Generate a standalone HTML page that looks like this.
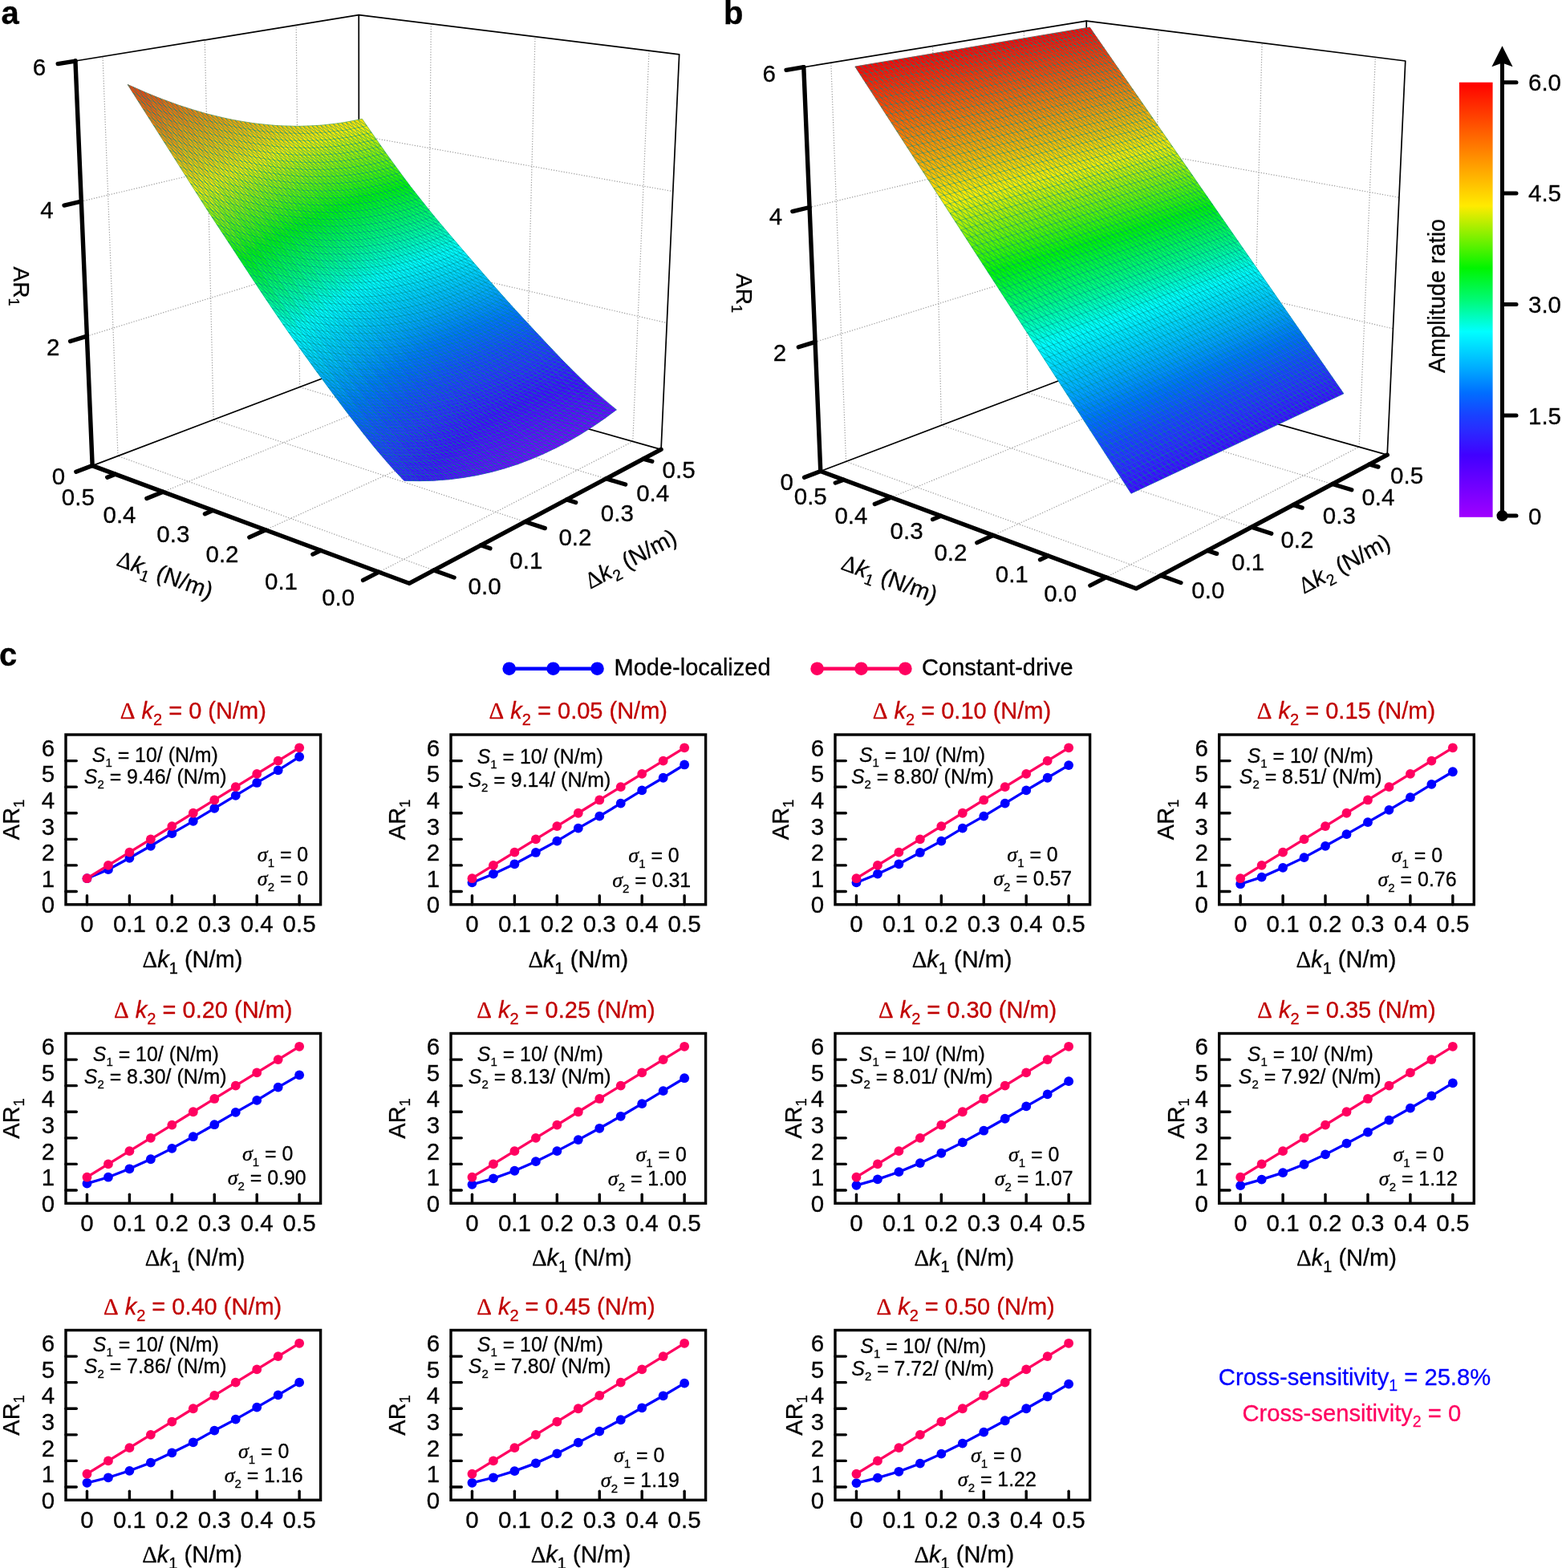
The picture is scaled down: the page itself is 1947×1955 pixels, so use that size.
<!DOCTYPE html>
<html lang="en"><head><meta charset="utf-8"><title>Figure</title>
<style>html,body{margin:0;padding:0;background:#fff}svg{display:block}text{fill:currentColor;stroke:currentColor;stroke-width:.3px}</style></head><body>
<svg width="1947" height="1955" viewBox="0 0 1947 1955" role="img" aria-label="Amplitude ratio surfaces and sensitivity plots">
<rect width="1947" height="1955" fill="#fff"/>
<g stroke="#a0a0a0" stroke-width="1.2" stroke-dasharray="1.3 1.9" fill="none">
<line x1="472.31" y1="713.26" x2="788.79" y2="550.43" />
<line x1="540.76" y1="710.95" x2="147" y2="568.52" />
<line x1="147" y1="568.52" x2="128.07" y2="70.48" />
<line x1="788.79" y1="550.43" x2="809.01" y2="63.26" />
<line x1="330.9" y1="660.73" x2="655.36" y2="512.92" />
<line x1="654.48" y1="650.49" x2="266.16" y2="523.32" />
<line x1="266.16" y1="523.32" x2="255.22" y2="49.84" />
<line x1="655.36" y1="512.92" x2="666.98" y2="45.76" />
<line x1="203.15" y1="613.28" x2="532.93" y2="478.51" />
<line x1="755.44" y1="596.81" x2="373.62" y2="482.55" />
<line x1="373.62" y1="482.55" x2="369.2" y2="31.34" />
<line x1="532.93" y1="478.51" x2="537.31" y2="29.77" />
<line x1="108.37" y1="419.15" x2="447.44" y2="314.22" />
<line x1="447.44" y1="314.22" x2="831.29" y2="402.61" />
<line x1="101.31" y1="251.09" x2="447.34" y2="169.02" />
<line x1="447.34" y1="169.02" x2="838.82" y2="238.59" />
</g>
<g stroke="#000" stroke-width="1.7" fill="none" stroke-linecap="round" stroke-linejoin="round">
<polyline points="93.96,76.02 447.23,18.67 846.66,67.9 824.04,560.34 447.54,454.51 115.16,580.6"/>
<line x1="447.23" y1="18.67" x2="447.54" y2="454.51" />
</g>
<g stroke-width="0.7" stroke-linejoin="round">
<polygon points="503.81,599.3 500.42,595.78 519.41,596.22 522.78,599.67" fill="#3a0dff" stroke="#3a0dff"/>
<polygon points="522.78,599.67 519.41,596.22 538,595.77 541.35,599.14" fill="#4101ff" stroke="#4101ff"/>
<polygon points="541.35,599.14 538,595.77 556.2,594.44 559.54,597.75" fill="#4b00ff" stroke="#4b00ff"/>
<polygon points="559.54,597.75 556.2,594.44 574.05,592.28 577.37,595.51" fill="#5300ff" stroke="#5300ff"/>
<polygon points="577.37,595.51 574.05,592.28 591.54,589.3 594.85,592.47" fill="#5b00ff" stroke="#5b00ff"/>
<polygon points="594.85,592.47 591.54,589.3 608.71,585.53 612,588.63" fill="#6200ff" stroke="#6200ff"/>
<polygon points="612,588.63 608.71,585.53 625.56,580.98 628.83,584.02" fill="#6700ff" stroke="#6700ff"/>
<polygon points="628.83,584.02 625.56,580.98 642.11,575.69 645.36,578.66" fill="#6c00ff" stroke="#6c00ff"/>
<polygon points="645.36,578.66 642.11,575.69 658.37,569.67 661.61,572.57" fill="#6f00ff" stroke="#6f00ff"/>
<polygon points="661.61,572.57 658.37,569.67 674.36,562.93 677.59,565.77" fill="#7100ff" stroke="#7100ff"/>
<polygon points="677.59,565.77 674.36,562.93 690.09,555.5 693.3,558.27" fill="#7200ff" stroke="#7200ff"/>
<polygon points="693.3,558.27 690.09,555.5 705.56,547.39 708.76,550.1" fill="#7200ff" stroke="#7200ff"/>
<polygon points="708.76,550.1 705.56,547.39 720.79,538.62 723.98,541.26" fill="#7000ff" stroke="#7000ff"/>
<polygon points="723.98,541.26 720.79,538.62 735.8,529.19 738.97,531.77" fill="#6e00ff" stroke="#6e00ff"/>
<polygon points="738.97,531.77 735.8,529.19 750.58,519.13 753.74,521.65" fill="#6a00ff" stroke="#6a00ff"/>
<polygon points="753.74,521.65 750.58,519.13 765.16,508.45 768.31,510.9" fill="#6500ff" stroke="#6500ff"/>
<polygon points="500.42,595.78 497.03,592.2 516.04,592.72 519.41,596.22" fill="#3810ff" stroke="#3810ff"/>
<polygon points="519.41,596.22 516.04,592.72 534.65,592.33 538,595.77" fill="#3f04ff" stroke="#3f04ff"/>
<polygon points="538,595.77 534.65,592.33 552.87,591.08 556.2,594.44" fill="#4800ff" stroke="#4800ff"/>
<polygon points="556.2,594.44 552.87,591.08 570.73,588.99 574.05,592.28" fill="#5100ff" stroke="#5100ff"/>
<polygon points="574.05,592.28 570.73,588.99 588.25,586.08 591.54,589.3" fill="#5800ff" stroke="#5800ff"/>
<polygon points="591.54,589.3 588.25,586.08 605.43,582.37 608.71,585.53" fill="#5f00ff" stroke="#5f00ff"/>
<polygon points="608.71,585.53 605.43,582.37 622.3,577.9 625.56,580.98" fill="#6500ff" stroke="#6500ff"/>
<polygon points="625.56,580.98 622.3,577.9 638.86,572.67 642.11,575.69" fill="#6900ff" stroke="#6900ff"/>
<polygon points="642.11,575.69 638.86,572.67 655.14,566.72 658.37,569.67" fill="#6c00ff" stroke="#6c00ff"/>
<polygon points="658.37,569.67 655.14,566.72 671.14,560.05 674.36,562.93" fill="#6e00ff" stroke="#6e00ff"/>
<polygon points="674.36,562.93 671.14,560.05 686.88,552.68 690.09,555.5" fill="#6f00ff" stroke="#6f00ff"/>
<polygon points="690.09,555.5 686.88,552.68 702.37,544.63 705.56,547.39" fill="#6f00ff" stroke="#6f00ff"/>
<polygon points="705.56,547.39 702.37,544.63 717.62,535.92 720.79,538.62" fill="#6e00ff" stroke="#6e00ff"/>
<polygon points="720.79,538.62 717.62,535.92 732.64,526.56 735.8,529.19" fill="#6b00ff" stroke="#6b00ff"/>
<polygon points="735.8,529.19 732.64,526.56 747.43,516.57 750.58,519.13" fill="#6800ff" stroke="#6800ff"/>
<polygon points="750.58,519.13 747.43,516.57 762.02,505.94 765.16,508.45" fill="#6300ff" stroke="#6300ff"/>
<polygon points="497.03,592.2 493.65,588.57 512.68,589.15 516.04,592.72" fill="#3614ff" stroke="#3614ff"/>
<polygon points="516.04,592.72 512.68,589.15 531.3,588.84 534.65,592.33" fill="#3d07ff" stroke="#3d07ff"/>
<polygon points="534.65,592.33 531.3,588.84 549.55,587.66 552.87,591.08" fill="#4500ff" stroke="#4500ff"/>
<polygon points="552.87,591.08 549.55,587.66 567.43,585.64 570.73,588.99" fill="#4e00ff" stroke="#4e00ff"/>
<polygon points="570.73,588.99 567.43,585.64 584.96,582.8 588.25,586.08" fill="#5500ff" stroke="#5500ff"/>
<polygon points="588.25,586.08 584.96,582.8 602.16,579.16 605.43,582.37" fill="#5c00ff" stroke="#5c00ff"/>
<polygon points="605.43,582.37 602.16,579.16 619.04,574.76 622.3,577.9" fill="#6200ff" stroke="#6200ff"/>
<polygon points="622.3,577.9 619.04,574.76 635.63,569.6 638.86,572.67" fill="#6600ff" stroke="#6600ff"/>
<polygon points="638.86,572.67 635.63,569.6 651.92,563.71 655.14,566.72" fill="#6900ff" stroke="#6900ff"/>
<polygon points="655.14,566.72 651.92,563.71 667.93,557.11 671.14,560.05" fill="#6c00ff" stroke="#6c00ff"/>
<polygon points="671.14,560.05 667.93,557.11 683.69,549.81 686.88,552.68" fill="#6d00ff" stroke="#6d00ff"/>
<polygon points="686.88,552.68 683.69,549.81 699.19,541.83 702.37,544.63" fill="#6c00ff" stroke="#6c00ff"/>
<polygon points="702.37,544.63 699.19,541.83 714.45,533.18 717.62,535.92" fill="#6b00ff" stroke="#6b00ff"/>
<polygon points="717.62,535.92 714.45,533.18 729.48,523.89 732.64,526.56" fill="#6900ff" stroke="#6900ff"/>
<polygon points="732.64,526.56 729.48,523.89 744.29,513.96 747.43,516.57" fill="#6500ff" stroke="#6500ff"/>
<polygon points="747.43,516.57 744.29,513.96 758.89,503.4 762.02,505.94" fill="#6000ff" stroke="#6000ff"/>
<polygon points="493.65,588.57 490.28,584.88 509.32,585.54 512.68,589.15" fill="#3417ff" stroke="#3417ff"/>
<polygon points="512.68,589.15 509.32,585.54 527.97,585.3 531.3,588.84" fill="#3b0bff" stroke="#3b0bff"/>
<polygon points="531.3,588.84 527.97,585.3 546.23,584.19 549.55,587.66" fill="#4100ff" stroke="#4100ff"/>
<polygon points="549.55,587.66 546.23,584.19 564.13,582.24 567.43,585.64" fill="#4a00ff" stroke="#4a00ff"/>
<polygon points="567.43,585.64 564.13,582.24 581.68,579.47 584.96,582.8" fill="#5200ff" stroke="#5200ff"/>
<polygon points="584.96,582.8 581.68,579.47 598.9,575.91 602.16,579.16" fill="#5900ff" stroke="#5900ff"/>
<polygon points="602.16,579.16 598.9,575.91 615.8,571.57 619.04,574.76" fill="#5f00ff" stroke="#5f00ff"/>
<polygon points="619.04,574.76 615.8,571.57 632.39,566.48 635.63,569.6" fill="#6300ff" stroke="#6300ff"/>
<polygon points="635.63,569.6 632.39,566.48 648.7,560.66 651.92,563.71" fill="#6700ff" stroke="#6700ff"/>
<polygon points="651.92,563.71 648.7,560.66 664.73,554.13 667.93,557.11" fill="#6900ff" stroke="#6900ff"/>
<polygon points="667.93,557.11 664.73,554.13 680.5,546.89 683.69,549.81" fill="#6a00ff" stroke="#6a00ff"/>
<polygon points="683.69,549.81 680.5,546.89 696.01,538.98 699.19,541.83" fill="#6a00ff" stroke="#6a00ff"/>
<polygon points="699.19,541.83 696.01,538.98 711.29,530.4 714.45,533.18" fill="#6800ff" stroke="#6800ff"/>
<polygon points="714.45,533.18 711.29,530.4 726.33,521.17 729.48,523.89" fill="#6600ff" stroke="#6600ff"/>
<polygon points="729.48,523.89 726.33,521.17 741.15,511.3 744.29,513.96" fill="#6300ff" stroke="#6300ff"/>
<polygon points="744.29,513.96 741.15,511.3 755.77,500.81 758.89,503.4" fill="#5e00ff" stroke="#5e00ff"/>
<polygon points="490.28,584.88 486.91,581.13 505.97,581.87 509.32,585.54" fill="#321bff" stroke="#321bff"/>
<polygon points="509.32,585.54 505.97,581.87 524.64,581.7 527.97,585.3" fill="#390eff" stroke="#390eff"/>
<polygon points="527.97,585.3 524.64,581.7 542.92,580.67 546.23,584.19" fill="#3f03ff" stroke="#3f03ff"/>
<polygon points="546.23,584.19 542.92,580.67 560.84,578.79 564.13,582.24" fill="#4700ff" stroke="#4700ff"/>
<polygon points="564.13,582.24 560.84,578.79 578.4,576.09 581.68,579.47" fill="#4f00ff" stroke="#4f00ff"/>
<polygon points="581.68,579.47 578.4,576.09 595.64,572.6 598.9,575.91" fill="#5600ff" stroke="#5600ff"/>
<polygon points="598.9,575.91 595.64,572.6 612.55,568.34 615.8,571.57" fill="#5c00ff" stroke="#5c00ff"/>
<polygon points="615.8,571.57 612.55,568.34 629.17,563.32 632.39,566.48" fill="#6000ff" stroke="#6000ff"/>
<polygon points="632.39,566.48 629.17,563.32 645.49,557.56 648.7,560.66" fill="#6400ff" stroke="#6400ff"/>
<polygon points="648.7,560.66 645.49,557.56 661.54,551.1 664.73,554.13" fill="#6600ff" stroke="#6600ff"/>
<polygon points="664.73,554.13 661.54,551.1 677.32,543.93 680.5,546.89" fill="#6700ff" stroke="#6700ff"/>
<polygon points="680.5,546.89 677.32,543.93 692.85,536.09 696.01,538.98" fill="#6700ff" stroke="#6700ff"/>
<polygon points="696.01,538.98 692.85,536.09 708.13,527.57 711.29,530.4" fill="#6600ff" stroke="#6600ff"/>
<polygon points="711.29,530.4 708.13,527.57 723.19,518.41 726.33,521.17" fill="#6300ff" stroke="#6300ff"/>
<polygon points="726.33,521.17 723.19,518.41 738.02,508.61 741.15,511.3" fill="#6000ff" stroke="#6000ff"/>
<polygon points="741.15,511.3 738.02,508.61 752.65,498.18 755.77,500.81" fill="#5b00ff" stroke="#5b00ff"/>
<polygon points="486.91,581.13 483.55,577.33 502.63,578.14 505.97,581.87" fill="#301fff" stroke="#301fff"/>
<polygon points="505.97,581.87 502.63,578.14 521.32,578.06 524.64,581.7" fill="#3712ff" stroke="#3712ff"/>
<polygon points="524.64,581.7 521.32,578.06 539.62,577.1 542.92,580.67" fill="#3d07ff" stroke="#3d07ff"/>
<polygon points="542.92,580.67 539.62,577.1 557.55,575.29 560.84,578.79" fill="#4400ff" stroke="#4400ff"/>
<polygon points="560.84,578.79 557.55,575.29 575.13,572.67 578.4,576.09" fill="#4c00ff" stroke="#4c00ff"/>
<polygon points="578.4,576.09 575.13,572.67 592.38,569.25 595.64,572.6" fill="#5300ff" stroke="#5300ff"/>
<polygon points="595.64,572.6 592.38,569.25 609.32,565.05 612.55,568.34" fill="#5900ff" stroke="#5900ff"/>
<polygon points="612.55,568.34 609.32,565.05 625.95,560.11 629.17,563.32" fill="#5d00ff" stroke="#5d00ff"/>
<polygon points="629.17,563.32 625.95,560.11 642.28,554.42 645.49,557.56" fill="#6100ff" stroke="#6100ff"/>
<polygon points="645.49,557.56 642.28,554.42 658.35,548.03 661.54,551.1" fill="#6300ff" stroke="#6300ff"/>
<polygon points="661.54,551.1 658.35,548.03 674.14,540.93 677.32,543.93" fill="#6400ff" stroke="#6400ff"/>
<polygon points="677.32,543.93 674.14,540.93 689.68,533.15 692.85,536.09" fill="#6400ff" stroke="#6400ff"/>
<polygon points="692.85,536.09 689.68,533.15 704.98,524.71 708.13,527.57" fill="#6300ff" stroke="#6300ff"/>
<polygon points="708.13,527.57 704.98,524.71 720.05,515.61 723.19,518.41" fill="#6100ff" stroke="#6100ff"/>
<polygon points="723.19,518.41 720.05,515.61 734.9,505.87 738.02,508.61" fill="#5d00ff" stroke="#5d00ff"/>
<polygon points="738.02,508.61 734.9,505.87 749.54,495.51 752.65,498.18" fill="#5900ff" stroke="#5900ff"/>
<polygon points="483.55,577.33 480.19,573.48 499.3,574.37 502.63,578.14" fill="#2e23ff" stroke="#2e23ff"/>
<polygon points="502.63,578.14 499.3,574.37 518,574.36 521.32,578.06" fill="#3516ff" stroke="#3516ff"/>
<polygon points="521.32,578.06 518,574.36 536.32,573.48 539.62,577.1" fill="#3b0aff" stroke="#3b0aff"/>
<polygon points="539.62,577.1 536.32,573.48 554.27,571.75 557.55,575.29" fill="#4100ff" stroke="#4100ff"/>
<polygon points="557.55,575.29 554.27,571.75 571.87,569.2 575.13,572.67" fill="#4900ff" stroke="#4900ff"/>
<polygon points="575.13,572.67 571.87,569.2 589.14,565.85 592.38,569.25" fill="#5000ff" stroke="#5000ff"/>
<polygon points="592.38,569.25 589.14,565.85 606.09,561.73 609.32,565.05" fill="#5500ff" stroke="#5500ff"/>
<polygon points="609.32,565.05 606.09,561.73 622.73,556.85 625.95,560.11" fill="#5a00ff" stroke="#5a00ff"/>
<polygon points="625.95,560.11 622.73,556.85 639.09,551.24 642.28,554.42" fill="#5e00ff" stroke="#5e00ff"/>
<polygon points="642.28,554.42 639.09,551.24 655.16,544.91 658.35,548.03" fill="#6000ff" stroke="#6000ff"/>
<polygon points="658.35,548.03 655.16,544.91 670.97,537.88 674.14,540.93" fill="#6100ff" stroke="#6100ff"/>
<polygon points="674.14,540.93 670.97,537.88 686.53,530.17 689.68,533.15" fill="#6100ff" stroke="#6100ff"/>
<polygon points="689.68,533.15 686.53,530.17 701.84,521.8 704.98,524.71" fill="#6000ff" stroke="#6000ff"/>
<polygon points="704.98,524.71 701.84,521.8 716.92,512.77 720.05,515.61" fill="#5e00ff" stroke="#5e00ff"/>
<polygon points="720.05,515.61 716.92,512.77 731.78,503.1 734.9,505.87" fill="#5a00ff" stroke="#5a00ff"/>
<polygon points="734.9,505.87 731.78,503.1 746.43,492.8 749.54,495.51" fill="#5600ff" stroke="#5600ff"/>
<polygon points="480.19,573.48 476.84,569.59 495.97,570.56 499.3,574.37" fill="#2c26ff" stroke="#2c26ff"/>
<polygon points="499.3,574.37 495.97,570.56 514.69,570.62 518,574.36" fill="#331aff" stroke="#331aff"/>
<polygon points="518,574.36 514.69,570.62 533.02,569.82 536.32,573.48" fill="#390eff" stroke="#390eff"/>
<polygon points="536.32,573.48 533.02,569.82 550.99,568.16 554.27,571.75" fill="#3f04ff" stroke="#3f04ff"/>
<polygon points="554.27,571.75 550.99,568.16 568.61,565.69 571.87,569.2" fill="#4500ff" stroke="#4500ff"/>
<polygon points="571.87,569.2 568.61,565.69 585.9,562.41 589.14,565.85" fill="#4c00ff" stroke="#4c00ff"/>
<polygon points="589.14,565.85 585.9,562.41 602.87,558.36 606.09,561.73" fill="#5200ff" stroke="#5200ff"/>
<polygon points="606.09,561.73 602.87,558.36 619.53,553.56 622.73,556.85" fill="#5700ff" stroke="#5700ff"/>
<polygon points="622.73,556.85 619.53,553.56 635.9,548.02 639.09,551.24" fill="#5a00ff" stroke="#5a00ff"/>
<polygon points="639.09,551.24 635.9,548.02 651.99,541.76 655.16,544.91" fill="#5d00ff" stroke="#5d00ff"/>
<polygon points="655.16,544.91 651.99,541.76 667.81,534.8 670.97,537.88" fill="#5e00ff" stroke="#5e00ff"/>
<polygon points="670.97,537.88 667.81,534.8 683.38,527.16 686.53,530.17" fill="#5e00ff" stroke="#5e00ff"/>
<polygon points="686.53,530.17 683.38,527.16 698.71,518.85 701.84,521.8" fill="#5d00ff" stroke="#5d00ff"/>
<polygon points="701.84,521.8 698.71,518.85 713.8,509.89 716.92,512.77" fill="#5b00ff" stroke="#5b00ff"/>
<polygon points="716.92,512.77 713.8,509.89 728.67,500.29 731.78,503.1" fill="#5800ff" stroke="#5800ff"/>
<polygon points="731.78,503.1 728.67,500.29 743.33,490.06 746.43,492.8" fill="#5300ff" stroke="#5300ff"/>
<polygon points="476.84,569.59 473.49,565.65 492.64,566.7 495.97,570.56" fill="#292aff" stroke="#292aff"/>
<polygon points="495.97,570.56 492.64,566.7 511.38,566.84 514.69,570.62" fill="#311eff" stroke="#311eff"/>
<polygon points="514.69,570.62 511.38,566.84 529.74,566.11 533.02,569.82" fill="#3712ff" stroke="#3712ff"/>
<polygon points="533.02,569.82 529.74,566.11 547.73,564.53 550.99,568.16" fill="#3d08ff" stroke="#3d08ff"/>
<polygon points="550.99,568.16 547.73,564.53 565.36,562.13 568.61,565.69" fill="#4200ff" stroke="#4200ff"/>
<polygon points="568.61,565.69 565.36,562.13 582.67,558.93 585.9,562.41" fill="#4900ff" stroke="#4900ff"/>
<polygon points="585.9,562.41 582.67,558.93 599.65,554.95 602.87,558.36" fill="#4f00ff" stroke="#4f00ff"/>
<polygon points="602.87,558.36 599.65,554.95 616.32,550.22 619.53,553.56" fill="#5400ff" stroke="#5400ff"/>
<polygon points="619.53,553.56 616.32,550.22 632.71,544.75 635.9,548.02" fill="#5700ff" stroke="#5700ff"/>
<polygon points="635.9,548.02 632.71,544.75 648.82,538.57 651.99,541.76" fill="#5a00ff" stroke="#5a00ff"/>
<polygon points="651.99,541.76 648.82,538.57 664.65,531.68 667.81,534.8" fill="#5b00ff" stroke="#5b00ff"/>
<polygon points="667.81,534.8 664.65,531.68 680.24,524.11 683.38,527.16" fill="#5b00ff" stroke="#5b00ff"/>
<polygon points="683.38,527.16 680.24,524.11 695.58,515.87 698.71,518.85" fill="#5a00ff" stroke="#5a00ff"/>
<polygon points="698.71,518.85 695.58,515.87 710.69,506.97 713.8,509.89" fill="#5800ff" stroke="#5800ff"/>
<polygon points="713.8,509.89 710.69,506.97 725.57,497.44 728.67,500.29" fill="#5500ff" stroke="#5500ff"/>
<polygon points="728.67,500.29 725.57,497.44 740.24,487.28 743.33,490.06" fill="#5000ff" stroke="#5000ff"/>
<polygon points="473.49,565.65 470.16,561.67 489.32,562.8 492.64,566.7" fill="#272eff" stroke="#272eff"/>
<polygon points="492.64,566.7 489.32,562.8 508.08,563.02 511.38,566.84" fill="#2e22ff" stroke="#2e22ff"/>
<polygon points="511.38,566.84 508.08,563.02 526.46,562.37 529.74,566.11" fill="#3516ff" stroke="#3516ff"/>
<polygon points="529.74,566.11 526.46,562.37 544.46,560.86 547.73,564.53" fill="#3b0cff" stroke="#3b0cff"/>
<polygon points="547.73,564.53 544.46,560.86 562.12,558.54 565.36,562.13" fill="#4003ff" stroke="#4003ff"/>
<polygon points="565.36,562.13 562.12,558.54 579.44,555.41 582.67,558.93" fill="#4600ff" stroke="#4600ff"/>
<polygon points="582.67,558.93 579.44,555.41 596.44,551.51 599.65,554.95" fill="#4c00ff" stroke="#4c00ff"/>
<polygon points="599.65,554.95 596.44,551.51 613.13,546.85 616.32,550.22" fill="#5000ff" stroke="#5000ff"/>
<polygon points="616.32,550.22 613.13,546.85 629.53,541.45 632.71,544.75" fill="#5400ff" stroke="#5400ff"/>
<polygon points="632.71,544.75 629.53,541.45 645.65,535.34 648.82,538.57" fill="#5600ff" stroke="#5600ff"/>
<polygon points="648.82,538.57 645.65,535.34 661.5,528.52 664.65,531.68" fill="#5800ff" stroke="#5800ff"/>
<polygon points="664.65,531.68 661.5,528.52 677.1,521.02 680.24,524.11" fill="#5800ff" stroke="#5800ff"/>
<polygon points="680.24,524.11 677.1,521.02 692.46,512.85 695.58,515.87" fill="#5700ff" stroke="#5700ff"/>
<polygon points="695.58,515.87 692.46,512.85 707.58,504.02 710.69,506.97" fill="#5500ff" stroke="#5500ff"/>
<polygon points="710.69,506.97 707.58,504.02 722.47,494.56 725.57,497.44" fill="#5200ff" stroke="#5200ff"/>
<polygon points="725.57,497.44 722.47,494.56 737.16,484.46 740.24,487.28" fill="#4d00ff" stroke="#4d00ff"/>
<polygon points="470.16,561.67 466.82,557.65 486.01,558.85 489.32,562.8" fill="#2432ff" stroke="#2432ff"/>
<polygon points="489.32,562.8 486.01,558.85 504.79,559.16 508.08,563.02" fill="#2c26ff" stroke="#2c26ff"/>
<polygon points="508.08,563.02 504.79,559.16 523.18,558.58 526.46,562.37" fill="#331aff" stroke="#331aff"/>
<polygon points="526.46,562.37 523.18,558.58 541.21,557.16 544.46,560.86" fill="#3810ff" stroke="#3810ff"/>
<polygon points="544.46,560.86 541.21,557.16 558.88,554.91 562.12,558.54" fill="#3d07ff" stroke="#3d07ff"/>
<polygon points="562.12,558.54 558.88,554.91 576.22,551.86 579.44,555.41" fill="#4200ff" stroke="#4200ff"/>
<polygon points="579.44,555.41 576.22,551.86 593.23,548.03 596.44,551.51" fill="#4800ff" stroke="#4800ff"/>
<polygon points="596.44,551.51 593.23,548.03 609.94,543.44 613.13,546.85" fill="#4d00ff" stroke="#4d00ff"/>
<polygon points="613.13,546.85 609.94,543.44 626.36,538.12 629.53,541.45" fill="#5100ff" stroke="#5100ff"/>
<polygon points="629.53,541.45 626.36,538.12 642.49,532.07 645.65,535.34" fill="#5300ff" stroke="#5300ff"/>
<polygon points="645.65,535.34 642.49,532.07 658.36,525.33 661.5,528.52" fill="#5500ff" stroke="#5500ff"/>
<polygon points="661.5,528.52 658.36,525.33 673.97,517.9 677.1,521.02" fill="#5500ff" stroke="#5500ff"/>
<polygon points="677.1,521.02 673.97,517.9 689.34,509.8 692.46,512.85" fill="#5400ff" stroke="#5400ff"/>
<polygon points="692.46,512.85 689.34,509.8 704.47,501.04 707.58,504.02" fill="#5200ff" stroke="#5200ff"/>
<polygon points="707.58,504.02 704.47,501.04 719.38,491.64 722.47,494.56" fill="#4f00ff" stroke="#4f00ff"/>
<polygon points="722.47,494.56 719.38,491.64 734.08,481.61 737.16,484.46" fill="#4a00ff" stroke="#4a00ff"/>
<polygon points="466.82,557.65 463.49,553.59 482.7,554.87 486.01,558.85" fill="#2235ff" stroke="#2235ff"/>
<polygon points="486.01,558.85 482.7,554.87 501.5,555.26 504.79,559.16" fill="#2a2aff" stroke="#2a2aff"/>
<polygon points="504.79,559.16 501.5,555.26 519.91,554.76 523.18,558.58" fill="#301eff" stroke="#301eff"/>
<polygon points="523.18,558.58 519.91,554.76 537.96,553.41 541.21,557.16" fill="#3614ff" stroke="#3614ff"/>
<polygon points="541.21,557.16 537.96,553.41 555.65,551.24 558.88,554.91" fill="#3b0aff" stroke="#3b0aff"/>
<polygon points="558.88,554.91 555.65,551.24 573,548.27 576.22,551.86" fill="#4003ff" stroke="#4003ff"/>
<polygon points="576.22,551.86 573,548.27 590.03,544.51 593.23,548.03" fill="#4500ff" stroke="#4500ff"/>
<polygon points="593.23,548.03 590.03,544.51 606.76,540 609.94,543.44" fill="#4a00ff" stroke="#4a00ff"/>
<polygon points="609.94,543.44 606.76,540 623.19,534.75 626.36,538.12" fill="#4d00ff" stroke="#4d00ff"/>
<polygon points="626.36,538.12 623.19,534.75 639.34,528.78 642.49,532.07" fill="#5000ff" stroke="#5000ff"/>
<polygon points="642.49,532.07 639.34,528.78 655.22,522.1 658.36,525.33" fill="#5100ff" stroke="#5100ff"/>
<polygon points="658.36,525.33 655.22,522.1 670.85,514.74 673.97,517.9" fill="#5200ff" stroke="#5200ff"/>
<polygon points="673.97,517.9 670.85,514.74 686.23,506.71 689.34,509.8" fill="#5100ff" stroke="#5100ff"/>
<polygon points="689.34,509.8 686.23,506.71 701.37,498.02 704.47,501.04" fill="#4f00ff" stroke="#4f00ff"/>
<polygon points="704.47,501.04 701.37,498.02 716.3,488.7 719.38,491.64" fill="#4c00ff" stroke="#4c00ff"/>
<polygon points="719.38,491.64 716.3,488.7 731,478.74 734.08,481.61" fill="#4700ff" stroke="#4700ff"/>
<polygon points="463.49,553.59 460.17,549.49 479.4,550.86 482.7,554.87" fill="#1f39ff" stroke="#1f39ff"/>
<polygon points="482.7,554.87 479.4,550.86 498.22,551.32 501.5,555.26" fill="#272eff" stroke="#272eff"/>
<polygon points="501.5,555.26 498.22,551.32 516.65,550.91 519.91,554.76" fill="#2e22ff" stroke="#2e22ff"/>
<polygon points="519.91,554.76 516.65,550.91 534.71,549.64 537.96,553.41" fill="#3418ff" stroke="#3418ff"/>
<polygon points="537.96,553.41 534.71,549.64 552.42,547.54 555.65,551.24" fill="#390eff" stroke="#390eff"/>
<polygon points="555.65,551.24 552.42,547.54 569.79,544.64 573,548.27" fill="#3d06ff" stroke="#3d06ff"/>
<polygon points="573,548.27 569.79,544.64 586.84,540.96 590.03,544.51" fill="#4100ff" stroke="#4100ff"/>
<polygon points="590.03,544.51 586.84,540.96 603.58,536.52 606.76,540" fill="#4600ff" stroke="#4600ff"/>
<polygon points="606.76,540 603.58,536.52 620.03,531.35 623.19,534.75" fill="#4a00ff" stroke="#4a00ff"/>
<polygon points="623.19,534.75 620.03,531.35 636.19,525.45 639.34,528.78" fill="#4d00ff" stroke="#4d00ff"/>
<polygon points="639.34,528.78 636.19,525.45 652.09,518.85 655.22,522.1" fill="#4e00ff" stroke="#4e00ff"/>
<polygon points="655.22,522.1 652.09,518.85 667.73,511.56 670.85,514.74" fill="#4e00ff" stroke="#4e00ff"/>
<polygon points="670.85,514.74 667.73,511.56 683.12,503.6 686.23,506.71" fill="#4e00ff" stroke="#4e00ff"/>
<polygon points="686.23,506.71 683.12,503.6 698.28,494.98 701.37,498.02" fill="#4c00ff" stroke="#4c00ff"/>
<polygon points="701.37,498.02 698.28,494.98 713.22,485.72 716.3,488.7" fill="#4900ff" stroke="#4900ff"/>
<polygon points="716.3,488.7 713.22,485.72 727.93,475.83 731,478.74" fill="#4400ff" stroke="#4400ff"/>
<polygon points="460.17,549.49 456.86,545.36 476.1,546.81 479.4,550.86" fill="#1c3dff" stroke="#1c3dff"/>
<polygon points="479.4,550.86 476.1,546.81 494.94,547.36 498.22,551.32" fill="#2531ff" stroke="#2531ff"/>
<polygon points="498.22,551.32 494.94,547.36 513.39,547.02 516.65,550.91" fill="#2c26ff" stroke="#2c26ff"/>
<polygon points="516.65,550.91 513.39,547.02 531.47,545.83 534.71,549.64" fill="#321cff" stroke="#321cff"/>
<polygon points="534.71,549.64 531.47,545.83 549.2,543.81 552.42,547.54" fill="#3713ff" stroke="#3713ff"/>
<polygon points="552.42,547.54 549.2,543.81 566.59,540.99 569.79,544.64" fill="#3b0aff" stroke="#3b0aff"/>
<polygon points="569.79,544.64 566.59,540.99 583.65,537.38 586.84,540.96" fill="#3f04ff" stroke="#3f04ff"/>
<polygon points="586.84,540.96 583.65,537.38 600.41,533.02 603.58,536.52" fill="#4300ff" stroke="#4300ff"/>
<polygon points="603.58,536.52 600.41,533.02 616.87,527.92 620.03,531.35" fill="#4600ff" stroke="#4600ff"/>
<polygon points="620.03,531.35 616.87,527.92 633.05,522.09 636.19,525.45" fill="#4900ff" stroke="#4900ff"/>
<polygon points="636.19,525.45 633.05,522.09 648.96,515.56 652.09,518.85" fill="#4b00ff" stroke="#4b00ff"/>
<polygon points="652.09,518.85 648.96,515.56 664.62,508.34 667.73,511.56" fill="#4b00ff" stroke="#4b00ff"/>
<polygon points="667.73,511.56 664.62,508.34 680.02,500.45 683.12,503.6" fill="#4a00ff" stroke="#4a00ff"/>
<polygon points="683.12,503.6 680.02,500.45 695.2,491.91 698.28,494.98" fill="#4800ff" stroke="#4800ff"/>
<polygon points="698.28,494.98 695.2,491.91 710.14,482.72 713.22,485.72" fill="#4500ff" stroke="#4500ff"/>
<polygon points="713.22,485.72 710.14,482.72 724.87,472.9 727.93,475.83" fill="#4100ff" stroke="#4100ff"/>
<polygon points="456.86,545.36 453.54,541.2 472.81,542.74 476.1,546.81" fill="#1940ff" stroke="#1940ff"/>
<polygon points="476.1,546.81 472.81,542.74 491.67,543.36 494.94,547.36" fill="#2235ff" stroke="#2235ff"/>
<polygon points="494.94,547.36 491.67,543.36 510.14,543.1 513.39,547.02" fill="#292bff" stroke="#292bff"/>
<polygon points="513.39,547.02 510.14,543.1 528.24,541.99 531.47,545.83" fill="#2f20ff" stroke="#2f20ff"/>
<polygon points="531.47,545.83 528.24,541.99 545.98,540.05 549.2,543.81" fill="#3417ff" stroke="#3417ff"/>
<polygon points="549.2,543.81 545.98,540.05 563.39,537.3 566.59,540.99" fill="#390fff" stroke="#390fff"/>
<polygon points="566.59,540.99 563.39,537.3 580.47,533.78 583.65,537.38" fill="#3d08ff" stroke="#3d08ff"/>
<polygon points="583.65,537.38 580.47,533.78 597.24,529.49 600.41,533.02" fill="#4002ff" stroke="#4002ff"/>
<polygon points="600.41,533.02 597.24,529.49 613.72,524.46 616.87,527.92" fill="#4300ff" stroke="#4300ff"/>
<polygon points="616.87,527.92 613.72,524.46 629.92,518.7 633.05,522.09" fill="#4600ff" stroke="#4600ff"/>
<polygon points="633.05,522.09 629.92,518.7 645.84,512.25 648.96,515.56" fill="#4700ff" stroke="#4700ff"/>
<polygon points="648.96,515.56 645.84,512.25 661.51,505.1 664.62,508.34" fill="#4800ff" stroke="#4800ff"/>
<polygon points="664.62,508.34 661.51,505.1 676.93,497.28 680.02,500.45" fill="#4700ff" stroke="#4700ff"/>
<polygon points="680.02,500.45 676.93,497.28 692.12,488.81 695.2,491.91" fill="#4500ff" stroke="#4500ff"/>
<polygon points="695.2,491.91 692.12,488.81 707.07,479.69 710.14,482.72" fill="#4200ff" stroke="#4200ff"/>
<polygon points="710.14,482.72 707.07,479.69 721.82,469.93 724.87,472.9" fill="#3f03ff" stroke="#3f03ff"/>
<polygon points="453.54,541.2 450.24,537.01 469.53,538.63 472.81,542.74" fill="#1745ff" stroke="#1745ff"/>
<polygon points="472.81,542.74 469.53,538.63 488.41,539.34 491.67,543.36" fill="#1f39ff" stroke="#1f39ff"/>
<polygon points="491.67,543.36 488.41,539.34 506.89,539.16 510.14,543.1" fill="#272fff" stroke="#272fff"/>
<polygon points="510.14,543.1 506.89,539.16 525.01,538.12 528.24,541.99" fill="#2d24ff" stroke="#2d24ff"/>
<polygon points="528.24,541.99 525.01,538.12 542.77,536.26 545.98,540.05" fill="#321bff" stroke="#321bff"/>
<polygon points="545.98,540.05 542.77,536.26 560.19,533.59 563.39,537.3" fill="#3713ff" stroke="#3713ff"/>
<polygon points="563.39,537.3 560.19,533.59 577.29,530.14 580.47,533.78" fill="#3a0cff" stroke="#3a0cff"/>
<polygon points="580.47,533.78 577.29,530.14 594.08,525.93 597.24,529.49" fill="#3e06ff" stroke="#3e06ff"/>
<polygon points="597.24,529.49 594.08,525.93 610.58,520.97 613.72,524.46" fill="#4002ff" stroke="#4002ff"/>
<polygon points="613.72,524.46 610.58,520.97 626.79,515.29 629.92,518.7" fill="#4200ff" stroke="#4200ff"/>
<polygon points="629.92,518.7 626.79,515.29 642.73,508.91 645.84,512.25" fill="#4400ff" stroke="#4400ff"/>
<polygon points="645.84,512.25 642.73,508.91 658.41,501.83 661.51,505.1" fill="#4400ff" stroke="#4400ff"/>
<polygon points="661.51,505.1 658.41,501.83 673.84,494.09 676.93,497.28" fill="#4400ff" stroke="#4400ff"/>
<polygon points="676.93,497.28 673.84,494.09 689.04,485.68 692.12,488.81" fill="#4200ff" stroke="#4200ff"/>
<polygon points="692.12,488.81 689.04,485.68 704.01,476.63 707.07,479.69" fill="#4002ff" stroke="#4002ff"/>
<polygon points="707.07,479.69 704.01,476.63 718.77,466.95 721.82,469.93" fill="#3d07ff" stroke="#3d07ff"/>
<polygon points="450.24,537.01 446.94,532.8 466.25,534.5 469.53,538.63" fill="#144bff" stroke="#144bff"/>
<polygon points="469.53,538.63 466.25,534.5 485.14,535.28 488.41,539.34" fill="#1c3dff" stroke="#1c3dff"/>
<polygon points="488.41,539.34 485.14,535.28 503.65,535.19 506.89,539.16" fill="#2432ff" stroke="#2432ff"/>
<polygon points="506.89,539.16 503.65,535.19 521.79,534.23 525.01,538.12" fill="#2b28ff" stroke="#2b28ff"/>
<polygon points="525.01,538.12 521.79,534.23 539.57,532.45 542.77,536.26" fill="#301fff" stroke="#301fff"/>
<polygon points="542.77,536.26 539.57,532.45 557.01,529.86 560.19,533.59" fill="#3417ff" stroke="#3417ff"/>
<polygon points="560.19,533.59 557.01,529.86 574.12,526.48 577.29,530.14" fill="#3810ff" stroke="#3810ff"/>
<polygon points="577.29,530.14 574.12,526.48 590.93,522.34 594.08,525.93" fill="#3b0aff" stroke="#3b0aff"/>
<polygon points="594.08,525.93 590.93,522.34 607.44,517.46 610.58,520.97" fill="#3e06ff" stroke="#3e06ff"/>
<polygon points="610.58,520.97 607.44,517.46 623.66,511.86 626.79,515.29" fill="#4003ff" stroke="#4003ff"/>
<polygon points="626.79,515.29 623.66,511.86 639.62,505.54 642.73,508.91" fill="#4101ff" stroke="#4101ff"/>
<polygon points="642.73,508.91 639.62,505.54 655.31,498.54 658.41,501.83" fill="#4100ff" stroke="#4100ff"/>
<polygon points="658.41,501.83 655.31,498.54 670.76,490.87 673.84,494.09" fill="#4101ff" stroke="#4101ff"/>
<polygon points="673.84,494.09 670.76,490.87 685.97,482.53 689.04,485.68" fill="#4003ff" stroke="#4003ff"/>
<polygon points="689.04,485.68 685.97,482.53 700.95,473.55 704.01,476.63" fill="#3e06ff" stroke="#3e06ff"/>
<polygon points="704.01,476.63 700.95,473.55 715.72,463.93 718.77,466.95" fill="#3b0aff" stroke="#3b0aff"/>
<polygon points="446.94,532.8 443.64,528.56 462.97,530.34 466.25,534.5" fill="#1150ff" stroke="#1150ff"/>
<polygon points="466.25,534.5 462.97,530.34 481.89,531.21 485.14,535.28" fill="#1940ff" stroke="#1940ff"/>
<polygon points="485.14,535.28 481.89,531.21 500.42,531.19 503.65,535.19" fill="#2136ff" stroke="#2136ff"/>
<polygon points="503.65,535.19 500.42,531.19 518.57,530.32 521.79,534.23" fill="#282dff" stroke="#282dff"/>
<polygon points="521.79,534.23 518.57,530.32 536.37,528.61 539.57,532.45" fill="#2d23ff" stroke="#2d23ff"/>
<polygon points="539.57,532.45 536.37,528.61 553.82,526.1 557.01,529.86" fill="#321bff" stroke="#321bff"/>
<polygon points="557.01,529.86 553.82,526.1 570.96,522.8 574.12,526.48" fill="#3614ff" stroke="#3614ff"/>
<polygon points="574.12,526.48 570.96,522.8 587.78,518.74 590.93,522.34" fill="#390eff" stroke="#390eff"/>
<polygon points="590.93,522.34 587.78,518.74 604.3,513.93 607.44,517.46" fill="#3c0aff" stroke="#3c0aff"/>
<polygon points="607.44,517.46 604.3,513.93 620.54,508.4 623.66,511.86" fill="#3d07ff" stroke="#3d07ff"/>
<polygon points="623.66,511.86 620.54,508.4 636.51,502.16 639.62,505.54" fill="#3e05ff" stroke="#3e05ff"/>
<polygon points="639.62,505.54 636.51,502.16 652.22,495.23 655.31,498.54" fill="#3f04ff" stroke="#3f04ff"/>
<polygon points="655.31,498.54 652.22,495.23 667.68,487.62 670.76,490.87" fill="#3e05ff" stroke="#3e05ff"/>
<polygon points="670.76,490.87 667.68,487.62 682.91,479.36 685.97,482.53" fill="#3d06ff" stroke="#3d06ff"/>
<polygon points="685.97,482.53 682.91,479.36 697.9,470.45 700.95,473.55" fill="#3c09ff" stroke="#3c09ff"/>
<polygon points="700.95,473.55 697.9,470.45 712.68,460.9 715.72,463.93" fill="#390eff" stroke="#390eff"/>
<polygon points="443.64,528.56 440.35,524.3 459.7,526.16 462.97,530.34" fill="#0e55ff" stroke="#0e55ff"/>
<polygon points="462.97,530.34 459.7,526.16 478.64,527.11 481.89,531.21" fill="#1745ff" stroke="#1745ff"/>
<polygon points="481.89,531.21 478.64,527.11 497.19,527.18 500.42,531.19" fill="#1e3aff" stroke="#1e3aff"/>
<polygon points="500.42,531.19 497.19,527.18 515.36,526.38 518.57,530.32" fill="#2531ff" stroke="#2531ff"/>
<polygon points="518.57,530.32 515.36,526.38 533.17,524.75 536.37,528.61" fill="#2b28ff" stroke="#2b28ff"/>
<polygon points="536.37,528.61 533.17,524.75 550.65,522.32 553.82,526.1" fill="#301fff" stroke="#301fff"/>
<polygon points="553.82,526.1 550.65,522.32 567.8,519.09 570.96,522.8" fill="#3418ff" stroke="#3418ff"/>
<polygon points="570.96,522.8 567.8,519.09 584.63,515.11 587.78,518.74" fill="#3712ff" stroke="#3712ff"/>
<polygon points="587.78,518.74 584.63,515.11 601.17,510.37 604.3,513.93" fill="#390eff" stroke="#390eff"/>
<polygon points="604.3,513.93 601.17,510.37 617.43,504.92 620.54,508.4" fill="#3b0bff" stroke="#3b0bff"/>
<polygon points="620.54,508.4 617.43,504.92 633.41,498.75 636.51,502.16" fill="#3c09ff" stroke="#3c09ff"/>
<polygon points="636.51,502.16 633.41,498.75 649.14,491.89 652.22,495.23" fill="#3d08ff" stroke="#3d08ff"/>
<polygon points="652.22,495.23 649.14,491.89 664.61,484.36 667.68,487.62" fill="#3c08ff" stroke="#3c08ff"/>
<polygon points="667.68,487.62 664.61,484.36 679.85,476.16 682.91,479.36" fill="#3b0aff" stroke="#3b0aff"/>
<polygon points="682.91,479.36 679.85,476.16 694.86,467.32 697.9,470.45" fill="#3a0dff" stroke="#3a0dff"/>
<polygon points="697.9,470.45 694.86,467.32 709.65,457.85 712.68,460.9" fill="#3711ff" stroke="#3711ff"/>
<polygon points="440.35,524.3 437.07,520.02 456.44,521.97 459.7,526.16" fill="#0b5bff" stroke="#0b5bff"/>
<polygon points="459.7,526.16 456.44,521.97 475.39,523 478.64,527.11" fill="#144bff" stroke="#144bff"/>
<polygon points="478.64,527.11 475.39,523 493.96,523.14 497.19,527.18" fill="#1b3eff" stroke="#1b3eff"/>
<polygon points="497.19,527.18 493.96,523.14 512.15,522.43 515.36,526.38" fill="#2234ff" stroke="#2234ff"/>
<polygon points="515.36,526.38 512.15,522.43 529.98,520.88 533.17,524.75" fill="#292cff" stroke="#292cff"/>
<polygon points="533.17,524.75 529.98,520.88 547.47,518.52 550.65,522.32" fill="#2d24ff" stroke="#2d24ff"/>
<polygon points="550.65,522.32 547.47,518.52 564.64,515.37 567.8,519.09" fill="#311cff" stroke="#311cff"/>
<polygon points="567.8,519.09 564.64,515.37 581.49,511.46 584.63,515.11" fill="#3417ff" stroke="#3417ff"/>
<polygon points="584.63,515.11 581.49,511.46 598.05,506.8 601.17,510.37" fill="#3712ff" stroke="#3712ff"/>
<polygon points="601.17,510.37 598.05,506.8 614.32,501.41 617.43,504.92" fill="#390fff" stroke="#390fff"/>
<polygon points="617.43,504.92 614.32,501.41 630.32,495.32 633.41,498.75" fill="#3a0dff" stroke="#3a0dff"/>
<polygon points="633.41,498.75 630.32,495.32 646.06,488.54 649.14,491.89" fill="#3a0cff" stroke="#3a0cff"/>
<polygon points="649.14,491.89 646.06,488.54 661.55,481.07 664.61,484.36" fill="#3a0cff" stroke="#3a0cff"/>
<polygon points="664.61,484.36 661.55,481.07 676.8,472.95 679.85,476.16" fill="#390eff" stroke="#390eff"/>
<polygon points="679.85,476.16 676.8,472.95 691.82,464.18 694.86,467.32" fill="#3811ff" stroke="#3811ff"/>
<polygon points="694.86,467.32 691.82,464.18 706.62,454.77 709.65,457.85" fill="#3515ff" stroke="#3515ff"/>
<polygon points="437.07,520.02 433.79,515.72 453.18,517.75 456.44,521.97" fill="#0860ff" stroke="#0860ff"/>
<polygon points="456.44,521.97 453.18,517.75 472.15,518.87 475.39,523" fill="#1150ff" stroke="#1150ff"/>
<polygon points="475.39,523 472.15,518.87 490.74,519.09 493.96,523.14" fill="#1942ff" stroke="#1942ff"/>
<polygon points="493.96,523.14 490.74,519.09 508.95,518.45 512.15,522.43" fill="#2038ff" stroke="#2038ff"/>
<polygon points="512.15,522.43 508.95,518.45 526.8,516.98 529.98,520.88" fill="#2630ff" stroke="#2630ff"/>
<polygon points="529.98,520.88 526.8,516.98 544.31,514.7 547.47,518.52" fill="#2b28ff" stroke="#2b28ff"/>
<polygon points="547.47,518.52 544.31,514.7 561.49,511.63 564.64,515.37" fill="#2f21ff" stroke="#2f21ff"/>
<polygon points="564.64,515.37 561.49,511.63 578.36,507.79 581.49,511.46" fill="#321bff" stroke="#321bff"/>
<polygon points="581.49,511.46 578.36,507.79 594.93,503.21 598.05,506.8" fill="#3516ff" stroke="#3516ff"/>
<polygon points="598.05,506.8 594.93,503.21 611.22,497.9 614.32,501.41" fill="#3713ff" stroke="#3713ff"/>
<polygon points="614.32,501.41 611.22,497.9 627.23,491.88 630.32,495.32" fill="#3811ff" stroke="#3811ff"/>
<polygon points="630.32,495.32 627.23,491.88 642.98,485.16 646.06,488.54" fill="#3810ff" stroke="#3810ff"/>
<polygon points="646.06,488.54 642.98,485.16 658.48,477.77 661.55,481.07" fill="#3810ff" stroke="#3810ff"/>
<polygon points="661.55,481.07 658.48,477.77 673.75,469.72 676.8,472.95" fill="#3712ff" stroke="#3712ff"/>
<polygon points="676.8,472.95 673.75,469.72 688.78,461.02 691.82,464.18" fill="#3515ff" stroke="#3515ff"/>
<polygon points="691.82,464.18 688.78,461.02 703.6,451.68 706.62,454.77" fill="#3319ff" stroke="#3319ff"/>
<polygon points="433.79,515.72 430.51,511.41 449.92,513.52 453.18,517.75" fill="#0565ff" stroke="#0565ff"/>
<polygon points="453.18,517.75 449.92,513.52 468.92,514.72 472.15,518.87" fill="#0e55ff" stroke="#0e55ff"/>
<polygon points="472.15,518.87 468.92,514.72 487.52,515.02 490.74,519.09" fill="#1647ff" stroke="#1647ff"/>
<polygon points="490.74,519.09 487.52,515.02 505.75,514.46 508.95,518.45" fill="#1d3cff" stroke="#1d3cff"/>
<polygon points="508.95,518.45 505.75,514.46 523.62,513.07 526.8,516.98" fill="#2334ff" stroke="#2334ff"/>
<polygon points="526.8,516.98 523.62,513.07 541.15,510.87 544.31,514.7" fill="#282cff" stroke="#282cff"/>
<polygon points="544.31,514.7 541.15,510.87 558.34,507.87 561.49,511.63" fill="#2c25ff" stroke="#2c25ff"/>
<polygon points="561.49,511.63 558.34,507.87 575.23,504.11 578.36,507.79" fill="#301fff" stroke="#301fff"/>
<polygon points="578.36,507.79 575.23,504.11 591.82,499.6 594.93,503.21" fill="#321aff" stroke="#321aff"/>
<polygon points="594.93,503.21 591.82,499.6 608.12,494.36 611.22,497.9" fill="#3417ff" stroke="#3417ff"/>
<polygon points="611.22,497.9 608.12,494.36 624.15,488.41 627.23,491.88" fill="#3515ff" stroke="#3515ff"/>
<polygon points="627.23,491.88 624.15,488.41 639.91,481.77 642.98,485.16" fill="#3614ff" stroke="#3614ff"/>
<polygon points="642.98,485.16 639.91,481.77 655.43,474.45 658.48,477.77" fill="#3614ff" stroke="#3614ff"/>
<polygon points="658.48,477.77 655.43,474.45 670.7,466.47 673.75,469.72" fill="#3516ff" stroke="#3516ff"/>
<polygon points="673.75,469.72 670.7,466.47 685.75,457.84 688.78,461.02" fill="#3319ff" stroke="#3319ff"/>
<polygon points="688.78,461.02 685.75,457.84 700.58,448.57 703.6,451.68" fill="#311dff" stroke="#311dff"/>
<polygon points="430.51,511.41 427.24,507.08 446.67,509.28 449.92,513.52" fill="#026bff" stroke="#026bff"/>
<polygon points="449.92,513.52 446.67,509.28 465.69,510.56 468.92,514.72" fill="#0b5bff" stroke="#0b5bff"/>
<polygon points="468.92,514.72 465.69,510.56 484.31,510.94 487.52,515.02" fill="#134cff" stroke="#134cff"/>
<polygon points="487.52,515.02 484.31,510.94 502.56,510.46 505.75,514.46" fill="#1a40ff" stroke="#1a40ff"/>
<polygon points="505.75,514.46 502.56,510.46 520.45,509.15 523.62,513.07" fill="#2037ff" stroke="#2037ff"/>
<polygon points="523.62,513.07 520.45,509.15 537.99,507.02 541.15,510.87" fill="#2630ff" stroke="#2630ff"/>
<polygon points="541.15,510.87 537.99,507.02 555.2,504.1 558.34,507.87" fill="#2a29ff" stroke="#2a29ff"/>
<polygon points="558.34,507.87 555.2,504.1 572.11,500.41 575.23,504.11" fill="#2d23ff" stroke="#2d23ff"/>
<polygon points="575.23,504.11 572.11,500.41 588.71,495.98 591.82,499.6" fill="#301fff" stroke="#301fff"/>
<polygon points="591.82,499.6 588.71,495.98 605.03,490.81 608.12,494.36" fill="#321bff" stroke="#321bff"/>
<polygon points="608.12,494.36 605.03,490.81 621.07,484.94 624.15,488.41" fill="#3319ff" stroke="#3319ff"/>
<polygon points="624.15,488.41 621.07,484.94 636.85,478.37 639.91,481.77" fill="#3418ff" stroke="#3418ff"/>
<polygon points="639.91,481.77 636.85,478.37 652.38,471.12 655.43,474.45" fill="#3418ff" stroke="#3418ff"/>
<polygon points="655.43,474.45 652.38,471.12 667.67,463.21 670.7,466.47" fill="#331aff" stroke="#331aff"/>
<polygon points="670.7,466.47 667.67,463.21 682.73,454.64 685.75,457.84" fill="#311cff" stroke="#311cff"/>
<polygon points="685.75,457.84 682.73,454.64 697.57,445.45 700.58,448.57" fill="#2f20ff" stroke="#2f20ff"/>
<polygon points="427.24,507.08 423.98,502.75 443.43,505.02 446.67,509.28" fill="#0071ff" stroke="#0071ff"/>
<polygon points="446.67,509.28 443.43,505.02 462.47,506.38 465.69,510.56" fill="#0860ff" stroke="#0860ff"/>
<polygon points="465.69,510.56 462.47,506.38 481.11,506.85 484.31,510.94" fill="#1052ff" stroke="#1052ff"/>
<polygon points="484.31,510.94 481.11,506.85 499.37,506.45 502.56,510.46" fill="#1745ff" stroke="#1745ff"/>
<polygon points="502.56,510.46 499.37,506.45 517.28,505.21 520.45,509.15" fill="#1d3bff" stroke="#1d3bff"/>
<polygon points="520.45,509.15 517.28,505.21 534.84,503.16 537.99,507.02" fill="#2334ff" stroke="#2334ff"/>
<polygon points="537.99,507.02 534.84,503.16 552.07,500.32 555.2,504.1" fill="#282eff" stroke="#282eff"/>
<polygon points="555.2,504.1 552.07,500.32 568.99,496.7 572.11,500.41" fill="#2b28ff" stroke="#2b28ff"/>
<polygon points="572.11,500.41 568.99,496.7 585.61,492.34 588.71,495.98" fill="#2e23ff" stroke="#2e23ff"/>
<polygon points="588.71,495.98 585.61,492.34 601.94,487.25 605.03,490.81" fill="#301fff" stroke="#301fff"/>
<polygon points="605.03,490.81 601.94,487.25 617.99,481.45 621.07,484.94" fill="#311dff" stroke="#311dff"/>
<polygon points="621.07,484.94 617.99,481.45 633.79,474.95 636.85,478.37" fill="#311cff" stroke="#311cff"/>
<polygon points="636.85,478.37 633.79,474.95 649.33,467.77 652.38,471.12" fill="#311cff" stroke="#311cff"/>
<polygon points="652.38,471.12 649.33,467.77 664.63,459.93 667.67,463.21" fill="#311eff" stroke="#311eff"/>
<polygon points="667.67,463.21 664.63,459.93 679.71,451.44 682.73,454.64" fill="#2f20ff" stroke="#2f20ff"/>
<polygon points="682.73,454.64 679.71,451.44 694.56,442.31 697.57,445.45" fill="#2d24ff" stroke="#2d24ff"/>
<polygon points="423.98,502.75 420.72,498.4 440.19,500.76 443.43,505.02" fill="#0078ff" stroke="#0078ff"/>
<polygon points="443.43,505.02 440.19,500.76 459.25,502.2 462.47,506.38" fill="#0566ff" stroke="#0566ff"/>
<polygon points="462.47,506.38 459.25,502.2 477.91,502.74 481.11,506.85" fill="#0d57ff" stroke="#0d57ff"/>
<polygon points="481.11,506.85 477.91,502.74 496.19,502.42 499.37,506.45" fill="#144aff" stroke="#144aff"/>
<polygon points="499.37,506.45 496.19,502.42 514.11,501.26 517.28,505.21" fill="#1a3fff" stroke="#1a3fff"/>
<polygon points="517.28,505.21 514.11,501.26 531.69,499.29 534.84,503.16" fill="#2038ff" stroke="#2038ff"/>
<polygon points="534.84,503.16 531.69,499.29 548.94,496.52 552.07,500.32" fill="#2531ff" stroke="#2531ff"/>
<polygon points="552.07,500.32 548.94,496.52 565.87,492.98 568.99,496.7" fill="#292cff" stroke="#292cff"/>
<polygon points="568.99,496.7 565.87,492.98 582.51,488.7 585.61,492.34" fill="#2b27ff" stroke="#2b27ff"/>
<polygon points="585.61,492.34 582.51,488.7 598.85,483.68 601.94,487.25" fill="#2d23ff" stroke="#2d23ff"/>
<polygon points="601.94,487.25 598.85,483.68 614.93,477.95 617.99,481.45" fill="#2f21ff" stroke="#2f21ff"/>
<polygon points="617.99,481.45 614.93,477.95 630.73,471.52 633.79,474.95" fill="#2f20ff" stroke="#2f20ff"/>
<polygon points="633.79,474.95 630.73,471.52 646.29,464.41 649.33,467.77" fill="#2f20ff" stroke="#2f20ff"/>
<polygon points="649.33,467.77 646.29,464.41 661.61,456.64 664.63,459.93" fill="#2e22ff" stroke="#2e22ff"/>
<polygon points="664.63,459.93 661.61,456.64 676.69,448.22 679.71,451.44" fill="#2d24ff" stroke="#2d24ff"/>
<polygon points="679.71,451.44 676.69,448.22 691.55,439.16 694.56,442.31" fill="#2b28ff" stroke="#2b28ff"/>
<polygon points="420.72,498.4 417.46,494.04 436.95,496.48 440.19,500.76" fill="#007fff" stroke="#007fff"/>
<polygon points="440.19,500.76 436.95,496.48 456.03,498 459.25,502.2" fill="#026bff" stroke="#026bff"/>
<polygon points="459.25,502.2 456.03,498 474.71,498.63 477.91,502.74" fill="#0a5dff" stroke="#0a5dff"/>
<polygon points="477.91,502.74 474.71,498.63 493.01,498.39 496.19,502.42" fill="#1150ff" stroke="#1150ff"/>
<polygon points="496.19,502.42 493.01,498.39 510.95,497.3 514.11,501.26" fill="#1744ff" stroke="#1744ff"/>
<polygon points="514.11,501.26 510.95,497.3 528.55,495.41 531.69,499.29" fill="#1d3cff" stroke="#1d3cff"/>
<polygon points="531.69,499.29 528.55,495.41 545.81,492.72 548.94,496.52" fill="#2235ff" stroke="#2235ff"/>
<polygon points="548.94,496.52 545.81,492.72 562.76,489.25 565.87,492.98" fill="#2630ff" stroke="#2630ff"/>
<polygon points="565.87,492.98 562.76,489.25 579.41,485.04 582.51,488.7" fill="#292bff" stroke="#292bff"/>
<polygon points="582.51,488.7 579.41,485.04 595.78,480.1 598.85,483.68" fill="#2b28ff" stroke="#2b28ff"/>
<polygon points="598.85,483.68 595.78,480.1 611.86,474.44 614.93,477.95" fill="#2c25ff" stroke="#2c25ff"/>
<polygon points="614.93,477.95 611.86,474.44 627.68,468.08 630.73,471.52" fill="#2d24ff" stroke="#2d24ff"/>
<polygon points="630.73,471.52 627.68,468.08 643.25,461.04 646.29,464.41" fill="#2d24ff" stroke="#2d24ff"/>
<polygon points="646.29,464.41 643.25,461.04 658.58,453.34 661.61,456.64" fill="#2c26ff" stroke="#2c26ff"/>
<polygon points="661.61,456.64 658.58,453.34 673.68,444.99 676.69,448.22" fill="#2b28ff" stroke="#2b28ff"/>
<polygon points="676.69,448.22 673.68,444.99 688.56,436 691.55,439.16" fill="#292cff" stroke="#292cff"/>
<polygon points="417.46,494.04 414.21,489.67 433.72,492.2 436.95,496.48" fill="#0086ff" stroke="#0086ff"/>
<polygon points="436.95,496.48 433.72,492.2 452.82,493.8 456.03,498" fill="#0072ff" stroke="#0072ff"/>
<polygon points="456.03,498 452.82,493.8 471.52,494.5 474.71,498.63" fill="#0762ff" stroke="#0762ff"/>
<polygon points="474.71,498.63 471.52,494.5 489.84,494.34 493.01,498.39" fill="#0e55ff" stroke="#0e55ff"/>
<polygon points="493.01,498.39 489.84,494.34 507.8,493.34 510.95,497.3" fill="#1449ff" stroke="#1449ff"/>
<polygon points="510.95,497.3 507.8,493.34 525.41,491.52 528.55,495.41" fill="#1a3fff" stroke="#1a3fff"/>
<polygon points="528.55,495.41 525.41,491.52 542.69,488.9 545.81,492.72" fill="#1f39ff" stroke="#1f39ff"/>
<polygon points="545.81,492.72 542.69,488.9 559.66,485.51 562.76,489.25" fill="#2334ff" stroke="#2334ff"/>
<polygon points="562.76,489.25 559.66,485.51 576.32,481.38 579.41,485.04" fill="#262fff" stroke="#262fff"/>
<polygon points="579.41,485.04 576.32,481.38 592.7,476.5 595.78,480.1" fill="#292cff" stroke="#292cff"/>
<polygon points="595.78,480.1 592.7,476.5 608.8,470.92 611.86,474.44" fill="#2a2aff" stroke="#2a2aff"/>
<polygon points="611.86,474.44 608.8,470.92 624.64,464.63 627.68,468.08" fill="#2b28ff" stroke="#2b28ff"/>
<polygon points="627.68,468.08 624.64,464.63 640.22,457.67 643.25,461.04" fill="#2b28ff" stroke="#2b28ff"/>
<polygon points="643.25,461.04 640.22,457.67 655.56,450.04 658.58,453.34" fill="#2a2aff" stroke="#2a2aff"/>
<polygon points="658.58,453.34 655.56,450.04 670.67,441.75 673.68,444.99" fill="#282cff" stroke="#282cff"/>
<polygon points="673.68,444.99 670.67,441.75 685.56,432.83 688.56,436" fill="#2630ff" stroke="#2630ff"/>
<polygon points="414.21,489.67 410.97,485.29 430.5,487.9 433.72,492.2" fill="#008dff" stroke="#008dff"/>
<polygon points="433.72,492.2 430.5,487.9 449.62,489.58 452.82,493.8" fill="#0078ff" stroke="#0078ff"/>
<polygon points="452.82,493.8 449.62,489.58 468.33,490.37 471.52,494.5" fill="#0468ff" stroke="#0468ff"/>
<polygon points="471.52,494.5 468.33,490.37 486.67,490.29 489.84,494.34" fill="#0b5aff" stroke="#0b5aff"/>
<polygon points="489.84,494.34 486.67,490.29 504.65,489.36 507.8,493.34" fill="#114fff" stroke="#114fff"/>
<polygon points="507.8,493.34 504.65,489.36 522.28,487.62 525.41,491.52" fill="#1744ff" stroke="#1744ff"/>
<polygon points="525.41,491.52 522.28,487.62 539.58,485.08 542.69,488.9" fill="#1c3dff" stroke="#1c3dff"/>
<polygon points="542.69,488.9 539.58,485.08 556.56,481.77 559.66,485.51" fill="#2037ff" stroke="#2037ff"/>
<polygon points="559.66,485.51 556.56,481.77 573.24,477.7 576.32,481.38" fill="#2333ff" stroke="#2333ff"/>
<polygon points="576.32,481.38 573.24,477.7 589.63,472.9 592.7,476.5" fill="#2630ff" stroke="#2630ff"/>
<polygon points="592.7,476.5 589.63,472.9 605.75,467.39 608.8,470.92" fill="#282eff" stroke="#282eff"/>
<polygon points="608.8,470.92 605.75,467.39 621.6,461.18 624.64,464.63" fill="#282cff" stroke="#282cff"/>
<polygon points="624.64,464.63 621.6,461.18 637.19,454.28 640.22,457.67" fill="#282cff" stroke="#282cff"/>
<polygon points="640.22,457.67 637.19,454.28 652.55,446.72 655.56,450.04" fill="#282eff" stroke="#282eff"/>
<polygon points="655.56,450.04 652.55,446.72 667.67,438.51 670.67,441.75" fill="#2630ff" stroke="#2630ff"/>
<polygon points="670.67,441.75 667.67,438.51 682.57,429.65 685.56,432.83" fill="#2433ff" stroke="#2433ff"/>
<polygon points="410.97,485.29 407.73,480.91 427.28,483.6 430.5,487.9" fill="#0094ff" stroke="#0094ff"/>
<polygon points="430.5,487.9 427.28,483.6 446.41,485.36 449.62,489.58" fill="#007fff" stroke="#007fff"/>
<polygon points="449.62,489.58 446.41,485.36 465.15,486.23 468.33,490.37" fill="#006dff" stroke="#006dff"/>
<polygon points="468.33,490.37 465.15,486.23 483.51,486.23 486.67,490.29" fill="#0860ff" stroke="#0860ff"/>
<polygon points="486.67,490.29 483.51,486.23 501.5,485.38 504.65,489.36" fill="#0e54ff" stroke="#0e54ff"/>
<polygon points="504.65,489.36 501.5,485.38 519.15,483.71 522.28,487.62" fill="#144aff" stroke="#144aff"/>
<polygon points="522.28,487.62 519.15,483.71 536.47,481.25 539.58,485.08" fill="#1941ff" stroke="#1941ff"/>
<polygon points="539.58,485.08 536.47,481.25 553.47,478.01 556.56,481.77" fill="#1d3bff" stroke="#1d3bff"/>
<polygon points="556.56,481.77 553.47,478.01 570.16,474.02 573.24,477.7" fill="#2137ff" stroke="#2137ff"/>
<polygon points="573.24,477.7 570.16,474.02 586.57,469.3 589.63,472.9" fill="#2334ff" stroke="#2334ff"/>
<polygon points="589.63,472.9 586.57,469.3 602.7,463.86 605.75,467.39" fill="#2531ff" stroke="#2531ff"/>
<polygon points="605.75,467.39 602.7,463.86 618.56,457.72 621.6,461.18" fill="#2630ff" stroke="#2630ff"/>
<polygon points="621.6,461.18 618.56,457.72 634.17,450.89 637.19,454.28" fill="#2630ff" stroke="#2630ff"/>
<polygon points="637.19,454.28 634.17,450.89 649.54,443.4 652.55,446.72" fill="#2531ff" stroke="#2531ff"/>
<polygon points="652.55,446.72 649.54,443.4 664.68,435.26 667.67,438.51" fill="#2333ff" stroke="#2333ff"/>
<polygon points="667.67,438.51 664.68,435.26 679.59,426.47 682.57,429.65" fill="#2136ff" stroke="#2136ff"/>
<polygon points="407.73,480.91 404.49,476.51 424.06,479.29 427.28,483.6" fill="#009bff" stroke="#009bff"/>
<polygon points="427.28,483.6 424.06,479.29 443.22,481.14 446.41,485.36" fill="#0086ff" stroke="#0086ff"/>
<polygon points="446.41,485.36 443.22,481.14 461.98,482.08 465.15,486.23" fill="#0074ff" stroke="#0074ff"/>
<polygon points="465.15,486.23 461.98,482.08 480.35,482.16 483.51,486.23" fill="#0565ff" stroke="#0565ff"/>
<polygon points="483.51,486.23 480.35,482.16 498.36,481.39 501.5,485.38" fill="#0b59ff" stroke="#0b59ff"/>
<polygon points="501.5,485.38 498.36,481.39 516.03,479.8 519.15,483.71" fill="#114fff" stroke="#114fff"/>
<polygon points="519.15,483.71 516.03,479.8 533.36,477.42 536.47,481.25" fill="#1646ff" stroke="#1646ff"/>
<polygon points="536.47,481.25 533.36,477.42 550.37,474.26 553.47,478.01" fill="#1a3fff" stroke="#1a3fff"/>
<polygon points="553.47,478.01 550.37,474.26 567.09,470.34 570.16,474.02" fill="#1e3bff" stroke="#1e3bff"/>
<polygon points="570.16,474.02 567.09,470.34 583.51,465.69 586.57,469.3" fill="#2037ff" stroke="#2037ff"/>
<polygon points="586.57,469.3 583.51,465.69 599.65,460.32 602.7,463.86" fill="#2235ff" stroke="#2235ff"/>
<polygon points="602.7,463.86 599.65,460.32 615.53,454.25 618.56,457.72" fill="#2334ff" stroke="#2334ff"/>
<polygon points="618.56,457.72 615.53,454.25 631.15,447.5 634.17,450.89" fill="#2334ff" stroke="#2334ff"/>
<polygon points="634.17,450.89 631.15,447.5 646.54,440.08 649.54,443.4" fill="#2235ff" stroke="#2235ff"/>
<polygon points="649.54,443.4 646.54,440.08 661.68,432.01 664.68,435.26" fill="#2137ff" stroke="#2137ff"/>
<polygon points="664.68,435.26 661.68,432.01 676.61,423.29 679.59,426.47" fill="#1e3aff" stroke="#1e3aff"/>
<polygon points="404.49,476.51 401.26,472.11 420.85,474.97 424.06,479.29" fill="#00a2ff" stroke="#00a2ff"/>
<polygon points="424.06,479.29 420.85,474.97 440.03,476.9 443.22,481.14" fill="#008dff" stroke="#008dff"/>
<polygon points="443.22,481.14 440.03,476.9 458.8,477.93 461.98,482.08" fill="#007bff" stroke="#007bff"/>
<polygon points="461.98,482.08 458.8,477.93 477.2,478.09 480.35,482.16" fill="#026bff" stroke="#026bff"/>
<polygon points="480.35,482.16 477.2,478.09 495.23,477.4 498.36,481.39" fill="#085fff" stroke="#085fff"/>
<polygon points="498.36,481.39 495.23,477.4 512.91,475.89 516.03,479.8" fill="#0e54ff" stroke="#0e54ff"/>
<polygon points="516.03,479.8 512.91,475.89 530.26,473.58 533.36,477.42" fill="#134bff" stroke="#134bff"/>
<polygon points="533.36,477.42 530.26,473.58 547.29,470.5 550.37,474.26" fill="#1844ff" stroke="#1844ff"/>
<polygon points="550.37,474.26 547.29,470.5 564.02,466.66 567.09,470.34" fill="#1b3eff" stroke="#1b3eff"/>
<polygon points="567.09,470.34 564.02,466.66 580.45,462.08 583.51,465.69" fill="#1e3bff" stroke="#1e3bff"/>
<polygon points="583.51,465.69 580.45,462.08 596.61,456.78 599.65,460.32" fill="#1f39ff" stroke="#1f39ff"/>
<polygon points="599.65,460.32 596.61,456.78 612.5,450.79 615.53,454.25" fill="#2037ff" stroke="#2037ff"/>
<polygon points="615.53,454.25 612.5,450.79 628.14,444.11 631.15,447.5" fill="#2037ff" stroke="#2037ff"/>
<polygon points="631.15,447.5 628.14,444.11 643.54,436.76 646.54,440.08" fill="#2038ff" stroke="#2038ff"/>
<polygon points="646.54,440.08 643.54,436.76 658.7,428.76 661.68,432.01" fill="#1e3aff" stroke="#1e3aff"/>
<polygon points="661.68,432.01 658.7,428.76 673.63,420.11 676.61,423.29" fill="#1c3dff" stroke="#1c3dff"/>
<polygon points="401.26,472.11 398.04,467.71 417.65,470.65 420.85,474.97" fill="#00a9ff" stroke="#00a9ff"/>
<polygon points="420.85,474.97 417.65,470.65 436.84,472.66 440.03,476.9" fill="#0094ff" stroke="#0094ff"/>
<polygon points="440.03,476.9 436.84,472.66 455.64,473.78 458.8,477.93" fill="#0082ff" stroke="#0082ff"/>
<polygon points="458.8,477.93 455.64,473.78 474.05,474.01 477.2,478.09" fill="#0071ff" stroke="#0071ff"/>
<polygon points="477.2,478.09 474.05,474.01 492.1,473.4 495.23,477.4" fill="#0564ff" stroke="#0564ff"/>
<polygon points="495.23,477.4 492.1,473.4 509.79,471.97 512.91,475.89" fill="#0b5aff" stroke="#0b5aff"/>
<polygon points="512.91,475.89 509.79,471.97 527.16,469.74 530.26,473.58" fill="#1050ff" stroke="#1050ff"/>
<polygon points="530.26,473.58 527.16,469.74 544.21,466.73 547.29,470.5" fill="#1549ff" stroke="#1549ff"/>
<polygon points="547.29,470.5 544.21,466.73 560.95,462.97 564.02,466.66" fill="#1843ff" stroke="#1843ff"/>
<polygon points="564.02,466.66 560.95,462.97 577.4,458.47 580.45,462.08" fill="#1b3fff" stroke="#1b3fff"/>
<polygon points="580.45,462.08 577.4,458.47 593.58,453.24 596.61,456.78" fill="#1c3cff" stroke="#1c3cff"/>
<polygon points="596.61,456.78 593.58,453.24 609.48,447.32 612.5,450.79" fill="#1d3bff" stroke="#1d3bff"/>
<polygon points="612.5,450.79 609.48,447.32 625.13,440.71 628.14,444.11" fill="#1e3bff" stroke="#1e3bff"/>
<polygon points="628.14,444.11 625.13,440.71 640.54,433.44 643.54,436.76" fill="#1d3cff" stroke="#1d3cff"/>
<polygon points="643.54,436.76 640.54,433.44 655.71,425.5 658.7,428.76" fill="#1c3eff" stroke="#1c3eff"/>
<polygon points="658.7,428.76 655.71,425.5 670.66,416.93 673.63,420.11" fill="#1941ff" stroke="#1941ff"/>
<polygon points="398.04,467.71 394.81,463.3 414.45,466.33 417.65,470.65" fill="#00b0ff" stroke="#00b0ff"/>
<polygon points="417.65,470.65 414.45,466.33 433.66,468.42 436.84,472.66" fill="#009bff" stroke="#009bff"/>
<polygon points="436.84,472.66 433.66,468.42 452.47,469.62 455.64,473.78" fill="#0089ff" stroke="#0089ff"/>
<polygon points="455.64,473.78 452.47,469.62 470.9,469.94 474.05,474.01" fill="#0078ff" stroke="#0078ff"/>
<polygon points="474.05,474.01 470.9,469.94 488.97,469.41 492.1,473.4" fill="#026aff" stroke="#026aff"/>
<polygon points="492.1,473.4 488.97,469.41 506.69,468.05 509.79,471.97" fill="#085fff" stroke="#085fff"/>
<polygon points="509.79,471.97 506.69,468.05 524.07,465.9 527.16,469.74" fill="#0d56ff" stroke="#0d56ff"/>
<polygon points="527.16,469.74 524.07,465.9 541.13,462.97 544.21,466.73" fill="#124eff" stroke="#124eff"/>
<polygon points="544.21,466.73 541.13,462.97 557.89,459.28 560.95,462.97" fill="#1548ff" stroke="#1548ff"/>
<polygon points="560.95,462.97 557.89,459.28 574.36,454.85 577.4,458.47" fill="#1843ff" stroke="#1843ff"/>
<polygon points="577.4,458.47 574.36,454.85 590.54,449.71 593.58,453.24" fill="#1a40ff" stroke="#1a40ff"/>
<polygon points="593.58,453.24 590.54,449.71 606.46,443.86 609.48,447.32" fill="#1b3fff" stroke="#1b3fff"/>
<polygon points="609.48,447.32 606.46,443.86 622.13,437.32 625.13,440.71" fill="#1b3eff" stroke="#1b3eff"/>
<polygon points="625.13,440.71 622.13,437.32 637.55,430.12 640.54,433.44" fill="#1a3fff" stroke="#1a3fff"/>
<polygon points="640.54,433.44 637.55,430.12 652.73,422.25 655.71,425.5" fill="#1941ff" stroke="#1941ff"/>
<polygon points="655.71,425.5 652.73,422.25 667.69,413.75 670.66,416.93" fill="#1745ff" stroke="#1745ff"/>
<polygon points="394.81,463.3 391.6,458.88 411.25,462 414.45,466.33" fill="#00b6ff" stroke="#00b6ff"/>
<polygon points="414.45,466.33 411.25,462 430.49,464.18 433.66,468.42" fill="#00a3ff" stroke="#00a3ff"/>
<polygon points="433.66,468.42 430.49,464.18 449.32,465.45 452.47,469.62" fill="#0090ff" stroke="#0090ff"/>
<polygon points="452.47,469.62 449.32,465.45 467.77,465.86 470.9,469.94" fill="#007fff" stroke="#007fff"/>
<polygon points="470.9,469.94 467.77,465.86 485.85,465.41 488.97,469.41" fill="#006fff" stroke="#006fff"/>
<polygon points="488.97,469.41 485.85,465.41 503.58,464.13 506.69,468.05" fill="#0564ff" stroke="#0564ff"/>
<polygon points="506.69,468.05 503.58,464.13 520.98,462.06 524.07,465.9" fill="#0a5bff" stroke="#0a5bff"/>
<polygon points="524.07,465.9 520.98,462.06 538.06,459.2 541.13,462.97" fill="#0f53ff" stroke="#0f53ff"/>
<polygon points="541.13,462.97 538.06,459.2 554.83,455.59 557.89,459.28" fill="#124dff" stroke="#124dff"/>
<polygon points="557.89,459.28 554.83,455.59 571.32,451.24 574.36,454.85" fill="#1548ff" stroke="#1548ff"/>
<polygon points="574.36,454.85 571.32,451.24 587.52,446.17 590.54,449.71" fill="#1745ff" stroke="#1745ff"/>
<polygon points="590.54,449.71 587.52,446.17 603.45,440.39 606.46,443.86" fill="#1843ff" stroke="#1843ff"/>
<polygon points="606.46,443.86 603.45,440.39 619.13,433.93 622.13,437.32" fill="#1842ff" stroke="#1842ff"/>
<polygon points="622.13,437.32 619.13,433.93 634.56,426.8 637.55,430.12" fill="#1843ff" stroke="#1843ff"/>
<polygon points="637.55,430.12 634.56,426.8 649.76,419.01 652.73,422.25" fill="#1646ff" stroke="#1646ff"/>
<polygon points="652.73,422.25 649.76,419.01 664.73,410.57 667.69,413.75" fill="#144aff" stroke="#144aff"/>
<polygon points="391.6,458.88 388.39,454.46 408.06,457.66 411.25,462" fill="#00bdff" stroke="#00bdff"/>
<polygon points="411.25,462 408.06,457.66 427.31,459.93 430.49,464.18" fill="#00aaff" stroke="#00aaff"/>
<polygon points="430.49,464.18 427.31,459.93 446.16,461.29 449.32,465.45" fill="#0097ff" stroke="#0097ff"/>
<polygon points="449.32,465.45 446.16,461.29 464.63,461.77 467.77,465.86" fill="#0086ff" stroke="#0086ff"/>
<polygon points="467.77,465.86 464.63,461.77 482.73,461.4 485.85,465.41" fill="#0076ff" stroke="#0076ff"/>
<polygon points="485.85,465.41 482.73,461.4 500.48,460.21 503.58,464.13" fill="#026aff" stroke="#026aff"/>
<polygon points="503.58,464.13 500.48,460.21 517.9,458.22 520.98,462.06" fill="#0860ff" stroke="#0860ff"/>
<polygon points="520.98,462.06 517.9,458.22 534.99,455.44 538.06,459.2" fill="#0c59ff" stroke="#0c59ff"/>
<polygon points="538.06,459.2 534.99,455.44 551.78,451.9 554.83,455.59" fill="#0f52ff" stroke="#0f52ff"/>
<polygon points="554.83,455.59 551.78,451.9 568.28,447.63 571.32,451.24" fill="#124dff" stroke="#124dff"/>
<polygon points="571.32,451.24 568.28,447.63 584.49,442.63 587.52,446.17" fill="#144aff" stroke="#144aff"/>
<polygon points="587.52,446.17 584.49,442.63 600.44,436.93 603.45,440.39" fill="#1548ff" stroke="#1548ff"/>
<polygon points="603.45,440.39 600.44,436.93 616.13,430.54 619.13,433.93" fill="#1647ff" stroke="#1647ff"/>
<polygon points="619.13,433.93 616.13,430.54 631.58,423.48 634.56,426.8" fill="#1548ff" stroke="#1548ff"/>
<polygon points="634.56,426.8 631.58,423.48 646.79,415.76 649.76,419.01" fill="#144bff" stroke="#144bff"/>
<polygon points="649.76,419.01 646.79,415.76 661.77,407.4 664.73,410.57" fill="#114fff" stroke="#114fff"/>
<polygon points="388.39,454.46 385.18,450.04 404.87,453.32 408.06,457.66" fill="#00c3ff" stroke="#00c3ff"/>
<polygon points="408.06,457.66 404.87,453.32 424.15,455.67 427.31,459.93" fill="#00b0ff" stroke="#00b0ff"/>
<polygon points="427.31,459.93 424.15,455.67 443.02,457.12 446.16,461.29" fill="#009eff" stroke="#009eff"/>
<polygon points="446.16,461.29 443.02,457.12 461.5,457.68 464.63,461.77" fill="#008cff" stroke="#008cff"/>
<polygon points="464.63,461.77 461.5,457.68 479.62,457.4 482.73,461.4" fill="#007dff" stroke="#007dff"/>
<polygon points="482.73,461.4 479.62,457.4 497.39,456.29 500.48,460.21" fill="#0070ff" stroke="#0070ff"/>
<polygon points="500.48,460.21 497.39,456.29 514.82,454.37 517.9,458.22" fill="#0566ff" stroke="#0566ff"/>
<polygon points="517.9,458.22 514.82,454.37 531.93,451.67 534.99,455.44" fill="#095eff" stroke="#095eff"/>
<polygon points="534.99,455.44 531.93,451.67 548.73,448.21 551.78,451.9" fill="#0d57ff" stroke="#0d57ff"/>
<polygon points="551.78,451.9 548.73,448.21 565.25,444.01 568.28,447.63" fill="#0f52ff" stroke="#0f52ff"/>
<polygon points="568.28,447.63 565.25,444.01 581.48,439.09 584.49,442.63" fill="#114fff" stroke="#114fff"/>
<polygon points="584.49,442.63 581.48,439.09 597.44,433.47 600.44,436.93" fill="#124dff" stroke="#124dff"/>
<polygon points="600.44,436.93 597.44,433.47 613.14,427.15 616.13,430.54" fill="#134cff" stroke="#134cff"/>
<polygon points="616.13,430.54 613.14,427.15 628.6,420.17 631.58,423.48" fill="#124dff" stroke="#124dff"/>
<polygon points="631.58,423.48 628.6,420.17 643.82,412.52 646.79,415.76" fill="#114fff" stroke="#114fff"/>
<polygon points="646.79,415.76 643.82,412.52 658.82,404.23 661.77,407.4" fill="#0f53ff" stroke="#0f53ff"/>
<polygon points="385.18,450.04 381.98,445.6 401.69,448.97 404.87,453.32" fill="#00caff" stroke="#00caff"/>
<polygon points="404.87,453.32 401.69,448.97 420.98,451.41 424.15,455.67" fill="#00b7ff" stroke="#00b7ff"/>
<polygon points="424.15,455.67 420.98,451.41 439.87,452.94 443.02,457.12" fill="#00a5ff" stroke="#00a5ff"/>
<polygon points="443.02,457.12 439.87,452.94 458.38,453.59 461.5,457.68" fill="#0093ff" stroke="#0093ff"/>
<polygon points="461.5,457.68 458.38,453.59 476.51,453.39 479.62,457.4" fill="#0084ff" stroke="#0084ff"/>
<polygon points="479.62,457.4 476.51,453.39 494.3,452.35 497.39,456.29" fill="#0076ff" stroke="#0076ff"/>
<polygon points="497.39,456.29 494.3,452.35 511.74,450.52 514.82,454.37" fill="#026bff" stroke="#026bff"/>
<polygon points="514.82,454.37 511.74,450.52 528.87,447.9 531.93,451.67" fill="#0663ff" stroke="#0663ff"/>
<polygon points="531.93,451.67 528.87,447.9 545.69,444.52 548.73,448.21" fill="#0a5dff" stroke="#0a5dff"/>
<polygon points="548.73,448.21 545.69,444.52 562.22,440.4 565.25,444.01" fill="#0c58ff" stroke="#0c58ff"/>
<polygon points="565.25,444.01 562.22,440.4 578.46,435.55 581.48,439.09" fill="#0e54ff" stroke="#0e54ff"/>
<polygon points="581.48,439.09 578.46,435.55 594.44,430 597.44,433.47" fill="#1052ff" stroke="#1052ff"/>
<polygon points="597.44,433.47 594.44,430 610.16,423.76 613.14,427.15" fill="#1051ff" stroke="#1051ff"/>
<polygon points="613.14,427.15 610.16,423.76 625.63,416.85 628.6,420.17" fill="#1052ff" stroke="#1052ff"/>
<polygon points="628.6,420.17 625.63,416.85 640.86,409.28 643.82,412.52" fill="#0e54ff" stroke="#0e54ff"/>
<polygon points="643.82,412.52 640.86,409.28 655.87,401.06 658.82,404.23" fill="#0c58ff" stroke="#0c58ff"/>
<polygon points="381.98,445.6 378.78,441.15 398.51,444.62 401.69,448.97" fill="#00d1ff" stroke="#00d1ff"/>
<polygon points="401.69,448.97 398.51,444.62 417.83,447.14 420.98,451.41" fill="#00bdff" stroke="#00bdff"/>
<polygon points="420.98,451.41 417.83,447.14 436.73,448.75 439.87,452.94" fill="#00acff" stroke="#00acff"/>
<polygon points="439.87,452.94 436.73,448.75 455.25,449.49 458.38,453.59" fill="#009aff" stroke="#009aff"/>
<polygon points="458.38,453.59 455.25,449.49 473.41,449.37 476.51,453.39" fill="#008bff" stroke="#008bff"/>
<polygon points="476.51,453.39 473.41,449.37 491.21,448.42 494.3,452.35" fill="#007dff" stroke="#007dff"/>
<polygon points="494.3,452.35 491.21,448.42 508.67,446.66 511.74,450.52" fill="#0071ff" stroke="#0071ff"/>
<polygon points="511.74,450.52 508.67,446.66 525.82,444.12 528.87,447.9" fill="#0368ff" stroke="#0368ff"/>
<polygon points="528.87,447.9 525.82,444.12 542.65,440.82 545.69,444.52" fill="#0762ff" stroke="#0762ff"/>
<polygon points="545.69,444.52 542.65,440.82 559.19,436.78 562.22,440.4" fill="#0a5dff" stroke="#0a5dff"/>
<polygon points="562.22,440.4 559.19,436.78 575.45,432.01 578.46,435.55" fill="#0c59ff" stroke="#0c59ff"/>
<polygon points="578.46,435.55 575.45,432.01 591.44,426.53 594.44,430" fill="#0d57ff" stroke="#0d57ff"/>
<polygon points="594.44,430 591.44,426.53 607.17,420.37 610.16,423.76" fill="#0d56ff" stroke="#0d56ff"/>
<polygon points="610.16,423.76 607.17,420.37 622.66,413.53 625.63,416.85" fill="#0d57ff" stroke="#0d57ff"/>
<polygon points="625.63,416.85 622.66,413.53 637.9,406.03 640.86,409.28" fill="#0c59ff" stroke="#0c59ff"/>
<polygon points="640.86,409.28 637.9,406.03 652.93,397.88 655.87,401.06" fill="#0a5dff" stroke="#0a5dff"/>
<polygon points="378.78,441.15 375.59,436.7 395.34,440.25 398.51,444.62" fill="#00d7ff" stroke="#00d7ff"/>
<polygon points="398.51,444.62 395.34,440.25 414.67,442.86 417.83,447.14" fill="#00c4ff" stroke="#00c4ff"/>
<polygon points="417.83,447.14 414.67,442.86 433.6,444.56 436.73,448.75" fill="#00b2ff" stroke="#00b2ff"/>
<polygon points="436.73,448.75 433.6,444.56 452.14,445.38 455.25,449.49" fill="#00a1ff" stroke="#00a1ff"/>
<polygon points="455.25,449.49 452.14,445.38 470.31,445.34 473.41,449.37" fill="#0092ff" stroke="#0092ff"/>
<polygon points="473.41,449.37 470.31,445.34 488.13,444.47 491.21,448.42" fill="#0084ff" stroke="#0084ff"/>
<polygon points="491.21,448.42 488.13,444.47 505.61,442.8 508.67,446.66" fill="#0078ff" stroke="#0078ff"/>
<polygon points="508.67,446.66 505.61,442.8 522.77,440.34 525.82,444.12" fill="#006eff" stroke="#006eff"/>
<polygon points="525.82,444.12 522.77,440.34 539.62,437.11 542.65,440.82" fill="#0467ff" stroke="#0467ff"/>
<polygon points="542.65,440.82 539.62,437.11 556.17,433.15 559.19,436.78" fill="#0762ff" stroke="#0762ff"/>
<polygon points="559.19,436.78 556.17,433.15 572.45,428.46 575.45,432.01" fill="#095eff" stroke="#095eff"/>
<polygon points="575.45,432.01 572.45,428.46 588.45,423.06 591.44,426.53" fill="#0a5cff" stroke="#0a5cff"/>
<polygon points="591.44,426.53 588.45,423.06 604.2,416.97 607.17,420.37" fill="#0b5bff" stroke="#0b5bff"/>
<polygon points="607.17,420.37 604.2,416.97 619.69,410.2 622.66,413.53" fill="#0a5cff" stroke="#0a5cff"/>
<polygon points="622.66,413.53 619.69,410.2 634.95,402.78 637.9,406.03" fill="#095eff" stroke="#095eff"/>
<polygon points="637.9,406.03 634.95,402.78 649.98,394.71 652.93,397.88" fill="#0761ff" stroke="#0761ff"/>
<polygon points="375.59,436.7 372.4,432.23 392.17,435.87 395.34,440.25" fill="#00deff" stroke="#00deff"/>
<polygon points="395.34,440.25 392.17,435.87 411.52,438.57 414.67,442.86" fill="#00cbff" stroke="#00cbff"/>
<polygon points="414.67,442.86 411.52,438.57 430.47,440.35 433.6,444.56" fill="#00b9ff" stroke="#00b9ff"/>
<polygon points="433.6,444.56 430.47,440.35 449.03,441.26 452.14,445.38" fill="#00a9ff" stroke="#00a9ff"/>
<polygon points="452.14,445.38 449.03,441.26 467.22,441.3 470.31,445.34" fill="#0099ff" stroke="#0099ff"/>
<polygon points="470.31,445.34 467.22,441.3 485.05,440.52 488.13,444.47" fill="#008bff" stroke="#008bff"/>
<polygon points="488.13,444.47 485.05,440.52 502.55,438.92 505.61,442.8" fill="#007fff" stroke="#007fff"/>
<polygon points="505.61,442.8 502.55,438.92 519.72,436.54 522.77,440.34" fill="#0074ff" stroke="#0074ff"/>
<polygon points="522.77,440.34 519.72,436.54 536.59,433.4 539.62,437.11" fill="#016cff" stroke="#016cff"/>
<polygon points="539.62,437.11 536.59,433.4 553.16,429.51 556.17,433.15" fill="#0467ff" stroke="#0467ff"/>
<polygon points="556.17,433.15 553.16,429.51 569.45,424.9 572.45,428.46" fill="#0663ff" stroke="#0663ff"/>
<polygon points="572.45,428.46 569.45,424.9 585.47,419.58 588.45,423.06" fill="#0761ff" stroke="#0761ff"/>
<polygon points="588.45,423.06 585.47,419.58 601.22,413.56 604.2,416.97" fill="#0860ff" stroke="#0860ff"/>
<polygon points="604.2,416.97 601.22,413.56 616.73,406.87 619.69,410.2" fill="#0761ff" stroke="#0761ff"/>
<polygon points="619.69,410.2 616.73,406.87 632,399.52 634.95,402.78" fill="#0663ff" stroke="#0663ff"/>
<polygon points="634.95,402.78 632,399.52 647.05,391.52 649.98,394.71" fill="#0466ff" stroke="#0466ff"/>
<polygon points="372.4,432.23 369.22,427.75 389.01,431.48 392.17,435.87" fill="#00e5ff" stroke="#00e5ff"/>
<polygon points="392.17,435.87 389.01,431.48 408.38,434.26 411.52,438.57" fill="#00d1ff" stroke="#00d1ff"/>
<polygon points="411.52,438.57 408.38,434.26 427.34,436.14 430.47,440.35" fill="#00bfff" stroke="#00bfff"/>
<polygon points="430.47,440.35 427.34,436.14 445.92,437.12 449.03,441.26" fill="#00afff" stroke="#00afff"/>
<polygon points="449.03,441.26 445.92,437.12 464.13,437.25 467.22,441.3" fill="#00a0ff" stroke="#00a0ff"/>
<polygon points="467.22,441.3 464.13,437.25 481.98,436.55 485.05,440.52" fill="#0092ff" stroke="#0092ff"/>
<polygon points="485.05,440.52 481.98,436.55 499.49,435.04 502.55,438.92" fill="#0086ff" stroke="#0086ff"/>
<polygon points="502.55,438.92 499.49,435.04 516.68,432.74 519.72,436.54" fill="#007bff" stroke="#007bff"/>
<polygon points="519.72,436.54 516.68,432.74 533.56,429.68 536.59,433.4" fill="#0073ff" stroke="#0073ff"/>
<polygon points="536.59,433.4 533.56,429.68 550.15,425.87 553.16,429.51" fill="#016cff" stroke="#016cff"/>
<polygon points="553.16,429.51 550.15,425.87 566.45,421.33 569.45,424.9" fill="#0368ff" stroke="#0368ff"/>
<polygon points="569.45,424.9 566.45,421.33 582.48,416.09 585.47,419.58" fill="#0466ff" stroke="#0466ff"/>
<polygon points="585.47,419.58 582.48,416.09 598.25,410.15 601.22,413.56" fill="#0565ff" stroke="#0565ff"/>
<polygon points="601.22,413.56 598.25,410.15 613.78,403.54 616.73,406.87" fill="#0566ff" stroke="#0566ff"/>
<polygon points="616.73,406.87 613.78,403.54 629.06,396.26 632,399.52" fill="#0467ff" stroke="#0467ff"/>
<polygon points="632,399.52 629.06,396.26 644.12,388.33 647.05,391.52" fill="#026bff" stroke="#026bff"/>
<polygon points="369.22,427.75 366.04,423.25 385.85,427.07 389.01,431.48" fill="#00ebff" stroke="#00ebff"/>
<polygon points="389.01,431.48 385.85,427.07 405.24,429.94 408.38,434.26" fill="#00d8ff" stroke="#00d8ff"/>
<polygon points="408.38,434.26 405.24,429.94 424.22,431.9 427.34,436.14" fill="#00c6ff" stroke="#00c6ff"/>
<polygon points="427.34,436.14 424.22,431.9 442.82,432.98 445.92,437.12" fill="#00b6ff" stroke="#00b6ff"/>
<polygon points="445.92,437.12 442.82,432.98 461.04,433.19 464.13,437.25" fill="#00a7ff" stroke="#00a7ff"/>
<polygon points="464.13,437.25 461.04,433.19 478.91,432.57 481.98,436.55" fill="#0099ff" stroke="#0099ff"/>
<polygon points="481.98,436.55 478.91,432.57 496.44,431.14 499.49,435.04" fill="#008cff" stroke="#008cff"/>
<polygon points="499.49,435.04 496.44,431.14 513.65,428.93 516.68,432.74" fill="#0082ff" stroke="#0082ff"/>
<polygon points="516.68,432.74 513.65,428.93 530.54,425.94 533.56,429.68" fill="#0079ff" stroke="#0079ff"/>
<polygon points="533.56,429.68 530.54,425.94 547.14,422.21 550.15,425.87" fill="#0073ff" stroke="#0073ff"/>
<polygon points="550.15,425.87 547.14,422.21 563.46,417.76 566.45,421.33" fill="#006eff" stroke="#006eff"/>
<polygon points="566.45,421.33 563.46,417.76 579.51,412.59 582.48,416.09" fill="#026bff" stroke="#026bff"/>
<polygon points="582.48,416.09 579.51,412.59 595.29,406.73 598.25,410.15" fill="#026aff" stroke="#026aff"/>
<polygon points="598.25,410.15 595.29,406.73 610.82,400.19 613.78,403.54" fill="#026aff" stroke="#026aff"/>
<polygon points="613.78,403.54 610.82,400.19 626.12,392.99 629.06,396.26" fill="#016cff" stroke="#016cff"/>
<polygon points="629.06,396.26 626.12,392.99 641.19,385.14 644.12,388.33" fill="#0070ff" stroke="#0070ff"/>
<polygon points="366.04,423.25 362.86,418.73 382.7,422.64 385.85,427.07" fill="#00f2ff" stroke="#00f2ff"/>
<polygon points="385.85,427.07 382.7,422.64 402.1,425.61 405.24,429.94" fill="#00dfff" stroke="#00dfff"/>
<polygon points="405.24,429.94 402.1,425.61 421.11,427.66 424.22,431.9" fill="#00cdff" stroke="#00cdff"/>
<polygon points="424.22,431.9 421.11,427.66 439.72,428.82 442.82,432.98" fill="#00bcff" stroke="#00bcff"/>
<polygon points="442.82,432.98 439.72,428.82 457.96,429.12 461.04,433.19" fill="#00aeff" stroke="#00aeff"/>
<polygon points="461.04,433.19 457.96,429.12 475.85,428.58 478.91,432.57" fill="#00a0ff" stroke="#00a0ff"/>
<polygon points="478.91,432.57 475.85,428.58 493.39,427.23 496.44,431.14" fill="#0093ff" stroke="#0093ff"/>
<polygon points="496.44,431.14 493.39,427.23 510.62,425.1 513.65,428.93" fill="#0089ff" stroke="#0089ff"/>
<polygon points="513.65,428.93 510.62,425.1 527.53,422.2 530.54,425.94" fill="#0080ff" stroke="#0080ff"/>
<polygon points="530.54,425.94 527.53,422.2 544.14,418.55 547.14,422.21" fill="#0079ff" stroke="#0079ff"/>
<polygon points="547.14,422.21 544.14,418.55 560.47,414.17 563.46,417.76" fill="#0074ff" stroke="#0074ff"/>
<polygon points="563.46,417.76 560.47,414.17 576.53,409.08 579.51,412.59" fill="#0071ff" stroke="#0071ff"/>
<polygon points="579.51,412.59 576.53,409.08 592.33,403.29 595.29,406.73" fill="#006fff" stroke="#006fff"/>
<polygon points="595.29,406.73 592.33,403.29 607.88,396.83 610.82,400.19" fill="#0070ff" stroke="#0070ff"/>
<polygon points="610.82,400.19 607.88,396.83 623.19,389.7 626.12,392.99" fill="#0072ff" stroke="#0072ff"/>
<polygon points="626.12,392.99 623.19,389.7 638.27,381.93 641.19,385.14" fill="#0076ff" stroke="#0076ff"/>
<polygon points="362.86,418.73 359.69,414.2 379.55,418.2 382.7,422.64" fill="#00f9ff" stroke="#00f9ff"/>
<polygon points="382.7,422.64 379.55,418.2 398.97,421.26 402.1,425.61" fill="#00e5ff" stroke="#00e5ff"/>
<polygon points="402.1,425.61 398.97,421.26 417.99,423.39 421.11,427.66" fill="#00d3ff" stroke="#00d3ff"/>
<polygon points="421.11,427.66 417.99,423.39 436.62,424.64 439.72,428.82" fill="#00c3ff" stroke="#00c3ff"/>
<polygon points="439.72,428.82 436.62,424.64 454.88,425.02 457.96,429.12" fill="#00b4ff" stroke="#00b4ff"/>
<polygon points="457.96,429.12 454.88,425.02 472.79,424.57 475.85,428.58" fill="#00a7ff" stroke="#00a7ff"/>
<polygon points="475.85,428.58 472.79,424.57 490.35,423.31 493.39,427.23" fill="#009aff" stroke="#009aff"/>
<polygon points="493.39,427.23 490.35,423.31 507.59,421.26 510.62,425.1" fill="#0090ff" stroke="#0090ff"/>
<polygon points="510.62,425.1 507.59,421.26 524.52,418.43 527.53,422.2" fill="#0087ff" stroke="#0087ff"/>
<polygon points="527.53,422.2 524.52,418.43 541.15,414.86 544.14,418.55" fill="#0080ff" stroke="#0080ff"/>
<polygon points="544.14,418.55 541.15,414.86 557.49,410.56 560.47,414.17" fill="#007bff" stroke="#007bff"/>
<polygon points="560.47,414.17 557.49,410.56 573.56,405.55 576.53,409.08" fill="#0077ff" stroke="#0077ff"/>
<polygon points="576.53,409.08 573.56,405.55 589.37,399.84 592.33,403.29" fill="#0076ff" stroke="#0076ff"/>
<polygon points="592.33,403.29 589.37,399.84 604.94,393.46 607.88,396.83" fill="#0076ff" stroke="#0076ff"/>
<polygon points="607.88,396.83 604.94,393.46 620.26,386.41 623.19,389.7" fill="#0078ff" stroke="#0078ff"/>
<polygon points="623.19,389.7 620.26,386.41 635.35,378.71 638.27,381.93" fill="#007cff" stroke="#007cff"/>
<polygon points="359.69,414.2 356.52,409.65 376.4,413.74 379.55,418.2" fill="#00fffd" stroke="#00fffd"/>
<polygon points="379.55,418.2 376.4,413.74 395.85,416.89 398.97,421.26" fill="#00ecff" stroke="#00ecff"/>
<polygon points="398.97,421.26 395.85,416.89 414.89,419.11 417.99,423.39" fill="#00daff" stroke="#00daff"/>
<polygon points="417.99,423.39 414.89,419.11 433.54,420.44 436.62,424.64" fill="#00caff" stroke="#00caff"/>
<polygon points="436.62,424.64 433.54,420.44 451.81,420.92 454.88,425.02" fill="#00bbff" stroke="#00bbff"/>
<polygon points="454.88,425.02 451.81,420.92 469.73,420.55 472.79,424.57" fill="#00aeff" stroke="#00aeff"/>
<polygon points="472.79,424.57 469.73,420.55 487.31,419.37 490.35,423.31" fill="#00a1ff" stroke="#00a1ff"/>
<polygon points="490.35,423.31 487.31,419.37 504.57,417.4 507.59,421.26" fill="#0097ff" stroke="#0097ff"/>
<polygon points="507.59,421.26 504.57,417.4 521.51,414.66 524.52,418.43" fill="#008eff" stroke="#008eff"/>
<polygon points="524.52,418.43 521.51,414.66 538.15,411.17 541.15,414.86" fill="#0086ff" stroke="#0086ff"/>
<polygon points="541.15,414.86 538.15,411.17 554.51,406.95 557.49,410.56" fill="#0081ff" stroke="#0081ff"/>
<polygon points="557.49,410.56 554.51,406.95 570.6,402.01 573.56,405.55" fill="#007eff" stroke="#007eff"/>
<polygon points="573.56,405.55 570.6,402.01 586.42,396.38 589.37,399.84" fill="#007cff" stroke="#007cff"/>
<polygon points="589.37,399.84 586.42,396.38 602,390.07 604.94,393.46" fill="#007cff" stroke="#007cff"/>
<polygon points="604.94,393.46 602,390.07 617.33,383.1 620.26,386.41" fill="#007eff" stroke="#007eff"/>
<polygon points="620.26,386.41 617.33,383.1 632.43,375.47 635.35,378.71" fill="#0082ff" stroke="#0082ff"/>
<polygon points="356.52,409.65 353.36,405.08 373.26,409.27 376.4,413.74" fill="#00fef0" stroke="#00fef0"/>
<polygon points="376.4,413.74 373.26,409.27 392.72,412.5 395.85,416.89" fill="#00f3ff" stroke="#00f3ff"/>
<polygon points="395.85,416.89 392.72,412.5 411.78,414.81 414.89,419.11" fill="#00e1ff" stroke="#00e1ff"/>
<polygon points="414.89,419.11 411.78,414.81 430.45,416.23 433.54,420.44" fill="#00d0ff" stroke="#00d0ff"/>
<polygon points="433.54,420.44 430.45,416.23 448.74,416.79 451.81,420.92" fill="#00c1ff" stroke="#00c1ff"/>
<polygon points="451.81,420.92 448.74,416.79 466.68,416.51 469.73,420.55" fill="#00b4ff" stroke="#00b4ff"/>
<polygon points="469.73,420.55 466.68,416.51 484.28,415.41 487.31,419.37" fill="#00a8ff" stroke="#00a8ff"/>
<polygon points="487.31,419.37 484.28,415.41 501.55,413.53 504.57,417.4" fill="#009dff" stroke="#009dff"/>
<polygon points="504.57,417.4 501.55,413.53 518.51,410.87 521.51,414.66" fill="#0094ff" stroke="#0094ff"/>
<polygon points="521.51,414.66 518.51,410.87 535.17,407.46 538.15,411.17" fill="#008dff" stroke="#008dff"/>
<polygon points="538.15,411.17 535.17,407.46 551.54,403.32 554.51,406.95" fill="#0088ff" stroke="#0088ff"/>
<polygon points="554.51,406.95 551.54,403.32 567.64,398.46 570.6,402.01" fill="#0084ff" stroke="#0084ff"/>
<polygon points="570.6,402.01 567.64,398.46 583.48,392.91 586.42,396.38" fill="#0083ff" stroke="#0083ff"/>
<polygon points="586.42,396.38 583.48,392.91 599.06,386.68 602,390.07" fill="#0083ff" stroke="#0083ff"/>
<polygon points="602,390.07 599.06,386.68 614.41,379.78 617.33,383.1" fill="#0085ff" stroke="#0085ff"/>
<polygon points="617.33,383.1 614.41,379.78 629.52,372.23 632.43,375.47" fill="#0088ff" stroke="#0088ff"/>
<polygon points="353.36,405.08 350.2,400.49 370.12,404.77 373.26,409.27" fill="#00fee2" stroke="#00fee2"/>
<polygon points="373.26,409.27 370.12,404.77 389.61,408.09 392.72,412.5" fill="#00faff" stroke="#00faff"/>
<polygon points="392.72,412.5 389.61,408.09 408.68,410.5 411.78,414.81" fill="#00e8ff" stroke="#00e8ff"/>
<polygon points="411.78,414.81 408.68,410.5 427.37,412.01 430.45,416.23" fill="#00d7ff" stroke="#00d7ff"/>
<polygon points="430.45,416.23 427.37,412.01 445.68,412.65 448.74,416.79" fill="#00c8ff" stroke="#00c8ff"/>
<polygon points="448.74,416.79 445.68,412.65 463.64,412.46 466.68,416.51" fill="#00bbff" stroke="#00bbff"/>
<polygon points="466.68,416.51 463.64,412.46 481.25,411.44 484.28,415.41" fill="#00afff" stroke="#00afff"/>
<polygon points="484.28,415.41 481.25,411.44 498.54,409.64 501.55,413.53" fill="#00a4ff" stroke="#00a4ff"/>
<polygon points="501.55,413.53 498.54,409.64 515.51,407.06 518.51,410.87" fill="#009bff" stroke="#009bff"/>
<polygon points="518.51,410.87 515.51,407.06 532.18,403.73 535.17,407.46" fill="#0094ff" stroke="#0094ff"/>
<polygon points="535.17,407.46 532.18,403.73 548.57,399.67 551.54,403.32" fill="#008fff" stroke="#008fff"/>
<polygon points="551.54,403.32 548.57,399.67 564.68,394.9 567.64,398.46" fill="#008bff" stroke="#008bff"/>
<polygon points="567.64,398.46 564.68,394.9 580.54,389.42 583.48,392.91" fill="#0089ff" stroke="#0089ff"/>
<polygon points="583.48,392.91 580.54,389.42 596.13,383.27 599.06,386.68" fill="#0089ff" stroke="#0089ff"/>
<polygon points="599.06,386.68 596.13,383.27 611.49,376.44 614.41,379.78" fill="#008bff" stroke="#008bff"/>
<polygon points="614.41,379.78 611.49,376.44 626.62,368.97 629.52,372.23" fill="#008fff" stroke="#008fff"/>
<polygon points="350.2,400.49 347.05,395.89 366.99,400.26 370.12,404.77" fill="#00fdd5" stroke="#00fdd5"/>
<polygon points="370.12,404.77 366.99,400.26 386.49,403.67 389.61,408.09" fill="#00fffb" stroke="#00fffb"/>
<polygon points="389.61,408.09 386.49,403.67 405.59,406.17 408.68,410.5" fill="#00efff" stroke="#00efff"/>
<polygon points="408.68,410.5 405.59,406.17 424.29,407.76 427.37,412.01" fill="#00deff" stroke="#00deff"/>
<polygon points="427.37,412.01 424.29,407.76 442.62,408.5 445.68,412.65" fill="#00cfff" stroke="#00cfff"/>
<polygon points="445.68,412.65 442.62,408.5 460.59,408.39 463.64,412.46" fill="#00c1ff" stroke="#00c1ff"/>
<polygon points="463.64,412.46 460.59,408.39 478.22,407.46 481.25,411.44" fill="#00b5ff" stroke="#00b5ff"/>
<polygon points="481.25,411.44 478.22,407.46 495.53,405.74 498.54,409.64" fill="#00abff" stroke="#00abff"/>
<polygon points="498.54,409.64 495.53,405.74 512.52,403.24 515.51,407.06" fill="#00a2ff" stroke="#00a2ff"/>
<polygon points="515.51,407.06 512.52,403.24 529.2,400 532.18,403.73" fill="#009bff" stroke="#009bff"/>
<polygon points="532.18,403.73 529.2,400 545.61,396.02 548.57,399.67" fill="#0095ff" stroke="#0095ff"/>
<polygon points="548.57,399.67 545.61,396.02 561.73,391.32 564.68,394.9" fill="#0091ff" stroke="#0091ff"/>
<polygon points="564.68,394.9 561.73,391.32 577.6,385.92 580.54,389.42" fill="#0090ff" stroke="#0090ff"/>
<polygon points="580.54,389.42 577.6,385.92 593.21,379.85 596.13,383.27" fill="#008fff" stroke="#008fff"/>
<polygon points="596.13,383.27 593.21,379.85 608.58,373.1 611.49,376.44" fill="#0091ff" stroke="#0091ff"/>
<polygon points="611.49,376.44 608.58,373.1 623.72,365.7 626.62,368.97" fill="#0095ff" stroke="#0095ff"/>
<polygon points="347.05,395.89 343.9,391.27 363.86,395.73 366.99,400.26" fill="#00fdc7" stroke="#00fdc7"/>
<polygon points="366.99,400.26 363.86,395.73 383.38,399.24 386.49,403.67" fill="#00feee" stroke="#00feee"/>
<polygon points="386.49,403.67 383.38,399.24 402.5,401.82 405.59,406.17" fill="#00f5ff" stroke="#00f5ff"/>
<polygon points="405.59,406.17 402.5,401.82 421.22,403.51 424.29,407.76" fill="#00e5ff" stroke="#00e5ff"/>
<polygon points="424.29,407.76 421.22,403.51 439.57,404.33 442.62,408.5" fill="#00d5ff" stroke="#00d5ff"/>
<polygon points="442.62,408.5 439.57,404.33 457.56,404.3 460.59,408.39" fill="#00c8ff" stroke="#00c8ff"/>
<polygon points="460.59,408.39 457.56,404.3 475.2,403.46 478.22,407.46" fill="#00bcff" stroke="#00bcff"/>
<polygon points="478.22,407.46 475.2,403.46 492.52,401.83 495.53,405.74" fill="#00b2ff" stroke="#00b2ff"/>
<polygon points="495.53,405.74 492.52,401.83 509.53,399.41 512.52,403.24" fill="#00a9ff" stroke="#00a9ff"/>
<polygon points="512.52,403.24 509.53,399.41 526.23,396.25 529.2,400" fill="#00a2ff" stroke="#00a2ff"/>
<polygon points="529.2,400 526.23,396.25 542.65,392.35 545.61,396.02" fill="#009cff" stroke="#009cff"/>
<polygon points="545.61,396.02 542.65,392.35 558.79,387.73 561.73,391.32" fill="#0098ff" stroke="#0098ff"/>
<polygon points="561.73,391.32 558.79,387.73 574.66,382.42 577.6,385.92" fill="#0096ff" stroke="#0096ff"/>
<polygon points="577.6,385.92 574.66,382.42 590.29,376.42 593.21,379.85" fill="#0096ff" stroke="#0096ff"/>
<polygon points="593.21,379.85 590.29,376.42 605.67,369.75 608.58,373.1" fill="#0098ff" stroke="#0098ff"/>
<polygon points="608.58,373.1 605.67,369.75 620.82,362.43 623.72,365.7" fill="#009bff" stroke="#009bff"/>
<polygon points="343.9,391.27 340.75,386.63 360.73,391.19 363.86,395.73" fill="#00fcb9" stroke="#00fcb9"/>
<polygon points="363.86,395.73 360.73,391.19 380.28,394.79 383.38,399.24" fill="#00fee0" stroke="#00fee0"/>
<polygon points="383.38,399.24 380.28,394.79 399.41,397.46 402.5,401.82" fill="#00fcff" stroke="#00fcff"/>
<polygon points="402.5,401.82 399.41,397.46 418.15,399.24 421.22,403.51" fill="#00ebff" stroke="#00ebff"/>
<polygon points="421.22,403.51 418.15,399.24 436.52,400.15 439.57,404.33" fill="#00dcff" stroke="#00dcff"/>
<polygon points="439.57,404.33 436.52,400.15 454.52,400.21 457.56,404.3" fill="#00cfff" stroke="#00cfff"/>
<polygon points="457.56,404.3 454.52,400.21 472.19,399.45 475.2,403.46" fill="#00c3ff" stroke="#00c3ff"/>
<polygon points="475.2,403.46 472.19,399.45 489.52,397.9 492.52,401.83" fill="#00b8ff" stroke="#00b8ff"/>
<polygon points="492.52,401.83 489.52,397.9 506.54,395.57 509.53,399.41" fill="#00b0ff" stroke="#00b0ff"/>
<polygon points="509.53,399.41 506.54,395.57 523.26,392.49 526.23,396.25" fill="#00a9ff" stroke="#00a9ff"/>
<polygon points="526.23,396.25 523.26,392.49 539.69,388.67 542.65,392.35" fill="#00a3ff" stroke="#00a3ff"/>
<polygon points="542.65,392.35 539.69,388.67 555.84,384.14 558.79,387.73" fill="#009fff" stroke="#009fff"/>
<polygon points="558.79,387.73 555.84,384.14 571.73,378.9 574.66,382.42" fill="#009dff" stroke="#009dff"/>
<polygon points="574.66,382.42 571.73,378.9 587.37,372.98 590.29,376.42" fill="#009cff" stroke="#009cff"/>
<polygon points="590.29,376.42 587.37,372.98 602.77,366.39 605.67,369.75" fill="#009eff" stroke="#009eff"/>
<polygon points="605.67,369.75 602.77,366.39 617.93,359.15 620.82,362.43" fill="#00a1ff" stroke="#00a1ff"/>
<polygon points="340.75,386.63 337.61,381.98 357.61,386.63 360.73,391.19" fill="#00fcab" stroke="#00fcab"/>
<polygon points="360.73,391.19 357.61,386.63 377.18,390.32 380.28,394.79" fill="#00fdd3" stroke="#00fdd3"/>
<polygon points="380.28,394.79 377.18,390.32 396.33,393.09 399.41,397.46" fill="#00fff6" stroke="#00fff6"/>
<polygon points="399.41,397.46 396.33,393.09 415.09,394.96 418.15,399.24" fill="#00f2ff" stroke="#00f2ff"/>
<polygon points="418.15,399.24 415.09,394.96 433.47,395.95 436.52,400.15" fill="#00e3ff" stroke="#00e3ff"/>
<polygon points="436.52,400.15 433.47,395.95 451.49,396.1 454.52,400.21" fill="#00d5ff" stroke="#00d5ff"/>
<polygon points="454.52,400.21 451.49,396.1 469.17,395.43 472.19,399.45" fill="#00c9ff" stroke="#00c9ff"/>
<polygon points="472.19,399.45 469.17,395.43 486.52,393.97 489.52,397.9" fill="#00bfff" stroke="#00bfff"/>
<polygon points="489.52,397.9 486.52,393.97 503.56,391.72 506.54,395.57" fill="#00b6ff" stroke="#00b6ff"/>
<polygon points="506.54,395.57 503.56,391.72 520.29,388.72 523.26,392.49" fill="#00afff" stroke="#00afff"/>
<polygon points="523.26,392.49 520.29,388.72 536.74,384.99 539.69,388.67" fill="#00aaff" stroke="#00aaff"/>
<polygon points="539.69,388.67 536.74,384.99 552.91,380.53 555.84,384.14" fill="#00a6ff" stroke="#00a6ff"/>
<polygon points="555.84,384.14 552.91,380.53 568.81,375.38 571.73,378.9" fill="#00a3ff" stroke="#00a3ff"/>
<polygon points="571.73,378.9 568.81,375.38 584.46,369.54 587.37,372.98" fill="#00a3ff" stroke="#00a3ff"/>
<polygon points="587.37,372.98 584.46,369.54 599.87,363.02 602.77,366.39" fill="#00a4ff" stroke="#00a4ff"/>
<polygon points="602.77,366.39 599.87,363.02 615.04,355.86 617.93,359.15" fill="#00a7ff" stroke="#00a7ff"/>
<polygon points="337.61,381.98 334.47,377.31 354.49,382.06 357.61,386.63" fill="#00fb9e" stroke="#00fb9e"/>
<polygon points="357.61,386.63 354.49,382.06 374.08,385.84 377.18,390.32" fill="#00fdc5" stroke="#00fdc5"/>
<polygon points="377.18,390.32 374.08,385.84 393.25,388.7 396.33,393.09" fill="#00fee9" stroke="#00fee9"/>
<polygon points="396.33,393.09 393.25,388.7 412.03,390.66 415.09,394.96" fill="#00f9ff" stroke="#00f9ff"/>
<polygon points="415.09,394.96 412.03,390.66 430.43,391.75 433.47,395.95" fill="#00eaff" stroke="#00eaff"/>
<polygon points="433.47,395.95 430.43,391.75 448.47,391.99 451.49,396.1" fill="#00dcff" stroke="#00dcff"/>
<polygon points="451.49,396.1 448.47,391.99 466.17,391.41 469.17,395.43" fill="#00d0ff" stroke="#00d0ff"/>
<polygon points="469.17,395.43 466.17,391.41 483.53,390.02 486.52,393.97" fill="#00c5ff" stroke="#00c5ff"/>
<polygon points="486.52,393.97 483.53,390.02 500.58,387.87 503.56,391.72" fill="#00bdff" stroke="#00bdff"/>
<polygon points="503.56,391.72 500.58,387.87 517.33,384.95 520.29,388.72" fill="#00b5ff" stroke="#00b5ff"/>
<polygon points="520.29,388.72 517.33,384.95 533.79,381.3 536.74,384.99" fill="#00b0ff" stroke="#00b0ff"/>
<polygon points="536.74,384.99 533.79,381.3 549.97,376.92 552.91,380.53" fill="#00acff" stroke="#00acff"/>
<polygon points="552.91,380.53 549.97,376.92 565.89,371.85 568.81,375.38" fill="#00aaff" stroke="#00aaff"/>
<polygon points="568.81,375.38 565.89,371.85 581.55,366.09 584.46,369.54" fill="#00a9ff" stroke="#00a9ff"/>
<polygon points="584.46,369.54 581.55,366.09 596.97,359.65 599.87,363.02" fill="#00abff" stroke="#00abff"/>
<polygon points="599.87,363.02 596.97,359.65 612.16,352.56 615.04,355.86" fill="#00adff" stroke="#00adff"/>
<polygon points="334.47,377.31 331.34,372.63 351.38,377.47 354.49,382.06" fill="#00fb90" stroke="#00fb90"/>
<polygon points="354.49,382.06 351.38,377.47 370.99,381.35 374.08,385.84" fill="#00fcb7" stroke="#00fcb7"/>
<polygon points="374.08,385.84 370.99,381.35 390.18,384.31 393.25,388.7" fill="#00fedb" stroke="#00fedb"/>
<polygon points="393.25,388.7 390.18,384.31 408.97,386.36 412.03,390.66" fill="#00fffc" stroke="#00fffc"/>
<polygon points="412.03,390.66 408.97,386.36 427.39,387.53 430.43,391.75" fill="#00f1ff" stroke="#00f1ff"/>
<polygon points="430.43,391.75 427.39,387.53 445.45,387.86 448.47,391.99" fill="#00e3ff" stroke="#00e3ff"/>
<polygon points="448.47,391.99 445.45,387.86 463.16,387.37 466.17,391.41" fill="#00d7ff" stroke="#00d7ff"/>
<polygon points="466.17,391.41 463.16,387.37 480.54,386.07 483.53,390.02" fill="#00ccff" stroke="#00ccff"/>
<polygon points="483.53,390.02 480.54,386.07 497.61,384 500.58,387.87" fill="#00c3ff" stroke="#00c3ff"/>
<polygon points="500.58,387.87 497.61,384 514.37,381.17 517.33,384.95" fill="#00bcff" stroke="#00bcff"/>
<polygon points="517.33,384.95 514.37,381.17 530.85,377.6 533.79,381.3" fill="#00b6ff" stroke="#00b6ff"/>
<polygon points="533.79,381.3 530.85,377.6 547.04,373.31 549.97,376.92" fill="#00b2ff" stroke="#00b2ff"/>
<polygon points="549.97,376.92 547.04,373.31 562.97,368.31 565.89,371.85" fill="#00b0ff" stroke="#00b0ff"/>
<polygon points="565.89,371.85 562.97,368.31 578.65,362.63 581.55,366.09" fill="#00afff" stroke="#00afff"/>
<polygon points="581.55,366.09 578.65,362.63 594.08,356.28 596.97,359.65" fill="#00b1ff" stroke="#00b1ff"/>
<polygon points="596.97,359.65 594.08,356.28 609.28,349.27 612.16,352.56" fill="#00b3ff" stroke="#00b3ff"/>
<polygon points="331.34,372.63 328.21,367.93 348.27,372.87 351.38,377.47" fill="#00fa82" stroke="#00fa82"/>
<polygon points="351.38,377.47 348.27,372.87 367.9,376.85 370.99,381.35" fill="#00fca9" stroke="#00fca9"/>
<polygon points="370.99,381.35 367.9,376.85 387.11,379.9 390.18,384.31" fill="#00fdce" stroke="#00fdce"/>
<polygon points="390.18,384.31 387.11,379.9 405.92,382.04 408.97,386.36" fill="#00feef" stroke="#00feef"/>
<polygon points="408.97,386.36 405.92,382.04 424.36,383.31 427.39,387.53" fill="#00f8ff" stroke="#00f8ff"/>
<polygon points="427.39,387.53 424.36,383.31 442.43,383.73 445.45,387.86" fill="#00eaff" stroke="#00eaff"/>
<polygon points="445.45,387.86 442.43,383.73 460.16,383.32 463.16,387.37" fill="#00ddff" stroke="#00ddff"/>
<polygon points="463.16,387.37 460.16,383.32 477.56,382.11 480.54,386.07" fill="#00d3ff" stroke="#00d3ff"/>
<polygon points="480.54,386.07 477.56,382.11 494.64,380.13 497.61,384" fill="#00caff" stroke="#00caff"/>
<polygon points="497.61,384 494.64,380.13 511.42,377.38 514.37,381.17" fill="#00c2ff" stroke="#00c2ff"/>
<polygon points="514.37,381.17 511.42,377.38 527.91,373.89 530.85,377.6" fill="#00bdff" stroke="#00bdff"/>
<polygon points="530.85,377.6 527.91,373.89 544.12,369.69 547.04,373.31" fill="#00b9ff" stroke="#00b9ff"/>
<polygon points="547.04,373.31 544.12,369.69 560.06,364.77 562.97,368.31" fill="#00b6ff" stroke="#00b6ff"/>
<polygon points="562.97,368.31 560.06,364.77 575.75,359.17 578.65,362.63" fill="#00b5ff" stroke="#00b5ff"/>
<polygon points="578.65,362.63 575.75,359.17 591.19,352.9 594.08,356.28" fill="#00b6ff" stroke="#00b6ff"/>
<polygon points="594.08,356.28 591.19,352.9 606.4,345.97 609.28,349.27" fill="#00b9ff" stroke="#00b9ff"/>
<polygon points="328.21,367.93 325.09,363.22 345.17,368.26 348.27,372.87" fill="#00fa74" stroke="#00fa74"/>
<polygon points="348.27,372.87 345.17,368.26 364.81,372.34 367.9,376.85" fill="#00fb9b" stroke="#00fb9b"/>
<polygon points="367.9,376.85 364.81,372.34 384.04,375.48 387.11,379.9" fill="#00fdc0" stroke="#00fdc0"/>
<polygon points="387.11,379.9 384.04,375.48 402.87,377.72 405.92,382.04" fill="#00fee1" stroke="#00fee1"/>
<polygon points="405.92,382.04 402.87,377.72 421.33,379.08 424.36,383.31" fill="#00ffff" stroke="#00ffff"/>
<polygon points="424.36,383.31 421.33,379.08 439.42,379.59 442.43,383.73" fill="#00f1ff" stroke="#00f1ff"/>
<polygon points="442.43,383.73 439.42,379.59 457.17,379.27 460.16,383.32" fill="#00e4ff" stroke="#00e4ff"/>
<polygon points="460.16,383.32 457.17,379.27 474.58,378.15 477.56,382.11" fill="#00d9ff" stroke="#00d9ff"/>
<polygon points="477.56,382.11 474.58,378.15 491.68,376.25 494.64,380.13" fill="#00d0ff" stroke="#00d0ff"/>
<polygon points="494.64,380.13 491.68,376.25 508.47,373.59 511.42,377.38" fill="#00c9ff" stroke="#00c9ff"/>
<polygon points="511.42,377.38 508.47,373.59 524.97,370.19 527.91,373.89" fill="#00c3ff" stroke="#00c3ff"/>
<polygon points="527.91,373.89 524.97,370.19 541.19,366.06 544.12,369.69" fill="#00bfff" stroke="#00bfff"/>
<polygon points="544.12,369.69 541.19,366.06 557.15,361.23 560.06,364.77" fill="#00bcff" stroke="#00bcff"/>
<polygon points="560.06,364.77 557.15,361.23 572.85,355.71 575.75,359.17" fill="#00bcff" stroke="#00bcff"/>
<polygon points="575.75,359.17 572.85,355.71 588.31,349.52 591.19,352.9" fill="#00bcff" stroke="#00bcff"/>
<polygon points="591.19,352.9 588.31,349.52 603.53,342.67 606.4,345.97" fill="#00bfff" stroke="#00bfff"/>
<polygon points="325.09,363.22 321.97,358.5 342.07,363.64 345.17,368.26" fill="#00f968" stroke="#00f968"/>
<polygon points="345.17,368.26 342.07,363.64 361.73,367.82 364.81,372.34" fill="#00fb8d" stroke="#00fb8d"/>
<polygon points="364.81,372.34 361.73,367.82 380.98,371.05 384.04,375.48" fill="#00fcb2" stroke="#00fcb2"/>
<polygon points="384.04,375.48 380.98,371.05 399.83,373.38 402.87,377.72" fill="#00fdd4" stroke="#00fdd4"/>
<polygon points="402.87,377.72 399.83,373.38 418.3,374.84 421.33,379.08" fill="#00fff2" stroke="#00fff2"/>
<polygon points="421.33,379.08 418.3,374.84 436.41,375.44 439.42,379.59" fill="#00f7ff" stroke="#00f7ff"/>
<polygon points="439.42,379.59 436.41,375.44 454.17,375.21 457.17,379.27" fill="#00ebff" stroke="#00ebff"/>
<polygon points="457.17,379.27 454.17,375.21 471.6,374.18 474.58,378.15" fill="#00e0ff" stroke="#00e0ff"/>
<polygon points="474.58,378.15 471.6,374.18 488.72,372.37 491.68,376.25" fill="#00d7ff" stroke="#00d7ff"/>
<polygon points="491.68,376.25 488.72,372.37 505.52,369.79 508.47,373.59" fill="#00cfff" stroke="#00cfff"/>
<polygon points="508.47,373.59 505.52,369.79 522.04,366.47 524.97,370.19" fill="#00c9ff" stroke="#00c9ff"/>
<polygon points="524.97,370.19 522.04,366.47 538.28,362.43 541.19,366.06" fill="#00c5ff" stroke="#00c5ff"/>
<polygon points="541.19,366.06 538.28,362.43 554.25,357.69 557.15,361.23" fill="#00c2ff" stroke="#00c2ff"/>
<polygon points="557.15,361.23 554.25,357.69 569.96,352.25 572.85,355.71" fill="#00c2ff" stroke="#00c2ff"/>
<polygon points="572.85,355.71 569.96,352.25 585.43,346.14 588.31,349.52" fill="#00c2ff" stroke="#00c2ff"/>
<polygon points="588.31,349.52 585.43,346.14 600.66,339.37 603.53,342.67" fill="#00c5ff" stroke="#00c5ff"/>
<polygon points="321.97,358.5 318.85,353.78 338.97,359.02 342.07,363.64" fill="#00f95c" stroke="#00f95c"/>
<polygon points="342.07,363.64 338.97,359.02 358.65,363.29 361.73,367.82" fill="#00fa7f" stroke="#00fa7f"/>
<polygon points="361.73,367.82 358.65,363.29 377.92,366.62 380.98,371.05" fill="#00fca4" stroke="#00fca4"/>
<polygon points="380.98,371.05 377.92,366.62 396.79,369.04 399.83,373.38" fill="#00fdc6" stroke="#00fdc6"/>
<polygon points="399.83,373.38 396.79,369.04 415.28,370.59 418.3,374.84" fill="#00fee5" stroke="#00fee5"/>
<polygon points="418.3,374.84 415.28,370.59 433.41,371.28 436.41,375.44" fill="#00feff" stroke="#00feff"/>
<polygon points="436.41,375.44 433.41,371.28 451.19,371.15 454.17,375.21" fill="#00f2ff" stroke="#00f2ff"/>
<polygon points="454.17,375.21 451.19,371.15 468.63,370.2 471.6,374.18" fill="#00e7ff" stroke="#00e7ff"/>
<polygon points="471.6,374.18 468.63,370.2 485.76,368.48 488.72,372.37" fill="#00ddff" stroke="#00ddff"/>
<polygon points="488.72,372.37 485.76,368.48 502.58,365.99 505.52,369.79" fill="#00d6ff" stroke="#00d6ff"/>
<polygon points="505.52,369.79 502.58,365.99 519.11,362.76 522.04,366.47" fill="#00d0ff" stroke="#00d0ff"/>
<polygon points="522.04,366.47 519.11,362.76 535.36,358.8 538.28,362.43" fill="#00cbff" stroke="#00cbff"/>
<polygon points="538.28,362.43 535.36,358.8 551.35,354.14 554.25,357.69" fill="#00c9ff" stroke="#00c9ff"/>
<polygon points="554.25,357.69 551.35,354.14 567.07,348.79 569.96,352.25" fill="#00c8ff" stroke="#00c8ff"/>
<polygon points="569.96,352.25 567.07,348.79 582.55,342.76 585.43,346.14" fill="#00c8ff" stroke="#00c8ff"/>
<polygon points="585.43,346.14 582.55,342.76 597.8,336.07 600.66,339.37" fill="#00cbff" stroke="#00cbff"/>
<polygon points="318.85,353.78 315.74,349.04 335.88,354.38 338.97,359.02" fill="#00f850" stroke="#00f850"/>
<polygon points="338.97,359.02 335.88,354.38 355.58,358.75 358.65,363.29" fill="#00fa72" stroke="#00fa72"/>
<polygon points="358.65,363.29 355.58,358.75 374.87,362.18 377.92,366.62" fill="#00fb97" stroke="#00fb97"/>
<polygon points="377.92,366.62 374.87,362.18 393.76,364.7 396.79,369.04" fill="#00fcb9" stroke="#00fcb9"/>
<polygon points="396.79,369.04 393.76,364.7 412.26,366.34 415.28,370.59" fill="#00fed7" stroke="#00fed7"/>
<polygon points="415.28,370.59 412.26,366.34 430.41,367.12 433.41,371.28" fill="#00fff3" stroke="#00fff3"/>
<polygon points="433.41,371.28 430.41,367.12 448.2,367.08 451.19,371.15" fill="#00f8ff" stroke="#00f8ff"/>
<polygon points="451.19,371.15 448.2,367.08 465.66,366.23 468.63,370.2" fill="#00edff" stroke="#00edff"/>
<polygon points="468.63,370.2 465.66,366.23 482.81,364.59 485.76,368.48" fill="#00e4ff" stroke="#00e4ff"/>
<polygon points="485.76,368.48 482.81,364.59 499.64,362.19 502.58,365.99" fill="#00dcff" stroke="#00dcff"/>
<polygon points="502.58,365.99 499.64,362.19 516.19,359.05 519.11,362.76" fill="#00d6ff" stroke="#00d6ff"/>
<polygon points="519.11,362.76 516.19,359.05 532.45,355.17 535.36,358.8" fill="#00d2ff" stroke="#00d2ff"/>
<polygon points="535.36,358.8 532.45,355.17 548.45,350.6 551.35,354.14" fill="#00cfff" stroke="#00cfff"/>
<polygon points="551.35,354.14 548.45,350.6 564.19,345.33 567.07,348.79" fill="#00ceff" stroke="#00ceff"/>
<polygon points="567.07,348.79 564.19,345.33 579.68,339.38 582.55,342.76" fill="#00ceff" stroke="#00ceff"/>
<polygon points="582.55,342.76 579.68,339.38 594.94,332.77 597.8,336.07" fill="#00d0ff" stroke="#00d0ff"/>
<polygon points="315.74,349.04 312.63,344.3 332.79,349.74 335.88,354.38" fill="#00f844" stroke="#00f844"/>
<polygon points="335.88,354.38 332.79,349.74 352.51,354.21 355.58,358.75" fill="#00f966" stroke="#00f966"/>
<polygon points="355.58,358.75 352.51,354.21 371.82,357.74 374.87,362.18" fill="#00fb89" stroke="#00fb89"/>
<polygon points="374.87,362.18 371.82,357.74 390.72,360.35 393.76,364.7" fill="#00fcab" stroke="#00fcab"/>
<polygon points="393.76,364.7 390.72,360.35 409.25,362.09 412.26,366.34" fill="#00fdca" stroke="#00fdca"/>
<polygon points="412.26,366.34 409.25,362.09 427.41,362.96 430.41,367.12" fill="#00fee6" stroke="#00fee6"/>
<polygon points="430.41,367.12 427.41,362.96 445.22,363.01 448.2,367.08" fill="#00fffe" stroke="#00fffe"/>
<polygon points="448.2,367.08 445.22,363.01 462.7,362.25 465.66,366.23" fill="#00f4ff" stroke="#00f4ff"/>
<polygon points="465.66,366.23 462.7,362.25 479.86,360.7 482.81,364.59" fill="#00ebff" stroke="#00ebff"/>
<polygon points="482.81,364.59 479.86,360.7 496.71,358.39 499.64,362.19" fill="#00e3ff" stroke="#00e3ff"/>
<polygon points="499.64,362.19 496.71,358.39 513.27,355.33 516.19,359.05" fill="#00dcff" stroke="#00dcff"/>
<polygon points="516.19,359.05 513.27,355.33 529.55,351.54 532.45,355.17" fill="#00d8ff" stroke="#00d8ff"/>
<polygon points="532.45,355.17 529.55,351.54 545.56,347.05 548.45,350.6" fill="#00d5ff" stroke="#00d5ff"/>
<polygon points="548.45,350.6 545.56,347.05 561.31,341.86 564.19,345.33" fill="#00d4ff" stroke="#00d4ff"/>
<polygon points="564.19,345.33 561.31,341.86 576.81,336 579.68,339.38" fill="#00d4ff" stroke="#00d4ff"/>
<polygon points="579.68,339.38 576.81,336 592.08,329.47 594.94,332.77" fill="#00d6ff" stroke="#00d6ff"/>
<polygon points="312.63,344.3 309.52,339.56 329.7,345.1 332.79,349.74" fill="#00f738" stroke="#00f738"/>
<polygon points="332.79,349.74 329.7,345.1 349.45,349.67 352.51,354.21" fill="#00f95b" stroke="#00f95b"/>
<polygon points="352.51,354.21 349.45,349.67 368.77,353.29 371.82,357.74" fill="#00fa7b" stroke="#00fa7b"/>
<polygon points="371.82,357.74 368.77,353.29 387.7,356.01 390.72,360.35" fill="#00fb9d" stroke="#00fb9d"/>
<polygon points="390.72,360.35 387.7,356.01 406.24,357.83 409.25,362.09" fill="#00fdbc" stroke="#00fdbc"/>
<polygon points="409.25,362.09 406.24,357.83 424.42,358.8 427.41,362.96" fill="#00fed8" stroke="#00fed8"/>
<polygon points="427.41,362.96 424.42,358.8 442.25,358.94 445.22,363.01" fill="#00fef1" stroke="#00fef1"/>
<polygon points="445.22,363.01 442.25,358.94 459.74,358.27 462.7,362.25" fill="#00fbff" stroke="#00fbff"/>
<polygon points="462.7,362.25 459.74,358.27 476.91,356.81 479.86,360.7" fill="#00f1ff" stroke="#00f1ff"/>
<polygon points="479.86,360.7 476.91,356.81 493.78,354.59 496.71,358.39" fill="#00e9ff" stroke="#00e9ff"/>
<polygon points="496.71,358.39 493.78,354.59 510.35,351.61 513.27,355.33" fill="#00e3ff" stroke="#00e3ff"/>
<polygon points="513.27,355.33 510.35,351.61 526.65,347.91 529.55,351.54" fill="#00deff" stroke="#00deff"/>
<polygon points="529.55,351.54 526.65,347.91 542.67,343.5 545.56,347.05" fill="#00dbff" stroke="#00dbff"/>
<polygon points="545.56,347.05 542.67,343.5 558.43,338.4 561.31,341.86" fill="#00daff" stroke="#00daff"/>
<polygon points="561.31,341.86 558.43,338.4 573.95,332.62 576.81,336" fill="#00daff" stroke="#00daff"/>
<polygon points="576.81,336 573.95,332.62 589.23,326.18 592.08,329.47" fill="#00dcff" stroke="#00dcff"/>
<polygon points="309.52,339.56 306.42,334.82 326.62,340.47 329.7,345.1" fill="#00f72c" stroke="#00f72c"/>
<polygon points="329.7,345.1 326.62,340.47 346.39,345.13 349.45,349.67" fill="#00f84f" stroke="#00f84f"/>
<polygon points="349.45,349.67 346.39,345.13 365.73,348.85 368.77,353.29" fill="#00fa6e" stroke="#00fa6e"/>
<polygon points="368.77,353.29 365.73,348.85 384.67,351.66 387.7,356.01" fill="#00fb8f" stroke="#00fb8f"/>
<polygon points="387.7,356.01 384.67,351.66 403.23,353.58 406.24,357.83" fill="#00fcaf" stroke="#00fcaf"/>
<polygon points="406.24,357.83 403.23,353.58 421.43,354.65 424.42,358.8" fill="#00fdcb" stroke="#00fdcb"/>
<polygon points="424.42,358.8 421.43,354.65 439.27,354.87 442.25,358.94" fill="#00fee4" stroke="#00fee4"/>
<polygon points="442.25,358.94 439.27,354.87 456.78,354.29 459.74,358.27" fill="#00fffa" stroke="#00fffa"/>
<polygon points="459.74,358.27 456.78,354.29 473.97,352.92 476.91,356.81" fill="#00f8ff" stroke="#00f8ff"/>
<polygon points="476.91,356.81 473.97,352.92 490.86,350.78 493.78,354.59" fill="#00f0ff" stroke="#00f0ff"/>
<polygon points="493.78,354.59 490.86,350.78 507.44,347.9 510.35,351.61" fill="#00e9ff" stroke="#00e9ff"/>
<polygon points="510.35,351.61 507.44,347.9 523.75,344.29 526.65,347.91" fill="#00e5ff" stroke="#00e5ff"/>
<polygon points="526.65,347.91 523.75,344.29 539.78,339.96 542.67,343.5" fill="#00e1ff" stroke="#00e1ff"/>
<polygon points="542.67,343.5 539.78,339.96 555.56,334.94 558.43,338.4" fill="#00e0ff" stroke="#00e0ff"/>
<polygon points="558.43,338.4 555.56,334.94 571.09,329.24 573.95,332.62" fill="#00e0ff" stroke="#00e0ff"/>
<polygon points="573.95,332.62 571.09,329.24 586.38,322.88 589.23,326.18" fill="#00e2ff" stroke="#00e2ff"/>
<polygon points="306.42,334.82 303.32,330.09 323.55,335.83 326.62,340.47" fill="#00f620" stroke="#00f620"/>
<polygon points="326.62,340.47 323.55,335.83 343.33,340.6 346.39,345.13" fill="#00f843" stroke="#00f843"/>
<polygon points="346.39,345.13 343.33,340.6 362.69,344.41 365.73,348.85" fill="#00f963" stroke="#00f963"/>
<polygon points="365.73,348.85 362.69,344.41 381.65,347.32 384.67,351.66" fill="#00fa82" stroke="#00fa82"/>
<polygon points="384.67,351.66 381.65,347.32 400.23,349.33 403.23,353.58" fill="#00fca1" stroke="#00fca1"/>
<polygon points="403.23,353.58 400.23,349.33 418.45,350.49 421.43,354.65" fill="#00fdbe" stroke="#00fdbe"/>
<polygon points="421.43,354.65 418.45,350.49 436.31,350.81 439.27,354.87" fill="#00fed7" stroke="#00fed7"/>
<polygon points="439.27,354.87 436.31,350.81 453.83,350.32 456.78,354.29" fill="#00feed" stroke="#00feed"/>
<polygon points="456.78,354.29 453.83,350.32 471.04,349.04 473.97,352.92" fill="#00feff" stroke="#00feff"/>
<polygon points="473.97,352.92 471.04,349.04 487.93,346.99 490.86,350.78" fill="#00f6ff" stroke="#00f6ff"/>
<polygon points="490.86,350.78 487.93,346.99 504.54,344.19 507.44,347.9" fill="#00f0ff" stroke="#00f0ff"/>
<polygon points="507.44,347.9 504.54,344.19 520.85,340.66 523.75,344.29" fill="#00ebff" stroke="#00ebff"/>
<polygon points="523.75,344.29 520.85,340.66 536.9,336.42 539.78,339.96" fill="#00e8ff" stroke="#00e8ff"/>
<polygon points="539.78,339.96 536.9,336.42 552.69,331.48 555.56,334.94" fill="#00e6ff" stroke="#00e6ff"/>
<polygon points="555.56,334.94 552.69,331.48 568.23,325.86 571.09,329.24" fill="#00e6ff" stroke="#00e6ff"/>
<polygon points="571.09,329.24 568.23,325.86 583.54,319.58 586.38,322.88" fill="#00e8ff" stroke="#00e8ff"/>
<polygon points="303.32,330.09 300.23,325.36 320.47,331.2 323.55,335.83" fill="#00f614" stroke="#00f614"/>
<polygon points="323.55,335.83 320.47,331.2 340.28,336.07 343.33,340.6" fill="#00f737" stroke="#00f737"/>
<polygon points="343.33,340.6 340.28,336.07 359.66,339.98 362.69,344.41" fill="#00f957" stroke="#00f957"/>
<polygon points="362.69,344.41 359.66,339.98 378.64,342.98 381.65,347.32" fill="#00fa74" stroke="#00fa74"/>
<polygon points="381.65,347.32 378.64,342.98 397.24,345.09 400.23,349.33" fill="#00fb94" stroke="#00fb94"/>
<polygon points="400.23,349.33 397.24,345.09 415.47,346.34 418.45,350.49" fill="#00fcb0" stroke="#00fcb0"/>
<polygon points="418.45,350.49 415.47,346.34 433.34,346.75 436.31,350.81" fill="#00fdca" stroke="#00fdca"/>
<polygon points="436.31,350.81 433.34,346.75 450.88,346.35 453.83,350.32" fill="#00fee0" stroke="#00fee0"/>
<polygon points="453.83,350.32 450.88,346.35 468.1,345.15 471.04,349.04" fill="#00fff3" stroke="#00fff3"/>
<polygon points="471.04,349.04 468.1,345.15 485.02,343.19 487.93,346.99" fill="#00fdff" stroke="#00fdff"/>
<polygon points="487.93,346.99 485.02,343.19 501.63,340.48 504.54,344.19" fill="#00f6ff" stroke="#00f6ff"/>
<polygon points="504.54,344.19 501.63,340.48 517.96,337.03 520.85,340.66" fill="#00f1ff" stroke="#00f1ff"/>
<polygon points="520.85,340.66 517.96,337.03 534.03,332.87 536.9,336.42" fill="#00eeff" stroke="#00eeff"/>
<polygon points="536.9,336.42 534.03,332.87 549.83,328.02 552.69,331.48" fill="#00ecff" stroke="#00ecff"/>
<polygon points="552.69,331.48 549.83,328.02 565.38,322.49 568.23,325.86" fill="#00ecff" stroke="#00ecff"/>
<polygon points="568.23,325.86 565.38,322.49 580.7,316.29 583.54,319.58" fill="#00eeff" stroke="#00eeff"/>
<polygon points="300.23,325.36 297.14,320.64 317.41,326.59 320.47,331.2" fill="#00f508" stroke="#00f508"/>
<polygon points="320.47,331.2 317.41,326.59 337.23,331.55 340.28,336.07" fill="#00f72b" stroke="#00f72b"/>
<polygon points="340.28,336.07 337.23,331.55 356.63,335.56 359.66,339.98" fill="#00f84b" stroke="#00f84b"/>
<polygon points="359.66,339.98 356.63,335.56 375.63,338.65 378.64,342.98" fill="#00f969" stroke="#00f969"/>
<polygon points="378.64,342.98 375.63,338.65 394.24,340.85 397.24,345.09" fill="#00fb86" stroke="#00fb86"/>
<polygon points="397.24,345.09 394.24,340.85 412.49,342.19 415.47,346.34" fill="#00fca3" stroke="#00fca3"/>
<polygon points="415.47,346.34 412.49,342.19 430.38,342.69 433.34,346.75" fill="#00fdbd" stroke="#00fdbd"/>
<polygon points="433.34,346.75 430.38,342.69 447.94,342.38 450.88,346.35" fill="#00fdd3" stroke="#00fdd3"/>
<polygon points="450.88,346.35 447.94,342.38 465.18,341.27 468.1,345.15" fill="#00fee7" stroke="#00fee7"/>
<polygon points="468.1,345.15 465.18,341.27 482.1,339.4 485.02,343.19" fill="#00fff7" stroke="#00fff7"/>
<polygon points="485.02,343.19 482.1,339.4 498.73,336.77 501.63,340.48" fill="#00fdff" stroke="#00fdff"/>
<polygon points="501.63,340.48 498.73,336.77 515.08,333.41 517.96,337.03" fill="#00f8ff" stroke="#00f8ff"/>
<polygon points="517.96,337.03 515.08,333.41 531.15,329.34 534.03,332.87" fill="#00f4ff" stroke="#00f4ff"/>
<polygon points="534.03,332.87 531.15,329.34 546.97,324.56 549.83,328.02" fill="#00f2ff" stroke="#00f2ff"/>
<polygon points="549.83,328.02 546.97,324.56 562.54,319.11 565.38,322.49" fill="#00f2ff" stroke="#00f2ff"/>
<polygon points="565.38,322.49 562.54,319.11 577.86,312.99 580.7,316.29" fill="#00f4ff" stroke="#00f4ff"/>
<polygon points="297.14,320.64 294.06,315.94 314.34,321.98 317.41,326.59" fill="#05f500" stroke="#05f500"/>
<polygon points="317.41,326.59 314.34,321.98 334.18,327.03 337.23,331.55" fill="#00f61f" stroke="#00f61f"/>
<polygon points="337.23,331.55 334.18,327.03 353.6,331.14 356.63,335.56" fill="#00f83f" stroke="#00f83f"/>
<polygon points="356.63,335.56 353.6,331.14 372.62,334.33 375.63,338.65" fill="#00f95d" stroke="#00f95d"/>
<polygon points="375.63,338.65 372.62,334.33 391.25,336.62 394.24,340.85" fill="#00fa78" stroke="#00fa78"/>
<polygon points="394.24,340.85 391.25,336.62 409.52,338.05 412.49,342.19" fill="#00fb96" stroke="#00fb96"/>
<polygon points="412.49,342.19 409.52,338.05 427.43,338.64 430.38,342.69" fill="#00fcaf" stroke="#00fcaf"/>
<polygon points="430.38,342.69 427.43,338.64 445,338.42 447.94,342.38" fill="#00fdc6" stroke="#00fdc6"/>
<polygon points="447.94,342.38 445,338.42 462.25,337.4 465.18,341.27" fill="#00feda" stroke="#00feda"/>
<polygon points="465.18,341.27 462.25,337.4 479.19,335.61 482.1,339.4" fill="#00feea" stroke="#00feea"/>
<polygon points="482.1,339.4 479.19,335.61 495.84,333.07 498.73,336.77" fill="#00fff7" stroke="#00fff7"/>
<polygon points="498.73,336.77 495.84,333.07 512.2,329.79 515.08,333.41" fill="#00feff" stroke="#00feff"/>
<polygon points="515.08,333.41 512.2,329.79 528.29,325.8 531.15,329.34" fill="#00faff" stroke="#00faff"/>
<polygon points="531.15,329.34 528.29,325.8 544.11,321.11 546.97,324.56" fill="#00f8ff" stroke="#00f8ff"/>
<polygon points="546.97,324.56 544.11,321.11 559.69,315.74 562.54,319.11" fill="#00f8ff" stroke="#00f8ff"/>
<polygon points="562.54,319.11 559.69,315.74 575.03,309.7 577.86,312.99" fill="#00faff" stroke="#00faff"/>
<polygon points="294.06,315.94 290.98,311.25 311.28,317.38 314.34,321.98" fill="#12f400" stroke="#12f400"/>
<polygon points="314.34,321.98 311.28,317.38 331.14,322.54 334.18,327.03" fill="#00f613" stroke="#00f613"/>
<polygon points="334.18,327.03 331.14,322.54 350.58,326.74 353.6,331.14" fill="#00f734" stroke="#00f734"/>
<polygon points="353.6,331.14 350.58,326.74 369.62,330.02 372.62,334.33" fill="#00f852" stroke="#00f852"/>
<polygon points="372.62,334.33 369.62,330.02 388.27,332.4 391.25,336.62" fill="#00fa6d" stroke="#00fa6d"/>
<polygon points="391.25,336.62 388.27,332.4 406.55,333.92 409.52,338.05" fill="#00fb88" stroke="#00fb88"/>
<polygon points="409.52,338.05 406.55,333.92 424.48,334.6 427.43,338.64" fill="#00fca2" stroke="#00fca2"/>
<polygon points="427.43,338.64 424.48,334.6 442.06,334.46 445,338.42" fill="#00fcb9" stroke="#00fcb9"/>
<polygon points="445,338.42 442.06,334.46 459.33,333.53 462.25,337.4" fill="#00fdcd" stroke="#00fdcd"/>
<polygon points="462.25,337.4 459.33,333.53 476.29,331.83 479.19,335.61" fill="#00fedd" stroke="#00fedd"/>
<polygon points="479.19,335.61 476.29,331.83 492.94,329.37 495.84,333.07" fill="#00feeb" stroke="#00feeb"/>
<polygon points="495.84,333.07 492.94,329.37 509.32,326.18 512.2,329.79" fill="#00fff5" stroke="#00fff5"/>
<polygon points="512.2,329.79 509.32,326.18 525.42,322.27 528.29,325.8" fill="#00fffc" stroke="#00fffc"/>
<polygon points="528.29,325.8 525.42,322.27 541.26,317.66 544.11,321.11" fill="#00ffff" stroke="#00ffff"/>
<polygon points="544.11,321.11 541.26,317.66 556.85,312.37 559.69,315.74" fill="#00feff" stroke="#00feff"/>
<polygon points="559.69,315.74 556.85,312.37 572.2,306.41 575.03,309.7" fill="#00fffe" stroke="#00fffe"/>
<polygon points="290.98,311.25 287.9,306.57 308.23,312.81 311.28,317.38" fill="#20f400" stroke="#20f400"/>
<polygon points="311.28,317.38 308.23,312.81 328.11,318.05 331.14,322.54" fill="#00f507" stroke="#00f507"/>
<polygon points="331.14,322.54 328.11,318.05 347.57,322.35 350.58,326.74" fill="#00f728" stroke="#00f728"/>
<polygon points="350.58,326.74 347.57,322.35 366.62,325.72 369.62,330.02" fill="#00f846" stroke="#00f846"/>
<polygon points="369.62,330.02 366.62,325.72 385.29,328.2 388.27,332.4" fill="#00f962" stroke="#00f962"/>
<polygon points="388.27,332.4 385.29,328.2 403.58,329.8 406.55,333.92" fill="#00fa7b" stroke="#00fa7b"/>
<polygon points="406.55,333.92 403.58,329.8 421.53,330.57 424.48,334.6" fill="#00fb95" stroke="#00fb95"/>
<polygon points="424.48,334.6 421.53,330.57 439.13,330.52 442.06,334.46" fill="#00fcac" stroke="#00fcac"/>
<polygon points="442.06,334.46 439.13,330.52 456.41,329.67 459.33,333.53" fill="#00fdc0" stroke="#00fdc0"/>
<polygon points="459.33,333.53 456.41,329.67 473.38,328.05 476.29,331.83" fill="#00fdd1" stroke="#00fdd1"/>
<polygon points="476.29,331.83 473.38,328.05 490.06,325.68 492.94,329.37" fill="#00fede" stroke="#00fede"/>
<polygon points="492.94,329.37 490.06,325.68 506.44,322.56 509.32,326.18" fill="#00fee9" stroke="#00fee9"/>
<polygon points="509.32,326.18 506.44,322.56 522.56,318.74 525.42,322.27" fill="#00fef0" stroke="#00fef0"/>
<polygon points="525.42,322.27 522.56,318.74 538.41,314.21 541.26,317.66" fill="#00fff4" stroke="#00fff4"/>
<polygon points="541.26,317.66 538.41,314.21 554.01,309 556.85,312.37" fill="#00fff5" stroke="#00fff5"/>
<polygon points="556.85,312.37 554.01,309 569.38,303.11 572.2,306.41" fill="#00fff3" stroke="#00fff3"/>
<polygon points="287.9,306.57 284.83,301.91 305.18,308.24 308.23,312.81" fill="#2df300" stroke="#2df300"/>
<polygon points="308.23,312.81 305.18,308.24 325.08,313.58 328.11,318.05" fill="#05f500" stroke="#05f500"/>
<polygon points="328.11,318.05 325.08,313.58 344.55,317.97 347.57,322.35" fill="#00f61c" stroke="#00f61c"/>
<polygon points="347.57,322.35 344.55,317.97 363.63,321.43 366.62,325.72" fill="#00f73b" stroke="#00f73b"/>
<polygon points="366.62,325.72 363.63,321.43 382.31,324 385.29,328.2" fill="#00f956" stroke="#00f956"/>
<polygon points="385.29,328.2 382.31,324 400.62,325.69 403.58,329.8" fill="#00fa6f" stroke="#00fa6f"/>
<polygon points="403.58,329.8 400.62,325.69 418.58,326.55 421.53,330.57" fill="#00fb88" stroke="#00fb88"/>
<polygon points="421.53,330.57 418.58,326.55 436.2,326.58 439.13,330.52" fill="#00fb9f" stroke="#00fb9f"/>
<polygon points="439.13,330.52 436.2,326.58 453.5,325.82 456.41,329.67" fill="#00fcb3" stroke="#00fcb3"/>
<polygon points="456.41,329.67 453.5,325.82 470.49,324.28 473.38,328.05" fill="#00fdc4" stroke="#00fdc4"/>
<polygon points="473.38,328.05 470.49,324.28 487.17,321.99 490.06,325.68" fill="#00fdd2" stroke="#00fdd2"/>
<polygon points="490.06,325.68 487.17,321.99 503.57,318.96 506.44,322.56" fill="#00fedd" stroke="#00fedd"/>
<polygon points="506.44,322.56 503.57,318.96 519.7,315.21 522.56,318.74" fill="#00fee4" stroke="#00fee4"/>
<polygon points="522.56,318.74 519.7,315.21 535.57,310.76 538.41,314.21" fill="#00fee8" stroke="#00fee8"/>
<polygon points="538.41,314.21 535.57,310.76 551.18,305.63 554.01,309" fill="#00fee9" stroke="#00fee9"/>
<polygon points="554.01,309 551.18,305.63 566.55,299.82 569.38,303.11" fill="#00fee7" stroke="#00fee7"/>
<polygon points="284.83,301.91 281.77,297.26 302.13,303.69 305.18,308.24" fill="#3af300" stroke="#3af300"/>
<polygon points="305.18,308.24 302.13,303.69 322.05,309.12 325.08,313.58" fill="#13f400" stroke="#13f400"/>
<polygon points="325.08,313.58 322.05,309.12 341.55,313.6 344.55,317.97" fill="#00f610" stroke="#00f610"/>
<polygon points="344.55,317.97 341.55,313.6 360.64,317.15 363.63,321.43" fill="#00f72f" stroke="#00f72f"/>
<polygon points="363.63,321.43 360.64,317.15 379.34,319.8 382.31,324" fill="#00f84b" stroke="#00f84b"/>
<polygon points="382.31,324 379.34,319.8 397.67,321.59 400.62,325.69" fill="#00f964" stroke="#00f964"/>
<polygon points="400.62,325.69 397.67,321.59 415.64,322.53 418.58,326.55" fill="#00fa7b" stroke="#00fa7b"/>
<polygon points="418.58,326.55 415.64,322.53 433.28,322.65 436.2,326.58" fill="#00fb92" stroke="#00fb92"/>
<polygon points="436.2,326.58 433.28,322.65 450.59,321.97 453.5,325.82" fill="#00fca7" stroke="#00fca7"/>
<polygon points="453.5,325.82 450.59,321.97 467.59,320.51 470.49,324.28" fill="#00fcb8" stroke="#00fcb8"/>
<polygon points="470.49,324.28 467.59,320.51 484.29,318.3 487.17,321.99" fill="#00fdc6" stroke="#00fdc6"/>
<polygon points="487.17,321.99 484.29,318.3 500.71,315.35 503.57,318.96" fill="#00fdd1" stroke="#00fdd1"/>
<polygon points="503.57,318.96 500.71,315.35 516.85,311.68 519.7,315.21" fill="#00fed8" stroke="#00fed8"/>
<polygon points="519.7,315.21 516.85,311.68 532.73,307.31 535.57,310.76" fill="#00fedd" stroke="#00fedd"/>
<polygon points="535.57,310.76 532.73,307.31 548.35,302.26 551.18,305.63" fill="#00fede" stroke="#00fede"/>
<polygon points="551.18,305.63 548.35,302.26 563.74,296.53 566.55,299.82" fill="#00fedc" stroke="#00fedc"/>
<polygon points="281.77,297.26 278.7,292.62 299.09,299.14 302.13,303.69" fill="#48f200" stroke="#48f200"/>
<polygon points="302.13,303.69 299.09,299.14 319.03,304.66 322.05,309.12" fill="#20f400" stroke="#20f400"/>
<polygon points="322.05,309.12 319.03,304.66 338.54,309.23 341.55,313.6" fill="#00f505" stroke="#00f505"/>
<polygon points="341.55,313.6 338.54,309.23 357.65,312.87 360.64,317.15" fill="#00f623" stroke="#00f623"/>
<polygon points="360.64,317.15 357.65,312.87 376.37,315.61 379.34,319.8" fill="#00f83f" stroke="#00f83f"/>
<polygon points="379.34,319.8 376.37,315.61 394.72,317.48 397.67,321.59" fill="#00f959" stroke="#00f959"/>
<polygon points="397.67,321.59 394.72,317.48 412.71,318.51 415.64,322.53" fill="#00fa6f" stroke="#00fa6f"/>
<polygon points="415.64,322.53 412.71,318.51 430.36,318.71 433.28,322.65" fill="#00fa85" stroke="#00fa85"/>
<polygon points="433.28,322.65 430.36,318.71 447.69,318.12 450.59,321.97" fill="#00fb9a" stroke="#00fb9a"/>
<polygon points="450.59,321.97 447.69,318.12 464.7,316.74 467.59,320.51" fill="#00fcab" stroke="#00fcab"/>
<polygon points="467.59,320.51 464.7,316.74 481.42,314.61 484.29,318.3" fill="#00fcb9" stroke="#00fcb9"/>
<polygon points="484.29,318.3 481.42,314.61 497.84,311.74 500.71,315.35" fill="#00fdc4" stroke="#00fdc4"/>
<polygon points="500.71,315.35 497.84,311.74 514,308.15 516.85,311.68" fill="#00fdcc" stroke="#00fdcc"/>
<polygon points="516.85,311.68 514,308.15 529.89,303.86 532.73,307.31" fill="#00fdd1" stroke="#00fdd1"/>
<polygon points="532.73,307.31 529.89,303.86 545.53,298.88 548.35,302.26" fill="#00fdd2" stroke="#00fdd2"/>
<polygon points="548.35,302.26 545.53,298.88 560.92,293.23 563.74,296.53" fill="#00fdd0" stroke="#00fdd0"/>
<polygon points="278.7,292.62 275.64,287.98 296.05,294.59 299.09,299.14" fill="#55f200" stroke="#55f200"/>
<polygon points="299.09,299.14 296.05,294.59 316.01,300.21 319.03,304.66" fill="#2df300" stroke="#2df300"/>
<polygon points="319.03,304.66 316.01,300.21 335.54,304.87 338.54,309.23" fill="#08f500" stroke="#08f500"/>
<polygon points="338.54,309.23 335.54,304.87 354.67,308.6 357.65,312.87" fill="#00f618" stroke="#00f618"/>
<polygon points="357.65,312.87 354.67,308.6 373.4,311.43 376.37,315.61" fill="#00f734" stroke="#00f734"/>
<polygon points="376.37,315.61 373.4,311.43 391.77,313.38 394.72,317.48" fill="#00f84d" stroke="#00f84d"/>
<polygon points="394.72,317.48 391.77,313.38 409.78,314.49 412.71,318.51" fill="#00f964" stroke="#00f964"/>
<polygon points="412.71,318.51 409.78,314.49 427.44,314.78 430.36,318.71" fill="#00fa78" stroke="#00fa78"/>
<polygon points="430.36,318.71 427.44,314.78 444.78,314.26 447.69,318.12" fill="#00fb8d" stroke="#00fb8d"/>
<polygon points="447.69,318.12 444.78,314.26 461.81,312.97 464.7,316.74" fill="#00fb9f" stroke="#00fb9f"/>
<polygon points="464.7,316.74 461.81,312.97 478.54,310.92 481.42,314.61" fill="#00fcad" stroke="#00fcad"/>
<polygon points="481.42,314.61 478.54,310.92 494.99,308.13 497.84,311.74" fill="#00fcb8" stroke="#00fcb8"/>
<polygon points="497.84,311.74 494.99,308.13 511.15,304.62 514,308.15" fill="#00fdc0" stroke="#00fdc0"/>
<polygon points="514,308.15 511.15,304.62 527.06,300.4 529.89,303.86" fill="#00fdc5" stroke="#00fdc5"/>
<polygon points="529.89,303.86 527.06,300.4 542.71,295.5 545.53,298.88" fill="#00fdc6" stroke="#00fdc6"/>
<polygon points="545.53,298.88 542.71,295.5 558.12,289.93 560.92,293.23" fill="#00fdc5" stroke="#00fdc5"/>
<polygon points="275.64,287.98 272.59,283.34 293.01,290.05 296.05,294.59" fill="#63f100" stroke="#63f100"/>
<polygon points="296.05,294.59 293.01,290.05 312.99,295.75 316.01,300.21" fill="#3af300" stroke="#3af300"/>
<polygon points="316.01,300.21 312.99,295.75 332.54,300.5 335.54,304.87" fill="#15f400" stroke="#15f400"/>
<polygon points="335.54,304.87 332.54,300.5 351.69,304.32 354.67,308.6" fill="#00f60c" stroke="#00f60c"/>
<polygon points="354.67,308.6 351.69,304.32 370.44,307.23 373.4,311.43" fill="#00f729" stroke="#00f729"/>
<polygon points="373.4,311.43 370.44,307.23 388.82,309.28 391.77,313.38" fill="#00f842" stroke="#00f842"/>
<polygon points="391.77,313.38 388.82,309.28 406.85,310.47 409.78,314.49" fill="#00f959" stroke="#00f959"/>
<polygon points="409.78,314.49 406.85,310.47 424.53,310.84 427.44,314.78" fill="#00fa6d" stroke="#00fa6d"/>
<polygon points="427.44,314.78 424.53,310.84 441.89,310.41 444.78,314.26" fill="#00fa80" stroke="#00fa80"/>
<polygon points="444.78,314.26 441.89,310.41 458.93,309.2 461.81,312.97" fill="#00fb92" stroke="#00fb92"/>
<polygon points="461.81,312.97 458.93,309.2 475.67,307.22 478.54,310.92" fill="#00fba0" stroke="#00fba0"/>
<polygon points="478.54,310.92 475.67,307.22 492.13,304.51 494.99,308.13" fill="#00fcac" stroke="#00fcac"/>
<polygon points="494.99,308.13 492.13,304.51 508.31,301.08 511.15,304.62" fill="#00fcb4" stroke="#00fcb4"/>
<polygon points="511.15,304.62 508.31,301.08 524.23,296.94 527.06,300.4" fill="#00fcb9" stroke="#00fcb9"/>
<polygon points="527.06,300.4 524.23,296.94 539.89,292.12 542.71,295.5" fill="#00fcbb" stroke="#00fcbb"/>
<polygon points="542.71,295.5 539.89,292.12 555.31,286.62 558.12,289.93" fill="#00fcb9" stroke="#00fcb9"/>
<polygon points="272.59,283.34 269.54,278.7 289.98,285.5 293.01,290.05" fill="#70f100" stroke="#70f100"/>
<polygon points="293.01,290.05 289.98,285.5 309.98,291.3 312.99,295.75" fill="#47f200" stroke="#47f200"/>
<polygon points="312.99,295.75 309.98,291.3 329.55,296.13 332.54,300.5" fill="#22f400" stroke="#22f400"/>
<polygon points="332.54,300.5 329.55,296.13 348.71,300.04 351.69,304.32" fill="#00f501" stroke="#00f501"/>
<polygon points="351.69,304.32 348.71,300.04 367.48,303.04 370.44,307.23" fill="#00f61d" stroke="#00f61d"/>
<polygon points="370.44,307.23 367.48,303.04 385.88,305.17 388.82,309.28" fill="#00f737" stroke="#00f737"/>
<polygon points="388.82,309.28 385.88,305.17 403.92,306.44 406.85,310.47" fill="#00f84e" stroke="#00f84e"/>
<polygon points="406.85,310.47 403.92,306.44 421.62,306.89 424.53,310.84" fill="#00f962" stroke="#00f962"/>
<polygon points="424.53,310.84 421.62,306.89 438.99,306.54 441.89,310.41" fill="#00fa74" stroke="#00fa74"/>
<polygon points="441.89,310.41 438.99,306.54 456.05,305.41 458.93,309.2" fill="#00fa85" stroke="#00fa85"/>
<polygon points="458.93,309.2 456.05,305.41 472.81,303.52 475.67,307.22" fill="#00fb94" stroke="#00fb94"/>
<polygon points="475.67,307.22 472.81,303.52 489.28,300.89 492.13,304.51" fill="#00fb9f" stroke="#00fb9f"/>
<polygon points="492.13,304.51 489.28,300.89 505.47,297.53 508.31,301.08" fill="#00fca8" stroke="#00fca8"/>
<polygon points="508.31,301.08 505.47,297.53 521.4,293.47 524.23,296.94" fill="#00fcad" stroke="#00fcad"/>
<polygon points="524.23,296.94 521.4,293.47 537.08,288.72 539.89,292.12" fill="#00fcaf" stroke="#00fcaf"/>
<polygon points="539.89,292.12 537.08,288.72 552.51,283.3 555.31,286.62" fill="#00fcae" stroke="#00fcae"/>
<polygon points="269.54,278.7 266.49,274.05 286.96,280.94 289.98,285.5" fill="#7df000" stroke="#7df000"/>
<polygon points="289.98,285.5 286.96,280.94 306.97,286.83 309.98,291.3" fill="#55f200" stroke="#55f200"/>
<polygon points="309.98,291.3 306.97,286.83 326.56,291.76 329.55,296.13" fill="#2ff300" stroke="#2ff300"/>
<polygon points="329.55,296.13 326.56,291.76 345.74,295.75 348.71,300.04" fill="#0cf500" stroke="#0cf500"/>
<polygon points="348.71,300.04 345.74,295.75 364.53,298.84 367.48,303.04" fill="#00f612" stroke="#00f612"/>
<polygon points="367.48,303.04 364.53,298.84 382.95,301.05 385.88,305.17" fill="#00f72c" stroke="#00f72c"/>
<polygon points="385.88,305.17 382.95,301.05 401,302.41 403.92,306.44" fill="#00f843" stroke="#00f843"/>
<polygon points="403.92,306.44 401,302.41 418.72,302.94 421.62,306.89" fill="#00f957" stroke="#00f957"/>
<polygon points="421.62,306.89 418.72,302.94 436.1,302.67 438.99,306.54" fill="#00f969" stroke="#00f969"/>
<polygon points="438.99,306.54 436.1,302.67 453.18,301.62 456.05,305.41" fill="#00fa79" stroke="#00fa79"/>
<polygon points="456.05,305.41 453.18,301.62 469.95,299.81 472.81,303.52" fill="#00fb87" stroke="#00fb87"/>
<polygon points="472.81,303.52 469.95,299.81 486.43,297.26 489.28,300.89" fill="#00fb93" stroke="#00fb93"/>
<polygon points="489.28,300.89 486.43,297.26 502.64,293.98 505.47,297.53" fill="#00fb9c" stroke="#00fb9c"/>
<polygon points="505.47,297.53 502.64,293.98 518.58,290 521.4,293.47" fill="#00fca1" stroke="#00fca1"/>
<polygon points="521.4,293.47 518.58,290 534.27,285.32 537.08,288.72" fill="#00fca3" stroke="#00fca3"/>
<polygon points="537.08,288.72 534.27,285.32 549.71,279.97 552.51,283.3" fill="#00fca2" stroke="#00fca2"/>
<polygon points="266.49,274.05 263.45,269.4 283.93,276.37 286.96,280.94" fill="#8bf000" stroke="#8bf000"/>
<polygon points="286.96,280.94 283.93,276.37 303.97,282.35 306.97,286.83" fill="#62f100" stroke="#62f100"/>
<polygon points="306.97,286.83 303.97,282.35 323.58,287.37 326.56,291.76" fill="#3cf300" stroke="#3cf300"/>
<polygon points="326.56,291.76 323.58,287.37 342.77,291.45 345.74,295.75" fill="#19f400" stroke="#19f400"/>
<polygon points="345.74,295.75 342.77,291.45 361.58,294.62 364.53,298.84" fill="#00f506" stroke="#00f506"/>
<polygon points="364.53,298.84 361.58,294.62 380.01,296.92 382.95,301.05" fill="#00f620" stroke="#00f620"/>
<polygon points="382.95,301.05 380.01,296.92 398.09,298.36 401,302.41" fill="#00f738" stroke="#00f738"/>
<polygon points="401,302.41 398.09,298.36 415.82,298.98 418.72,302.94" fill="#00f84c" stroke="#00f84c"/>
<polygon points="418.72,302.94 415.82,298.98 433.22,298.79 436.1,302.67" fill="#00f95e" stroke="#00f95e"/>
<polygon points="436.1,302.67 433.22,298.79 450.31,297.82 453.18,301.62" fill="#00fa6e" stroke="#00fa6e"/>
<polygon points="453.18,301.62 450.31,297.82 467.09,296.09 469.95,299.81" fill="#00fa7b" stroke="#00fa7b"/>
<polygon points="469.95,299.81 467.09,296.09 483.59,293.61 486.43,297.26" fill="#00fb87" stroke="#00fb87"/>
<polygon points="486.43,297.26 483.59,293.61 499.81,290.41 502.64,293.98" fill="#00fb8f" stroke="#00fb8f"/>
<polygon points="502.64,293.98 499.81,290.41 515.76,286.51 518.58,290" fill="#00fb95" stroke="#00fb95"/>
<polygon points="518.58,290 515.76,286.51 531.46,281.91 534.27,285.32" fill="#00fb97" stroke="#00fb97"/>
<polygon points="534.27,285.32 531.46,281.91 546.92,276.63 549.71,279.97" fill="#00fb96" stroke="#00fb96"/>
<polygon points="263.45,269.4 260.41,264.73 280.91,271.8 283.93,276.37" fill="#98ef00" stroke="#98ef00"/>
<polygon points="283.93,276.37 280.91,271.8 300.97,277.87 303.97,282.35" fill="#6ff100" stroke="#6ff100"/>
<polygon points="303.97,282.35 300.97,277.87 320.59,282.97 323.58,287.37" fill="#49f200" stroke="#49f200"/>
<polygon points="323.58,287.37 320.59,282.97 339.81,287.14 342.77,291.45" fill="#26f400" stroke="#26f400"/>
<polygon points="342.77,291.45 339.81,287.14 358.63,290.4 361.58,294.62" fill="#06f500" stroke="#06f500"/>
<polygon points="361.58,294.62 358.63,290.4 377.08,292.78 380.01,296.92" fill="#00f615" stroke="#00f615"/>
<polygon points="380.01,296.92 377.08,292.78 395.17,294.3 398.09,298.36" fill="#00f72c" stroke="#00f72c"/>
<polygon points="398.09,298.36 395.17,294.3 412.92,295 415.82,298.98" fill="#00f841" stroke="#00f841"/>
<polygon points="415.82,298.98 412.92,295 430.34,294.9 433.22,298.79" fill="#00f853" stroke="#00f853"/>
<polygon points="433.22,298.79 430.34,294.9 447.44,294.01 450.31,297.82" fill="#00f963" stroke="#00f963"/>
<polygon points="450.31,297.82 447.44,294.01 464.24,292.35 467.09,296.09" fill="#00fa70" stroke="#00fa70"/>
<polygon points="467.09,296.09 464.24,292.35 480.75,289.96 483.59,293.61" fill="#00fa7a" stroke="#00fa7a"/>
<polygon points="483.59,293.61 480.75,289.96 496.98,286.83 499.81,290.41" fill="#00fa83" stroke="#00fa83"/>
<polygon points="499.81,290.41 496.98,286.83 512.95,283 515.76,286.51" fill="#00fb89" stroke="#00fb89"/>
<polygon points="515.76,286.51 512.95,283 528.66,278.48 531.46,281.91" fill="#00fb8b" stroke="#00fb8b"/>
<polygon points="531.46,281.91 528.66,278.48 544.13,273.28 546.92,276.63" fill="#00fb8b" stroke="#00fb8b"/>
<polygon points="260.41,264.73 257.37,260.04 277.9,267.2 280.91,271.8" fill="#a6ee00" stroke="#a6ee00"/>
<polygon points="280.91,271.8 277.9,267.2 297.97,273.36 300.97,277.87" fill="#7df000" stroke="#7df000"/>
<polygon points="300.97,277.87 297.97,273.36 317.62,278.55 320.59,282.97" fill="#57f200" stroke="#57f200"/>
<polygon points="320.59,282.97 317.62,278.55 336.85,282.81 339.81,287.14" fill="#33f300" stroke="#33f300"/>
<polygon points="339.81,287.14 336.85,282.81 355.69,286.15 358.63,290.4" fill="#13f400" stroke="#13f400"/>
<polygon points="358.63,290.4 355.69,286.15 374.16,288.62 377.08,292.78" fill="#00f509" stroke="#00f509"/>
<polygon points="377.08,292.78 374.16,288.62 392.26,290.23 395.17,294.3" fill="#00f621" stroke="#00f621"/>
<polygon points="395.17,294.3 392.26,290.23 410.03,291.01 412.92,295" fill="#00f736" stroke="#00f736"/>
<polygon points="412.92,295 410.03,291.01 427.46,290.99 430.34,294.9" fill="#00f848" stroke="#00f848"/>
<polygon points="430.34,294.9 427.46,290.99 444.57,290.18 447.44,294.01" fill="#00f958" stroke="#00f958"/>
<polygon points="447.44,294.01 444.57,290.18 461.39,288.6 464.24,292.35" fill="#00f965" stroke="#00f965"/>
<polygon points="464.24,292.35 461.39,288.6 477.91,286.28 480.75,289.96" fill="#00fa6f" stroke="#00fa6f"/>
<polygon points="480.75,289.96 477.91,286.28 494.16,283.24 496.98,286.83" fill="#00fa77" stroke="#00fa77"/>
<polygon points="496.98,286.83 494.16,283.24 510.14,279.48 512.95,283" fill="#00fa7d" stroke="#00fa7d"/>
<polygon points="512.95,283 510.14,279.48 525.86,275.04 528.66,278.48" fill="#00fa7f" stroke="#00fa7f"/>
<polygon points="528.66,278.48 525.86,275.04 541.34,269.91 544.13,273.28" fill="#00fa7f" stroke="#00fa7f"/>
<polygon points="257.37,260.04 254.34,255.33 274.88,262.58 277.9,267.2" fill="#b4ee00" stroke="#b4ee00"/>
<polygon points="277.9,267.2 274.88,262.58 294.98,268.84 297.97,273.36" fill="#8af000" stroke="#8af000"/>
<polygon points="297.97,273.36 294.98,268.84 314.64,274.12 317.62,278.55" fill="#64f100" stroke="#64f100"/>
<polygon points="317.62,278.55 314.64,274.12 333.89,278.46 336.85,282.81" fill="#41f200" stroke="#41f200"/>
<polygon points="336.85,282.81 333.89,278.46 352.75,281.89 355.69,286.15" fill="#20f400" stroke="#20f400"/>
<polygon points="355.69,286.15 352.75,281.89 371.23,284.44 374.16,288.62" fill="#03f500" stroke="#03f500"/>
<polygon points="374.16,288.62 371.23,284.44 389.36,286.14 392.26,290.23" fill="#00f616" stroke="#00f616"/>
<polygon points="392.26,290.23 389.36,286.14 407.14,287 410.03,291.01" fill="#00f72b" stroke="#00f72b"/>
<polygon points="410.03,291.01 407.14,287 424.58,287.06 427.46,290.99" fill="#00f83d" stroke="#00f83d"/>
<polygon points="427.46,290.99 424.58,287.06 441.71,286.33 444.57,290.18" fill="#00f84d" stroke="#00f84d"/>
<polygon points="444.57,290.18 441.71,286.33 458.54,284.84 461.39,288.6" fill="#00f95a" stroke="#00f95a"/>
<polygon points="461.39,288.6 458.54,284.84 475.08,282.6 477.91,286.28" fill="#00f965" stroke="#00f965"/>
<polygon points="477.91,286.28 475.08,282.6 491.34,279.63 494.16,283.24" fill="#00fa6c" stroke="#00fa6c"/>
<polygon points="494.16,283.24 491.34,279.63 507.33,275.95 510.14,279.48" fill="#00fa72" stroke="#00fa72"/>
<polygon points="510.14,279.48 507.33,275.95 523.07,271.58 525.86,275.04" fill="#00fa74" stroke="#00fa74"/>
<polygon points="525.86,275.04 523.07,271.58 538.56,266.53 541.34,269.91" fill="#00fa74" stroke="#00fa74"/>
<polygon points="254.34,255.33 251.31,250.61 271.88,257.95 274.88,262.58" fill="#c2ed00" stroke="#c2ed00"/>
<polygon points="274.88,262.58 271.88,257.95 291.99,264.29 294.98,268.84" fill="#98ef00" stroke="#98ef00"/>
<polygon points="294.98,268.84 291.99,264.29 311.67,269.66 314.64,274.12" fill="#71f100" stroke="#71f100"/>
<polygon points="314.64,274.12 311.67,269.66 330.94,274.09 333.89,278.46" fill="#4ef200" stroke="#4ef200"/>
<polygon points="333.89,278.46 330.94,274.09 349.82,277.61 352.75,281.89" fill="#2df300" stroke="#2df300"/>
<polygon points="352.75,281.89 349.82,277.61 368.32,280.25 371.23,284.44" fill="#10f400" stroke="#10f400"/>
<polygon points="371.23,284.44 368.32,280.25 386.46,282.03 389.36,286.14" fill="#00f50a" stroke="#00f50a"/>
<polygon points="389.36,286.14 386.46,282.03 404.25,282.98 407.14,287" fill="#00f61f" stroke="#00f61f"/>
<polygon points="407.14,287 404.25,282.98 421.71,283.12 424.58,287.06" fill="#00f732" stroke="#00f732"/>
<polygon points="424.58,287.06 421.71,283.12 438.86,282.47 441.71,286.33" fill="#00f842" stroke="#00f842"/>
<polygon points="441.71,286.33 438.86,282.47 455.7,281.05 458.54,284.84" fill="#00f84f" stroke="#00f84f"/>
<polygon points="458.54,284.84 455.7,281.05 472.25,278.89 475.08,282.6" fill="#00f95a" stroke="#00f95a"/>
<polygon points="475.08,282.6 472.25,278.89 488.52,276 491.34,279.63" fill="#00f962" stroke="#00f962"/>
<polygon points="491.34,279.63 488.52,276 504.53,272.4 507.33,275.95" fill="#00f967" stroke="#00f967"/>
<polygon points="507.33,275.95 504.53,272.4 520.28,268.1 523.07,271.58" fill="#00f96a" stroke="#00f96a"/>
<polygon points="523.07,271.58 520.28,268.1 535.78,263.13 538.56,266.53" fill="#00f96a" stroke="#00f96a"/>
<polygon points="251.31,250.61 248.29,245.87 268.87,253.31 271.88,257.95" fill="#cfed00" stroke="#cfed00"/>
<polygon points="271.88,257.95 268.87,253.31 289,259.74 291.99,264.29" fill="#a6ef00" stroke="#a6ef00"/>
<polygon points="291.99,264.29 289,259.74 308.7,265.2 311.67,269.66" fill="#7ff000" stroke="#7ff000"/>
<polygon points="311.67,269.66 308.7,265.2 327.99,269.72 330.94,274.09" fill="#5bf100" stroke="#5bf100"/>
<polygon points="330.94,274.09 327.99,269.72 346.88,273.32 349.82,277.61" fill="#3af300" stroke="#3af300"/>
<polygon points="349.82,277.61 346.88,273.32 365.4,276.04 368.32,280.25" fill="#1df400" stroke="#1df400"/>
<polygon points="368.32,280.25 365.4,276.04 383.56,277.91 386.46,282.03" fill="#02f500" stroke="#02f500"/>
<polygon points="386.46,282.03 383.56,277.91 401.37,278.94 404.25,282.98" fill="#00f614" stroke="#00f614"/>
<polygon points="404.25,282.98 401.37,278.94 418.84,279.16 421.71,283.12" fill="#00f727" stroke="#00f727"/>
<polygon points="421.71,283.12 418.84,279.16 436,278.59 438.86,282.47" fill="#00f737" stroke="#00f737"/>
<polygon points="438.86,282.47 436,278.59 452.86,277.25 455.7,281.05" fill="#00f844" stroke="#00f844"/>
<polygon points="455.7,281.05 452.86,277.25 469.43,275.17 472.25,278.89" fill="#00f84f" stroke="#00f84f"/>
<polygon points="472.25,278.89 469.43,275.17 485.71,272.35 488.52,276" fill="#00f957" stroke="#00f957"/>
<polygon points="488.52,276 485.71,272.35 501.73,268.83 504.53,272.4" fill="#00f95d" stroke="#00f95d"/>
<polygon points="504.53,272.4 501.73,268.83 517.49,264.61 520.28,268.1" fill="#00f95f" stroke="#00f95f"/>
<polygon points="520.28,268.1 517.49,264.61 533.01,259.71 535.78,263.13" fill="#00f95f" stroke="#00f95f"/>
<polygon points="248.29,245.87 245.26,241.12 265.87,248.65 268.87,253.31" fill="#ddec00" stroke="#ddec00"/>
<polygon points="268.87,253.31 265.87,248.65 286.02,255.17 289,259.74" fill="#b3ee00" stroke="#b3ee00"/>
<polygon points="289,259.74 286.02,255.17 305.74,260.72 308.7,265.2" fill="#8def00" stroke="#8def00"/>
<polygon points="308.7,265.2 305.74,260.72 325.05,265.32 327.99,269.72" fill="#69f100" stroke="#69f100"/>
<polygon points="327.99,269.72 325.05,265.32 343.96,269.01 346.88,273.32" fill="#48f200" stroke="#48f200"/>
<polygon points="346.88,273.32 343.96,269.01 362.49,271.82 365.4,276.04" fill="#2af300" stroke="#2af300"/>
<polygon points="365.4,276.04 362.49,271.82 380.66,273.77 383.56,277.91" fill="#0ff400" stroke="#0ff400"/>
<polygon points="383.56,277.91 380.66,273.77 398.49,274.88 401.37,278.94" fill="#00f508" stroke="#00f508"/>
<polygon points="401.37,278.94 398.49,274.88 415.98,275.18 418.84,279.16" fill="#00f61b" stroke="#00f61b"/>
<polygon points="418.84,279.16 415.98,275.18 433.16,274.69 436,278.59" fill="#00f72c" stroke="#00f72c"/>
<polygon points="436,278.59 433.16,274.69 450.03,273.43 452.86,277.25" fill="#00f739" stroke="#00f739"/>
<polygon points="452.86,277.25 450.03,273.43 466.61,271.43 469.43,275.17" fill="#00f844" stroke="#00f844"/>
<polygon points="469.43,275.17 466.61,271.43 482.9,268.69 485.71,272.35" fill="#00f84c" stroke="#00f84c"/>
<polygon points="485.71,272.35 482.9,268.69 498.94,265.24 501.73,268.83" fill="#00f852" stroke="#00f852"/>
<polygon points="501.73,268.83 498.94,265.24 514.71,261.1 517.49,264.61" fill="#00f955" stroke="#00f955"/>
<polygon points="517.49,264.61 514.71,261.1 530.23,256.28 533.01,259.71" fill="#00f955" stroke="#00f955"/>
<polygon points="245.26,241.12 242.25,236.36 262.87,243.98 265.87,248.65" fill="#ebec00" stroke="#ebec00"/>
<polygon points="265.87,248.65 262.87,243.98 283.04,250.59 286.02,255.17" fill="#c1ed00" stroke="#c1ed00"/>
<polygon points="286.02,255.17 283.04,250.59 302.78,256.23 305.74,260.72" fill="#9aef00" stroke="#9aef00"/>
<polygon points="305.74,260.72 302.78,256.23 322.1,260.92 325.05,265.32" fill="#76f000" stroke="#76f000"/>
<polygon points="325.05,265.32 322.1,260.92 341.03,264.7 343.96,269.01" fill="#55f200" stroke="#55f200"/>
<polygon points="343.96,269.01 341.03,264.7 359.58,267.59 362.49,271.82" fill="#37f300" stroke="#37f300"/>
<polygon points="362.49,271.82 359.58,267.59 377.77,269.61 380.66,273.77" fill="#1cf400" stroke="#1cf400"/>
<polygon points="380.66,273.77 377.77,269.61 395.61,270.81 398.49,274.88" fill="#04f500" stroke="#04f500"/>
<polygon points="398.49,274.88 395.61,270.81 413.12,271.19 415.98,275.18" fill="#00f610" stroke="#00f610"/>
<polygon points="415.98,275.18 413.12,271.19 430.31,270.78 433.16,274.69" fill="#00f620" stroke="#00f620"/>
<polygon points="433.16,274.69 430.31,270.78 447.2,269.6 450.03,273.43" fill="#00f72e" stroke="#00f72e"/>
<polygon points="450.03,273.43 447.2,269.6 463.79,267.67 466.61,271.43" fill="#00f739" stroke="#00f739"/>
<polygon points="466.61,271.43 463.79,267.67 480.1,265.01 482.9,268.69" fill="#00f842" stroke="#00f842"/>
<polygon points="482.9,268.69 480.1,265.01 496.14,261.64 498.94,265.24" fill="#00f847" stroke="#00f847"/>
<polygon points="498.94,265.24 496.14,261.64 511.93,257.57 514.71,261.1" fill="#00f84a" stroke="#00f84a"/>
<polygon points="514.71,261.1 511.93,257.57 527.47,252.82 530.23,256.28" fill="#00f84b" stroke="#00f84b"/>
<polygon points="242.25,236.36 239.23,231.6 259.87,239.31 262.87,243.98" fill="#f9eb00" stroke="#f9eb00"/>
<polygon points="262.87,243.98 259.87,239.31 280.06,246.01 283.04,250.59" fill="#cfed00" stroke="#cfed00"/>
<polygon points="283.04,250.59 280.06,246.01 299.82,251.73 302.78,256.23" fill="#a8ee00" stroke="#a8ee00"/>
<polygon points="302.78,256.23 299.82,251.73 319.16,256.51 322.1,260.92" fill="#84f000" stroke="#84f000"/>
<polygon points="322.1,260.92 319.16,256.51 338.11,260.37 341.03,264.7" fill="#62f100" stroke="#62f100"/>
<polygon points="341.03,264.7 338.11,260.37 356.68,263.34 359.58,267.59" fill="#44f200" stroke="#44f200"/>
<polygon points="359.58,267.59 356.68,263.34 374.88,265.45 377.77,269.61" fill="#29f300" stroke="#29f300"/>
<polygon points="377.77,269.61 374.88,265.45 392.74,266.72 395.61,270.81" fill="#10f400" stroke="#10f400"/>
<polygon points="395.61,270.81 392.74,266.72 410.26,267.19 413.12,271.19" fill="#00f504" stroke="#00f504"/>
<polygon points="413.12,271.19 410.26,267.19 427.47,266.85 430.31,270.78" fill="#00f615" stroke="#00f615"/>
<polygon points="430.31,270.78 427.47,266.85 444.37,265.75 447.2,269.6" fill="#00f623" stroke="#00f623"/>
<polygon points="447.2,269.6 444.37,265.75 460.97,263.9 463.79,267.67" fill="#00f72e" stroke="#00f72e"/>
<polygon points="463.79,267.67 460.97,263.9 477.3,261.32 480.1,265.01" fill="#00f737" stroke="#00f737"/>
<polygon points="480.1,265.01 477.3,261.32 493.36,258.02 496.14,261.64" fill="#00f83d" stroke="#00f83d"/>
<polygon points="496.14,261.64 493.36,258.02 509.15,254.02 511.93,257.57" fill="#00f840" stroke="#00f840"/>
<polygon points="511.93,257.57 509.15,254.02 524.7,249.35 527.47,252.82" fill="#00f840" stroke="#00f840"/>
<polygon points="239.23,231.6 236.22,226.83 256.88,234.63 259.87,239.31" fill="#ffe700" stroke="#ffe700"/>
<polygon points="259.87,239.31 256.88,234.63 277.09,241.42 280.06,246.01" fill="#ddec00" stroke="#ddec00"/>
<polygon points="280.06,246.01 277.09,241.42 296.87,247.22 299.82,251.73" fill="#b6ee00" stroke="#b6ee00"/>
<polygon points="299.82,251.73 296.87,247.22 316.23,252.09 319.16,256.51" fill="#91ef00" stroke="#91ef00"/>
<polygon points="319.16,256.51 316.23,252.09 335.19,256.03 338.11,260.37" fill="#70f100" stroke="#70f100"/>
<polygon points="338.11,260.37 335.19,256.03 353.78,259.08 356.68,263.34" fill="#51f200" stroke="#51f200"/>
<polygon points="356.68,263.34 353.78,259.08 372,261.28 374.88,265.45" fill="#36f300" stroke="#36f300"/>
<polygon points="374.88,265.45 372,261.28 389.87,262.63 392.74,266.72" fill="#1df400" stroke="#1df400"/>
<polygon points="392.74,266.72 389.87,262.63 407.41,263.17 410.26,267.19" fill="#08f500" stroke="#08f500"/>
<polygon points="410.26,267.19 407.41,263.17 424.63,262.92 427.47,266.85" fill="#00f50a" stroke="#00f50a"/>
<polygon points="427.47,266.85 424.63,262.92 441.54,261.89 444.37,265.75" fill="#00f618" stroke="#00f618"/>
<polygon points="444.37,265.75 441.54,261.89 458.16,260.11 460.97,263.9" fill="#00f623" stroke="#00f623"/>
<polygon points="460.97,263.9 458.16,260.11 474.5,257.61 477.3,261.32" fill="#00f72c" stroke="#00f72c"/>
<polygon points="477.3,261.32 474.5,257.61 490.57,254.38 493.36,258.02" fill="#00f732" stroke="#00f732"/>
<polygon points="493.36,258.02 490.57,254.38 506.38,250.46 509.15,254.02" fill="#00f735" stroke="#00f735"/>
<polygon points="509.15,254.02 506.38,250.46 521.94,245.85 524.7,249.35" fill="#00f736" stroke="#00f736"/>
<polygon points="236.22,226.83 233.21,222.06 253.9,229.95 256.88,234.63" fill="#ffe100" stroke="#ffe100"/>
<polygon points="256.88,234.63 253.9,229.95 274.12,236.82 277.09,241.42" fill="#ebec00" stroke="#ebec00"/>
<polygon points="277.09,241.42 274.12,236.82 293.92,242.72 296.87,247.22" fill="#c4ed00" stroke="#c4ed00"/>
<polygon points="296.87,247.22 293.92,242.72 313.3,247.66 316.23,252.09" fill="#9fef00" stroke="#9fef00"/>
<polygon points="316.23,252.09 313.3,247.66 332.28,251.69 335.19,256.03" fill="#7df000" stroke="#7df000"/>
<polygon points="335.19,256.03 332.28,251.69 350.88,254.82 353.78,259.08" fill="#5ff100" stroke="#5ff100"/>
<polygon points="353.78,259.08 350.88,254.82 369.12,257.09 372,261.28" fill="#43f200" stroke="#43f200"/>
<polygon points="372,261.28 369.12,257.09 387.01,258.52 389.87,262.63" fill="#2af300" stroke="#2af300"/>
<polygon points="389.87,262.63 387.01,258.52 404.56,259.14 407.41,263.17" fill="#15f400" stroke="#15f400"/>
<polygon points="407.41,263.17 404.56,259.14 421.79,258.96 424.63,262.92" fill="#02f500" stroke="#02f500"/>
<polygon points="424.63,262.92 421.79,258.96 438.72,258.01 441.54,261.89" fill="#00f60c" stroke="#00f60c"/>
<polygon points="441.54,261.89 438.72,258.01 455.36,256.31 458.16,260.11" fill="#00f618" stroke="#00f618"/>
<polygon points="458.16,260.11 455.36,256.31 471.71,253.87 474.5,257.61" fill="#00f621" stroke="#00f621"/>
<polygon points="474.5,257.61 471.71,253.87 487.79,250.72 490.57,254.38" fill="#00f727" stroke="#00f727"/>
<polygon points="490.57,254.38 487.79,250.72 503.61,246.87 506.38,250.46" fill="#00f72a" stroke="#00f72a"/>
<polygon points="506.38,250.46 503.61,246.87 519.19,242.34 521.94,245.85" fill="#00f72b" stroke="#00f72b"/>
<polygon points="233.21,222.06 230.21,217.3 250.91,225.28 253.9,229.95" fill="#ffda00" stroke="#ffda00"/>
<polygon points="253.9,229.95 250.91,225.28 271.16,232.23 274.12,236.82" fill="#f9eb00" stroke="#f9eb00"/>
<polygon points="274.12,236.82 271.16,232.23 290.97,238.21 293.92,242.72" fill="#d1ed00" stroke="#d1ed00"/>
<polygon points="293.92,242.72 290.97,238.21 310.37,243.23 313.3,247.66" fill="#adee00" stroke="#adee00"/>
<polygon points="313.3,247.66 310.37,243.23 329.37,247.34 332.28,251.69" fill="#8bf000" stroke="#8bf000"/>
<polygon points="332.28,251.69 329.37,247.34 347.99,250.55 350.88,254.82" fill="#6cf100" stroke="#6cf100"/>
<polygon points="350.88,254.82 347.99,250.55 366.24,252.9 369.12,257.09" fill="#50f200" stroke="#50f200"/>
<polygon points="369.12,257.09 366.24,252.9 384.14,254.41 387.01,258.52" fill="#38f300" stroke="#38f300"/>
<polygon points="387.01,258.52 384.14,254.41 401.71,255.1 404.56,259.14" fill="#22f400" stroke="#22f400"/>
<polygon points="404.56,259.14 401.71,255.1 418.96,255 421.79,258.96" fill="#0ff400" stroke="#0ff400"/>
<polygon points="421.79,258.96 418.96,255 435.91,254.12 438.72,258.01" fill="#00f501" stroke="#00f501"/>
<polygon points="438.72,258.01 435.91,254.12 452.55,252.49 455.36,256.31" fill="#00f60d" stroke="#00f60d"/>
<polygon points="455.36,256.31 452.55,252.49 468.92,250.13 471.71,253.87" fill="#00f616" stroke="#00f616"/>
<polygon points="471.71,253.87 468.92,250.13 485.02,247.05 487.79,250.72" fill="#00f61c" stroke="#00f61c"/>
<polygon points="487.79,250.72 485.02,247.05 500.85,243.27 503.61,246.87" fill="#00f620" stroke="#00f620"/>
<polygon points="503.61,246.87 500.85,243.27 516.44,238.8 519.19,242.34" fill="#00f621" stroke="#00f621"/>
<polygon points="230.21,217.3 227.21,212.55 247.93,220.6 250.91,225.28" fill="#ffd300" stroke="#ffd300"/>
<polygon points="250.91,225.28 247.93,220.6 268.2,227.64 271.16,232.23" fill="#ffe700" stroke="#ffe700"/>
<polygon points="271.16,232.23 268.2,227.64 288.03,233.7 290.97,238.21" fill="#dfec00" stroke="#dfec00"/>
<polygon points="290.97,238.21 288.03,233.7 307.44,238.8 310.37,243.23" fill="#baee00" stroke="#baee00"/>
<polygon points="310.37,243.23 307.44,238.8 326.46,242.99 329.37,247.34" fill="#99ef00" stroke="#99ef00"/>
<polygon points="329.37,247.34 326.46,242.99 345.1,246.28 347.99,250.55" fill="#7af000" stroke="#7af000"/>
<polygon points="347.99,250.55 345.1,246.28 363.37,248.7 366.24,252.9" fill="#5ef100" stroke="#5ef100"/>
<polygon points="366.24,252.9 363.37,248.7 381.29,250.28 384.14,254.41" fill="#45f200" stroke="#45f200"/>
<polygon points="384.14,254.41 381.29,250.28 398.87,251.05 401.71,255.1" fill="#2ff300" stroke="#2ff300"/>
<polygon points="401.71,255.1 398.87,251.05 416.14,251.02 418.96,255" fill="#1cf400" stroke="#1cf400"/>
<polygon points="418.96,255 416.14,251.02 433.09,250.21 435.91,254.12" fill="#0cf500" stroke="#0cf500"/>
<polygon points="435.91,254.12 433.09,250.21 449.75,248.66 452.55,252.49" fill="#00f501" stroke="#00f501"/>
<polygon points="452.55,252.49 449.75,248.66 466.13,246.36 468.92,250.13" fill="#00f50a" stroke="#00f50a"/>
<polygon points="468.92,250.13 466.13,246.36 482.24,243.35 485.02,247.05" fill="#00f611" stroke="#00f611"/>
<polygon points="485.02,247.05 482.24,243.35 498.09,239.64 500.85,243.27" fill="#00f615" stroke="#00f615"/>
<polygon points="500.85,243.27 498.09,239.64 513.69,235.24 516.44,238.8" fill="#00f616" stroke="#00f616"/>
<polygon points="227.21,212.55 224.21,207.8 244.96,215.94 247.93,220.6" fill="#ffcd00" stroke="#ffcd00"/>
<polygon points="247.93,220.6 244.96,215.94 265.24,223.06 268.2,227.64" fill="#ffe100" stroke="#ffe100"/>
<polygon points="268.2,227.64 265.24,223.06 285.09,229.19 288.03,233.7" fill="#edec00" stroke="#edec00"/>
<polygon points="288.03,233.7 285.09,229.19 304.52,234.37 307.44,238.8" fill="#c8ed00" stroke="#c8ed00"/>
<polygon points="307.44,238.8 304.52,234.37 323.56,238.63 326.46,242.99" fill="#a6ee00" stroke="#a6ee00"/>
<polygon points="326.46,242.99 323.56,238.63 342.21,242 345.1,246.28" fill="#87f000" stroke="#87f000"/>
<polygon points="345.1,246.28 342.21,242 360.49,244.5 363.37,248.7" fill="#6bf100" stroke="#6bf100"/>
<polygon points="363.37,248.7 360.49,244.5 378.43,246.15 381.29,250.28" fill="#52f200" stroke="#52f200"/>
<polygon points="381.29,250.28 378.43,246.15 396.03,246.99 398.87,251.05" fill="#3cf300" stroke="#3cf300"/>
<polygon points="398.87,251.05 396.03,246.99 413.31,247.03 416.14,251.02" fill="#29f300" stroke="#29f300"/>
<polygon points="416.14,251.02 413.31,247.03 430.28,246.29 433.09,250.21" fill="#18f400" stroke="#18f400"/>
<polygon points="433.09,250.21 430.28,246.29 446.96,244.81 449.75,248.66" fill="#0bf500" stroke="#0bf500"/>
<polygon points="449.75,248.66 446.96,244.81 463.35,242.58 466.13,246.36" fill="#01f500" stroke="#01f500"/>
<polygon points="466.13,246.36 463.35,242.58 479.47,239.64 482.24,243.35" fill="#00f506" stroke="#00f506"/>
<polygon points="482.24,243.35 479.47,239.64 495.33,235.99 498.09,239.64" fill="#00f50a" stroke="#00f50a"/>
<polygon points="498.09,239.64 495.33,235.99 510.94,231.66 513.69,235.24" fill="#00f50b" stroke="#00f50b"/>
<polygon points="224.21,207.8 221.22,203.07 241.98,211.29 244.96,215.94" fill="#ffc600" stroke="#ffc600"/>
<polygon points="244.96,215.94 241.98,211.29 262.29,218.48 265.24,223.06" fill="#ffda00" stroke="#ffda00"/>
<polygon points="265.24,223.06 262.29,218.48 282.16,224.69 285.09,229.19" fill="#fbeb00" stroke="#fbeb00"/>
<polygon points="285.09,229.19 282.16,224.69 301.61,229.95 304.52,234.37" fill="#d6ed00" stroke="#d6ed00"/>
<polygon points="304.52,234.37 301.61,229.95 320.66,234.28 323.56,238.63" fill="#b4ee00" stroke="#b4ee00"/>
<polygon points="323.56,238.63 320.66,234.28 339.33,237.72 342.21,242" fill="#95ef00" stroke="#95ef00"/>
<polygon points="342.21,242 339.33,237.72 357.63,240.29 360.49,244.5" fill="#78f000" stroke="#78f000"/>
<polygon points="360.49,244.5 357.63,240.29 375.58,242.01 378.43,246.15" fill="#5ff100" stroke="#5ff100"/>
<polygon points="378.43,246.15 375.58,242.01 393.2,242.92 396.03,246.99" fill="#49f200" stroke="#49f200"/>
<polygon points="396.03,246.99 393.2,242.92 410.49,243.03 413.31,247.03" fill="#36f300" stroke="#36f300"/>
<polygon points="413.31,247.03 410.49,243.03 427.48,242.36 430.28,246.29" fill="#25f400" stroke="#25f400"/>
<polygon points="430.28,246.29 427.48,242.36 444.17,240.94 446.96,244.81" fill="#18f400" stroke="#18f400"/>
<polygon points="446.96,244.81 444.17,240.94 460.57,238.78 463.35,242.58" fill="#0ef400" stroke="#0ef400"/>
<polygon points="463.35,242.58 460.57,238.78 476.71,235.9 479.47,239.64" fill="#06f500" stroke="#06f500"/>
<polygon points="479.47,239.64 476.71,235.9 492.58,232.32 495.33,235.99" fill="#02f500" stroke="#02f500"/>
<polygon points="495.33,235.99 492.58,232.32 508.2,228.05 510.94,231.66" fill="#00f500" stroke="#00f500"/>
<polygon points="221.22,203.07 218.23,198.35 239.01,206.64 241.98,211.29" fill="#ffc000" stroke="#ffc000"/>
<polygon points="241.98,211.29 239.01,206.64 259.34,213.91 262.29,218.48" fill="#ffd400" stroke="#ffd400"/>
<polygon points="262.29,218.48 259.34,213.91 279.22,220.19 282.16,224.69" fill="#ffe600" stroke="#ffe600"/>
<polygon points="282.16,224.69 279.22,220.19 298.69,225.52 301.61,229.95" fill="#e4ec00" stroke="#e4ec00"/>
<polygon points="301.61,229.95 298.69,225.52 317.76,229.93 320.66,234.28" fill="#c1ed00" stroke="#c1ed00"/>
<polygon points="320.66,234.28 317.76,229.93 336.45,233.43 339.33,237.72" fill="#a2ef00" stroke="#a2ef00"/>
<polygon points="339.33,237.72 336.45,233.43 354.76,236.07 357.63,240.29" fill="#86f000" stroke="#86f000"/>
<polygon points="357.63,240.29 354.76,236.07 372.73,237.87 375.58,242.01" fill="#6cf100" stroke="#6cf100"/>
<polygon points="375.58,242.01 372.73,237.87 390.36,238.84 393.2,242.92" fill="#56f200" stroke="#56f200"/>
<polygon points="393.2,242.92 390.36,238.84 407.67,239.02 410.49,243.03" fill="#43f200" stroke="#43f200"/>
<polygon points="410.49,243.03 407.67,239.02 424.67,238.42 427.48,242.36" fill="#32f300" stroke="#32f300"/>
<polygon points="427.48,242.36 424.67,238.42 441.38,237.06 444.17,240.94" fill="#25f400" stroke="#25f400"/>
<polygon points="444.17,240.94 441.38,237.06 457.8,234.96 460.57,238.78" fill="#1af400" stroke="#1af400"/>
<polygon points="460.57,238.78 457.8,234.96 473.94,232.15 476.71,235.9" fill="#13f400" stroke="#13f400"/>
<polygon points="476.71,235.9 473.94,232.15 489.83,228.63 492.58,232.32" fill="#0ef400" stroke="#0ef400"/>
<polygon points="492.58,232.32 489.83,228.63 505.46,224.43 508.2,228.05" fill="#0cf500" stroke="#0cf500"/>
<polygon points="218.23,198.35 215.25,193.64 236.05,202 239.01,206.64" fill="#ffb900" stroke="#ffb900"/>
<polygon points="239.01,206.64 236.05,202 256.39,209.35 259.34,213.91" fill="#ffcd00" stroke="#ffcd00"/>
<polygon points="259.34,213.91 256.39,209.35 276.3,215.7 279.22,220.19" fill="#ffe000" stroke="#ffe000"/>
<polygon points="279.22,220.19 276.3,215.7 295.78,221.1 298.69,225.52" fill="#f1ec00" stroke="#f1ec00"/>
<polygon points="298.69,225.52 295.78,221.1 314.87,225.57 317.76,229.93" fill="#cfed00" stroke="#cfed00"/>
<polygon points="317.76,229.93 314.87,225.57 333.57,229.15 336.45,233.43" fill="#b0ee00" stroke="#b0ee00"/>
<polygon points="336.45,233.43 333.57,229.15 351.9,231.85 354.76,236.07" fill="#93ef00" stroke="#93ef00"/>
<polygon points="354.76,236.07 351.9,231.85 369.89,233.71 372.73,237.87" fill="#7af000" stroke="#7af000"/>
<polygon points="372.73,237.87 369.89,233.71 387.53,234.75 390.36,238.84" fill="#63f100" stroke="#63f100"/>
<polygon points="390.36,238.84 387.53,234.75 404.86,234.99 407.67,239.02" fill="#50f200" stroke="#50f200"/>
<polygon points="407.67,239.02 404.86,234.99 421.87,234.46 424.67,238.42" fill="#3ff300" stroke="#3ff300"/>
<polygon points="424.67,238.42 421.87,234.46 438.59,233.16 441.38,237.06" fill="#32f300" stroke="#32f300"/>
<polygon points="441.38,237.06 438.59,233.16 455.02,231.13 457.8,234.96" fill="#27f300" stroke="#27f300"/>
<polygon points="457.8,234.96 455.02,231.13 471.18,228.38 473.94,232.15" fill="#1ff400" stroke="#1ff400"/>
<polygon points="473.94,232.15 471.18,228.38 487.08,224.92 489.83,228.63" fill="#1bf400" stroke="#1bf400"/>
<polygon points="489.83,228.63 487.08,224.92 502.73,220.78 505.46,224.43" fill="#19f400" stroke="#19f400"/>
<polygon points="215.25,193.64 212.27,188.94 233.09,197.38 236.05,202" fill="#ffb300" stroke="#ffb300"/>
<polygon points="236.05,202 233.09,197.38 253.45,204.79 256.39,209.35" fill="#ffc700" stroke="#ffc700"/>
<polygon points="256.39,209.35 253.45,204.79 273.37,211.21 276.3,215.7" fill="#ffda00" stroke="#ffda00"/>
<polygon points="276.3,215.7 273.37,211.21 292.88,216.68 295.78,221.1" fill="#ffeb00" stroke="#ffeb00"/>
<polygon points="295.78,221.1 292.88,216.68 311.98,221.22 314.87,225.57" fill="#ddec00" stroke="#ddec00"/>
<polygon points="314.87,225.57 311.98,221.22 330.7,224.86 333.57,229.15" fill="#bdee00" stroke="#bdee00"/>
<polygon points="333.57,229.15 330.7,224.86 349.05,227.63 351.9,231.85" fill="#a1ef00" stroke="#a1ef00"/>
<polygon points="351.9,231.85 349.05,227.63 367.05,229.56 369.89,233.71" fill="#87f000" stroke="#87f000"/>
<polygon points="369.89,233.71 367.05,229.56 384.71,230.66 387.53,234.75" fill="#71f100" stroke="#71f100"/>
<polygon points="387.53,234.75 384.71,230.66 402.05,230.96 404.86,234.99" fill="#5df100" stroke="#5df100"/>
<polygon points="404.86,234.99 402.05,230.96 419.08,230.49 421.87,234.46" fill="#4cf200" stroke="#4cf200"/>
<polygon points="421.87,234.46 419.08,230.49 435.81,229.25 438.59,233.16" fill="#3ff300" stroke="#3ff300"/>
<polygon points="438.59,233.16 435.81,229.25 452.25,227.28 455.02,231.13" fill="#34f300" stroke="#34f300"/>
<polygon points="455.02,231.13 452.25,227.28 468.43,224.59 471.18,228.38" fill="#2cf300" stroke="#2cf300"/>
<polygon points="471.18,228.38 468.43,224.59 484.34,221.19 487.08,224.92" fill="#27f300" stroke="#27f300"/>
<polygon points="487.08,224.92 484.34,221.19 500,217.11 502.73,220.78" fill="#25f400" stroke="#25f400"/>
<polygon points="212.27,188.94 209.29,184.26 230.13,192.76 233.09,197.38" fill="#ffac00" stroke="#ffac00"/>
<polygon points="233.09,197.38 230.13,192.76 250.51,200.24 253.45,204.79" fill="#ffc000" stroke="#ffc000"/>
<polygon points="253.45,204.79 250.51,200.24 270.45,206.73 273.37,211.21" fill="#ffd300" stroke="#ffd300"/>
<polygon points="273.37,211.21 270.45,206.73 289.97,212.26 292.88,216.68" fill="#ffe500" stroke="#ffe500"/>
<polygon points="292.88,216.68 289.97,212.26 309.09,216.86 311.98,221.22" fill="#eaec00" stroke="#eaec00"/>
<polygon points="311.98,221.22 309.09,216.86 327.83,220.57 330.7,224.86" fill="#cbed00" stroke="#cbed00"/>
<polygon points="330.7,224.86 327.83,220.57 346.19,223.4 349.05,227.63" fill="#aeee00" stroke="#aeee00"/>
<polygon points="349.05,227.63 346.19,223.4 364.21,225.39 367.05,229.56" fill="#95ef00" stroke="#95ef00"/>
<polygon points="367.05,229.56 364.21,225.39 381.89,226.56 384.71,230.66" fill="#7ef000" stroke="#7ef000"/>
<polygon points="384.71,230.66 381.89,226.56 399.24,226.92 402.05,230.96" fill="#6af100" stroke="#6af100"/>
<polygon points="402.05,230.96 399.24,226.92 416.28,226.51 419.08,230.49" fill="#59f100" stroke="#59f100"/>
<polygon points="419.08,230.49 416.28,226.51 433.03,225.33 435.81,229.25" fill="#4cf200" stroke="#4cf200"/>
<polygon points="435.81,229.25 433.03,225.33 449.49,223.42 452.25,227.28" fill="#41f200" stroke="#41f200"/>
<polygon points="452.25,227.28 449.49,223.42 465.67,220.78 468.43,224.59" fill="#39f300" stroke="#39f300"/>
<polygon points="468.43,224.59 465.67,220.78 481.6,217.44 484.34,221.19" fill="#34f300" stroke="#34f300"/>
<polygon points="484.34,221.19 481.6,217.44 497.27,213.42 500,217.11" fill="#32f300" stroke="#32f300"/>
<polygon points="209.29,184.26 206.32,179.58 227.18,188.15 230.13,192.76" fill="#ffa600" stroke="#ffa600"/>
<polygon points="230.13,192.76 227.18,188.15 247.58,195.69 250.51,200.24" fill="#ffba00" stroke="#ffba00"/>
<polygon points="250.51,200.24 247.58,195.69 267.54,202.25 270.45,206.73" fill="#ffcd00" stroke="#ffcd00"/>
<polygon points="270.45,206.73 267.54,202.25 287.07,207.84 289.97,212.26" fill="#ffde00" stroke="#ffde00"/>
<polygon points="289.97,212.26 287.07,207.84 306.21,212.51 309.09,216.86" fill="#f8eb00" stroke="#f8eb00"/>
<polygon points="309.09,216.86 306.21,212.51 324.96,216.28 327.83,220.57" fill="#d8ed00" stroke="#d8ed00"/>
<polygon points="327.83,220.57 324.96,216.28 343.35,219.17 346.19,223.4" fill="#bcee00" stroke="#bcee00"/>
<polygon points="346.19,223.4 343.35,219.17 361.38,221.22 364.21,225.39" fill="#a2ef00" stroke="#a2ef00"/>
<polygon points="364.21,225.39 361.38,221.22 379.07,222.44 381.89,226.56" fill="#8bf000" stroke="#8bf000"/>
<polygon points="381.89,226.56 379.07,222.44 396.44,222.87 399.24,226.92" fill="#77f000" stroke="#77f000"/>
<polygon points="399.24,226.92 396.44,222.87 413.49,222.51 416.28,226.51" fill="#67f100" stroke="#67f100"/>
<polygon points="416.28,226.51 413.49,222.51 430.25,221.4 433.03,225.33" fill="#59f200" stroke="#59f200"/>
<polygon points="433.03,225.33 430.25,221.4 446.73,219.54 449.49,223.42" fill="#4ef200" stroke="#4ef200"/>
<polygon points="449.49,223.42 446.73,219.54 462.93,216.96 465.67,220.78" fill="#46f200" stroke="#46f200"/>
<polygon points="465.67,220.78 462.93,216.96 478.86,213.68 481.6,217.44" fill="#41f200" stroke="#41f200"/>
<polygon points="481.6,217.44 478.86,213.68 494.55,209.7 497.27,213.42" fill="#3ff300" stroke="#3ff300"/>
<polygon points="206.32,179.58 203.35,174.91 224.23,183.54 227.18,188.15" fill="#ff9f00" stroke="#ff9f00"/>
<polygon points="227.18,188.15 224.23,183.54 244.65,191.15 247.58,195.69" fill="#ffb400" stroke="#ffb400"/>
<polygon points="247.58,195.69 244.65,191.15 264.62,197.77 267.54,202.25" fill="#ffc600" stroke="#ffc600"/>
<polygon points="267.54,202.25 264.62,197.77 284.18,203.43 287.07,207.84" fill="#ffd800" stroke="#ffd800"/>
<polygon points="287.07,207.84 284.18,203.43 303.33,208.15 306.21,212.51" fill="#ffe800" stroke="#ffe800"/>
<polygon points="306.21,212.51 303.33,208.15 322.1,211.98 324.96,216.28" fill="#e6ec00" stroke="#e6ec00"/>
<polygon points="324.96,216.28 322.1,211.98 340.5,214.94 343.35,219.17" fill="#c9ed00" stroke="#c9ed00"/>
<polygon points="343.35,219.17 340.5,214.94 358.54,217.04 361.38,221.22" fill="#b0ee00" stroke="#b0ee00"/>
<polygon points="361.38,221.22 358.54,217.04 376.25,218.33 379.07,222.44" fill="#99ef00" stroke="#99ef00"/>
<polygon points="379.07,222.44 376.25,218.33 393.63,218.81 396.44,222.87" fill="#85f000" stroke="#85f000"/>
<polygon points="396.44,222.87 393.63,218.81 410.71,218.51 413.49,222.51" fill="#74f000" stroke="#74f000"/>
<polygon points="413.49,222.51 410.71,218.51 427.48,217.45 430.25,221.4" fill="#66f100" stroke="#66f100"/>
<polygon points="430.25,221.4 427.48,217.45 443.97,215.65 446.73,219.54" fill="#5bf100" stroke="#5bf100"/>
<polygon points="446.73,219.54 443.97,215.65 460.18,213.12 462.93,216.96" fill="#53f200" stroke="#53f200"/>
<polygon points="462.93,216.96 460.18,213.12 476.13,209.89 478.86,213.68" fill="#4ef200" stroke="#4ef200"/>
<polygon points="478.86,213.68 476.13,209.89 491.82,205.98 494.55,209.7" fill="#4bf200" stroke="#4bf200"/>
<polygon points="203.35,174.91 200.39,170.25 221.28,178.94 224.23,183.54" fill="#ff9900" stroke="#ff9900"/>
<polygon points="224.23,183.54 221.28,178.94 241.72,186.61 244.65,191.15" fill="#ffad00" stroke="#ffad00"/>
<polygon points="244.65,191.15 241.72,186.61 261.71,193.29 264.62,197.77" fill="#ffc000" stroke="#ffc000"/>
<polygon points="264.62,197.77 261.71,193.29 281.29,199.01 284.18,203.43" fill="#ffd100" stroke="#ffd100"/>
<polygon points="284.18,203.43 281.29,199.01 300.46,203.8 303.33,208.15" fill="#ffe100" stroke="#ffe100"/>
<polygon points="303.33,208.15 300.46,203.8 319.24,207.69 322.1,211.98" fill="#f4eb00" stroke="#f4eb00"/>
<polygon points="322.1,211.98 319.24,207.69 337.66,210.7 340.5,214.94" fill="#d7ed00" stroke="#d7ed00"/>
<polygon points="340.5,214.94 337.66,210.7 355.72,212.86 358.54,217.04" fill="#bdee00" stroke="#bdee00"/>
<polygon points="358.54,217.04 355.72,212.86 373.44,214.2 376.25,218.33" fill="#a6ee00" stroke="#a6ee00"/>
<polygon points="376.25,218.33 373.44,214.2 390.84,214.74 393.63,218.81" fill="#92ef00" stroke="#92ef00"/>
<polygon points="393.63,218.81 390.84,214.74 407.92,214.49 410.71,218.51" fill="#81f000" stroke="#81f000"/>
<polygon points="410.71,218.51 407.92,214.49 424.71,213.49 427.48,217.45" fill="#73f000" stroke="#73f000"/>
<polygon points="427.48,217.45 424.71,213.49 441.21,211.74 443.97,215.65" fill="#68f100" stroke="#68f100"/>
<polygon points="443.97,215.65 441.21,211.74 457.44,209.27 460.18,213.12" fill="#60f100" stroke="#60f100"/>
<polygon points="460.18,213.12 457.44,209.27 473.4,206.1 476.13,209.89" fill="#5bf100" stroke="#5bf100"/>
<polygon points="476.13,209.89 473.4,206.1 489.11,202.23 491.82,205.98" fill="#58f200" stroke="#58f200"/>
<polygon points="200.39,170.25 197.43,165.59 218.34,174.35 221.28,178.94" fill="#ff9200" stroke="#ff9200"/>
<polygon points="221.28,178.94 218.34,174.35 238.8,182.08 241.72,186.61" fill="#ffa700" stroke="#ffa700"/>
<polygon points="241.72,186.61 238.8,182.08 258.81,188.82 261.71,193.29" fill="#ffb900" stroke="#ffb900"/>
<polygon points="261.71,193.29 258.81,188.82 278.4,194.6 281.29,199.01" fill="#ffcb00" stroke="#ffcb00"/>
<polygon points="281.29,199.01 278.4,194.6 297.58,199.44 300.46,203.8" fill="#ffdb00" stroke="#ffdb00"/>
<polygon points="300.46,203.8 297.58,199.44 316.39,203.39 319.24,207.69" fill="#ffea00" stroke="#ffea00"/>
<polygon points="319.24,207.69 316.39,203.39 334.82,206.46 337.66,210.7" fill="#e5ec00" stroke="#e5ec00"/>
<polygon points="337.66,210.7 334.82,206.46 352.89,208.68 355.72,212.86" fill="#cbed00" stroke="#cbed00"/>
<polygon points="355.72,212.86 352.89,208.68 370.63,210.07 373.44,214.2" fill="#b4ee00" stroke="#b4ee00"/>
<polygon points="373.44,214.2 370.63,210.07 388.04,210.66 390.84,214.74" fill="#a0ef00" stroke="#a0ef00"/>
<polygon points="390.84,214.74 388.04,210.66 405.14,210.47 407.92,214.49" fill="#8eef00" stroke="#8eef00"/>
<polygon points="407.92,214.49 405.14,210.47 421.94,209.52 424.71,213.49" fill="#80f000" stroke="#80f000"/>
<polygon points="424.71,213.49 421.94,209.52 438.46,207.82 441.21,211.74" fill="#75f000" stroke="#75f000"/>
<polygon points="441.21,211.74 438.46,207.82 454.7,205.41 457.44,209.27" fill="#6df100" stroke="#6df100"/>
<polygon points="457.44,209.27 454.7,205.41 470.67,202.28 473.4,206.1" fill="#68f100" stroke="#68f100"/>
<polygon points="473.4,206.1 470.67,202.28 486.39,198.47 489.11,202.23" fill="#65f100" stroke="#65f100"/>
<polygon points="197.43,165.59 194.47,160.95 215.41,169.76 218.34,174.35" fill="#ff8c00" stroke="#ff8c00"/>
<polygon points="218.34,174.35 215.41,169.76 235.88,177.55 238.8,182.08" fill="#ffa000" stroke="#ffa000"/>
<polygon points="238.8,182.08 235.88,177.55 255.91,184.35 258.81,188.82" fill="#ffb300" stroke="#ffb300"/>
<polygon points="258.81,188.82 255.91,184.35 275.51,190.18 278.4,194.6" fill="#ffc500" stroke="#ffc500"/>
<polygon points="278.4,194.6 275.51,190.18 294.72,195.09 297.58,199.44" fill="#ffd500" stroke="#ffd500"/>
<polygon points="297.58,199.44 294.72,195.09 313.53,199.08 316.39,203.39" fill="#ffe400" stroke="#ffe400"/>
<polygon points="316.39,203.39 313.53,199.08 331.98,202.21 334.82,206.46" fill="#f2ec00" stroke="#f2ec00"/>
<polygon points="334.82,206.46 331.98,202.21 350.07,204.48 352.89,208.68" fill="#d8ed00" stroke="#d8ed00"/>
<polygon points="352.89,208.68 350.07,204.48 367.83,205.93 370.63,210.07" fill="#c1ed00" stroke="#c1ed00"/>
<polygon points="370.63,210.07 367.83,205.93 385.25,206.57 388.04,210.66" fill="#adee00" stroke="#adee00"/>
<polygon points="388.04,210.66 385.25,206.57 402.37,206.44 405.14,210.47" fill="#9cef00" stroke="#9cef00"/>
<polygon points="405.14,210.47 402.37,206.44 419.18,205.54 421.94,209.52" fill="#8eef00" stroke="#8eef00"/>
<polygon points="421.94,209.52 419.18,205.54 435.71,203.89 438.46,207.82" fill="#82f000" stroke="#82f000"/>
<polygon points="438.46,207.82 435.71,203.89 451.96,201.53 454.7,205.41" fill="#7af000" stroke="#7af000"/>
<polygon points="454.7,205.41 451.96,201.53 467.95,198.45 470.67,202.28" fill="#75f000" stroke="#75f000"/>
<polygon points="470.67,202.28 467.95,198.45 483.68,194.69 486.39,198.47" fill="#72f100" stroke="#72f100"/>
<polygon points="194.47,160.95 191.52,156.31 212.47,165.18 215.41,169.76" fill="#ff8500" stroke="#ff8500"/>
<polygon points="215.41,169.76 212.47,165.18 232.96,173.03 235.88,177.55" fill="#ff9a00" stroke="#ff9a00"/>
<polygon points="235.88,177.55 232.96,173.03 253.01,179.88 255.91,184.35" fill="#ffad00" stroke="#ffad00"/>
<polygon points="255.91,184.35 253.01,179.88 272.63,185.77 275.51,190.18" fill="#ffbe00" stroke="#ffbe00"/>
<polygon points="275.51,190.18 272.63,185.77 291.85,190.73 294.72,195.09" fill="#ffce00" stroke="#ffce00"/>
<polygon points="294.72,195.09 291.85,190.73 310.68,194.78 313.53,199.08" fill="#ffdd00" stroke="#ffdd00"/>
<polygon points="313.53,199.08 310.68,194.78 329.15,197.96 331.98,202.21" fill="#ffeb00" stroke="#ffeb00"/>
<polygon points="331.98,202.21 329.15,197.96 347.26,200.29 350.07,204.48" fill="#e6ec00" stroke="#e6ec00"/>
<polygon points="350.07,204.48 347.26,200.29 365.02,201.78 367.83,205.93" fill="#cfed00" stroke="#cfed00"/>
<polygon points="367.83,205.93 365.02,201.78 382.46,202.48 385.25,206.57" fill="#bbee00" stroke="#bbee00"/>
<polygon points="385.25,206.57 382.46,202.48 399.59,202.39 402.37,206.44" fill="#a9ee00" stroke="#a9ee00"/>
<polygon points="402.37,206.44 399.59,202.39 416.42,201.54 419.18,205.54" fill="#9bef00" stroke="#9bef00"/>
<polygon points="419.18,205.54 416.42,201.54 432.96,199.95 435.71,203.89" fill="#90ef00" stroke="#90ef00"/>
<polygon points="435.71,203.89 432.96,199.95 449.23,197.63 451.96,201.53" fill="#87f000" stroke="#87f000"/>
<polygon points="451.96,201.53 449.23,197.63 465.23,194.61 467.95,198.45" fill="#82f000" stroke="#82f000"/>
<polygon points="467.95,198.45 465.23,194.61 480.97,190.89 483.68,194.69" fill="#7ff000" stroke="#7ff000"/>
<polygon points="191.52,156.31 188.57,151.68 209.54,160.61 212.47,165.18" fill="#ff7f00" stroke="#ff7f00"/>
<polygon points="212.47,165.18 209.54,160.61 230.05,168.51 232.96,173.03" fill="#ff9300" stroke="#ff9300"/>
<polygon points="232.96,173.03 230.05,168.51 250.11,175.41 253.01,179.88" fill="#ffa600" stroke="#ffa600"/>
<polygon points="253.01,179.88 250.11,175.41 269.75,181.36 272.63,185.77" fill="#ffb800" stroke="#ffb800"/>
<polygon points="272.63,185.77 269.75,181.36 288.99,186.37 291.85,190.73" fill="#ffc800" stroke="#ffc800"/>
<polygon points="291.85,190.73 288.99,186.37 307.84,190.47 310.68,194.78" fill="#ffd700" stroke="#ffd700"/>
<polygon points="310.68,194.78 307.84,190.47 326.32,193.7 329.15,197.96" fill="#ffe400" stroke="#ffe400"/>
<polygon points="329.15,197.96 326.32,193.7 344.44,196.08 347.26,200.29" fill="#f3eb00" stroke="#f3eb00"/>
<polygon points="347.26,200.29 344.44,196.08 362.22,197.63 365.02,201.78" fill="#dcec00" stroke="#dcec00"/>
<polygon points="365.02,201.78 362.22,197.63 379.68,198.38 382.46,202.48" fill="#c8ed00" stroke="#c8ed00"/>
<polygon points="382.46,202.48 379.68,198.38 396.82,198.34 399.59,202.39" fill="#b7ee00" stroke="#b7ee00"/>
<polygon points="399.59,202.39 396.82,198.34 413.67,197.54 416.42,201.54" fill="#a8ee00" stroke="#a8ee00"/>
<polygon points="416.42,201.54 413.67,197.54 430.22,196 432.96,199.95" fill="#9def00" stroke="#9def00"/>
<polygon points="432.96,199.95 430.22,196 446.5,193.73 449.23,197.63" fill="#95ef00" stroke="#95ef00"/>
<polygon points="449.23,197.63 446.5,193.73 462.51,190.75 465.23,194.61" fill="#8fef00" stroke="#8fef00"/>
<polygon points="465.23,194.61 462.51,190.75 478.27,187.08 480.97,190.89" fill="#8def00" stroke="#8def00"/>
<polygon points="188.57,151.68 185.63,147.05 206.61,156.03 209.54,160.61" fill="#ff7800" stroke="#ff7800"/>
<polygon points="209.54,160.61 206.61,156.03 227.14,163.99 230.05,168.51" fill="#ff8d00" stroke="#ff8d00"/>
<polygon points="230.05,168.51 227.14,163.99 247.22,170.95 250.11,175.41" fill="#ffa000" stroke="#ffa000"/>
<polygon points="250.11,175.41 247.22,170.95 266.88,176.94 269.75,181.36" fill="#ffb100" stroke="#ffb100"/>
<polygon points="269.75,181.36 266.88,176.94 286.13,182.01 288.99,186.37" fill="#ffc200" stroke="#ffc200"/>
<polygon points="288.99,186.37 286.13,182.01 305,186.17 307.84,190.47" fill="#ffd000" stroke="#ffd000"/>
<polygon points="307.84,190.47 305,186.17 323.49,189.45 326.32,193.7" fill="#ffde00" stroke="#ffde00"/>
<polygon points="326.32,193.7 323.49,189.45 341.63,191.87 344.44,196.08" fill="#ffea00" stroke="#ffea00"/>
<polygon points="344.44,196.08 341.63,191.87 359.43,193.48 362.22,197.63" fill="#eaec00" stroke="#eaec00"/>
<polygon points="362.22,197.63 359.43,193.48 376.9,194.27 379.68,198.38" fill="#d6ed00" stroke="#d6ed00"/>
<polygon points="379.68,198.38 376.9,194.27 394.06,194.28 396.82,198.34" fill="#c4ed00" stroke="#c4ed00"/>
<polygon points="396.82,198.34 394.06,194.28 410.91,193.53 413.67,197.54" fill="#b6ee00" stroke="#b6ee00"/>
<polygon points="413.67,197.54 410.91,193.53 427.48,192.03 430.22,196" fill="#abee00" stroke="#abee00"/>
<polygon points="430.22,196 427.48,192.03 443.77,189.81 446.5,193.73" fill="#a2ef00" stroke="#a2ef00"/>
<polygon points="446.5,193.73 443.77,189.81 459.8,186.88 462.51,190.75" fill="#9def00" stroke="#9def00"/>
<polygon points="462.51,190.75 459.8,186.88 475.57,183.26 478.27,187.08" fill="#9aef00" stroke="#9aef00"/>
<polygon points="185.63,147.05 182.69,142.42 203.69,151.46 206.61,156.03" fill="#ff7200" stroke="#ff7200"/>
<polygon points="206.61,156.03 203.69,151.46 224.23,159.47 227.14,163.99" fill="#ff8600" stroke="#ff8600"/>
<polygon points="227.14,163.99 224.23,159.47 244.33,166.48 247.22,170.95" fill="#ff9900" stroke="#ff9900"/>
<polygon points="247.22,170.95 244.33,166.48 264.01,172.53 266.88,176.94" fill="#ffab00" stroke="#ffab00"/>
<polygon points="266.88,176.94 264.01,172.53 283.28,177.65 286.13,182.01" fill="#ffbb00" stroke="#ffbb00"/>
<polygon points="286.13,182.01 283.28,177.65 302.16,181.85 305,186.17" fill="#ffca00" stroke="#ffca00"/>
<polygon points="305,186.17 302.16,181.85 320.67,185.18 323.49,189.45" fill="#ffd700" stroke="#ffd700"/>
<polygon points="323.49,189.45 320.67,185.18 338.82,187.66 341.63,191.87" fill="#ffe400" stroke="#ffe400"/>
<polygon points="341.63,191.87 338.82,187.66 356.64,189.31 359.43,193.48" fill="#f8eb00" stroke="#f8eb00"/>
<polygon points="359.43,193.48 356.64,189.31 374.12,190.16 376.9,194.27" fill="#e3ec00" stroke="#e3ec00"/>
<polygon points="376.9,194.27 374.12,190.16 391.29,190.21 394.06,194.28" fill="#d2ed00" stroke="#d2ed00"/>
<polygon points="394.06,194.28 391.29,190.21 408.16,189.51 410.91,193.53" fill="#c4ed00" stroke="#c4ed00"/>
<polygon points="410.91,193.53 408.16,189.51 424.74,188.06 427.48,192.03" fill="#b8ee00" stroke="#b8ee00"/>
<polygon points="427.48,192.03 424.74,188.06 441.05,185.88 443.77,189.81" fill="#b0ee00" stroke="#b0ee00"/>
<polygon points="443.77,189.81 441.05,185.88 457.09,183 459.8,186.88" fill="#aaee00" stroke="#aaee00"/>
<polygon points="459.8,186.88 457.09,183 472.87,179.42 475.57,183.26" fill="#a7ee00" stroke="#a7ee00"/>
<polygon points="182.69,142.42 179.75,137.8 200.77,146.9 203.69,151.46" fill="#ff6b00" stroke="#ff6b00"/>
<polygon points="203.69,151.46 200.77,146.9 221.33,154.96 224.23,159.47" fill="#ff8000" stroke="#ff8000"/>
<polygon points="224.23,159.47 221.33,154.96 241.45,162.02 244.33,166.48" fill="#ff9300" stroke="#ff9300"/>
<polygon points="244.33,166.48 241.45,162.02 261.14,168.12 264.01,172.53" fill="#ffa400" stroke="#ffa400"/>
<polygon points="264.01,172.53 261.14,168.12 280.43,173.28 283.28,177.65" fill="#ffb500" stroke="#ffb500"/>
<polygon points="283.28,177.65 280.43,173.28 299.32,177.54 302.16,181.85" fill="#ffc400" stroke="#ffc400"/>
<polygon points="302.16,181.85 299.32,177.54 317.85,180.92 320.67,185.18" fill="#ffd100" stroke="#ffd100"/>
<polygon points="320.67,185.18 317.85,180.92 336.02,183.45 338.82,187.66" fill="#ffdd00" stroke="#ffdd00"/>
<polygon points="338.82,187.66 336.02,183.45 353.85,185.14 356.64,189.31" fill="#ffe800" stroke="#ffe800"/>
<polygon points="356.64,189.31 353.85,185.14 371.35,186.03 374.12,190.16" fill="#f1ec00" stroke="#f1ec00"/>
<polygon points="374.12,190.16 371.35,186.03 388.53,186.14 391.29,190.21" fill="#e0ec00" stroke="#e0ec00"/>
<polygon points="391.29,190.21 388.53,186.14 405.42,185.48 408.16,189.51" fill="#d1ed00" stroke="#d1ed00"/>
<polygon points="408.16,189.51 405.42,185.48 422.01,184.08 424.74,188.06" fill="#c6ed00" stroke="#c6ed00"/>
<polygon points="424.74,188.06 422.01,184.08 438.33,181.95 441.05,185.88" fill="#bdee00" stroke="#bdee00"/>
<polygon points="441.05,185.88 438.33,181.95 454.38,179.11 457.09,183" fill="#b7ee00" stroke="#b7ee00"/>
<polygon points="457.09,183 454.38,179.11 470.17,175.57 472.87,179.42" fill="#b5ee00" stroke="#b5ee00"/>
<polygon points="179.75,137.8 176.81,133.19 197.86,142.33 200.77,146.9" fill="#ff6500" stroke="#ff6500"/>
<polygon points="200.77,146.9 197.86,142.33 218.43,150.44 221.33,154.96" fill="#ff7900" stroke="#ff7900"/>
<polygon points="221.33,154.96 218.43,150.44 238.57,157.56 241.45,162.02" fill="#ff8c00" stroke="#ff8c00"/>
<polygon points="241.45,162.02 238.57,157.56 258.28,163.7 261.14,168.12" fill="#ff9e00" stroke="#ff9e00"/>
<polygon points="261.14,168.12 258.28,163.7 277.58,168.92 280.43,173.28" fill="#ffae00" stroke="#ffae00"/>
<polygon points="280.43,173.28 277.58,168.92 296.49,173.22 299.32,177.54" fill="#ffbd00" stroke="#ffbd00"/>
<polygon points="299.32,177.54 296.49,173.22 315.03,176.65 317.85,180.92" fill="#ffcb00" stroke="#ffcb00"/>
<polygon points="317.85,180.92 315.03,176.65 333.22,179.22 336.02,183.45" fill="#ffd700" stroke="#ffd700"/>
<polygon points="336.02,183.45 333.22,179.22 351.06,180.97 353.85,185.14" fill="#ffe200" stroke="#ffe200"/>
<polygon points="353.85,185.14 351.06,180.97 368.57,181.91 371.35,186.03" fill="#ffeb00" stroke="#ffeb00"/>
<polygon points="371.35,186.03 368.57,181.91 385.77,182.06 388.53,186.14" fill="#edec00" stroke="#edec00"/>
<polygon points="388.53,186.14 385.77,182.06 402.67,181.44 405.42,185.48" fill="#dfec00" stroke="#dfec00"/>
<polygon points="405.42,185.48 402.67,181.44 419.28,180.09 422.01,184.08" fill="#d3ed00" stroke="#d3ed00"/>
<polygon points="422.01,184.08 419.28,180.09 435.61,178 438.33,181.95" fill="#cbed00" stroke="#cbed00"/>
<polygon points="438.33,181.95 435.61,178 451.67,175.2 454.38,179.11" fill="#c5ed00" stroke="#c5ed00"/>
<polygon points="454.38,179.11 451.67,175.2 467.48,171.71 470.17,175.57" fill="#c2ed00" stroke="#c2ed00"/>
<polygon points="176.81,133.19 173.88,128.58 194.94,137.77 197.86,142.33" fill="#ff5e00" stroke="#ff5e00"/>
<polygon points="197.86,142.33 194.94,137.77 215.54,145.93 218.43,150.44" fill="#ff7300" stroke="#ff7300"/>
<polygon points="218.43,150.44 215.54,145.93 235.69,153.09 238.57,157.56" fill="#ff8600" stroke="#ff8600"/>
<polygon points="238.57,157.56 235.69,153.09 255.41,159.29 258.28,163.7" fill="#ff9700" stroke="#ff9700"/>
<polygon points="258.28,163.7 255.41,159.29 274.73,164.55 277.58,168.92" fill="#ffa800" stroke="#ffa800"/>
<polygon points="277.58,168.92 274.73,164.55 293.66,168.9 296.49,173.22" fill="#ffb700" stroke="#ffb700"/>
<polygon points="296.49,173.22 293.66,168.9 312.22,172.38 315.03,176.65" fill="#ffc400" stroke="#ffc400"/>
<polygon points="315.03,176.65 312.22,172.38 330.42,175 333.22,179.22" fill="#ffd000" stroke="#ffd000"/>
<polygon points="333.22,179.22 330.42,175 348.28,176.79 351.06,180.97" fill="#ffdb00" stroke="#ffdb00"/>
<polygon points="351.06,180.97 348.28,176.79 365.81,177.77 368.57,181.91" fill="#ffe500" stroke="#ffe500"/>
<polygon points="368.57,181.91 365.81,177.77 383.02,177.97 385.77,182.06" fill="#fbeb00" stroke="#fbeb00"/>
<polygon points="385.77,182.06 383.02,177.97 399.93,177.4 402.67,181.44" fill="#ecec00" stroke="#ecec00"/>
<polygon points="402.67,181.44 399.93,177.4 416.55,176.09 419.28,180.09" fill="#e1ec00" stroke="#e1ec00"/>
<polygon points="419.28,180.09 416.55,176.09 432.9,174.04 435.61,178" fill="#d8ed00" stroke="#d8ed00"/>
<polygon points="435.61,178 432.9,174.04 448.97,171.29 451.67,175.2" fill="#d2ed00" stroke="#d2ed00"/>
<polygon points="451.67,175.2 448.97,171.29 464.79,167.85 467.48,171.71" fill="#d0ed00" stroke="#d0ed00"/>
<polygon points="173.88,128.58 170.96,123.97 192.03,133.21 194.94,137.77" fill="#ff5800" stroke="#ff5800"/>
<polygon points="194.94,137.77 192.03,133.21 212.65,141.42 215.54,145.93" fill="#ff6c00" stroke="#ff6c00"/>
<polygon points="215.54,145.93 212.65,141.42 232.81,148.63 235.69,153.09" fill="#ff7f00" stroke="#ff7f00"/>
<polygon points="235.69,153.09 232.81,148.63 252.56,154.87 255.41,159.29" fill="#ff9100" stroke="#ff9100"/>
<polygon points="255.41,159.29 252.56,154.87 271.89,160.18 274.73,164.55" fill="#ffa100" stroke="#ffa100"/>
<polygon points="274.73,164.55 271.89,160.18 290.84,164.58 293.66,168.9" fill="#ffb000" stroke="#ffb000"/>
<polygon points="293.66,168.9 290.84,164.58 309.41,168.1 312.22,172.38" fill="#ffbe00" stroke="#ffbe00"/>
<polygon points="312.22,172.38 309.41,168.1 327.62,170.77 330.42,175" fill="#ffca00" stroke="#ffca00"/>
<polygon points="330.42,175 327.62,170.77 345.5,172.6 348.28,176.79" fill="#ffd500" stroke="#ffd500"/>
<polygon points="348.28,176.79 345.5,172.6 363.04,173.63 365.81,177.77" fill="#ffde00" stroke="#ffde00"/>
<polygon points="365.81,177.77 363.04,173.63 380.27,173.87 383.02,177.97" fill="#ffe600" stroke="#ffe600"/>
<polygon points="383.02,177.97 380.27,173.87 397.19,173.35 399.93,177.4" fill="#faeb00" stroke="#faeb00"/>
<polygon points="399.93,177.4 397.19,173.35 413.83,172.08 416.55,176.09" fill="#efec00" stroke="#efec00"/>
<polygon points="416.55,176.09 413.83,172.08 430.19,170.08 432.9,174.04" fill="#e6ec00" stroke="#e6ec00"/>
<polygon points="432.9,174.04 430.19,170.08 446.27,167.37 448.97,171.29" fill="#e0ec00" stroke="#e0ec00"/>
<polygon points="448.97,171.29 446.27,167.37 462.11,163.97 464.79,167.85" fill="#ddec00" stroke="#ddec00"/>
<polygon points="170.96,123.97 168.03,119.36 189.13,128.65 192.03,133.21" fill="#ff5100" stroke="#ff5100"/>
<polygon points="192.03,133.21 189.13,128.65 209.76,136.91 212.65,141.42" fill="#ff6600" stroke="#ff6600"/>
<polygon points="212.65,141.42 209.76,136.91 229.94,144.17 232.81,148.63" fill="#ff7900" stroke="#ff7900"/>
<polygon points="232.81,148.63 229.94,144.17 249.7,150.46 252.56,154.87" fill="#ff8a00" stroke="#ff8a00"/>
<polygon points="252.56,154.87 249.7,150.46 269.05,155.81 271.89,160.18" fill="#ff9b00" stroke="#ff9b00"/>
<polygon points="271.89,160.18 269.05,155.81 288.02,160.26 290.84,164.58" fill="#ffaa00" stroke="#ffaa00"/>
<polygon points="290.84,164.58 288.02,160.26 306.6,163.83 309.41,168.1" fill="#ffb700" stroke="#ffb700"/>
<polygon points="309.41,168.1 306.6,163.83 324.83,166.54 327.62,170.77" fill="#ffc400" stroke="#ffc400"/>
<polygon points="327.62,170.77 324.83,166.54 342.72,168.42 345.5,172.6" fill="#ffce00" stroke="#ffce00"/>
<polygon points="345.5,172.6 342.72,168.42 360.28,169.49 363.04,173.63" fill="#ffd800" stroke="#ffd800"/>
<polygon points="363.04,173.63 360.28,169.49 377.52,169.77 380.27,173.87" fill="#ffe000" stroke="#ffe000"/>
<polygon points="380.27,173.87 377.52,169.77 394.46,169.29 397.19,173.35" fill="#ffe700" stroke="#ffe700"/>
<polygon points="397.19,173.35 394.46,169.29 411.11,168.06 413.83,172.08" fill="#fceb00" stroke="#fceb00"/>
<polygon points="413.83,172.08 411.11,168.06 427.48,166.11 430.19,170.08" fill="#f4eb00" stroke="#f4eb00"/>
<polygon points="430.19,170.08 427.48,166.11 443.58,163.44 446.27,167.37" fill="#eeec00" stroke="#eeec00"/>
<polygon points="446.27,167.37 443.58,163.44 459.42,160.08 462.11,163.97" fill="#ebec00" stroke="#ebec00"/>
<polygon points="168.03,119.36 165.11,114.75 186.23,124.09 189.13,128.65" fill="#ff4b00" stroke="#ff4b00"/>
<polygon points="189.13,128.65 186.23,124.09 206.87,132.4 209.76,136.91" fill="#ff5f00" stroke="#ff5f00"/>
<polygon points="209.76,136.91 206.87,132.4 227.08,139.7 229.94,144.17" fill="#ff7200" stroke="#ff7200"/>
<polygon points="229.94,144.17 227.08,139.7 246.85,146.04 249.7,150.46" fill="#ff8400" stroke="#ff8400"/>
<polygon points="249.7,150.46 246.85,146.04 266.22,151.44 269.05,155.81" fill="#ff9400" stroke="#ff9400"/>
<polygon points="269.05,155.81 266.22,151.44 285.2,155.93 288.02,160.26" fill="#ffa300" stroke="#ffa300"/>
<polygon points="288.02,160.26 285.2,155.93 303.8,159.54 306.6,163.83" fill="#ffb100" stroke="#ffb100"/>
<polygon points="306.6,163.83 303.8,159.54 322.05,162.3 324.83,166.54" fill="#ffbd00" stroke="#ffbd00"/>
<polygon points="324.83,166.54 322.05,162.3 339.95,164.22 342.72,168.42" fill="#ffc800" stroke="#ffc800"/>
<polygon points="342.72,168.42 339.95,164.22 357.52,165.34 360.28,169.49" fill="#ffd200" stroke="#ffd200"/>
<polygon points="360.28,169.49 357.52,165.34 374.77,165.67 377.52,169.77" fill="#ffda00" stroke="#ffda00"/>
<polygon points="377.52,169.77 374.77,165.67 391.73,165.23 394.46,169.29" fill="#ffe000" stroke="#ffe000"/>
<polygon points="394.46,169.29 391.73,165.23 408.39,164.04 411.11,168.06" fill="#ffe600" stroke="#ffe600"/>
<polygon points="411.11,168.06 408.39,164.04 424.77,162.13 427.48,166.11" fill="#ffea00" stroke="#ffea00"/>
<polygon points="427.48,166.11 424.77,162.13 440.89,159.5 443.58,163.44" fill="#fceb00" stroke="#fceb00"/>
<polygon points="443.58,163.44 440.89,159.5 456.74,156.18 459.42,160.08" fill="#f9eb00" stroke="#f9eb00"/>
<polygon points="165.11,114.75 162.2,110.14 183.33,119.53 186.23,124.09" fill="#ff4400" stroke="#ff4400"/>
<polygon points="186.23,124.09 183.33,119.53 203.99,127.88 206.87,132.4" fill="#ff5900" stroke="#ff5900"/>
<polygon points="206.87,132.4 203.99,127.88 224.21,135.23 227.08,139.7" fill="#ff6c00" stroke="#ff6c00"/>
<polygon points="227.08,139.7 224.21,135.23 244,141.62 246.85,146.04" fill="#ff7d00" stroke="#ff7d00"/>
<polygon points="246.85,146.04 244,141.62 263.39,147.07 266.22,151.44" fill="#ff8e00" stroke="#ff8e00"/>
<polygon points="266.22,151.44 263.39,147.07 282.38,151.6 285.2,155.93" fill="#ff9d00" stroke="#ff9d00"/>
<polygon points="285.2,155.93 282.38,151.6 301,155.26 303.8,159.54" fill="#ffaa00" stroke="#ffaa00"/>
<polygon points="303.8,159.54 301,155.26 319.26,158.06 322.05,162.3" fill="#ffb700" stroke="#ffb700"/>
<polygon points="322.05,162.3 319.26,158.06 337.18,160.03 339.95,164.22" fill="#ffc200" stroke="#ffc200"/>
<polygon points="339.95,164.22 337.18,160.03 354.76,161.19 357.52,165.34" fill="#ffcb00" stroke="#ffcb00"/>
<polygon points="357.52,165.34 354.76,161.19 372.03,161.56 374.77,165.67" fill="#ffd300" stroke="#ffd300"/>
<polygon points="374.77,165.67 372.03,161.56 389,161.16 391.73,165.23" fill="#ffda00" stroke="#ffda00"/>
<polygon points="391.73,165.23 389,161.16 405.67,160.02 408.39,164.04" fill="#ffdf00" stroke="#ffdf00"/>
<polygon points="408.39,164.04 405.67,160.02 422.07,158.14 424.77,162.13" fill="#ffe400" stroke="#ffe400"/>
<polygon points="424.77,162.13 422.07,158.14 438.2,155.56 440.89,159.5" fill="#ffe600" stroke="#ffe600"/>
<polygon points="440.89,159.5 438.2,155.56 454.07,152.28 456.74,156.18" fill="#ffe800" stroke="#ffe800"/>
<polygon points="162.2,110.14 159.29,105.54 180.43,114.97 183.33,119.53" fill="#ff3e00" stroke="#ff3e00"/>
<polygon points="183.33,119.53 180.43,114.97 201.12,123.37 203.99,127.88" fill="#ff5200" stroke="#ff5200"/>
<polygon points="203.99,127.88 201.12,123.37 221.35,130.77 224.21,135.23" fill="#ff6500" stroke="#ff6500"/>
<polygon points="224.21,135.23 221.35,130.77 241.16,137.2 244,141.62" fill="#ff7700" stroke="#ff7700"/>
<polygon points="244,141.62 241.16,137.2 260.56,142.69 263.39,147.07" fill="#ff8700" stroke="#ff8700"/>
<polygon points="263.39,147.07 260.56,142.69 279.57,147.27 282.38,151.6" fill="#ff9600" stroke="#ff9600"/>
<polygon points="282.38,151.6 279.57,147.27 298.2,150.97 301,155.26" fill="#ffa400" stroke="#ffa400"/>
<polygon points="301,155.26 298.2,150.97 316.48,153.81 319.26,158.06" fill="#ffb000" stroke="#ffb000"/>
<polygon points="319.26,158.06 316.48,153.81 334.41,155.83 337.18,160.03" fill="#ffbb00" stroke="#ffbb00"/>
<polygon points="337.18,160.03 334.41,155.83 352.01,157.03 354.76,161.19" fill="#ffc500" stroke="#ffc500"/>
<polygon points="354.76,161.19 352.01,157.03 369.29,157.44 372.03,161.56" fill="#ffcd00" stroke="#ffcd00"/>
<polygon points="372.03,161.56 369.29,157.44 386.27,157.09 389,161.16" fill="#ffd400" stroke="#ffd400"/>
<polygon points="389,161.16 386.27,157.09 402.96,155.99 405.67,160.02" fill="#ffd900" stroke="#ffd900"/>
<polygon points="405.67,160.02 402.96,155.99 419.37,154.15 422.07,158.14" fill="#ffdd00" stroke="#ffdd00"/>
<polygon points="422.07,158.14 419.37,154.15 435.51,151.61 438.2,155.56" fill="#ffe000" stroke="#ffe000"/>
<polygon points="438.2,155.56 435.51,151.61 451.39,148.37 454.07,152.28" fill="#ffe100" stroke="#ffe100"/>
</g>
<path d="M503.81 599.3L533.97 599.46L563.13 597.37L591.38 593.14L618.77 586.87L645.36 578.66L671.23 568.57L696.41 556.69L720.95 543.08L744.9 527.8L768.31 510.9M496.36 591.48L526.58 591.89L555.81 590.05L584.11 586.07L611.56 580.04L638.22 572.06L664.13 562.21L689.36 550.56L713.95 537.17L737.95 522.11L761.4 505.44M488.93 583.38L519.22 584.06L548.52 582.47L576.88 578.74L604.39 572.96L631.1 565.22L657.07 555.61L682.35 544.19L706.99 531.04L731.03 516.21L754.52 499.76M481.53 575.03L511.89 575.97L541.25 574.65L569.68 571.17L597.25 565.65L624.02 558.16L650.04 548.79L675.37 537.61L700.06 524.7L724.14 510.1L747.67 493.89M474.16 566.44L504.59 567.66L534.02 566.6L562.51 563.39L590.14 558.13L616.96 550.89L643.04 541.77L668.42 530.84L693.16 518.17L717.29 503.82L740.86 487.83M466.82 557.65L497.32 559.14L526.82 558.36L555.37 555.42L583.06 550.42L609.94 543.44L636.07 534.58L661.5 523.9L686.28 511.47L710.46 497.36L734.08 481.61M459.51 548.67L490.08 550.45L519.64 549.95L548.26 547.28L576.01 542.54L602.95 535.83L629.13 527.22L654.61 516.79L679.44 504.61L703.67 490.75L727.32 475.25M452.22 539.53L482.87 541.6L512.49 541.38L541.18 538.98L568.98 534.52L595.98 528.07L622.22 519.72L647.75 509.55L672.63 497.62L696.9 484L720.6 468.74M444.96 530.26L475.67 532.62L505.37 532.68L534.12 530.56L561.99 526.37L589.04 520.18L615.33 512.09L640.91 502.18L665.84 490.5L690.16 477.13L713.9 462.12M437.72 520.88L468.51 523.53L498.27 523.87L527.08 522.03L555.01 518.11L582.12 512.19L608.47 504.36L634.1 494.7L659.08 483.28L683.44 470.16L707.23 455.39M430.51 511.41L461.37 514.35L491.2 514.98L520.07 513.42L548.06 509.76L575.23 504.11L601.63 496.54L627.32 487.14L652.34 475.97L676.75 463.09L700.58 448.57M423.32 501.88L454.25 505.11L484.15 506.02L513.09 504.73L541.14 501.35L568.36 495.96L594.82 488.66L620.56 479.51L645.63 468.59L670.08 455.96L693.96 441.68M416.16 492.29L447.16 495.81L477.12 497.01L506.13 495.99L534.24 492.88L561.52 487.76L588.03 480.71L613.82 471.82L638.94 461.15L663.44 448.77L687.36 434.73M409.02 482.66L440.09 486.47L470.12 487.95L499.19 487.22L527.36 484.37L554.7 479.52L581.27 472.73L607.11 464.09L632.28 453.67L656.82 441.54L680.78 427.75M401.91 472.99L433.05 477.09L463.15 478.86L492.28 478.41L520.51 475.84L547.91 471.25L574.52 464.72L600.42 456.35L625.64 446.18L650.23 434.29L674.23 420.75M394.81 463.3L426.03 467.69L456.19 469.75L485.39 469.58L513.68 467.29L541.13 462.97L567.8 456.71L593.75 448.59L619.02 438.68L643.65 427.05L667.69 413.75M387.75 453.58L419.03 458.28L449.26 460.62L478.52 460.74L506.87 458.73L534.38 454.69L561.11 448.7L587.1 440.84L612.42 431.19L637.1 419.81L661.18 406.77M380.7 443.82L412.05 448.83L442.35 451.47L471.67 451.88L500.08 450.15L527.65 446.39L554.43 440.67L580.48 433.09L605.84 423.7L630.56 412.58L654.69 399.79M373.67 434.02L405.1 439.33L435.46 442.28L464.85 442.98L493.32 441.55L520.94 438.06L547.77 432.62L573.87 425.31L599.28 416.19L624.05 405.33L648.22 392.8M366.67 424.15L398.16 429.78L428.6 433.03L458.04 434.03L486.57 432.89L514.25 429.69L541.14 424.53L567.29 417.49L592.75 408.64L617.56 398.05L641.77 385.78M359.69 414.2L391.25 420.15L421.75 423.71L451.26 425.02L479.85 424.16L507.59 421.26L534.53 416.38L560.73 409.62L586.23 401.04L611.09 390.72L635.35 378.71M352.73 404.16L384.36 410.43L414.93 414.31L444.5 415.92L473.15 415.36L500.95 412.75L527.94 408.16L554.19 401.68L579.74 393.37L604.64 383.32L628.94 371.58M345.79 394.04L377.49 400.63L408.12 404.83L437.76 406.75L466.47 406.49L494.32 404.17L521.37 399.87L547.67 393.67L573.27 385.65L598.22 375.87L622.56 364.39M338.87 383.84L370.64 390.76L401.34 395.28L431.04 397.51L459.82 397.56L487.72 395.54L514.82 391.53L541.17 385.62L566.82 377.88L591.81 368.38L616.2 357.17M331.97 373.56L363.81 380.82L394.58 385.66L424.35 388.21L453.18 388.58L481.14 386.86L508.3 383.15L534.7 377.53L560.39 370.08L585.43 360.85L609.85 349.93M325.09 363.22L357 370.82L387.84 376L417.67 378.87L446.56 379.56L474.58 378.15L501.79 374.74L528.24 369.42L553.98 362.25L579.06 353.32L603.53 342.67M318.23 352.83L350.21 360.78L381.12 366.29L411.01 369.5L439.96 370.5L468.04 369.41L495.3 366.31L521.8 361.29L547.59 354.42L572.72 345.77L597.23 335.41M311.38 342.41L343.44 350.71L374.41 356.56L404.37 360.1L433.38 361.43L461.52 360.66L488.83 357.87L515.38 353.15L541.22 346.58L566.39 338.23L590.94 328.15M304.56 331.98L336.69 340.63L367.73 346.83L397.75 350.71L426.82 352.36L455.01 351.91L482.38 349.43L508.98 345.02L534.87 338.74L560.08 330.68L584.68 320.9M297.76 321.59L329.96 330.59L361.07 337.13L391.15 341.33L420.28 343.31L448.53 343.17L475.95 341L502.6 336.89L528.54 330.92L553.8 323.15L578.43 313.65M290.98 311.25L323.25 320.59L354.42 327.47L384.57 332L413.76 334.29L442.06 334.46L469.54 332.6L496.24 328.79L522.22 323.1L547.53 315.62L572.2 306.41M284.22 300.98L316.56 310.66L347.8 317.86L378.01 322.71L407.26 325.32L435.62 325.79L463.15 324.23L489.9 320.7L515.93 315.31L541.28 308.1L565.99 299.16M277.48 290.77L309.89 300.77L341.19 308.29L371.47 313.45L400.78 316.37L429.19 317.14L456.77 315.86L483.58 312.63L509.65 307.51L535.04 300.58L559.8 291.91M270.76 280.56L303.24 290.89L334.61 298.73L364.94 304.2L394.31 307.41L422.79 308.47L450.42 307.48L477.27 304.53L503.39 299.69L528.83 293.03L553.63 284.63M264.06 270.33L296.61 280.98L328.04 289.13L358.44 294.91L387.87 298.42L416.4 299.77L444.08 299.07L470.98 296.39L497.15 291.83L522.63 285.44L547.48 277.3M257.37 260.04L289.99 271.01L321.5 279.48L351.95 285.55L381.44 289.36L410.03 291.01L437.76 290.59L464.72 288.2L490.93 283.9L516.46 277.79L541.34 269.91M250.71 249.66L283.4 260.96L314.96 269.74L345.48 276.12L375.03 280.23L403.67 282.17L431.46 282.04L458.47 279.92L484.73 275.9L510.3 270.06L535.22 262.45M244.06 239.21L276.82 250.83L308.45 259.93L339.03 266.61L368.64 271.02L397.34 273.25L425.18 273.4L452.23 271.57L478.54 267.82L504.16 262.24L529.13 254.9M237.42 228.74L270.25 240.67L301.95 250.07L332.6 257.06L362.27 261.75L391.02 264.27L418.92 264.7L446.02 263.14L472.38 259.66L498.04 254.34L523.05 247.25M230.81 218.26L263.71 230.49L295.47 240.19L326.18 247.46L355.91 252.44L384.72 255.23L412.67 255.93L439.82 254.63L466.23 251.41L491.93 246.35L516.99 239.51M224.21 207.8L257.18 220.33L289.01 230.3L319.78 237.85L349.57 243.1L378.43 246.15L406.44 247.11L433.64 246.06L460.09 243.08L485.85 238.26L510.94 231.66M217.64 197.41L250.67 210.2L282.57 220.44L313.4 228.24L343.24 233.74L372.16 237.04L400.22 238.23L427.48 237.42L453.98 234.67L479.78 230.08L504.92 223.7M211.08 187.07L244.18 200.11L276.14 210.59L307.03 218.64L336.94 224.37L365.91 227.89L394.02 229.31L421.33 228.71L447.88 226.19L473.72 221.8L498.91 215.63M204.54 176.77L237.71 190.05L269.73 200.76L300.69 209.03L330.64 214.98L359.68 218.72L387.84 220.34L415.2 219.95L441.8 217.63L467.69 213.44L492.91 207.47M198.02 166.52L231.25 180.02L263.34 190.94L294.35 199.42L324.37 205.57L353.46 209.51L381.68 211.34L409.08 211.14L435.73 209.01L461.66 205.01L486.94 199.22M191.52 156.31L224.82 170.01L256.97 181.13L288.04 189.81L318.11 196.16L347.26 200.29L375.53 202.3L402.98 202.28L429.68 200.33L455.66 196.51L480.97 190.89M185.04 146.12L218.4 160.02L250.61 171.33L281.74 180.19L311.87 186.72L341.07 191.03L369.39 193.22L396.9 193.38L423.64 191.6L449.67 187.94L475.03 182.49M178.57 135.96L212 150.04L244.27 161.53L275.46 170.57L305.65 177.28L334.9 181.76L363.27 184.11L390.83 184.44L417.62 182.82L443.69 179.32L469.1 174.03M172.13 125.81L205.62 140.07L237.94 151.74L269.19 160.95L299.44 167.82L328.74 172.46L357.17 174.98L384.78 175.46L411.61 174L437.73 170.66L463.18 165.52M165.7 115.67L199.25 130.1L231.64 141.94L262.95 151.31L293.24 158.34L322.6 163.15L351.08 165.82L378.74 166.46L405.62 165.15L431.79 161.96L457.28 156.96M159.29 105.54L192.9 120.13L225.35 132.13L256.71 141.66L287.07 148.86L316.48 153.81L345.01 156.64L372.71 157.43L399.65 156.26L425.86 153.22L451.39 148.37" fill="none" stroke="#008a88" stroke-width="0.55" stroke-opacity="0.85"/>
<path d="M503.81 599.3L466.82 557.65L430.51 511.41L394.81 463.3L359.69 414.2L325.09 363.22L290.98 311.25L257.37 260.04L224.21 207.8L191.52 156.31L159.29 105.54M509.93 599.51L473.01 558.13L436.77 512.19L401.14 464.37L366.09 415.59L331.56 364.94L297.53 313.32L263.99 262.44L230.9 210.52L198.28 159.26L166.11 108.67M516 599.64L479.15 558.52L442.98 512.87L407.43 465.35L372.45 416.87L337.99 366.56L304.03 315.29L270.56 264.74L237.54 213.13L204.98 162.11L172.88 111.69M522.03 599.67L485.25 558.82L449.15 513.46L413.67 466.22L378.76 418.06L344.37 368.08L310.48 317.16L277.09 266.93L244.13 215.63L211.64 164.85L179.6 114.61M528.02 599.61L491.31 559.03L455.28 513.95L419.87 467.01L385.03 419.15L350.71 369.5L316.89 318.92L283.56 269.02L250.68 218.03L218.25 167.48L186.27 117.42M533.97 599.46L497.32 559.14L461.37 514.35L426.03 467.69L391.25 420.15L357 370.82L323.25 320.59L289.99 271.01L257.18 220.33L224.82 170.01L192.9 120.13M539.88 599.21L503.3 559.16L467.41 514.65L432.14 468.29L397.43 421.05L363.25 372.05L329.57 322.16L296.38 272.9L263.63 222.52L231.34 172.44L199.48 122.73M545.75 598.88L509.24 559.1L473.42 514.87L438.21 468.79L403.57 421.85L369.46 373.18L335.85 323.63L302.72 274.69L270.04 224.62L237.81 174.76L206.01 125.23M551.58 598.46L515.14 558.94L479.38 515L444.25 469.2L409.67 422.56L375.63 374.21L342.08 325L309.02 276.38L276.41 226.61L244.24 176.99L212.5 127.63M557.38 597.96L521 558.7L485.31 515.03L450.24 469.52L415.73 423.18L381.75 375.15L348.27 326.28L315.28 277.98L282.73 228.51L250.62 179.11L218.95 129.93M563.13 597.37L526.82 558.36L491.2 514.98L456.19 469.75L421.75 423.71L387.84 376L354.42 327.47L321.5 279.48L289.01 230.3L256.97 181.13L225.35 132.13M568.85 596.69L532.6 557.94L497.05 514.84L462.11 469.89L427.73 424.15L393.88 376.75L360.53 328.56L327.67 280.88L295.25 232L263.26 183.06L231.7 134.23M574.54 595.93L538.35 557.44L502.86 514.61L467.98 469.94L433.67 424.5L399.89 377.42L366.6 329.55L333.8 282.19L301.44 233.61L269.52 184.89L238.02 136.23M580.19 595.08L544.06 556.85L508.63 514.3L473.82 469.91L439.57 424.76L405.85 377.99L372.63 330.46L339.89 283.4L307.6 235.12L275.73 186.62L244.29 138.14M585.8 594.15L549.73 556.18L514.37 513.9L479.62 469.79L445.43 424.93L411.78 378.48L378.62 331.27L345.94 284.52L313.71 236.53L281.91 188.26L250.52 139.95M591.38 593.14L555.37 555.42L520.07 513.42L485.39 469.58L451.26 425.02L417.67 378.87L384.57 332L351.95 285.55L319.78 237.85L288.04 189.81L256.71 141.66M596.92 592.05L560.98 554.58L525.74 512.85L491.11 469.29L457.05 425.01L423.52 379.18L390.48 332.63L357.93 286.49L325.82 239.08L294.13 191.26L262.86 143.29M602.43 590.87L566.55 553.66L531.37 512.2L496.81 468.91L462.8 424.93L429.33 379.4L396.36 333.18L363.86 287.34L331.81 240.22L300.19 192.62L268.97 144.82M607.91 589.62L572.09 552.66L536.97 511.47L502.47 468.45L468.52 424.76L435.11 379.54L402.19 333.64L369.76 288.11L337.77 241.27L306.2 193.89L275.04 146.25M613.35 588.29L577.59 551.58L542.53 510.66L508.09 467.91L474.21 424.5L440.85 379.59L408 334.01L375.62 288.78L343.69 242.23L312.18 195.07L281.07 147.6M618.77 586.87L583.06 550.42L548.06 509.76L513.68 467.29L479.85 424.16L446.56 379.56L413.76 334.29L381.44 289.36L349.57 243.1L318.11 196.16L287.07 148.86M624.15 585.38L588.5 549.18L553.56 508.79L519.23 466.58L485.47 423.74L452.23 379.44L419.49 334.5L387.23 289.86L355.41 243.88L324.01 197.16L293.02 150.02M629.5 583.82L593.91 547.86L559.03 507.74L524.76 465.8L491.05 423.24L457.87 379.24L425.19 334.61L392.98 290.28L361.22 244.58L329.88 198.07L298.94 151.1M634.82 582.17L599.28 546.46L564.46 506.6L530.25 464.93L496.59 422.66L463.47 378.96L430.85 334.65L398.7 290.61L366.99 245.19L335.71 198.89L304.82 152.09M640.11 580.45L604.63 544.99L569.86 505.4L535.71 463.99L502.11 422L469.04 378.59L436.47 334.6L404.38 290.85L372.73 245.71L341.5 199.63L310.67 153M645.36 578.66L609.94 543.44L575.23 504.11L541.13 462.97L507.59 421.26L474.58 378.15L442.06 334.46L410.03 291.01L378.43 246.15L347.26 200.29L316.48 153.81M650.59 576.79L615.23 541.82L580.57 502.75L546.53 461.87L513.04 420.44L480.08 377.62L447.62 334.25L415.64 291.09L384.1 246.51L352.98 200.85L322.25 154.55M655.8 574.85L620.48 540.12L585.88 501.31L551.89 460.69L518.46 419.54L485.56 377.02L453.15 333.96L421.22 291.09L389.73 246.78L358.66 201.34L327.99 155.2M660.97 572.83L625.71 538.34L591.16 499.79L557.23 459.44L523.85 418.56L491 376.34L458.65 333.58L426.77 291L395.33 246.97L364.32 201.74L333.7 155.76M666.11 570.74L630.9 536.5L596.41 498.21L562.53 458.11L529.2 417.51L496.41 375.58L464.11 333.13L432.28 290.84L400.9 247.08L369.94 202.06L339.37 156.24M671.23 568.57L636.07 534.58L601.63 496.54L567.8 456.71L534.53 416.38L501.79 374.74L469.54 332.6L437.76 290.59L406.44 247.11L375.53 202.3L345.01 156.64M676.32 566.34L641.21 532.58L606.82 494.81L573.05 455.23L539.83 415.18L507.14 373.83L474.94 331.99L443.22 290.27L411.94 247.05L381.08 202.45L350.61 156.96M681.38 564.03L646.32 530.52L611.99 493L578.27 453.68L545.1 413.9L512.46 372.84L480.31 331.3L448.64 289.87L417.41 246.92L386.6 202.53L356.19 157.2M686.41 561.66L651.41 528.38L617.13 491.12L583.46 452.06L550.33 412.54L517.75 371.77L485.65 330.54L454.03 289.39L422.85 246.71L392.09 202.53L361.73 157.35M691.42 559.21L656.47 526.17L622.24 489.16L588.62 450.36L555.55 411.12L523.01 370.63L490.96 329.7L459.39 288.83L428.26 246.42L397.55 202.44L367.24 157.43M696.41 556.69L661.5 523.9L627.32 487.14L593.75 448.59L560.73 409.62L528.24 369.42L496.24 328.79L464.72 288.2L433.64 246.06L402.98 202.28L372.71 157.43M701.37 554.11L666.51 521.55L632.38 485.05L598.86 446.75L565.88 408.05L533.44 368.13L501.49 327.8L470.02 287.49L438.99 245.61L408.38 202.05L378.16 157.35M706.3 551.45L671.49 519.13L637.41 482.88L603.93 444.84L571.01 406.4L538.62 366.77L506.72 326.73L475.29 286.7L444.31 245.09L413.75 201.73L383.58 157.19M711.21 548.73L676.45 516.65L642.41 480.65L608.99 442.86L576.11 404.68L543.77 365.33L511.91 325.6L480.53 285.85L449.6 244.5L419.09 201.34L388.96 156.96M716.09 545.94L681.38 514.09L647.39 478.34L614.01 440.8L581.18 402.9L548.89 363.83L517.08 324.39L485.74 284.91L454.86 243.83L424.4 200.87L394.32 156.65M720.95 543.08L686.28 511.47L652.34 475.97L619.02 438.68L586.23 401.04L553.98 362.25L522.22 323.1L490.93 283.9L460.09 243.08L429.68 200.33L399.65 156.26M725.79 540.16L691.17 508.78L657.27 473.53L623.99 436.49L591.25 399.11L559.05 360.6L527.33 321.75L496.09 282.83L465.3 242.26L434.93 199.71L404.95 155.8M730.6 537.17L696.03 506.02L662.18 471.02L628.94 434.23L596.25 397.12L564.09 358.89L532.42 320.32L501.22 281.67L470.48 241.37L440.15 199.02L410.22 155.27M735.39 534.11L700.86 503.2L667.06 468.44L633.87 431.91L601.22 395.05L569.11 357.1L537.48 318.83L506.33 280.45L475.63 240.41L445.35 198.25L415.46 154.66M740.16 530.99L705.67 500.31L671.92 465.8L638.77 429.51L606.17 392.92L574.1 355.24L542.52 317.26L511.41 279.15L480.75 239.37L450.52 197.42L420.67 153.98M744.9 527.8L710.46 497.36L676.75 463.09L643.65 427.05L611.09 390.72L579.06 353.32L547.53 315.62L516.46 277.79L485.85 238.26L455.66 196.51L425.86 153.22M749.63 524.55L715.23 494.34L681.56 460.32L648.5 424.52L615.99 388.45L584 351.32L552.51 313.92L521.48 276.35L490.92 237.08L460.77 195.53L431.02 152.39M754.33 521.23L719.97 491.25L686.35 457.48L653.34 421.93L620.86 386.11L588.92 349.26L557.47 312.14L526.49 274.85L495.96 235.83L465.86 194.47L436.15 151.49M759.01 517.85L724.7 488.1L691.11 454.57L658.14 419.27L625.71 383.71L593.81 347.13L562.4 310.3L531.46 273.27L500.98 234.51L470.93 193.35L441.26 150.52M763.67 514.41L729.4 484.89L695.86 451.6L662.93 416.54L630.54 381.24L598.68 344.93L567.31 308.39L536.41 271.63L505.97 233.12L475.96 192.15L446.34 149.48M768.31 510.9L734.08 481.61L700.58 448.57L667.69 413.75L635.35 378.71L603.53 342.67L572.2 306.41L541.34 269.91L510.94 231.66L480.97 190.89L451.39 148.37" fill="none" stroke="#008a88" stroke-width="0.6" stroke-opacity="0.85"/>
<path d="M496.36 591.48L497.72 592.31L499.07 593.13L500.43 593.94L501.79 594.75L503.15 595.56L504.5 596.36L505.86 597.16L507.22 597.95L508.57 598.73L509.93 599.51M488.93 583.38L491.64 585.09L494.36 586.79L497.07 588.46L499.78 590.11L502.48 591.75L505.19 593.37L507.9 594.96L510.6 596.54L513.3 598.1L516 599.64M481.53 575.03L485.6 577.68L489.66 580.29L493.72 582.86L497.77 585.39L501.83 587.87L505.87 590.32L509.92 592.72L513.96 595.08L518 597.4L522.03 599.67M474.16 566.44L479.58 570.08L484.99 573.65L490.39 577.14L495.78 580.57L501.17 583.93L506.55 587.22L511.93 590.43L517.3 593.56L522.66 596.62L528.02 599.61M466.82 557.65L473.58 562.31L480.33 566.87L487.07 571.33L493.8 575.68L500.52 579.93L507.23 584.06L513.93 588.09L520.62 591.99L527.3 595.78L533.97 599.46M459.51 548.67L467.61 554.39L475.7 559.98L483.77 565.42L491.83 570.72L499.87 575.87L507.9 580.86L515.92 585.7L523.92 590.37L531.9 594.88L539.88 599.21M452.22 539.53L461.67 546.35L471.09 552.98L480.49 559.44L489.87 565.7L499.23 571.76L508.57 577.62L517.89 583.27L527.19 588.7L536.48 593.9L545.75 598.88M444.96 530.26L455.74 538.19L466.5 545.89L477.22 553.37L487.92 560.61L498.59 567.6L509.24 574.33L519.86 580.79L530.45 586.97L541.03 592.87L551.58 598.46M437.72 520.88L449.84 529.93L461.93 538.72L473.97 547.24L485.98 555.47L497.96 563.39L509.9 571L521.81 578.27L533.69 585.19L545.55 591.76L557.38 597.96M430.51 511.41L443.97 521.6L457.37 531.48L470.73 541.05L484.05 550.28L497.32 559.14L510.56 567.62L523.75 575.71L536.91 583.37L550.04 590.59L563.13 597.37M423.32 501.88L438.11 513.2L452.84 524.19L467.51 534.81L482.13 545.04L496.7 554.85L511.21 564.21L525.69 573.1L540.11 581.49L554.5 589.36L568.85 596.69M416.16 492.29L432.28 504.77L448.32 516.86L464.3 528.54L480.22 539.77L496.07 550.53L511.87 560.77L527.61 570.46L543.3 579.57L558.94 588.07L574.54 595.93M409.02 482.66L426.47 496.29L443.83 509.49L461.11 522.22L478.32 534.47L495.45 546.17L512.52 557.28L529.52 567.77L546.46 577.6L563.35 586.71L580.19 595.08M401.91 472.99L420.68 487.79L439.35 502.1L457.93 515.89L476.42 529.13L494.83 541.78L513.16 553.77L531.42 565.05L549.61 575.58L567.73 585.29L585.8 594.15M394.81 463.3L414.91 479.27L434.89 494.69L454.77 509.53L474.54 523.77L494.22 537.36L513.81 550.22L533.31 562.29L552.73 573.51L572.09 583.81L591.38 593.14M387.75 453.58L409.16 470.73L430.45 487.26L451.62 503.16L472.67 518.4L493.61 532.92L514.45 546.65L535.19 559.5L555.84 571.4L576.42 582.27L596.92 592.05M380.7 443.82L403.43 462.18L426.02 479.83L448.48 496.79L470.8 513.01L493 528.46L515.08 543.05L537.06 556.67L558.93 569.24L580.72 580.67L602.43 590.87M373.67 434.02L397.73 453.62L421.62 472.4L445.35 490.4L468.95 507.61L492.4 523.98L515.72 539.42L538.92 553.81L562.01 567.04L585 579.01L607.91 589.62M366.67 424.15L392.04 445.04L417.23 464.96L442.24 484.02L467.1 502.21L491.8 519.49L516.35 535.76L540.77 550.91L565.07 564.79L589.26 577.29L613.35 588.29M359.69 414.2L386.37 436.44L412.86 457.53L439.15 477.63L465.26 496.8L491.2 514.98L516.98 532.09L542.61 547.98L568.11 562.5L593.49 575.51L618.77 586.87M352.73 404.16L380.73 427.79L408.5 450.09L436.06 471.25L463.43 491.38L490.6 510.46L517.6 528.39L544.44 545.02L571.13 560.17L597.69 573.67L624.15 585.38M345.79 394.04L375.1 419.09L404.16 442.64L432.99 464.87L461.61 485.97L490.01 505.93L518.22 524.67L546.26 542.03L574.14 557.79L601.88 571.78L629.5 583.82M338.87 383.84L369.49 410.33L399.84 435.17L429.94 458.51L459.79 480.56L489.42 501.4L518.84 520.94L548.07 539.01L577.13 555.38L606.03 569.83L634.82 582.17M331.97 373.56L363.9 401.51L395.54 427.68L426.89 452.14L457.99 475.15L488.84 496.86L519.46 517.18L549.87 535.95L580.1 552.92L610.17 567.83L640.11 580.45M325.09 363.22L358.33 392.64L391.25 420.15L423.86 445.77L456.19 469.75L488.25 492.32L520.07 513.42L551.67 532.88L583.06 550.42L614.28 565.76L645.36 578.66M318.23 352.83L352.78 383.71L386.98 412.58L420.84 439.4L454.4 464.36L487.68 487.77L520.68 509.63L553.45 529.77L586 547.88L618.37 563.65L650.59 576.79M311.38 342.41L347.25 374.75L382.72 404.97L417.84 433.01L452.62 458.97L487.1 483.22L521.29 505.84L555.23 526.64L588.93 545.3L622.44 561.47L655.8 574.85M304.56 331.98L341.73 365.75L378.48 397.34L414.85 426.6L450.85 453.59L486.52 478.67L521.9 502.03L556.99 523.48L591.84 542.68L626.49 559.25L660.97 572.83M297.76 321.59L336.23 356.72L374.26 389.67L411.86 420.17L449.08 448.21L485.95 474.12L522.5 498.21L558.75 520.29L594.74 540.02L630.51 556.97L666.11 570.74M290.98 311.25L330.75 347.69L370.05 381.98L408.9 413.72L447.33 442.83L485.39 469.58L523.1 494.37L560.5 517.08L597.62 537.32L634.51 554.63L671.23 568.57M284.22 300.98L325.29 338.66L365.86 374.27L405.94 407.25L445.58 437.44L484.82 465.04L523.69 490.53L562.24 513.85L600.49 534.59L638.49 552.24L676.32 566.34M277.48 290.77L319.85 329.67L361.68 366.55L402.99 400.75L443.84 432.04L484.26 460.51L524.29 486.68L563.97 510.59L603.34 531.82L642.45 549.81L681.38 564.03M270.76 280.56L314.42 320.73L357.52 358.82L400.06 394.25L442.11 426.63L483.7 455.97L524.88 482.82L565.69 507.31L606.18 529.01L646.39 547.31L686.41 561.66M264.06 270.33L309.02 311.85L353.37 351.1L397.14 387.73L440.38 421.21L483.14 451.44L525.47 478.95L567.4 504.01L609 526.16L650.31 544.77L691.42 559.21M257.37 260.04L303.63 303.03L349.23 343.4L394.23 381.21L438.66 415.77L482.59 446.91L526.05 475.08L569.11 500.68L611.81 523.28L654.21 542.18L696.41 556.69M250.71 249.66L298.26 294.24L345.12 335.74L391.33 374.68L436.95 410.32L482.03 442.37L526.64 471.2L570.81 497.34L614.6 520.36L658.09 539.53L701.37 554.11M244.06 239.21L292.91 285.46L341.01 328.12L388.45 368.16L435.25 404.87L481.48 437.83L527.22 467.32L572.5 493.97L617.38 517.41L661.95 536.83L706.3 551.45M237.42 228.74L287.57 276.66L336.93 320.56L385.57 361.64L433.55 399.4L480.94 433.28L527.79 463.43L574.18 490.59L620.15 514.42L665.79 534.09L711.21 548.73M230.81 218.26L282.26 267.81L332.86 313.05L382.71 355.14L431.86 393.93L480.39 428.73L528.37 459.54L575.85 487.18L622.9 511.4L669.62 531.29L716.09 545.94M224.21 207.8L276.95 258.9L328.8 305.58L379.86 348.66L430.18 388.46L479.85 424.16L528.94 455.65L577.52 483.76L625.65 508.34L673.42 528.45L720.95 543.08M217.64 197.41L271.66 249.95L324.76 298.12L377.01 342.21L428.51 382.99L479.31 419.59L529.51 451.76L579.17 480.31L628.37 505.25L677.2 525.55L725.79 540.16M211.08 187.07L266.39 240.98L320.73 290.67L374.19 335.8L426.84 377.52L478.78 415L530.08 447.86L580.82 476.85L631.09 502.13L680.97 522.61L730.6 537.17M204.54 176.77L261.14 232L316.72 283.21L371.37 329.43L425.18 372.05L478.24 410.41L530.64 443.95L582.47 473.37L633.79 498.97L684.72 519.62L735.39 534.11M198.02 166.52L255.9 223.04L312.72 275.71L368.56 323.11L423.53 366.6L477.71 405.81L531.21 440.04L584.1 469.88L636.48 495.78L688.45 516.58L740.16 530.99M191.52 156.31L250.68 214.11L308.74 268.18L365.77 316.82L421.89 361.16L477.19 401.2L531.77 436.12L585.73 466.37L639.15 492.56L692.16 513.49L744.9 527.8M185.04 146.12L245.47 205.23L304.76 260.61L362.98 310.56L420.25 355.74L476.66 396.59L532.32 432.19L587.35 462.84L641.81 489.3L695.85 510.36L749.63 524.55M178.57 135.96L240.28 196.38L300.81 253.03L360.21 304.31L418.61 350.33L476.14 391.98L532.88 428.25L588.96 459.3L644.47 486.02L699.53 507.18L754.33 521.23M172.13 125.81L235.11 187.56L296.86 245.45L357.45 298.07L416.99 344.96L475.61 387.37L533.43 424.31L590.56 455.74L647.1 482.7L703.19 503.95L759.01 517.85M165.7 115.67L229.96 178.77L292.93 237.87L354.7 291.82L415.37 339.61L475.1 382.76L533.98 420.35L592.16 452.17L649.73 479.35L706.83 500.68L763.67 514.41M159.29 105.54L224.82 170.01L289.01 230.3L351.95 285.55L413.76 334.29L474.58 378.15L534.53 416.38L593.75 448.59L652.34 475.97L710.46 497.36L768.31 510.9M166.11 108.67L230.05 171.2L292.71 229.7L354.2 283.41L414.6 330.85L474.07 373.54L532.7 411L590.63 442.63L647.96 469.59L704.82 491.12L761.4 505.44M172.88 111.69L235.24 172.32L296.4 229.06L356.43 281.25L415.44 327.4L473.55 368.95L530.87 405.6L587.52 436.69L643.6 463.19L699.21 484.78L754.52 499.76M179.6 114.61L240.4 173.36L300.06 228.37L358.65 279.05L416.27 323.96L473.04 364.36L529.06 400.2L584.43 430.76L639.25 456.78L693.61 478.34L747.67 493.89M186.27 117.42L245.52 174.33L303.7 227.64L360.86 276.83L417.1 320.52L472.54 359.78L527.25 394.8L581.35 424.83L634.92 450.36L688.05 471.83L740.86 487.83M192.9 120.13L250.62 175.22L307.31 226.87L363.06 274.59L417.93 317.08L472.03 355.21L525.45 389.39L578.28 418.9L630.6 443.94L682.5 465.24L734.08 481.61M199.48 122.73L255.68 176.04L310.91 226.05L365.24 272.32L418.75 313.64L471.53 350.66L523.66 383.99L575.22 412.96L626.3 437.53L676.97 458.6L727.32 475.25M206.01 125.23L260.7 176.79L314.49 225.19L367.42 270.03L419.57 310.19L471.03 346.12L521.87 378.59L572.17 407.01L622.02 431.15L671.47 451.91L720.6 468.74M212.5 127.63L265.7 177.47L318.04 224.29L369.58 267.72L420.38 306.73L470.53 341.59L520.09 373.2L569.14 401.05L617.75 424.78L665.98 445.2L713.9 462.12M218.95 129.93L270.66 178.08L321.58 223.34L371.73 265.38L421.19 303.27L470.03 337.09L518.32 367.81L566.12 395.06L613.5 418.41L660.52 438.46L707.23 455.39M225.35 132.13L275.6 178.61L325.09 222.34L373.87 263.02L422 299.79L469.54 332.6L516.56 362.44L563.11 389.07L609.26 412.05L655.07 431.72L700.58 448.57M231.7 134.23L280.5 179.08L328.58 221.31L376 260.63L422.8 296.31L469.05 328.13L514.8 357.09L560.11 383.08L605.04 405.68L649.64 424.98L693.96 441.68M238.02 136.23L285.37 179.47L332.06 220.23L378.12 258.23L423.6 292.81L468.56 323.68L513.05 351.75L557.13 377.08L600.84 399.3L644.24 418.27L687.36 434.73M244.29 138.14L290.21 179.8L335.51 219.11L380.23 255.8L424.39 289.3L468.07 319.23L511.31 346.42L554.15 371.08L596.65 392.88L638.85 411.57L680.78 427.75M250.52 139.95L295.03 180.06L338.95 217.94L382.32 253.35L425.18 285.77L467.59 314.8L509.57 341.12L551.19 365.09L592.47 386.45L633.47 404.86L674.23 420.75M256.71 141.66L299.81 180.25L342.37 216.73L384.41 250.87L425.97 282.23L467.1 310.37L507.85 335.84L548.24 359.12L588.31 379.99L628.12 398.15L667.69 413.75M262.86 143.29L304.57 180.38L345.76 215.48L386.48 248.38L426.75 278.67L466.62 305.94L506.12 330.59L545.3 353.16L584.17 373.52L622.79 391.41L661.18 406.77M268.97 144.82L309.29 180.44L349.14 214.19L388.55 245.86L427.53 275.1L466.14 301.51L504.41 325.36L542.37 347.21L580.04 367.04L617.47 384.63L654.69 399.79M275.04 146.25L313.99 180.43L352.5 212.85L390.6 243.31L428.31 271.52L465.66 297.08L502.7 320.15L539.45 341.29L575.93 360.57L612.18 377.82L648.22 392.8M281.07 147.6L318.66 180.36L355.84 211.47L392.64 240.75L429.08 267.92L465.19 292.65L501 314.95L536.54 335.39L571.83 354.1L606.9 370.97L641.77 385.78M287.07 148.86L323.31 180.23L359.17 210.04L394.68 238.16L429.85 264.31L464.72 288.2L499.3 309.78L533.64 329.51L567.74 347.64L601.64 364.1L635.35 378.71M293.02 150.02L327.92 180.03L362.48 208.58L396.7 235.54L430.62 260.69L464.24 283.74L497.62 304.6L530.75 323.65L563.67 341.2L596.39 357.21L628.94 371.58M298.94 151.1L332.51 179.76L365.76 207.07L398.71 232.9L431.38 257.05L463.78 279.27L495.93 299.44L527.88 317.82L559.61 334.77L591.17 350.32L622.56 364.39M304.82 152.09L337.08 179.43L369.04 205.52L400.72 230.24L432.13 253.4L463.31 274.79L494.26 294.27L525.01 312.01L555.57 328.37L585.96 343.44L616.2 357.17M310.67 153L341.61 179.04L372.29 203.93L402.71 227.55L432.89 249.74L462.84 270.29L492.59 289.09L522.15 306.22L551.54 321.98L580.77 336.56L609.85 349.93M316.48 153.81L346.12 178.59L375.53 202.3L404.69 224.83L433.64 246.06L462.38 265.79L490.93 283.9L519.31 300.43L547.53 315.62L575.6 329.7L603.53 342.67M322.25 154.55L350.61 178.08L378.75 200.62L406.67 222.09L434.39 242.36L461.92 261.27L489.28 278.7L516.47 294.64L543.52 309.28L570.44 322.85L597.23 335.41M327.99 155.2L355.07 177.5L381.95 198.91L408.63 219.33L435.13 238.65L461.46 256.75L487.63 273.49L513.65 288.85L539.54 302.95L565.3 316.02L590.94 328.15M333.7 155.76L359.51 176.87L385.14 197.15L410.59 216.53L435.87 234.93L461 252.21L485.99 268.26L510.84 283.04L535.56 296.63L560.17 309.2L584.68 320.9M339.37 156.24L363.92 176.17L388.31 195.35L412.53 213.71L436.61 231.18L460.55 247.65L484.35 263.01L508.03 277.22L531.6 290.3L555.06 302.39L578.43 313.65M345.01 156.64L368.31 175.41L391.46 193.51L414.47 210.87L437.35 227.42L460.09 243.08L482.72 257.75L505.24 271.37L527.65 283.95L549.97 295.58L572.2 306.41M350.61 156.96L372.67 174.6L394.6 191.63L416.4 208L438.08 223.65L459.64 238.5L481.1 252.47L502.46 265.5L523.72 277.58L544.9 288.76L565.99 299.16M356.19 157.2L377.01 173.72L397.72 189.7L418.32 205.1L438.81 219.85L459.19 233.9L479.48 247.17L499.68 259.6L519.8 271.17L539.84 281.92L559.8 291.91M361.73 157.35L381.33 172.79L400.83 187.74L420.23 202.17L439.53 216.04L458.75 229.28L477.87 241.85L496.92 253.67L515.89 264.73L534.79 275.03L553.63 284.63M367.24 157.43L385.62 171.8L403.92 185.74L422.13 199.22L440.25 212.21L458.3 224.65L476.27 236.51L494.17 247.71L512 258.24L529.77 268.1L547.48 277.3M372.71 157.43L389.89 170.75L406.99 183.7L424.02 196.24L440.97 208.35L457.85 220L474.67 231.14L491.42 241.72L508.12 251.72L524.76 261.11L541.34 269.91M378.16 157.35L394.14 169.64L410.05 181.61L425.9 193.23L441.69 204.49L457.41 215.34L473.08 225.75L488.69 235.7L504.25 245.14L519.76 254.05L535.22 262.45M383.58 157.19L398.37 168.48L413.1 179.49L427.78 190.2L442.4 200.6L456.97 210.65L471.49 220.35L485.97 229.64L500.4 238.51L514.78 246.93L529.13 254.9M388.96 156.96L402.57 167.26L416.13 177.33L429.64 187.14L443.11 196.69L456.53 205.96L469.91 214.92L483.25 223.55L496.55 231.83L509.82 239.74L523.05 247.25M394.32 156.65L406.75 165.99L419.14 175.13L431.5 184.06L443.81 192.76L456.09 201.24L468.34 209.46L480.55 217.42L492.73 225.1L504.87 232.47L516.99 239.51M399.65 156.26L410.91 164.66L422.15 172.88L433.35 180.94L444.52 188.82L455.66 196.51L466.77 203.99L477.85 211.27L488.91 218.31L499.94 225.11L510.94 231.66M404.95 155.8L415.05 163.27L425.13 170.6L435.19 177.8L445.22 184.86L455.23 191.76L465.21 198.5L475.17 205.08L485.1 211.48L495.02 217.69L504.92 223.7M410.22 155.27L419.17 161.83L428.11 168.29L437.02 174.64L445.92 180.87L454.79 186.99L463.65 192.99L472.49 198.86L481.31 204.6L490.12 210.19L498.91 215.63M415.46 154.66L423.27 160.33L431.06 165.93L438.85 171.44L446.61 176.87L454.36 182.21L462.1 187.47L469.82 192.62L477.53 197.68L485.23 202.63L492.91 207.47M420.67 153.98L427.35 158.78L434.01 163.53L440.66 168.22L447.3 172.85L453.93 177.42L460.55 181.92L467.16 186.35L473.76 190.72L480.35 195.01L486.94 199.22M425.86 153.22L431.4 157.18L436.94 161.1L442.47 164.98L447.99 168.82L453.51 172.61L459.01 176.36L464.51 180.07L470.01 183.72L475.49 187.33L480.97 190.89M431.02 152.39L435.44 155.52L439.86 158.63L444.27 161.71L448.68 164.76L453.08 167.79L457.48 170.79L461.87 173.76L466.26 176.7L470.65 179.61L475.03 182.49M436.15 151.49L439.46 153.81L442.76 156.12L446.06 158.41L449.36 160.69L452.66 162.95L455.95 165.2L459.24 167.43L462.53 169.65L465.81 171.85L469.1 174.03M441.26 150.52L443.46 152.05L445.65 153.57L447.85 155.09L450.04 156.6L452.23 158.1L454.43 159.6L456.62 161.09L458.81 162.57L460.99 164.05L463.18 165.52M446.34 149.48L447.43 150.24L448.53 150.99L449.62 151.74L450.72 152.49L451.81 153.24L452.91 153.99L454 154.73L455.09 155.48L456.19 156.22L457.28 156.96" fill="none" stroke="#008a88" stroke-width="0.75" stroke-opacity="0.85"/>
<g stroke="#000" stroke-width="5.4" fill="none" stroke-linecap="round" stroke-linejoin="round">
<polyline points="93.96,76.02 115.16,580.6 510.05,727.28 824.04,560.34"/>
</g>
<g stroke="#000" stroke-width="5.3" fill="none" stroke-linecap="round">
<line x1="115.16" y1="580.6" x2="94.84" y2="588.3" />
<line x1="108.37" y1="419.15" x2="87.58" y2="425.58" />
<line x1="101.31" y1="251.09" x2="80.03" y2="256.14" />
<line x1="93.96" y1="76.02" x2="72.16" y2="79.56" />
<line x1="472.31" y1="713.26" x2="452.53" y2="723.43" />
<line x1="540.76" y1="710.95" x2="566.11" y2="720.12" />
<line x1="399.76" y1="686.31" x2="389.83" y2="691.11" />
<line x1="599.36" y1="679.8" x2="610.93" y2="683.77" />
<line x1="330.9" y1="660.73" x2="310.8" y2="669.89" />
<line x1="654.48" y1="650.49" x2="679.25" y2="658.61" />
<line x1="265.44" y1="636.42" x2="255.39" y2="640.75" />
<line x1="706.41" y1="622.88" x2="717.71" y2="626.41" />
<line x1="203.15" y1="613.28" x2="182.88" y2="621.56" />
<line x1="755.44" y1="596.81" x2="779.62" y2="604.04" />
<line x1="143.8" y1="591.23" x2="133.69" y2="595.16" />
<line x1="801.8" y1="572.16" x2="812.82" y2="575.32" />
</g>
<g font-family='"Liberation Sans", sans-serif' font-size="29.5" text-anchor="middle" fill="#000">
<text x="49" y="94.27">6</text>
<text x="58.5" y="272.27">4</text>
<text x="66.1" y="442.87">2</text>
<text x="72.9" y="604.27">0</text>
<text x="97.3" y="630.07">0.5</text>
<text x="149" y="652.47">0.4</text>
<text x="215.8" y="676.17">0.3</text>
<text x="277" y="701.17">0.2</text>
<text x="350.5" y="734.87">0.1</text>
<text x="421.7" y="754.77">0.0</text>
<text x="604.1" y="741.07">0.0</text>
<text x="655.8" y="708.67">0.1</text>
<text x="716.9" y="679.97">0.2</text>
<text x="769.3" y="649.97">0.3</text>
<text x="813.7" y="625.07">0.4</text>
<text x="846.1" y="596.37">0.5</text>
</g>
<text transform="translate(144.1 704.5) rotate(20)" font-family='"Liberation Sans", sans-serif' font-size="29" text-anchor="start" fill="#000"><tspan font-family="Liberation Serif, serif">&#916;</tspan><tspan font-style="italic">k</tspan><tspan dy="7" font-size="19.5">1</tspan><tspan dy="-7" font-size="29"> (N/m)</tspan></text>
<text transform="translate(735.8 734.8) rotate(-28)" font-family='"Liberation Sans", sans-serif' font-size="29" text-anchor="start" fill="#000"><tspan font-family="Liberation Serif, serif">&#916;</tspan><tspan font-style="italic">k</tspan><tspan dy="7" font-size="19.5">2</tspan><tspan dy="-7" font-size="29"> (N/m)</tspan></text>
<text transform="translate(17 357) rotate(90)" font-family='"Liberation Sans", sans-serif' font-size="28" text-anchor="middle" fill="#000">AR<tspan dy="6" font-size="18">1</tspan></text>
<g stroke="#a0a0a0" stroke-width="1.2" stroke-dasharray="1.3 1.9" fill="none">
<line x1="1378.58" y1="719.84" x2="1694.13" y2="557.24" />
<line x1="1446.73" y1="717.5" x2="1054.55" y2="575.5" />
<line x1="1054.55" y1="575.5" x2="1035.82" y2="78.17" />
<line x1="1694.13" y1="557.24" x2="1714.36" y2="71.29" />
<line x1="1237.82" y1="667.52" x2="1561.4" y2="519.82" />
<line x1="1560.09" y1="657.15" x2="1173.44" y2="530.29" />
<line x1="1173.44" y1="530.29" x2="1162.66" y2="57.47" />
<line x1="1561.4" y1="519.82" x2="1573.09" y2="53.6" />
<line x1="1110.54" y1="620.2" x2="1439.51" y2="485.46" />
<line x1="1660.77" y1="603.55" x2="1280.67" y2="489.52" />
<line x1="1280.67" y1="489.52" x2="1276.38" y2="38.9" />
<line x1="1439.51" y1="485.46" x2="1443.99" y2="37.44" />
<line x1="1016.06" y1="426.36" x2="1354.37" y2="321.35" />
<line x1="1354.37" y1="321.35" x2="1736.42" y2="409.8" />
<line x1="1009.07" y1="258.54" x2="1354.3" y2="176.35" />
<line x1="1354.3" y1="176.35" x2="1743.95" y2="246.21" />
</g>
<g stroke="#000" stroke-width="1.7" fill="none" stroke-linecap="round" stroke-linejoin="round">
<polyline points="1001.78,83.72 1354.24,26.2 1751.78,75.98 1729.18,567.13 1354.43,461.47 1022.78,587.58"/>
<line x1="1354.24" y1="26.2" x2="1354.43" y2="461.47" />
</g>
<g stroke-width="0.7" stroke-linejoin="round">
<polygon points="1409.95,615.16 1406.25,609.44 1671.4,485.87 1674.76,490.73" fill="#3c08ff" stroke="#3c08ff"/>
<polygon points="1406.25,609.44 1402.56,603.73 1668.03,481.01 1671.4,485.87" fill="#390fff" stroke="#390fff"/>
<polygon points="1402.56,603.73 1398.87,598.03 1664.67,476.16 1668.03,481.01" fill="#3515ff" stroke="#3515ff"/>
<polygon points="1398.87,598.03 1395.19,592.34 1661.31,471.32 1664.67,476.16" fill="#321bff" stroke="#321bff"/>
<polygon points="1395.19,592.34 1391.51,586.65 1657.96,466.48 1661.31,471.32" fill="#2e22ff" stroke="#2e22ff"/>
<polygon points="1391.51,586.65 1387.84,580.98 1654.62,461.65 1657.96,466.48" fill="#2b28ff" stroke="#2b28ff"/>
<polygon points="1387.84,580.98 1384.18,575.31 1651.27,456.83 1654.62,461.65" fill="#272eff" stroke="#272eff"/>
<polygon points="1384.18,575.31 1380.52,569.65 1647.93,452.01 1651.27,456.83" fill="#2333ff" stroke="#2333ff"/>
<polygon points="1380.52,569.65 1376.87,564 1644.6,447.2 1647.93,452.01" fill="#1f39ff" stroke="#1f39ff"/>
<polygon points="1376.87,564 1373.22,558.36 1641.27,442.4 1644.6,447.2" fill="#1b3eff" stroke="#1b3eff"/>
<polygon points="1373.22,558.36 1369.58,552.72 1637.95,437.6 1641.27,442.4" fill="#1745ff" stroke="#1745ff"/>
<polygon points="1369.58,552.72 1365.94,547.1 1634.62,432.8 1637.95,437.6" fill="#134cff" stroke="#134cff"/>
<polygon points="1365.94,547.1 1362.31,541.48 1631.31,428.02 1634.62,432.8" fill="#0f54ff" stroke="#0f54ff"/>
<polygon points="1362.31,541.48 1358.68,535.87 1628,423.24 1631.31,428.02" fill="#0b5bff" stroke="#0b5bff"/>
<polygon points="1358.68,535.87 1355.06,530.27 1624.69,418.46 1628,423.24" fill="#0662ff" stroke="#0662ff"/>
<polygon points="1355.06,530.27 1351.44,524.68 1621.38,413.7 1624.69,418.46" fill="#026aff" stroke="#026aff"/>
<polygon points="1351.44,524.68 1347.83,519.1 1618.08,408.93 1621.38,413.7" fill="#0072ff" stroke="#0072ff"/>
<polygon points="1347.83,519.1 1344.23,513.52 1614.79,404.18 1618.08,408.93" fill="#007bff" stroke="#007bff"/>
<polygon points="1344.23,513.52 1340.63,507.96 1611.5,399.43 1614.79,404.18" fill="#0084ff" stroke="#0084ff"/>
<polygon points="1340.63,507.96 1337.04,502.4 1608.21,394.69 1611.5,399.43" fill="#008eff" stroke="#008eff"/>
<polygon points="1337.04,502.4 1333.45,496.85 1604.93,389.95 1608.21,394.69" fill="#0097ff" stroke="#0097ff"/>
<polygon points="1333.45,496.85 1329.87,491.31 1601.65,385.22 1604.93,389.95" fill="#00a0ff" stroke="#00a0ff"/>
<polygon points="1329.87,491.31 1326.29,485.77 1598.37,380.49 1601.65,385.22" fill="#00a9ff" stroke="#00a9ff"/>
<polygon points="1326.29,485.77 1322.72,480.25 1595.1,375.77 1598.37,380.49" fill="#00b2ff" stroke="#00b2ff"/>
<polygon points="1322.72,480.25 1319.15,474.73 1591.84,371.06 1595.1,375.77" fill="#00baff" stroke="#00baff"/>
<polygon points="1319.15,474.73 1315.59,469.22 1588.58,366.35 1591.84,371.06" fill="#00c3ff" stroke="#00c3ff"/>
<polygon points="1315.59,469.22 1312.03,463.72 1585.32,361.65 1588.58,366.35" fill="#00cbff" stroke="#00cbff"/>
<polygon points="1312.03,463.72 1308.48,458.23 1582.07,356.96 1585.32,361.65" fill="#00d3ff" stroke="#00d3ff"/>
<polygon points="1308.48,458.23 1304.93,452.74 1578.82,352.27 1582.07,356.96" fill="#00dcff" stroke="#00dcff"/>
<polygon points="1304.93,452.74 1301.39,447.27 1575.57,347.59 1578.82,352.27" fill="#00e4ff" stroke="#00e4ff"/>
<polygon points="1301.39,447.27 1297.86,441.8 1572.33,342.91 1575.57,347.59" fill="#00edff" stroke="#00edff"/>
<polygon points="1297.86,441.8 1294.33,436.34 1569.1,338.24 1572.33,342.91" fill="#00f5ff" stroke="#00f5ff"/>
<polygon points="1294.33,436.34 1290.8,430.89 1565.86,333.58 1569.1,338.24" fill="#00feff" stroke="#00feff"/>
<polygon points="1290.8,430.89 1287.28,425.44 1562.63,328.92 1565.86,333.58" fill="#00fef1" stroke="#00fef1"/>
<polygon points="1287.28,425.44 1283.77,420.01 1559.41,324.26 1562.63,328.92" fill="#00fee1" stroke="#00fee1"/>
<polygon points="1283.77,420.01 1280.26,414.58 1556.19,319.62 1559.41,324.26" fill="#00fdd1" stroke="#00fdd1"/>
<polygon points="1280.26,414.58 1276.75,409.16 1552.97,314.98 1556.19,319.62" fill="#00fdc1" stroke="#00fdc1"/>
<polygon points="1276.75,409.16 1273.25,403.75 1549.76,310.34 1552.97,314.98" fill="#00fcb1" stroke="#00fcb1"/>
<polygon points="1273.25,403.75 1269.76,398.34 1546.56,305.71 1549.76,310.34" fill="#00fba0" stroke="#00fba0"/>
<polygon points="1269.76,398.34 1266.27,392.95 1543.35,301.09 1546.56,305.71" fill="#00fb90" stroke="#00fb90"/>
<polygon points="1266.27,392.95 1262.79,387.56 1540.15,296.47 1543.35,301.09" fill="#00fa80" stroke="#00fa80"/>
<polygon points="1262.79,387.56 1259.31,382.18 1536.96,291.86 1540.15,296.47" fill="#00fa71" stroke="#00fa71"/>
<polygon points="1259.31,382.18 1255.83,376.8 1533.77,287.26 1536.96,291.86" fill="#00f964" stroke="#00f964"/>
<polygon points="1255.83,376.8 1252.36,371.44 1530.58,282.66 1533.77,287.26" fill="#00f956" stroke="#00f956"/>
<polygon points="1252.36,371.44 1248.9,366.08 1527.39,278.06 1530.58,282.66" fill="#00f848" stroke="#00f848"/>
<polygon points="1248.9,366.08 1245.44,360.73 1524.22,273.47 1527.39,278.06" fill="#00f73b" stroke="#00f73b"/>
<polygon points="1245.44,360.73 1241.99,355.39 1521.04,268.89 1524.22,273.47" fill="#00f72d" stroke="#00f72d"/>
<polygon points="1241.99,355.39 1238.54,350.06 1517.87,264.32 1521.04,268.89" fill="#00f61f" stroke="#00f61f"/>
<polygon points="1238.54,350.06 1235.1,344.73 1514.7,259.74 1517.87,264.32" fill="#00f612" stroke="#00f612"/>
<polygon points="1235.1,344.73 1231.66,339.42 1511.54,255.18 1514.7,259.74" fill="#00f504" stroke="#00f504"/>
<polygon points="1231.66,339.42 1228.23,334.11 1508.38,250.62 1511.54,255.18" fill="#0bf500" stroke="#0bf500"/>
<polygon points="1228.23,334.11 1224.8,328.8 1505.22,246.07 1508.38,250.62" fill="#1af400" stroke="#1af400"/>
<polygon points="1224.8,328.8 1221.37,323.51 1502.07,241.52 1505.22,246.07" fill="#29f300" stroke="#29f300"/>
<polygon points="1221.37,323.51 1217.96,318.22 1498.93,236.98 1502.07,241.52" fill="#38f300" stroke="#38f300"/>
<polygon points="1217.96,318.22 1214.54,312.94 1495.78,232.44 1498.93,236.98" fill="#47f200" stroke="#47f200"/>
<polygon points="1214.54,312.94 1211.13,307.67 1492.64,227.91 1495.78,232.44" fill="#57f200" stroke="#57f200"/>
<polygon points="1211.13,307.67 1207.73,302.41 1489.51,223.39 1492.64,227.91" fill="#66f100" stroke="#66f100"/>
<polygon points="1207.73,302.41 1204.33,297.15 1486.38,218.87 1489.51,223.39" fill="#75f000" stroke="#75f000"/>
<polygon points="1204.33,297.15 1200.94,291.9 1483.25,214.36 1486.38,218.87" fill="#84f000" stroke="#84f000"/>
<polygon points="1200.94,291.9 1197.55,286.66 1480.13,209.85 1483.25,214.36" fill="#93ef00" stroke="#93ef00"/>
<polygon points="1197.55,286.66 1194.17,281.43 1477.01,205.35 1480.13,209.85" fill="#a2ef00" stroke="#a2ef00"/>
<polygon points="1194.17,281.43 1190.79,276.2 1473.89,200.85 1477.01,205.35" fill="#b2ee00" stroke="#b2ee00"/>
<polygon points="1190.79,276.2 1187.41,270.98 1470.78,196.36 1473.89,200.85" fill="#c1ed00" stroke="#c1ed00"/>
<polygon points="1187.41,270.98 1184.04,265.77 1467.67,191.87 1470.78,196.36" fill="#d0ed00" stroke="#d0ed00"/>
<polygon points="1184.04,265.77 1180.68,260.57 1464.57,187.4 1467.67,191.87" fill="#dfec00" stroke="#dfec00"/>
<polygon points="1180.68,260.57 1177.32,255.37 1461.47,182.92 1464.57,187.4" fill="#eeec00" stroke="#eeec00"/>
<polygon points="1177.32,255.37 1173.97,250.18 1458.37,178.45 1461.47,182.92" fill="#fdeb00" stroke="#fdeb00"/>
<polygon points="1173.97,250.18 1170.62,245 1455.28,173.99 1458.37,178.45" fill="#ffe500" stroke="#ffe500"/>
<polygon points="1170.62,245 1167.27,239.83 1452.19,169.53 1455.28,173.99" fill="#ffde00" stroke="#ffde00"/>
<polygon points="1167.27,239.83 1163.93,234.66 1449.11,165.08 1452.19,169.53" fill="#ffd700" stroke="#ffd700"/>
<polygon points="1163.93,234.66 1160.6,229.51 1446.02,160.64 1449.11,165.08" fill="#ffd000" stroke="#ffd000"/>
<polygon points="1160.6,229.51 1157.27,224.35 1442.95,156.2 1446.02,160.64" fill="#ffc900" stroke="#ffc900"/>
<polygon points="1157.27,224.35 1153.94,219.21 1439.87,151.76 1442.95,156.2" fill="#ffc100" stroke="#ffc100"/>
<polygon points="1153.94,219.21 1150.62,214.07 1436.81,147.33 1439.87,151.76" fill="#ffba00" stroke="#ffba00"/>
<polygon points="1150.62,214.07 1147.3,208.95 1433.74,142.91 1436.81,147.33" fill="#ffb300" stroke="#ffb300"/>
<polygon points="1147.3,208.95 1143.99,203.82 1430.68,138.49 1433.74,142.91" fill="#ffac00" stroke="#ffac00"/>
<polygon points="1143.99,203.82 1140.68,198.71 1427.62,134.08 1430.68,138.49" fill="#ffa500" stroke="#ffa500"/>
<polygon points="1140.68,198.71 1137.38,193.6 1424.57,129.67 1427.62,134.08" fill="#ff9e00" stroke="#ff9e00"/>
<polygon points="1137.38,193.6 1134.08,188.5 1421.52,125.27 1424.57,129.67" fill="#ff9700" stroke="#ff9700"/>
<polygon points="1134.08,188.5 1130.79,183.41 1418.47,120.87 1421.52,125.27" fill="#ff9000" stroke="#ff9000"/>
<polygon points="1130.79,183.41 1127.5,178.32 1415.43,116.48 1418.47,120.87" fill="#ff8900" stroke="#ff8900"/>
<polygon points="1127.5,178.32 1124.22,173.25 1412.39,112.1 1415.43,116.48" fill="#ff8200" stroke="#ff8200"/>
<polygon points="1124.22,173.25 1120.94,168.17 1409.35,107.72 1412.39,112.1" fill="#ff7b00" stroke="#ff7b00"/>
<polygon points="1120.94,168.17 1117.67,163.11 1406.32,103.34 1409.35,107.72" fill="#ff7400" stroke="#ff7400"/>
<polygon points="1117.67,163.11 1114.4,158.05 1403.3,98.97 1406.32,103.34" fill="#ff6d00" stroke="#ff6d00"/>
<polygon points="1114.4,158.05 1111.13,153.01 1400.27,94.61 1403.3,98.97" fill="#ff6600" stroke="#ff6600"/>
<polygon points="1111.13,153.01 1107.87,147.96 1397.25,90.25 1400.27,94.61" fill="#ff5f00" stroke="#ff5f00"/>
<polygon points="1107.87,147.96 1104.62,142.93 1394.24,85.9 1397.25,90.25" fill="#ff5800" stroke="#ff5800"/>
<polygon points="1104.62,142.93 1101.37,137.9 1391.22,81.55 1394.24,85.9" fill="#ff5100" stroke="#ff5100"/>
<polygon points="1101.37,137.9 1098.12,132.88 1388.21,77.21 1391.22,81.55" fill="#ff4a00" stroke="#ff4a00"/>
<polygon points="1098.12,132.88 1094.88,127.87 1385.21,72.87 1388.21,77.21" fill="#ff4300" stroke="#ff4300"/>
<polygon points="1094.88,127.87 1091.64,122.86 1382.21,68.54 1385.21,72.87" fill="#ff3c00" stroke="#ff3c00"/>
<polygon points="1091.64,122.86 1088.41,117.86 1379.21,64.22 1382.21,68.54" fill="#ff3500" stroke="#ff3500"/>
<polygon points="1088.41,117.86 1085.18,112.87 1376.22,59.9 1379.21,64.22" fill="#ff2e00" stroke="#ff2e00"/>
<polygon points="1085.18,112.87 1081.96,107.88 1373.23,55.58 1376.22,59.9" fill="#ff2700" stroke="#ff2700"/>
<polygon points="1081.96,107.88 1078.74,102.9 1370.24,51.27 1373.23,55.58" fill="#ff2000" stroke="#ff2000"/>
<polygon points="1078.74,102.9 1075.53,97.93 1367.26,46.97 1370.24,51.27" fill="#ff1900" stroke="#ff1900"/>
<polygon points="1075.53,97.93 1072.32,92.97 1364.28,42.67 1367.26,46.97" fill="#ff1200" stroke="#ff1200"/>
<polygon points="1072.32,92.97 1069.11,88.01 1361.3,38.37 1364.28,42.67" fill="#ff0b00" stroke="#ff0b00"/>
<polygon points="1069.11,88.01 1065.91,83.06 1358.33,34.08 1361.3,38.37" fill="#ff0400" stroke="#ff0400"/>
</g>
<path d="M1409.95 615.16L1674.76 490.73M1402.56 603.73L1668.03 481.01M1395.19 592.34L1661.31 471.32M1387.84 580.98L1654.62 461.65M1380.52 569.65L1647.93 452.01M1373.22 558.36L1641.27 442.4M1365.94 547.1L1634.62 432.8M1358.68 535.87L1628 423.24M1351.44 524.68L1621.38 413.7M1344.23 513.52L1614.79 404.18M1337.04 502.4L1608.21 394.69M1329.87 491.31L1601.65 385.22M1322.72 480.25L1595.1 375.77M1315.59 469.22L1588.58 366.35M1308.48 458.23L1582.07 356.96M1301.39 447.27L1575.57 347.59M1294.33 436.34L1569.1 338.24M1287.28 425.44L1562.63 328.92M1280.26 414.58L1556.19 319.62M1273.25 403.75L1549.76 310.34M1266.27 392.95L1543.35 301.09M1259.31 382.18L1536.96 291.86M1252.36 371.44L1530.58 282.66M1245.44 360.73L1524.22 273.47M1238.54 350.06L1517.87 264.32M1231.66 339.42L1511.54 255.18M1224.8 328.8L1505.22 246.07M1217.96 318.22L1498.93 236.98M1211.13 307.67L1492.64 227.91M1204.33 297.15L1486.38 218.87M1197.55 286.66L1480.13 209.85M1190.79 276.2L1473.89 200.85M1184.04 265.77L1467.67 191.87M1177.32 255.37L1461.47 182.92M1170.62 245L1455.28 173.99M1163.93 234.66L1449.11 165.08M1157.27 224.35L1442.95 156.2M1150.62 214.07L1436.81 147.33M1143.99 203.82L1430.68 138.49M1137.38 193.6L1424.57 129.67M1130.79 183.41L1418.47 120.87M1124.22 173.25L1412.39 112.1M1117.67 163.11L1406.32 103.34M1111.13 153.01L1400.27 94.61M1104.62 142.93L1394.24 85.9M1098.12 132.88L1388.21 77.21M1091.64 122.86L1382.21 68.54M1085.18 112.87L1376.22 59.9M1078.74 102.9L1370.24 51.27M1072.32 92.97L1364.28 42.67M1065.91 83.06L1358.33 34.08" fill="none" stroke="#008a88" stroke-width="0.55" stroke-opacity="0.85"/>
<path d="M1409.95 615.16L1065.91 83.06M1416.06 612.29L1072.59 81.94M1422.13 609.44L1079.24 80.83M1428.16 606.61L1085.84 79.72M1434.16 603.79L1092.41 78.62M1440.12 600.99L1098.94 77.53M1446.04 598.21L1105.43 76.44M1451.92 595.44L1111.89 75.36M1457.77 592.69L1118.31 74.29M1463.59 589.96L1124.69 73.22M1469.36 587.24L1131.04 72.15M1475.11 584.55L1137.35 71.1M1480.82 581.86L1143.62 70.05M1486.49 579.2L1149.86 69M1492.13 576.55L1156.06 67.96M1497.74 573.91L1162.23 66.93M1503.31 571.29L1168.36 65.9M1508.85 568.69L1174.47 64.88M1514.35 566.1L1180.53 63.86M1519.83 563.53L1186.56 62.85M1525.27 560.98L1192.56 61.85M1530.68 558.43L1198.53 60.85M1536.06 555.91L1204.46 59.86M1541.4 553.39L1210.37 58.87M1546.72 550.9L1216.23 57.88M1552 548.41L1222.07 56.91M1557.25 545.95L1227.88 55.93M1562.48 543.49L1233.65 54.97M1567.67 541.05L1239.39 54M1572.83 538.63L1245.11 53.05M1577.96 536.22L1250.79 52.1M1583.07 533.82L1256.44 51.15M1588.14 531.43L1262.06 50.21M1593.19 529.06L1267.65 49.27M1598.2 526.71L1273.21 48.34M1603.19 524.36L1278.74 47.41M1608.15 522.03L1284.24 46.49M1613.08 519.71L1289.72 45.58M1617.99 517.41L1295.16 44.66M1622.86 515.12L1300.58 43.76M1627.71 512.84L1305.96 42.85M1632.54 510.57L1311.32 41.96M1637.33 508.32L1316.66 41.06M1642.1 506.08L1321.96 40.18M1646.85 503.85L1327.24 39.29M1651.56 501.63L1332.48 38.41M1656.25 499.43L1337.71 37.54M1660.92 497.24L1342.9 36.67M1665.56 495.05L1348.07 35.8M1670.17 492.89L1353.21 34.94M1674.76 490.73L1358.33 34.08" fill="none" stroke="#008a88" stroke-width="0.6" stroke-opacity="0.85"/>
<path d="M1402.56 603.73L1416.06 612.29M1395.19 592.34L1422.13 609.44M1387.84 580.98L1428.16 606.61M1380.52 569.65L1434.16 603.79M1373.22 558.36L1440.12 600.99M1365.94 547.1L1446.04 598.21M1358.68 535.87L1451.92 595.44M1351.44 524.68L1457.77 592.69M1344.23 513.52L1463.59 589.96M1337.04 502.4L1469.36 587.24M1329.87 491.31L1475.11 584.55M1322.72 480.25L1480.82 581.86M1315.59 469.22L1486.49 579.2M1308.48 458.23L1492.13 576.55M1301.39 447.27L1497.74 573.91M1294.33 436.34L1503.31 571.29M1287.28 425.44L1508.85 568.69M1280.26 414.58L1514.35 566.1M1273.25 403.75L1519.83 563.53M1266.27 392.95L1525.27 560.98M1259.31 382.18L1530.68 558.43M1252.36 371.44L1536.06 555.91M1245.44 360.73L1541.4 553.39M1238.54 350.06L1546.72 550.9M1231.66 339.42L1552 548.41M1224.8 328.8L1557.25 545.95M1217.96 318.22L1562.48 543.49M1211.13 307.67L1567.67 541.05M1204.33 297.15L1572.83 538.63M1197.55 286.66L1577.96 536.22M1190.79 276.2L1583.07 533.82M1184.04 265.77L1588.14 531.43M1177.32 255.37L1593.19 529.06M1170.62 245L1598.2 526.71M1163.93 234.66L1603.19 524.36M1157.27 224.35L1608.15 522.03M1150.62 214.07L1613.08 519.71M1143.99 203.82L1617.99 517.41M1137.38 193.6L1622.86 515.12M1130.79 183.41L1627.71 512.84M1124.22 173.25L1632.54 510.57M1117.67 163.11L1637.33 508.32M1111.13 153.01L1642.1 506.08M1104.62 142.93L1646.85 503.85M1098.12 132.88L1651.56 501.63M1091.64 122.86L1656.25 499.43M1085.18 112.87L1660.92 497.24M1078.74 102.9L1665.56 495.05M1072.32 92.97L1670.17 492.89M1065.91 83.06L1674.76 490.73M1072.59 81.94L1668.03 481.01M1079.24 80.83L1661.31 471.32M1085.84 79.72L1654.62 461.65M1092.41 78.62L1647.93 452.01M1098.94 77.53L1641.27 442.4M1105.43 76.44L1634.62 432.8M1111.89 75.36L1628 423.24M1118.31 74.29L1621.38 413.7M1124.69 73.22L1614.79 404.18M1131.04 72.15L1608.21 394.69M1137.35 71.1L1601.65 385.22M1143.62 70.05L1595.1 375.77M1149.86 69L1588.58 366.35M1156.06 67.96L1582.07 356.96M1162.23 66.93L1575.57 347.59M1168.36 65.9L1569.1 338.24M1174.47 64.88L1562.63 328.92M1180.53 63.86L1556.19 319.62M1186.56 62.85L1549.76 310.34M1192.56 61.85L1543.35 301.09M1198.53 60.85L1536.96 291.86M1204.46 59.86L1530.58 282.66M1210.37 58.87L1524.22 273.47M1216.23 57.88L1517.87 264.32M1222.07 56.91L1511.54 255.18M1227.88 55.93L1505.22 246.07M1233.65 54.97L1498.93 236.98M1239.39 54L1492.64 227.91M1245.11 53.05L1486.38 218.87M1250.79 52.1L1480.13 209.85M1256.44 51.15L1473.89 200.85M1262.06 50.21L1467.67 191.87M1267.65 49.27L1461.47 182.92M1273.21 48.34L1455.28 173.99M1278.74 47.41L1449.11 165.08M1284.24 46.49L1442.95 156.2M1289.72 45.58L1436.81 147.33M1295.16 44.66L1430.68 138.49M1300.58 43.76L1424.57 129.67M1305.96 42.85L1418.47 120.87M1311.32 41.96L1412.39 112.1M1316.66 41.06L1406.32 103.34M1321.96 40.18L1400.27 94.61M1327.24 39.29L1394.24 85.9M1332.48 38.41L1388.21 77.21M1337.71 37.54L1382.21 68.54M1342.9 36.67L1376.22 59.9M1348.07 35.8L1370.24 51.27M1353.21 34.94L1364.28 42.67" fill="none" stroke="#008a88" stroke-width="0.75" stroke-opacity="0.85"/>
<g stroke="#000" stroke-width="5.4" fill="none" stroke-linecap="round" stroke-linejoin="round">
<polyline points="1001.78,83.72 1022.78,587.58 1416.13,733.8 1729.18,567.13"/>
</g>
<g stroke="#000" stroke-width="5.3" fill="none" stroke-linecap="round">
<line x1="1022.78" y1="587.58" x2="1002.51" y2="595.29" />
<line x1="1016.06" y1="426.36" x2="995.32" y2="432.8" />
<line x1="1009.07" y1="258.54" x2="987.84" y2="263.6" />
<line x1="1001.78" y1="83.72" x2="980.04" y2="87.27" />
<line x1="1378.58" y1="719.84" x2="1358.87" y2="730" />
<line x1="1446.73" y1="717.5" x2="1471.94" y2="726.63" />
<line x1="1306.39" y1="693" x2="1296.49" y2="697.8" />
<line x1="1505.14" y1="686.41" x2="1516.65" y2="690.37" />
<line x1="1237.82" y1="667.52" x2="1217.78" y2="676.66" />
<line x1="1560.09" y1="657.15" x2="1584.73" y2="665.23" />
<line x1="1172.62" y1="643.28" x2="1162.59" y2="647.61" />
<line x1="1611.88" y1="629.58" x2="1623.11" y2="633.1" />
<line x1="1110.54" y1="620.2" x2="1090.32" y2="628.48" />
<line x1="1660.77" y1="603.55" x2="1684.8" y2="610.76" />
<line x1="1051.35" y1="598.2" x2="1041.27" y2="602.13" />
<line x1="1707" y1="578.94" x2="1717.95" y2="582.09" />
</g>
<g font-family='"Liberation Sans", sans-serif' font-size="29.5" text-anchor="middle" fill="#000">
<text x="958.6" y="101.57">6</text>
<text x="966.9" y="279.97">4</text>
<text x="971.86" y="449.9">2</text>
<text x="980.59" y="610.83">0</text>
<text x="1010.28" y="628.79">0.5</text>
<text x="1060.93" y="652.5">0.4</text>
<text x="1130.04" y="672.46">0.3</text>
<text x="1184.93" y="698.65">0.2</text>
<text x="1261.28" y="726.1">0.1</text>
<text x="1321.66" y="749.8">0.0</text>
<text x="1505.88" y="746.06">0.0</text>
<text x="1555.78" y="711.13">0.1</text>
<text x="1616.91" y="683.18">0.2</text>
<text x="1669.3" y="652.5">0.3</text>
<text x="1717.95" y="630.04">0.4</text>
<text x="1753.63" y="603.34">0.5</text>
</g>
<text transform="translate(1047 709.3) rotate(20)" font-family='"Liberation Sans", sans-serif' font-size="29" text-anchor="start" fill="#000"><tspan font-family="Liberation Serif, serif">&#916;</tspan><tspan font-style="italic">k</tspan><tspan dy="7" font-size="19.5">1</tspan><tspan dy="-7" font-size="29"> (N/m)</tspan></text>
<text transform="translate(1625.2 740.7) rotate(-28)" font-family='"Liberation Sans", sans-serif' font-size="29" text-anchor="start" fill="#000"><tspan font-family="Liberation Serif, serif">&#916;</tspan><tspan font-style="italic">k</tspan><tspan dy="7" font-size="19.5">2</tspan><tspan dy="-7" font-size="29"> (N/m)</tspan></text>
<text transform="translate(918 365.5) rotate(90)" font-family='"Liberation Sans", sans-serif' font-size="28" text-anchor="middle" fill="#000">AR<tspan dy="6" font-size="18">1</tspan></text>
<g font-family='"Liberation Sans", sans-serif' font-weight="bold" font-size="40" fill="#000">
<text x="1.5" y="30.3">a</text><text x="902" y="30.3">b</text><text x="-1" y="830">c</text></g>
<defs><linearGradient id="cb" x1="0" y1="0" x2="0" y2="1">
<stop offset="0.0000" stop-color="#ff0000"/>
<stop offset="0.2843" stop-color="#ffeb00"/>
<stop offset="0.4272" stop-color="#00f500"/>
<stop offset="0.5021" stop-color="#00fa78"/>
<stop offset="0.5731" stop-color="#00ffff"/>
<stop offset="0.6589" stop-color="#00aaff"/>
<stop offset="0.7142" stop-color="#006eff"/>
<stop offset="0.7660" stop-color="#1941ff"/>
<stop offset="0.7973" stop-color="#282dff"/>
<stop offset="0.8580" stop-color="#4100ff"/>
<stop offset="1.0000" stop-color="#a000ff"/>
</linearGradient></defs>
<rect x="1818.9" y="102.7" width="41.7" height="542.0999999999999" fill="url(#cb)"/>
<g stroke="#000" stroke-width="5" stroke-linecap="round" fill="none">
<line x1="1872.5" y1="75" x2="1872.5" y2="643.1"/>
<line x1="1872.5" y1="102.7" x2="1890" y2="102.7"/>
<line x1="1872.5" y1="240.9" x2="1890" y2="240.9"/>
<line x1="1872.5" y1="379.6" x2="1890" y2="379.6"/>
<line x1="1872.5" y1="518.1" x2="1890" y2="518.1"/>
<line x1="1872.5" y1="643.1" x2="1890" y2="643.1"/>
</g>
<path d="M1872.5 57.3L1885.6 83.2L1872.5 78.5L1859.4 83.2Z" fill="#000"/>
<circle cx="1872.5" cy="643.1" r="7" fill="#000"/>
<g font-family='"Liberation Sans", sans-serif' font-size="29.5" fill="#000">
<text x="1905" y="113.2">6.0</text>
<text x="1905" y="251.4">4.5</text>
<text x="1905" y="390.1">3.0</text>
<text x="1905" y="528.6">1.5</text>
<text x="1905" y="653.6">0</text>
</g>
<text transform="translate(1801 369) rotate(-90)" font-family='"Liberation Sans", sans-serif' font-size="28.8" text-anchor="middle">Amplitude ratio</text>
<line x1="634.7" y1="833.7" x2="744.5" y2="833.7" stroke="#0000ff" stroke-width="4.4"/>
<circle cx="634.7" cy="833.7" r="8.3" fill="#0000ff"/>
<circle cx="689.6" cy="833.7" r="8.3" fill="#0000ff"/>
<circle cx="744.5" cy="833.7" r="8.3" fill="#0000ff"/>
<text x="765.5" y="842.1" font-family='"Liberation Sans", sans-serif' font-size="29" fill="#000">Mode-localized</text>
<line x1="1018.6" y1="833.7" x2="1128.4" y2="833.7" stroke="#ff0060" stroke-width="4.4"/>
<circle cx="1018.6" cy="833.7" r="8.3" fill="#ff0060"/>
<circle cx="1073.5" cy="833.7" r="8.3" fill="#ff0060"/>
<circle cx="1128.4" cy="833.7" r="8.3" fill="#ff0060"/>
<text x="1149.1" y="842.1" font-family='"Liberation Sans", sans-serif' font-size="29" fill="#000">Constant-drive</text>
<g>
<text x="240.8" y="896.2" font-family='"Liberation Sans", sans-serif' font-size="29" text-anchor="middle" color="#c00000"><tspan font-family="Liberation Serif, serif">&#916;</tspan> <tspan font-style="italic">k</tspan><tspan dy="8" font-size="20">2</tspan><tspan dy="-8" font-size="29"> = 0 (N/m)</tspan></text>
<g stroke="#000" stroke-width="3.4" stroke-linecap="round">
<line x1="82" y1="1111.51" x2="95.3" y2="1111.51"/>
<line x1="82" y1="1078.92" x2="95.3" y2="1078.92"/>
<line x1="82" y1="1046.34" x2="95.3" y2="1046.34"/>
<line x1="82" y1="1013.75" x2="95.3" y2="1013.75"/>
<line x1="82" y1="981.17" x2="95.3" y2="981.17"/>
<line x1="82" y1="948.58" x2="95.3" y2="948.58"/>
<line x1="108.47" y1="1127.8" x2="108.47" y2="1116.8"/>
<line x1="161.4" y1="1127.8" x2="161.4" y2="1116.8"/>
<line x1="214.33" y1="1127.8" x2="214.33" y2="1116.8"/>
<line x1="267.27" y1="1127.8" x2="267.27" y2="1116.8"/>
<line x1="320.2" y1="1127.8" x2="320.2" y2="1116.8"/>
<line x1="373.13" y1="1127.8" x2="373.13" y2="1116.8"/>
</g>
<polyline points="108.47,1095.22 134.93,1084.14 161.4,1069.8 187.87,1054.81 214.33,1039.17 240.8,1023.86 267.27,1007.89 293.73,991.92 320.2,975.96 346.67,960.32 373.13,943.53" fill="none" stroke="#0000ff" stroke-width="3.3"/>
<g fill="#0000ff"><circle cx="108.47" cy="1095.22" r="5.9"/><circle cx="134.93" cy="1084.14" r="5.9"/><circle cx="161.4" cy="1069.8" r="5.9"/><circle cx="187.87" cy="1054.81" r="5.9"/><circle cx="214.33" cy="1039.17" r="5.9"/><circle cx="240.8" cy="1023.86" r="5.9"/><circle cx="267.27" cy="1007.89" r="5.9"/><circle cx="293.73" cy="991.92" r="5.9"/><circle cx="320.2" cy="975.96" r="5.9"/><circle cx="346.67" cy="960.32" r="5.9"/><circle cx="373.13" cy="943.53" r="5.9"/></g>
<polyline points="108.47,1095.22 134.93,1078.92 161.4,1062.63 187.87,1046.34 214.33,1030.05 240.8,1013.75 267.27,997.46 293.73,981.17 320.2,964.88 346.67,948.58 373.13,932.29" fill="none" stroke="#ff0060" stroke-width="3.3"/>
<g fill="#ff0060"><circle cx="108.47" cy="1095.22" r="5.9"/><circle cx="134.93" cy="1078.92" r="5.9"/><circle cx="161.4" cy="1062.63" r="5.9"/><circle cx="187.87" cy="1046.34" r="5.9"/><circle cx="214.33" cy="1030.05" r="5.9"/><circle cx="240.8" cy="1013.75" r="5.9"/><circle cx="267.27" cy="997.46" r="5.9"/><circle cx="293.73" cy="981.17" r="5.9"/><circle cx="320.2" cy="964.88" r="5.9"/><circle cx="346.67" cy="948.58" r="5.9"/><circle cx="373.13" cy="932.29" r="5.9"/></g>
<rect x="82" y="916" width="317.6" height="211.8" fill="none" stroke="#000" stroke-width="3.4"/>
<g font-family='"Liberation Sans", sans-serif' font-size="29.5" text-anchor="middle" fill="#000">
<text x="60" y="1138.3">0</text>
<text x="60" y="1105.72">1</text>
<text x="60" y="1073.13">2</text>
<text x="60" y="1040.55">3</text>
<text x="60" y="1007.96">4</text>
<text x="60" y="975.38">5</text>
<text x="60" y="942.79">6</text>
<text x="108.47" y="1162.3">0</text>
<text x="161.4" y="1162.3">0.1</text>
<text x="214.33" y="1162.3">0.2</text>
<text x="267.27" y="1162.3">0.3</text>
<text x="320.2" y="1162.3">0.4</text>
<text x="373.13" y="1162.3">0.5</text>
</g>
<text x="240" y="1205.8" font-family='"Liberation Sans", sans-serif' font-size="29" text-anchor="middle" fill="#000"><tspan font-family="Liberation Serif, serif">&#916;</tspan><tspan font-style="italic">k</tspan><tspan dy="8" font-size="20">1</tspan><tspan dy="-8" font-size="29"> (N/m)</tspan></text>
<text transform="translate(24 1021.9) rotate(-90)" font-family='"Liberation Sans", sans-serif' font-size="29" text-anchor="middle" fill="#000">AR<tspan dy="6" font-size="18.5">1</tspan></text>
<g font-family='"Liberation Sans", sans-serif' font-size="24.9" fill="#000">
<text x="114.8" y="949.7"><tspan font-style="italic">S</tspan><tspan dy="6" font-size="15">1</tspan><tspan dy="-6" font-size="24.9"> = 10/ (N/m)</tspan></text>
<text x="104.8" y="977"><tspan font-style="italic">S</tspan><tspan dy="6" font-size="15">2</tspan><tspan dy="-6" font-size="24.9"> = 9.46/ (N/m)</tspan></text>
<text x="384.2" y="1074.4" text-anchor="end"><tspan font-style="italic" font-family="Liberation Serif, serif" font-size="26">&#963;</tspan><tspan dy="7" font-size="15">1</tspan><tspan dy="-7" font-size="24.9"> = 0</tspan></text>
<text x="384.2" y="1104.4" text-anchor="end"><tspan font-style="italic" font-family="Liberation Serif, serif" font-size="26">&#963;</tspan><tspan dy="7" font-size="15">2</tspan><tspan dy="-7" font-size="24.9"> = 0</tspan></text>
</g>
</g>
<g>
<text x="720.8" y="896.2" font-family='"Liberation Sans", sans-serif' font-size="29" text-anchor="middle" color="#c00000"><tspan font-family="Liberation Serif, serif">&#916;</tspan> <tspan font-style="italic">k</tspan><tspan dy="8" font-size="20">2</tspan><tspan dy="-8" font-size="29"> = 0.05 (N/m)</tspan></text>
<g stroke="#000" stroke-width="3.4" stroke-linecap="round">
<line x1="562" y1="1111.51" x2="575.3" y2="1111.51"/>
<line x1="562" y1="1078.92" x2="575.3" y2="1078.92"/>
<line x1="562" y1="1046.34" x2="575.3" y2="1046.34"/>
<line x1="562" y1="1013.75" x2="575.3" y2="1013.75"/>
<line x1="562" y1="981.17" x2="575.3" y2="981.17"/>
<line x1="562" y1="948.58" x2="575.3" y2="948.58"/>
<line x1="588.47" y1="1127.8" x2="588.47" y2="1116.8"/>
<line x1="641.4" y1="1127.8" x2="641.4" y2="1116.8"/>
<line x1="694.33" y1="1127.8" x2="694.33" y2="1116.8"/>
<line x1="747.27" y1="1127.8" x2="747.27" y2="1116.8"/>
<line x1="800.2" y1="1127.8" x2="800.2" y2="1116.8"/>
<line x1="853.13" y1="1127.8" x2="853.13" y2="1116.8"/>
</g>
<polyline points="588.47,1100.43 614.93,1089.68 641.4,1077.29 667.87,1062.96 694.33,1048.62 720.8,1032.65 747.27,1017.66 773.73,1001.7 800.2,985.41 826.67,969.76 853.13,953.47" fill="none" stroke="#0000ff" stroke-width="3.3"/>
<g fill="#0000ff"><circle cx="588.47" cy="1100.43" r="5.9"/><circle cx="614.93" cy="1089.68" r="5.9"/><circle cx="641.4" cy="1077.29" r="5.9"/><circle cx="667.87" cy="1062.96" r="5.9"/><circle cx="694.33" cy="1048.62" r="5.9"/><circle cx="720.8" cy="1032.65" r="5.9"/><circle cx="747.27" cy="1017.66" r="5.9"/><circle cx="773.73" cy="1001.7" r="5.9"/><circle cx="800.2" cy="985.41" r="5.9"/><circle cx="826.67" cy="969.76" r="5.9"/><circle cx="853.13" cy="953.47" r="5.9"/></g>
<polyline points="588.47,1095.22 614.93,1078.92 641.4,1062.63 667.87,1046.34 694.33,1030.05 720.8,1013.75 747.27,997.46 773.73,981.17 800.2,964.88 826.67,948.58 853.13,932.29" fill="none" stroke="#ff0060" stroke-width="3.3"/>
<g fill="#ff0060"><circle cx="588.47" cy="1095.22" r="5.9"/><circle cx="614.93" cy="1078.92" r="5.9"/><circle cx="641.4" cy="1062.63" r="5.9"/><circle cx="667.87" cy="1046.34" r="5.9"/><circle cx="694.33" cy="1030.05" r="5.9"/><circle cx="720.8" cy="1013.75" r="5.9"/><circle cx="747.27" cy="997.46" r="5.9"/><circle cx="773.73" cy="981.17" r="5.9"/><circle cx="800.2" cy="964.88" r="5.9"/><circle cx="826.67" cy="948.58" r="5.9"/><circle cx="853.13" cy="932.29" r="5.9"/></g>
<rect x="562" y="916" width="317.6" height="211.8" fill="none" stroke="#000" stroke-width="3.4"/>
<g font-family='"Liberation Sans", sans-serif' font-size="29.5" text-anchor="middle" fill="#000">
<text x="540" y="1138.3">0</text>
<text x="540" y="1105.72">1</text>
<text x="540" y="1073.13">2</text>
<text x="540" y="1040.55">3</text>
<text x="540" y="1007.96">4</text>
<text x="540" y="975.38">5</text>
<text x="540" y="942.79">6</text>
<text x="588.47" y="1162.3">0</text>
<text x="641.4" y="1162.3">0.1</text>
<text x="694.33" y="1162.3">0.2</text>
<text x="747.27" y="1162.3">0.3</text>
<text x="800.2" y="1162.3">0.4</text>
<text x="853.13" y="1162.3">0.5</text>
</g>
<text x="720.8" y="1205.8" font-family='"Liberation Sans", sans-serif' font-size="29" text-anchor="middle" fill="#000"><tspan font-family="Liberation Serif, serif">&#916;</tspan><tspan font-style="italic">k</tspan><tspan dy="8" font-size="20">1</tspan><tspan dy="-8" font-size="29"> (N/m)</tspan></text>
<text transform="translate(504.5 1021.9) rotate(-90)" font-family='"Liberation Sans", sans-serif' font-size="29" text-anchor="middle" fill="#000">AR<tspan dy="6" font-size="18.5">1</tspan></text>
<g font-family='"Liberation Sans", sans-serif' font-size="24.9" fill="#000">
<text x="594.7" y="952.2"><tspan font-style="italic">S</tspan><tspan dy="6" font-size="15">1</tspan><tspan dy="-6" font-size="24.9"> = 10/ (N/m)</tspan></text>
<text x="583.5" y="980.9"><tspan font-style="italic">S</tspan><tspan dy="6" font-size="15">2</tspan><tspan dy="-6" font-size="24.9"> = 9.14/ (N/m)</tspan></text>
<text x="846.7" y="1074.9" text-anchor="end"><tspan font-style="italic" font-family="Liberation Serif, serif" font-size="26">&#963;</tspan><tspan dy="7" font-size="15">1</tspan><tspan dy="-7" font-size="24.9"> = 0</tspan></text>
<text x="861.2" y="1105.6" text-anchor="end"><tspan font-style="italic" font-family="Liberation Serif, serif" font-size="26">&#963;</tspan><tspan dy="7" font-size="15">2</tspan><tspan dy="-7" font-size="24.9"> = 0.31</tspan></text>
</g>
</g>
<g>
<text x="1199" y="896.2" font-family='"Liberation Sans", sans-serif' font-size="29" text-anchor="middle" color="#c00000"><tspan font-family="Liberation Serif, serif">&#916;</tspan> <tspan font-style="italic">k</tspan><tspan dy="8" font-size="20">2</tspan><tspan dy="-8" font-size="29"> = 0.10 (N/m)</tspan></text>
<g stroke="#000" stroke-width="3.4" stroke-linecap="round">
<line x1="1041" y1="1111.51" x2="1054.3" y2="1111.51"/>
<line x1="1041" y1="1078.92" x2="1054.3" y2="1078.92"/>
<line x1="1041" y1="1046.34" x2="1054.3" y2="1046.34"/>
<line x1="1041" y1="1013.75" x2="1054.3" y2="1013.75"/>
<line x1="1041" y1="981.17" x2="1054.3" y2="981.17"/>
<line x1="1041" y1="948.58" x2="1054.3" y2="948.58"/>
<line x1="1067.47" y1="1127.8" x2="1067.47" y2="1116.8"/>
<line x1="1120.4" y1="1127.8" x2="1120.4" y2="1116.8"/>
<line x1="1173.33" y1="1127.8" x2="1173.33" y2="1116.8"/>
<line x1="1226.27" y1="1127.8" x2="1226.27" y2="1116.8"/>
<line x1="1279.2" y1="1127.8" x2="1279.2" y2="1116.8"/>
<line x1="1332.13" y1="1127.8" x2="1332.13" y2="1116.8"/>
</g>
<polyline points="1067.47,1100.43 1093.93,1089.68 1120.4,1077.29 1146.87,1062.96 1173.33,1048.62 1199.8,1032.65 1226.27,1017.66 1252.73,1001.7 1279.2,985.41 1305.67,969.76 1332.13,954.12" fill="none" stroke="#0000ff" stroke-width="3.3"/>
<g fill="#0000ff"><circle cx="1067.47" cy="1100.43" r="5.9"/><circle cx="1093.93" cy="1089.68" r="5.9"/><circle cx="1120.4" cy="1077.29" r="5.9"/><circle cx="1146.87" cy="1062.96" r="5.9"/><circle cx="1173.33" cy="1048.62" r="5.9"/><circle cx="1199.8" cy="1032.65" r="5.9"/><circle cx="1226.27" cy="1017.66" r="5.9"/><circle cx="1252.73" cy="1001.7" r="5.9"/><circle cx="1279.2" cy="985.41" r="5.9"/><circle cx="1305.67" cy="969.76" r="5.9"/><circle cx="1332.13" cy="954.12" r="5.9"/></g>
<polyline points="1067.47,1095.22 1093.93,1078.92 1120.4,1062.63 1146.87,1046.34 1173.33,1030.05 1199.8,1013.75 1226.27,997.46 1252.73,981.17 1279.2,964.88 1305.67,948.58 1332.13,932.29" fill="none" stroke="#ff0060" stroke-width="3.3"/>
<g fill="#ff0060"><circle cx="1067.47" cy="1095.22" r="5.9"/><circle cx="1093.93" cy="1078.92" r="5.9"/><circle cx="1120.4" cy="1062.63" r="5.9"/><circle cx="1146.87" cy="1046.34" r="5.9"/><circle cx="1173.33" cy="1030.05" r="5.9"/><circle cx="1199.8" cy="1013.75" r="5.9"/><circle cx="1226.27" cy="997.46" r="5.9"/><circle cx="1252.73" cy="981.17" r="5.9"/><circle cx="1279.2" cy="964.88" r="5.9"/><circle cx="1305.67" cy="948.58" r="5.9"/><circle cx="1332.13" cy="932.29" r="5.9"/></g>
<rect x="1041" y="916" width="317.6" height="211.8" fill="none" stroke="#000" stroke-width="3.4"/>
<g font-family='"Liberation Sans", sans-serif' font-size="29.5" text-anchor="middle" fill="#000">
<text x="1019" y="1138.3">0</text>
<text x="1019" y="1105.72">1</text>
<text x="1019" y="1073.13">2</text>
<text x="1019" y="1040.55">3</text>
<text x="1019" y="1007.96">4</text>
<text x="1019" y="975.38">5</text>
<text x="1019" y="942.79">6</text>
<text x="1067.47" y="1162.3">0</text>
<text x="1120.4" y="1162.3">0.1</text>
<text x="1173.33" y="1162.3">0.2</text>
<text x="1226.27" y="1162.3">0.3</text>
<text x="1279.2" y="1162.3">0.4</text>
<text x="1332.13" y="1162.3">0.5</text>
</g>
<text x="1199.1" y="1205.8" font-family='"Liberation Sans", sans-serif' font-size="29" text-anchor="middle" fill="#000"><tspan font-family="Liberation Serif, serif">&#916;</tspan><tspan font-style="italic">k</tspan><tspan dy="8" font-size="20">1</tspan><tspan dy="-8" font-size="29"> (N/m)</tspan></text>
<text transform="translate(983.3 1021.9) rotate(-90)" font-family='"Liberation Sans", sans-serif' font-size="29" text-anchor="middle" fill="#000">AR<tspan dy="6" font-size="18.5">1</tspan></text>
<g font-family='"Liberation Sans", sans-serif' font-size="24.9" fill="#000">
<text x="1071" y="949.7"><tspan font-style="italic">S</tspan><tspan dy="6" font-size="15">1</tspan><tspan dy="-6" font-size="24.9"> = 10/ (N/m)</tspan></text>
<text x="1061" y="977.1"><tspan font-style="italic">S</tspan><tspan dy="6" font-size="15">2</tspan><tspan dy="-6" font-size="24.9"> = 8.80/ (N/m)</tspan></text>
<text x="1318.7" y="1074.4" text-anchor="end"><tspan font-style="italic" font-family="Liberation Serif, serif" font-size="26">&#963;</tspan><tspan dy="7" font-size="15">1</tspan><tspan dy="-7" font-size="24.9"> = 0</tspan></text>
<text x="1336.2" y="1103.9" text-anchor="end"><tspan font-style="italic" font-family="Liberation Serif, serif" font-size="26">&#963;</tspan><tspan dy="7" font-size="15">2</tspan><tspan dy="-7" font-size="24.9"> = 0.57</tspan></text>
</g>
</g>
<g>
<text x="1678" y="896.2" font-family='"Liberation Sans", sans-serif' font-size="29" text-anchor="middle" color="#c00000"><tspan font-family="Liberation Serif, serif">&#916;</tspan> <tspan font-style="italic">k</tspan><tspan dy="8" font-size="20">2</tspan><tspan dy="-8" font-size="29"> = 0.15 (N/m)</tspan></text>
<g stroke="#000" stroke-width="3.4" stroke-linecap="round">
<line x1="1519.7" y1="1111.51" x2="1533" y2="1111.51"/>
<line x1="1519.7" y1="1078.92" x2="1533" y2="1078.92"/>
<line x1="1519.7" y1="1046.34" x2="1533" y2="1046.34"/>
<line x1="1519.7" y1="1013.75" x2="1533" y2="1013.75"/>
<line x1="1519.7" y1="981.17" x2="1533" y2="981.17"/>
<line x1="1519.7" y1="948.58" x2="1533" y2="948.58"/>
<line x1="1546.17" y1="1127.8" x2="1546.17" y2="1116.8"/>
<line x1="1599.1" y1="1127.8" x2="1599.1" y2="1116.8"/>
<line x1="1652.03" y1="1127.8" x2="1652.03" y2="1116.8"/>
<line x1="1704.97" y1="1127.8" x2="1704.97" y2="1116.8"/>
<line x1="1757.9" y1="1127.8" x2="1757.9" y2="1116.8"/>
<line x1="1810.83" y1="1127.8" x2="1810.83" y2="1116.8"/>
</g>
<polyline points="1546.17,1102.22 1572.63,1093.59 1599.1,1081.86 1625.57,1069.15 1652.03,1054.81 1678.5,1040.15 1704.97,1025.16 1731.43,1009.84 1757.9,994.2 1784.37,977.91 1810.83,962.27" fill="none" stroke="#0000ff" stroke-width="3.3"/>
<g fill="#0000ff"><circle cx="1546.17" cy="1102.22" r="5.9"/><circle cx="1572.63" cy="1093.59" r="5.9"/><circle cx="1599.1" cy="1081.86" r="5.9"/><circle cx="1625.57" cy="1069.15" r="5.9"/><circle cx="1652.03" cy="1054.81" r="5.9"/><circle cx="1678.5" cy="1040.15" r="5.9"/><circle cx="1704.97" cy="1025.16" r="5.9"/><circle cx="1731.43" cy="1009.84" r="5.9"/><circle cx="1757.9" cy="994.2" r="5.9"/><circle cx="1784.37" cy="977.91" r="5.9"/><circle cx="1810.83" cy="962.27" r="5.9"/></g>
<polyline points="1546.17,1095.22 1572.63,1078.92 1599.1,1062.63 1625.57,1046.34 1652.03,1030.05 1678.5,1013.75 1704.97,997.46 1731.43,981.17 1757.9,964.88 1784.37,948.58 1810.83,932.29" fill="none" stroke="#ff0060" stroke-width="3.3"/>
<g fill="#ff0060"><circle cx="1546.17" cy="1095.22" r="5.9"/><circle cx="1572.63" cy="1078.92" r="5.9"/><circle cx="1599.1" cy="1062.63" r="5.9"/><circle cx="1625.57" cy="1046.34" r="5.9"/><circle cx="1652.03" cy="1030.05" r="5.9"/><circle cx="1678.5" cy="1013.75" r="5.9"/><circle cx="1704.97" cy="997.46" r="5.9"/><circle cx="1731.43" cy="981.17" r="5.9"/><circle cx="1757.9" cy="964.88" r="5.9"/><circle cx="1784.37" cy="948.58" r="5.9"/><circle cx="1810.83" cy="932.29" r="5.9"/></g>
<rect x="1519.7" y="916" width="317.6" height="211.8" fill="none" stroke="#000" stroke-width="3.4"/>
<g font-family='"Liberation Sans", sans-serif' font-size="29.5" text-anchor="middle" fill="#000">
<text x="1497.7" y="1138.3">0</text>
<text x="1497.7" y="1105.72">1</text>
<text x="1497.7" y="1073.13">2</text>
<text x="1497.7" y="1040.55">3</text>
<text x="1497.7" y="1007.96">4</text>
<text x="1497.7" y="975.38">5</text>
<text x="1497.7" y="942.79">6</text>
<text x="1546.17" y="1162.3">0</text>
<text x="1599.1" y="1162.3">0.1</text>
<text x="1652.03" y="1162.3">0.2</text>
<text x="1704.97" y="1162.3">0.3</text>
<text x="1757.9" y="1162.3">0.4</text>
<text x="1810.83" y="1162.3">0.5</text>
</g>
<text x="1677.9" y="1205.8" font-family='"Liberation Sans", sans-serif' font-size="29" text-anchor="middle" fill="#000"><tspan font-family="Liberation Serif, serif">&#916;</tspan><tspan font-style="italic">k</tspan><tspan dy="8" font-size="20">1</tspan><tspan dy="-8" font-size="29"> (N/m)</tspan></text>
<text transform="translate(1462.7 1021.9) rotate(-90)" font-family='"Liberation Sans", sans-serif' font-size="29" text-anchor="middle" fill="#000">AR<tspan dy="6" font-size="18.5">1</tspan></text>
<g font-family='"Liberation Sans", sans-serif' font-size="24.9" fill="#000">
<text x="1554.7" y="950.9"><tspan font-style="italic">S</tspan><tspan dy="6" font-size="15">1</tspan><tspan dy="-6" font-size="24.9"> = 10/ (N/m)</tspan></text>
<text x="1544.8" y="977.1"><tspan font-style="italic">S</tspan><tspan dy="6" font-size="15">2</tspan><tspan dy="-6" font-size="24.9"> = 8.51/ (N/m)</tspan></text>
<text x="1798" y="1074.9" text-anchor="end"><tspan font-style="italic" font-family="Liberation Serif, serif" font-size="26">&#963;</tspan><tspan dy="7" font-size="15">1</tspan><tspan dy="-7" font-size="24.9"> = 0</tspan></text>
<text x="1815.5" y="1104.9" text-anchor="end"><tspan font-style="italic" font-family="Liberation Serif, serif" font-size="26">&#963;</tspan><tspan dy="7" font-size="15">2</tspan><tspan dy="-7" font-size="24.9"> = 0.76</tspan></text>
</g>
</g>
<g>
<text x="253.3" y="1268.7" font-family='"Liberation Sans", sans-serif' font-size="29" text-anchor="middle" color="#c00000"><tspan font-family="Liberation Serif, serif">&#916;</tspan> <tspan font-style="italic">k</tspan><tspan dy="8" font-size="20">2</tspan><tspan dy="-8" font-size="29"> = 0.20 (N/m)</tspan></text>
<g stroke="#000" stroke-width="3.4" stroke-linecap="round">
<line x1="82" y1="1484.01" x2="95.3" y2="1484.01"/>
<line x1="82" y1="1451.42" x2="95.3" y2="1451.42"/>
<line x1="82" y1="1418.84" x2="95.3" y2="1418.84"/>
<line x1="82" y1="1386.25" x2="95.3" y2="1386.25"/>
<line x1="82" y1="1353.67" x2="95.3" y2="1353.67"/>
<line x1="82" y1="1321.08" x2="95.3" y2="1321.08"/>
<line x1="108.47" y1="1500.3" x2="108.47" y2="1489.3"/>
<line x1="161.4" y1="1500.3" x2="161.4" y2="1489.3"/>
<line x1="214.33" y1="1500.3" x2="214.33" y2="1489.3"/>
<line x1="267.27" y1="1500.3" x2="267.27" y2="1489.3"/>
<line x1="320.2" y1="1500.3" x2="320.2" y2="1489.3"/>
<line x1="373.13" y1="1500.3" x2="373.13" y2="1489.3"/>
</g>
<polyline points="108.47,1475.7 134.93,1467.72 161.4,1457.29 187.87,1445.23 214.33,1431.87 240.8,1417.21 267.27,1402.22 293.73,1386.91 320.2,1371.92 346.67,1355.62 373.13,1340.31" fill="none" stroke="#0000ff" stroke-width="3.3"/>
<g fill="#0000ff"><circle cx="108.47" cy="1475.7" r="5.9"/><circle cx="134.93" cy="1467.72" r="5.9"/><circle cx="161.4" cy="1457.29" r="5.9"/><circle cx="187.87" cy="1445.23" r="5.9"/><circle cx="214.33" cy="1431.87" r="5.9"/><circle cx="240.8" cy="1417.21" r="5.9"/><circle cx="267.27" cy="1402.22" r="5.9"/><circle cx="293.73" cy="1386.91" r="5.9"/><circle cx="320.2" cy="1371.92" r="5.9"/><circle cx="346.67" cy="1355.62" r="5.9"/><circle cx="373.13" cy="1340.31" r="5.9"/></g>
<polyline points="108.47,1467.72 134.93,1451.42 161.4,1435.13 187.87,1418.84 214.33,1402.55 240.8,1386.25 267.27,1369.96 293.73,1353.67 320.2,1337.38 346.67,1321.08 373.13,1304.79" fill="none" stroke="#ff0060" stroke-width="3.3"/>
<g fill="#ff0060"><circle cx="108.47" cy="1467.72" r="5.9"/><circle cx="134.93" cy="1451.42" r="5.9"/><circle cx="161.4" cy="1435.13" r="5.9"/><circle cx="187.87" cy="1418.84" r="5.9"/><circle cx="214.33" cy="1402.55" r="5.9"/><circle cx="240.8" cy="1386.25" r="5.9"/><circle cx="267.27" cy="1369.96" r="5.9"/><circle cx="293.73" cy="1353.67" r="5.9"/><circle cx="320.2" cy="1337.38" r="5.9"/><circle cx="346.67" cy="1321.08" r="5.9"/><circle cx="373.13" cy="1304.79" r="5.9"/></g>
<rect x="82" y="1288.5" width="317.6" height="211.8" fill="none" stroke="#000" stroke-width="3.4"/>
<g font-family='"Liberation Sans", sans-serif' font-size="29.5" text-anchor="middle" fill="#000">
<text x="60" y="1510.8">0</text>
<text x="60" y="1478.22">1</text>
<text x="60" y="1445.63">2</text>
<text x="60" y="1413.05">3</text>
<text x="60" y="1380.46">4</text>
<text x="60" y="1347.88">5</text>
<text x="60" y="1315.29">6</text>
<text x="108.47" y="1534.8">0</text>
<text x="161.4" y="1534.8">0.1</text>
<text x="214.33" y="1534.8">0.2</text>
<text x="267.27" y="1534.8">0.3</text>
<text x="320.2" y="1534.8">0.4</text>
<text x="373.13" y="1534.8">0.5</text>
</g>
<text x="243.1" y="1578.3" font-family='"Liberation Sans", sans-serif' font-size="29" text-anchor="middle" fill="#000"><tspan font-family="Liberation Serif, serif">&#916;</tspan><tspan font-style="italic">k</tspan><tspan dy="8" font-size="20">1</tspan><tspan dy="-8" font-size="29"> (N/m)</tspan></text>
<text transform="translate(24 1394.4) rotate(-90)" font-family='"Liberation Sans", sans-serif' font-size="29" text-anchor="middle" fill="#000">AR<tspan dy="6" font-size="18.5">1</tspan></text>
<g font-family='"Liberation Sans", sans-serif' font-size="24.9" fill="#000">
<text x="115.8" y="1323.3"><tspan font-style="italic">S</tspan><tspan dy="6" font-size="15">1</tspan><tspan dy="-6" font-size="24.9"> = 10/ (N/m)</tspan></text>
<text x="104.8" y="1351.2"><tspan font-style="italic">S</tspan><tspan dy="6" font-size="15">2</tspan><tspan dy="-6" font-size="24.9"> = 8.30/ (N/m)</tspan></text>
<text x="365.3" y="1446.8" text-anchor="end"><tspan font-style="italic" font-family="Liberation Serif, serif" font-size="26">&#963;</tspan><tspan dy="7" font-size="15">1</tspan><tspan dy="-7" font-size="24.9"> = 0</tspan></text>
<text x="381.7" y="1476.8" text-anchor="end"><tspan font-style="italic" font-family="Liberation Serif, serif" font-size="26">&#963;</tspan><tspan dy="7" font-size="15">2</tspan><tspan dy="-7" font-size="24.9"> = 0.90</tspan></text>
</g>
</g>
<g>
<text x="705.4" y="1268.7" font-family='"Liberation Sans", sans-serif' font-size="29" text-anchor="middle" color="#c00000"><tspan font-family="Liberation Serif, serif">&#916;</tspan> <tspan font-style="italic">k</tspan><tspan dy="8" font-size="20">2</tspan><tspan dy="-8" font-size="29"> = 0.25 (N/m)</tspan></text>
<g stroke="#000" stroke-width="3.4" stroke-linecap="round">
<line x1="562" y1="1484.01" x2="575.3" y2="1484.01"/>
<line x1="562" y1="1451.42" x2="575.3" y2="1451.42"/>
<line x1="562" y1="1418.84" x2="575.3" y2="1418.84"/>
<line x1="562" y1="1386.25" x2="575.3" y2="1386.25"/>
<line x1="562" y1="1353.67" x2="575.3" y2="1353.67"/>
<line x1="562" y1="1321.08" x2="575.3" y2="1321.08"/>
<line x1="588.47" y1="1500.3" x2="588.47" y2="1489.3"/>
<line x1="641.4" y1="1500.3" x2="641.4" y2="1489.3"/>
<line x1="694.33" y1="1500.3" x2="694.33" y2="1489.3"/>
<line x1="747.27" y1="1500.3" x2="747.27" y2="1489.3"/>
<line x1="800.2" y1="1500.3" x2="800.2" y2="1489.3"/>
<line x1="853.13" y1="1500.3" x2="853.13" y2="1489.3"/>
</g>
<polyline points="588.47,1476.84 614.93,1469.34 641.4,1459.73 667.87,1448.16 694.33,1435.13 720.8,1421.12 747.27,1406.78 773.73,1391.79 800.2,1376.15 826.67,1360.19 853.13,1344.22" fill="none" stroke="#0000ff" stroke-width="3.3"/>
<g fill="#0000ff"><circle cx="588.47" cy="1476.84" r="5.9"/><circle cx="614.93" cy="1469.34" r="5.9"/><circle cx="641.4" cy="1459.73" r="5.9"/><circle cx="667.87" cy="1448.16" r="5.9"/><circle cx="694.33" cy="1435.13" r="5.9"/><circle cx="720.8" cy="1421.12" r="5.9"/><circle cx="747.27" cy="1406.78" r="5.9"/><circle cx="773.73" cy="1391.79" r="5.9"/><circle cx="800.2" cy="1376.15" r="5.9"/><circle cx="826.67" cy="1360.19" r="5.9"/><circle cx="853.13" cy="1344.22" r="5.9"/></g>
<polyline points="588.47,1467.72 614.93,1451.42 641.4,1435.13 667.87,1418.84 694.33,1402.55 720.8,1386.25 747.27,1369.96 773.73,1353.67 800.2,1337.38 826.67,1321.08 853.13,1304.79" fill="none" stroke="#ff0060" stroke-width="3.3"/>
<g fill="#ff0060"><circle cx="588.47" cy="1467.72" r="5.9"/><circle cx="614.93" cy="1451.42" r="5.9"/><circle cx="641.4" cy="1435.13" r="5.9"/><circle cx="667.87" cy="1418.84" r="5.9"/><circle cx="694.33" cy="1402.55" r="5.9"/><circle cx="720.8" cy="1386.25" r="5.9"/><circle cx="747.27" cy="1369.96" r="5.9"/><circle cx="773.73" cy="1353.67" r="5.9"/><circle cx="800.2" cy="1337.38" r="5.9"/><circle cx="826.67" cy="1321.08" r="5.9"/><circle cx="853.13" cy="1304.79" r="5.9"/></g>
<rect x="562" y="1288.5" width="317.6" height="211.8" fill="none" stroke="#000" stroke-width="3.4"/>
<g font-family='"Liberation Sans", sans-serif' font-size="29.5" text-anchor="middle" fill="#000">
<text x="540" y="1510.8">0</text>
<text x="540" y="1478.22">1</text>
<text x="540" y="1445.63">2</text>
<text x="540" y="1413.05">3</text>
<text x="540" y="1380.46">4</text>
<text x="540" y="1347.88">5</text>
<text x="540" y="1315.29">6</text>
<text x="588.47" y="1534.8">0</text>
<text x="641.4" y="1534.8">0.1</text>
<text x="694.33" y="1534.8">0.2</text>
<text x="747.27" y="1534.8">0.3</text>
<text x="800.2" y="1534.8">0.4</text>
<text x="853.13" y="1534.8">0.5</text>
</g>
<text x="725.3" y="1578.3" font-family='"Liberation Sans", sans-serif' font-size="29" text-anchor="middle" fill="#000"><tspan font-family="Liberation Serif, serif">&#916;</tspan><tspan font-style="italic">k</tspan><tspan dy="8" font-size="20">1</tspan><tspan dy="-8" font-size="29"> (N/m)</tspan></text>
<text transform="translate(504.5 1394.4) rotate(-90)" font-family='"Liberation Sans", sans-serif' font-size="29" text-anchor="middle" fill="#000">AR<tspan dy="6" font-size="18.5">1</tspan></text>
<g font-family='"Liberation Sans", sans-serif' font-size="24.9" fill="#000">
<text x="594.8" y="1323.3"><tspan font-style="italic">S</tspan><tspan dy="6" font-size="15">1</tspan><tspan dy="-6" font-size="24.9"> = 10/ (N/m)</tspan></text>
<text x="583.8" y="1351.2"><tspan font-style="italic">S</tspan><tspan dy="6" font-size="15">2</tspan><tspan dy="-6" font-size="24.9"> = 8.13/ (N/m)</tspan></text>
<text x="855.8" y="1447.8" text-anchor="end"><tspan font-style="italic" font-family="Liberation Serif, serif" font-size="26">&#963;</tspan><tspan dy="7" font-size="15">1</tspan><tspan dy="-7" font-size="24.9"> = 0</tspan></text>
<text x="855.8" y="1477.8" text-anchor="end"><tspan font-style="italic" font-family="Liberation Serif, serif" font-size="26">&#963;</tspan><tspan dy="7" font-size="15">2</tspan><tspan dy="-7" font-size="24.9"> = 1.00</tspan></text>
</g>
</g>
<g>
<text x="1206.1" y="1268.7" font-family='"Liberation Sans", sans-serif' font-size="29" text-anchor="middle" color="#c00000"><tspan font-family="Liberation Serif, serif">&#916;</tspan> <tspan font-style="italic">k</tspan><tspan dy="8" font-size="20">2</tspan><tspan dy="-8" font-size="29"> = 0.30 (N/m)</tspan></text>
<g stroke="#000" stroke-width="3.4" stroke-linecap="round">
<line x1="1041" y1="1484.01" x2="1054.3" y2="1484.01"/>
<line x1="1041" y1="1451.42" x2="1054.3" y2="1451.42"/>
<line x1="1041" y1="1418.84" x2="1054.3" y2="1418.84"/>
<line x1="1041" y1="1386.25" x2="1054.3" y2="1386.25"/>
<line x1="1041" y1="1353.67" x2="1054.3" y2="1353.67"/>
<line x1="1041" y1="1321.08" x2="1054.3" y2="1321.08"/>
<line x1="1067.47" y1="1500.3" x2="1067.47" y2="1489.3"/>
<line x1="1120.4" y1="1500.3" x2="1120.4" y2="1489.3"/>
<line x1="1173.33" y1="1500.3" x2="1173.33" y2="1489.3"/>
<line x1="1226.27" y1="1500.3" x2="1226.27" y2="1489.3"/>
<line x1="1279.2" y1="1500.3" x2="1279.2" y2="1489.3"/>
<line x1="1332.13" y1="1500.3" x2="1332.13" y2="1489.3"/>
</g>
<polyline points="1067.47,1477.82 1093.93,1470.32 1120.4,1461.2 1146.87,1450.12 1173.33,1437.74 1199.8,1424.38 1226.27,1409.71 1252.73,1394.73 1279.2,1379.41 1305.67,1364.42 1332.13,1348.13" fill="none" stroke="#0000ff" stroke-width="3.3"/>
<g fill="#0000ff"><circle cx="1067.47" cy="1477.82" r="5.9"/><circle cx="1093.93" cy="1470.32" r="5.9"/><circle cx="1120.4" cy="1461.2" r="5.9"/><circle cx="1146.87" cy="1450.12" r="5.9"/><circle cx="1173.33" cy="1437.74" r="5.9"/><circle cx="1199.8" cy="1424.38" r="5.9"/><circle cx="1226.27" cy="1409.71" r="5.9"/><circle cx="1252.73" cy="1394.73" r="5.9"/><circle cx="1279.2" cy="1379.41" r="5.9"/><circle cx="1305.67" cy="1364.42" r="5.9"/><circle cx="1332.13" cy="1348.13" r="5.9"/></g>
<polyline points="1067.47,1467.72 1093.93,1451.42 1120.4,1435.13 1146.87,1418.84 1173.33,1402.55 1199.8,1386.25 1226.27,1369.96 1252.73,1353.67 1279.2,1337.38 1305.67,1321.08 1332.13,1304.79" fill="none" stroke="#ff0060" stroke-width="3.3"/>
<g fill="#ff0060"><circle cx="1067.47" cy="1467.72" r="5.9"/><circle cx="1093.93" cy="1451.42" r="5.9"/><circle cx="1120.4" cy="1435.13" r="5.9"/><circle cx="1146.87" cy="1418.84" r="5.9"/><circle cx="1173.33" cy="1402.55" r="5.9"/><circle cx="1199.8" cy="1386.25" r="5.9"/><circle cx="1226.27" cy="1369.96" r="5.9"/><circle cx="1252.73" cy="1353.67" r="5.9"/><circle cx="1279.2" cy="1337.38" r="5.9"/><circle cx="1305.67" cy="1321.08" r="5.9"/><circle cx="1332.13" cy="1304.79" r="5.9"/></g>
<rect x="1041" y="1288.5" width="317.6" height="211.8" fill="none" stroke="#000" stroke-width="3.4"/>
<g font-family='"Liberation Sans", sans-serif' font-size="29.5" text-anchor="middle" fill="#000">
<text x="1019" y="1510.8">0</text>
<text x="1019" y="1478.22">1</text>
<text x="1019" y="1445.63">2</text>
<text x="1019" y="1413.05">3</text>
<text x="1019" y="1380.46">4</text>
<text x="1019" y="1347.88">5</text>
<text x="1019" y="1315.29">6</text>
<text x="1067.47" y="1534.8">0</text>
<text x="1120.4" y="1534.8">0.1</text>
<text x="1173.33" y="1534.8">0.2</text>
<text x="1226.27" y="1534.8">0.3</text>
<text x="1279.2" y="1534.8">0.4</text>
<text x="1332.13" y="1534.8">0.5</text>
</g>
<text x="1201.8" y="1578.3" font-family='"Liberation Sans", sans-serif' font-size="29" text-anchor="middle" fill="#000"><tspan font-family="Liberation Serif, serif">&#916;</tspan><tspan font-style="italic">k</tspan><tspan dy="8" font-size="20">1</tspan><tspan dy="-8" font-size="29"> (N/m)</tspan></text>
<text transform="translate(999 1394.4) rotate(-90)" font-family='"Liberation Sans", sans-serif' font-size="29" text-anchor="middle" fill="#000">AR<tspan dy="6" font-size="18.5">1</tspan></text>
<g font-family='"Liberation Sans", sans-serif' font-size="24.9" fill="#000">
<text x="1070.8" y="1323.3"><tspan font-style="italic">S</tspan><tspan dy="6" font-size="15">1</tspan><tspan dy="-6" font-size="24.9"> = 10/ (N/m)</tspan></text>
<text x="1059.8" y="1351.2"><tspan font-style="italic">S</tspan><tspan dy="6" font-size="15">2</tspan><tspan dy="-6" font-size="24.9"> = 8.01/ (N/m)</tspan></text>
<text x="1320.3" y="1447.8" text-anchor="end"><tspan font-style="italic" font-family="Liberation Serif, serif" font-size="26">&#963;</tspan><tspan dy="7" font-size="15">1</tspan><tspan dy="-7" font-size="24.9"> = 0</tspan></text>
<text x="1337.7" y="1477.8" text-anchor="end"><tspan font-style="italic" font-family="Liberation Serif, serif" font-size="26">&#963;</tspan><tspan dy="7" font-size="15">2</tspan><tspan dy="-7" font-size="24.9"> = 1.07</tspan></text>
</g>
</g>
<g>
<text x="1678.5" y="1268.7" font-family='"Liberation Sans", sans-serif' font-size="29" text-anchor="middle" color="#c00000"><tspan font-family="Liberation Serif, serif">&#916;</tspan> <tspan font-style="italic">k</tspan><tspan dy="8" font-size="20">2</tspan><tspan dy="-8" font-size="29"> = 0.35 (N/m)</tspan></text>
<g stroke="#000" stroke-width="3.4" stroke-linecap="round">
<line x1="1519.7" y1="1484.01" x2="1533" y2="1484.01"/>
<line x1="1519.7" y1="1451.42" x2="1533" y2="1451.42"/>
<line x1="1519.7" y1="1418.84" x2="1533" y2="1418.84"/>
<line x1="1519.7" y1="1386.25" x2="1533" y2="1386.25"/>
<line x1="1519.7" y1="1353.67" x2="1533" y2="1353.67"/>
<line x1="1519.7" y1="1321.08" x2="1533" y2="1321.08"/>
<line x1="1546.17" y1="1500.3" x2="1546.17" y2="1489.3"/>
<line x1="1599.1" y1="1500.3" x2="1599.1" y2="1489.3"/>
<line x1="1652.03" y1="1500.3" x2="1652.03" y2="1489.3"/>
<line x1="1704.97" y1="1500.3" x2="1704.97" y2="1489.3"/>
<line x1="1757.9" y1="1500.3" x2="1757.9" y2="1489.3"/>
<line x1="1810.83" y1="1500.3" x2="1810.83" y2="1489.3"/>
</g>
<polyline points="1546.17,1478.14 1572.63,1470.65 1599.1,1462.18 1625.57,1451.75 1652.03,1439.37 1678.5,1425.68 1704.97,1411.67 1731.43,1396.68 1757.9,1381.69 1784.37,1366.38 1810.83,1350.41" fill="none" stroke="#0000ff" stroke-width="3.3"/>
<g fill="#0000ff"><circle cx="1546.17" cy="1478.14" r="5.9"/><circle cx="1572.63" cy="1470.65" r="5.9"/><circle cx="1599.1" cy="1462.18" r="5.9"/><circle cx="1625.57" cy="1451.75" r="5.9"/><circle cx="1652.03" cy="1439.37" r="5.9"/><circle cx="1678.5" cy="1425.68" r="5.9"/><circle cx="1704.97" cy="1411.67" r="5.9"/><circle cx="1731.43" cy="1396.68" r="5.9"/><circle cx="1757.9" cy="1381.69" r="5.9"/><circle cx="1784.37" cy="1366.38" r="5.9"/><circle cx="1810.83" cy="1350.41" r="5.9"/></g>
<polyline points="1546.17,1467.72 1572.63,1451.42 1599.1,1435.13 1625.57,1418.84 1652.03,1402.55 1678.5,1386.25 1704.97,1369.96 1731.43,1353.67 1757.9,1337.38 1784.37,1321.08 1810.83,1304.79" fill="none" stroke="#ff0060" stroke-width="3.3"/>
<g fill="#ff0060"><circle cx="1546.17" cy="1467.72" r="5.9"/><circle cx="1572.63" cy="1451.42" r="5.9"/><circle cx="1599.1" cy="1435.13" r="5.9"/><circle cx="1625.57" cy="1418.84" r="5.9"/><circle cx="1652.03" cy="1402.55" r="5.9"/><circle cx="1678.5" cy="1386.25" r="5.9"/><circle cx="1704.97" cy="1369.96" r="5.9"/><circle cx="1731.43" cy="1353.67" r="5.9"/><circle cx="1757.9" cy="1337.38" r="5.9"/><circle cx="1784.37" cy="1321.08" r="5.9"/><circle cx="1810.83" cy="1304.79" r="5.9"/></g>
<rect x="1519.7" y="1288.5" width="317.6" height="211.8" fill="none" stroke="#000" stroke-width="3.4"/>
<g font-family='"Liberation Sans", sans-serif' font-size="29.5" text-anchor="middle" fill="#000">
<text x="1497.7" y="1510.8">0</text>
<text x="1497.7" y="1478.22">1</text>
<text x="1497.7" y="1445.63">2</text>
<text x="1497.7" y="1413.05">3</text>
<text x="1497.7" y="1380.46">4</text>
<text x="1497.7" y="1347.88">5</text>
<text x="1497.7" y="1315.29">6</text>
<text x="1546.17" y="1534.8">0</text>
<text x="1599.1" y="1534.8">0.1</text>
<text x="1652.03" y="1534.8">0.2</text>
<text x="1704.97" y="1534.8">0.3</text>
<text x="1757.9" y="1534.8">0.4</text>
<text x="1810.83" y="1534.8">0.5</text>
</g>
<text x="1678.5" y="1578.3" font-family='"Liberation Sans", sans-serif' font-size="29" text-anchor="middle" fill="#000"><tspan font-family="Liberation Serif, serif">&#916;</tspan><tspan font-style="italic">k</tspan><tspan dy="8" font-size="20">1</tspan><tspan dy="-8" font-size="29"> (N/m)</tspan></text>
<text transform="translate(1475.5 1394.4) rotate(-90)" font-family='"Liberation Sans", sans-serif' font-size="29" text-anchor="middle" fill="#000">AR<tspan dy="6" font-size="18.5">1</tspan></text>
<g font-family='"Liberation Sans", sans-serif' font-size="24.9" fill="#000">
<text x="1554.8" y="1323.3"><tspan font-style="italic">S</tspan><tspan dy="6" font-size="15">1</tspan><tspan dy="-6" font-size="24.9"> = 10/ (N/m)</tspan></text>
<text x="1543.8" y="1351.2"><tspan font-style="italic">S</tspan><tspan dy="6" font-size="15">2</tspan><tspan dy="-6" font-size="24.9"> = 7.92/ (N/m)</tspan></text>
<text x="1799.8" y="1447.8" text-anchor="end"><tspan font-style="italic" font-family="Liberation Serif, serif" font-size="26">&#963;</tspan><tspan dy="7" font-size="15">1</tspan><tspan dy="-7" font-size="24.9"> = 0</tspan></text>
<text x="1816.8" y="1477.8" text-anchor="end"><tspan font-style="italic" font-family="Liberation Serif, serif" font-size="26">&#963;</tspan><tspan dy="7" font-size="15">2</tspan><tspan dy="-7" font-size="24.9"> = 1.12</tspan></text>
</g>
</g>
<g>
<text x="240.1" y="1638.7" font-family='"Liberation Sans", sans-serif' font-size="29" text-anchor="middle" color="#c00000"><tspan font-family="Liberation Serif, serif">&#916;</tspan> <tspan font-style="italic">k</tspan><tspan dy="8" font-size="20">2</tspan><tspan dy="-8" font-size="29"> = 0.40 (N/m)</tspan></text>
<g stroke="#000" stroke-width="3.4" stroke-linecap="round">
<line x1="82" y1="1854.01" x2="95.3" y2="1854.01"/>
<line x1="82" y1="1821.42" x2="95.3" y2="1821.42"/>
<line x1="82" y1="1788.84" x2="95.3" y2="1788.84"/>
<line x1="82" y1="1756.25" x2="95.3" y2="1756.25"/>
<line x1="82" y1="1723.67" x2="95.3" y2="1723.67"/>
<line x1="82" y1="1691.08" x2="95.3" y2="1691.08"/>
<line x1="108.47" y1="1870.3" x2="108.47" y2="1859.3"/>
<line x1="161.4" y1="1870.3" x2="161.4" y2="1859.3"/>
<line x1="214.33" y1="1870.3" x2="214.33" y2="1859.3"/>
<line x1="267.27" y1="1870.3" x2="267.27" y2="1859.3"/>
<line x1="320.2" y1="1870.3" x2="320.2" y2="1859.3"/>
<line x1="373.13" y1="1870.3" x2="373.13" y2="1859.3"/>
</g>
<polyline points="108.47,1848.79 134.93,1842.28 161.4,1833.81 187.87,1823.7 214.33,1811.32 240.8,1798.29 267.27,1783.62 293.73,1769.61 320.2,1754.62 346.67,1739.31 373.13,1723.67" fill="none" stroke="#0000ff" stroke-width="3.3"/>
<g fill="#0000ff"><circle cx="108.47" cy="1848.79" r="5.9"/><circle cx="134.93" cy="1842.28" r="5.9"/><circle cx="161.4" cy="1833.81" r="5.9"/><circle cx="187.87" cy="1823.7" r="5.9"/><circle cx="214.33" cy="1811.32" r="5.9"/><circle cx="240.8" cy="1798.29" r="5.9"/><circle cx="267.27" cy="1783.62" r="5.9"/><circle cx="293.73" cy="1769.61" r="5.9"/><circle cx="320.2" cy="1754.62" r="5.9"/><circle cx="346.67" cy="1739.31" r="5.9"/><circle cx="373.13" cy="1723.67" r="5.9"/></g>
<polyline points="108.47,1837.72 134.93,1821.42 161.4,1805.13 187.87,1788.84 214.33,1772.55 240.8,1756.25 267.27,1739.96 293.73,1723.67 320.2,1707.38 346.67,1691.08 373.13,1674.79" fill="none" stroke="#ff0060" stroke-width="3.3"/>
<g fill="#ff0060"><circle cx="108.47" cy="1837.72" r="5.9"/><circle cx="134.93" cy="1821.42" r="5.9"/><circle cx="161.4" cy="1805.13" r="5.9"/><circle cx="187.87" cy="1788.84" r="5.9"/><circle cx="214.33" cy="1772.55" r="5.9"/><circle cx="240.8" cy="1756.25" r="5.9"/><circle cx="267.27" cy="1739.96" r="5.9"/><circle cx="293.73" cy="1723.67" r="5.9"/><circle cx="320.2" cy="1707.38" r="5.9"/><circle cx="346.67" cy="1691.08" r="5.9"/><circle cx="373.13" cy="1674.79" r="5.9"/></g>
<rect x="82" y="1658.5" width="317.6" height="211.8" fill="none" stroke="#000" stroke-width="3.4"/>
<g font-family='"Liberation Sans", sans-serif' font-size="29.5" text-anchor="middle" fill="#000">
<text x="60" y="1880.8">0</text>
<text x="60" y="1848.22">1</text>
<text x="60" y="1815.63">2</text>
<text x="60" y="1783.05">3</text>
<text x="60" y="1750.46">4</text>
<text x="60" y="1717.88">5</text>
<text x="60" y="1685.29">6</text>
<text x="108.47" y="1904.8">0</text>
<text x="161.4" y="1904.8">0.1</text>
<text x="214.33" y="1904.8">0.2</text>
<text x="267.27" y="1904.8">0.3</text>
<text x="320.2" y="1904.8">0.4</text>
<text x="373.13" y="1904.8">0.5</text>
</g>
<text x="239.6" y="1948.3" font-family='"Liberation Sans", sans-serif' font-size="29" text-anchor="middle" fill="#000"><tspan font-family="Liberation Serif, serif">&#916;</tspan><tspan font-style="italic">k</tspan><tspan dy="8" font-size="20">1</tspan><tspan dy="-8" font-size="29"> (N/m)</tspan></text>
<text transform="translate(24 1764.4) rotate(-90)" font-family='"Liberation Sans", sans-serif' font-size="29" text-anchor="middle" fill="#000">AR<tspan dy="6" font-size="18.5">1</tspan></text>
<g font-family='"Liberation Sans", sans-serif' font-size="24.9" fill="#000">
<text x="115.8" y="1684.8"><tspan font-style="italic">S</tspan><tspan dy="6" font-size="15">1</tspan><tspan dy="-6" font-size="24.9"> = 10/ (N/m)</tspan></text>
<text x="104.8" y="1712.2"><tspan font-style="italic">S</tspan><tspan dy="6" font-size="15">2</tspan><tspan dy="-6" font-size="24.9"> = 7.86/ (N/m)</tspan></text>
<text x="360.3" y="1817.8" text-anchor="end"><tspan font-style="italic" font-family="Liberation Serif, serif" font-size="26">&#963;</tspan><tspan dy="7" font-size="15">1</tspan><tspan dy="-7" font-size="24.9"> = 0</tspan></text>
<text x="377.7" y="1847.8" text-anchor="end"><tspan font-style="italic" font-family="Liberation Serif, serif" font-size="26">&#963;</tspan><tspan dy="7" font-size="15">2</tspan><tspan dy="-7" font-size="24.9"> = 1.16</tspan></text>
</g>
</g>
<g>
<text x="705.4" y="1638.7" font-family='"Liberation Sans", sans-serif' font-size="29" text-anchor="middle" color="#c00000"><tspan font-family="Liberation Serif, serif">&#916;</tspan> <tspan font-style="italic">k</tspan><tspan dy="8" font-size="20">2</tspan><tspan dy="-8" font-size="29"> = 0.45 (N/m)</tspan></text>
<g stroke="#000" stroke-width="3.4" stroke-linecap="round">
<line x1="562" y1="1854.01" x2="575.3" y2="1854.01"/>
<line x1="562" y1="1821.42" x2="575.3" y2="1821.42"/>
<line x1="562" y1="1788.84" x2="575.3" y2="1788.84"/>
<line x1="562" y1="1756.25" x2="575.3" y2="1756.25"/>
<line x1="562" y1="1723.67" x2="575.3" y2="1723.67"/>
<line x1="562" y1="1691.08" x2="575.3" y2="1691.08"/>
<line x1="588.47" y1="1870.3" x2="588.47" y2="1859.3"/>
<line x1="641.4" y1="1870.3" x2="641.4" y2="1859.3"/>
<line x1="694.33" y1="1870.3" x2="694.33" y2="1859.3"/>
<line x1="747.27" y1="1870.3" x2="747.27" y2="1859.3"/>
<line x1="800.2" y1="1870.3" x2="800.2" y2="1859.3"/>
<line x1="853.13" y1="1870.3" x2="853.13" y2="1859.3"/>
</g>
<polyline points="588.47,1848.79 614.93,1842.28 641.4,1834.13 667.87,1824.36 694.33,1812.3 720.8,1798.61 747.27,1784.6 773.73,1770.27 800.2,1755.28 826.67,1740.29 853.13,1724.65" fill="none" stroke="#0000ff" stroke-width="3.3"/>
<g fill="#0000ff"><circle cx="588.47" cy="1848.79" r="5.9"/><circle cx="614.93" cy="1842.28" r="5.9"/><circle cx="641.4" cy="1834.13" r="5.9"/><circle cx="667.87" cy="1824.36" r="5.9"/><circle cx="694.33" cy="1812.3" r="5.9"/><circle cx="720.8" cy="1798.61" r="5.9"/><circle cx="747.27" cy="1784.6" r="5.9"/><circle cx="773.73" cy="1770.27" r="5.9"/><circle cx="800.2" cy="1755.28" r="5.9"/><circle cx="826.67" cy="1740.29" r="5.9"/><circle cx="853.13" cy="1724.65" r="5.9"/></g>
<polyline points="588.47,1837.72 614.93,1821.42 641.4,1805.13 667.87,1788.84 694.33,1772.55 720.8,1756.25 747.27,1739.96 773.73,1723.67 800.2,1707.38 826.67,1691.08 853.13,1674.79" fill="none" stroke="#ff0060" stroke-width="3.3"/>
<g fill="#ff0060"><circle cx="588.47" cy="1837.72" r="5.9"/><circle cx="614.93" cy="1821.42" r="5.9"/><circle cx="641.4" cy="1805.13" r="5.9"/><circle cx="667.87" cy="1788.84" r="5.9"/><circle cx="694.33" cy="1772.55" r="5.9"/><circle cx="720.8" cy="1756.25" r="5.9"/><circle cx="747.27" cy="1739.96" r="5.9"/><circle cx="773.73" cy="1723.67" r="5.9"/><circle cx="800.2" cy="1707.38" r="5.9"/><circle cx="826.67" cy="1691.08" r="5.9"/><circle cx="853.13" cy="1674.79" r="5.9"/></g>
<rect x="562" y="1658.5" width="317.6" height="211.8" fill="none" stroke="#000" stroke-width="3.4"/>
<g font-family='"Liberation Sans", sans-serif' font-size="29.5" text-anchor="middle" fill="#000">
<text x="540" y="1880.8">0</text>
<text x="540" y="1848.22">1</text>
<text x="540" y="1815.63">2</text>
<text x="540" y="1783.05">3</text>
<text x="540" y="1750.46">4</text>
<text x="540" y="1717.88">5</text>
<text x="540" y="1685.29">6</text>
<text x="588.47" y="1904.8">0</text>
<text x="641.4" y="1904.8">0.1</text>
<text x="694.33" y="1904.8">0.2</text>
<text x="747.27" y="1904.8">0.3</text>
<text x="800.2" y="1904.8">0.4</text>
<text x="853.13" y="1904.8">0.5</text>
</g>
<text x="724.1" y="1948.3" font-family='"Liberation Sans", sans-serif' font-size="29" text-anchor="middle" fill="#000"><tspan font-family="Liberation Serif, serif">&#916;</tspan><tspan font-style="italic">k</tspan><tspan dy="8" font-size="20">1</tspan><tspan dy="-8" font-size="29"> (N/m)</tspan></text>
<text transform="translate(504.5 1764.4) rotate(-90)" font-family='"Liberation Sans", sans-serif' font-size="29" text-anchor="middle" fill="#000">AR<tspan dy="6" font-size="18.5">1</tspan></text>
<g font-family='"Liberation Sans", sans-serif' font-size="24.9" fill="#000">
<text x="594.8" y="1684.8"><tspan font-style="italic">S</tspan><tspan dy="6" font-size="15">1</tspan><tspan dy="-6" font-size="24.9"> = 10/ (N/m)</tspan></text>
<text x="583.8" y="1712.2"><tspan font-style="italic">S</tspan><tspan dy="6" font-size="15">2</tspan><tspan dy="-6" font-size="24.9"> = 7.80/ (N/m)</tspan></text>
<text x="828.3" y="1822.8" text-anchor="end"><tspan font-style="italic" font-family="Liberation Serif, serif" font-size="26">&#963;</tspan><tspan dy="7" font-size="15">1</tspan><tspan dy="-7" font-size="24.9"> = 0</tspan></text>
<text x="846.8" y="1854.3" text-anchor="end"><tspan font-style="italic" font-family="Liberation Serif, serif" font-size="26">&#963;</tspan><tspan dy="7" font-size="15">2</tspan><tspan dy="-7" font-size="24.9"> = 1.19</tspan></text>
</g>
</g>
<g>
<text x="1203.6" y="1638.7" font-family='"Liberation Sans", sans-serif' font-size="29" text-anchor="middle" color="#c00000"><tspan font-family="Liberation Serif, serif">&#916;</tspan> <tspan font-style="italic">k</tspan><tspan dy="8" font-size="20">2</tspan><tspan dy="-8" font-size="29"> = 0.50 (N/m)</tspan></text>
<g stroke="#000" stroke-width="3.4" stroke-linecap="round">
<line x1="1041" y1="1854.01" x2="1054.3" y2="1854.01"/>
<line x1="1041" y1="1821.42" x2="1054.3" y2="1821.42"/>
<line x1="1041" y1="1788.84" x2="1054.3" y2="1788.84"/>
<line x1="1041" y1="1756.25" x2="1054.3" y2="1756.25"/>
<line x1="1041" y1="1723.67" x2="1054.3" y2="1723.67"/>
<line x1="1041" y1="1691.08" x2="1054.3" y2="1691.08"/>
<line x1="1067.47" y1="1870.3" x2="1067.47" y2="1859.3"/>
<line x1="1120.4" y1="1870.3" x2="1120.4" y2="1859.3"/>
<line x1="1173.33" y1="1870.3" x2="1173.33" y2="1859.3"/>
<line x1="1226.27" y1="1870.3" x2="1226.27" y2="1859.3"/>
<line x1="1279.2" y1="1870.3" x2="1279.2" y2="1859.3"/>
<line x1="1332.13" y1="1870.3" x2="1332.13" y2="1859.3"/>
</g>
<polyline points="1067.47,1849.12 1093.93,1842.6 1120.4,1834.78 1146.87,1824.68 1173.33,1812.63 1199.8,1799.59 1226.27,1785.58 1252.73,1771.24 1279.2,1756.25 1305.67,1741.26 1332.13,1725.62" fill="none" stroke="#0000ff" stroke-width="3.3"/>
<g fill="#0000ff"><circle cx="1067.47" cy="1849.12" r="5.9"/><circle cx="1093.93" cy="1842.6" r="5.9"/><circle cx="1120.4" cy="1834.78" r="5.9"/><circle cx="1146.87" cy="1824.68" r="5.9"/><circle cx="1173.33" cy="1812.63" r="5.9"/><circle cx="1199.8" cy="1799.59" r="5.9"/><circle cx="1226.27" cy="1785.58" r="5.9"/><circle cx="1252.73" cy="1771.24" r="5.9"/><circle cx="1279.2" cy="1756.25" r="5.9"/><circle cx="1305.67" cy="1741.26" r="5.9"/><circle cx="1332.13" cy="1725.62" r="5.9"/></g>
<polyline points="1067.47,1837.72 1093.93,1821.42 1120.4,1805.13 1146.87,1788.84 1173.33,1772.55 1199.8,1756.25 1226.27,1739.96 1252.73,1723.67 1279.2,1707.38 1305.67,1691.08 1332.13,1674.79" fill="none" stroke="#ff0060" stroke-width="3.3"/>
<g fill="#ff0060"><circle cx="1067.47" cy="1837.72" r="5.9"/><circle cx="1093.93" cy="1821.42" r="5.9"/><circle cx="1120.4" cy="1805.13" r="5.9"/><circle cx="1146.87" cy="1788.84" r="5.9"/><circle cx="1173.33" cy="1772.55" r="5.9"/><circle cx="1199.8" cy="1756.25" r="5.9"/><circle cx="1226.27" cy="1739.96" r="5.9"/><circle cx="1252.73" cy="1723.67" r="5.9"/><circle cx="1279.2" cy="1707.38" r="5.9"/><circle cx="1305.67" cy="1691.08" r="5.9"/><circle cx="1332.13" cy="1674.79" r="5.9"/></g>
<rect x="1041" y="1658.5" width="317.6" height="211.8" fill="none" stroke="#000" stroke-width="3.4"/>
<g font-family='"Liberation Sans", sans-serif' font-size="29.5" text-anchor="middle" fill="#000">
<text x="1019" y="1880.8">0</text>
<text x="1019" y="1848.22">1</text>
<text x="1019" y="1815.63">2</text>
<text x="1019" y="1783.05">3</text>
<text x="1019" y="1750.46">4</text>
<text x="1019" y="1717.88">5</text>
<text x="1019" y="1685.29">6</text>
<text x="1067.47" y="1904.8">0</text>
<text x="1120.4" y="1904.8">0.1</text>
<text x="1173.33" y="1904.8">0.2</text>
<text x="1226.27" y="1904.8">0.3</text>
<text x="1279.2" y="1904.8">0.4</text>
<text x="1332.13" y="1904.8">0.5</text>
</g>
<text x="1201.8" y="1948.3" font-family='"Liberation Sans", sans-serif' font-size="29" text-anchor="middle" fill="#000"><tspan font-family="Liberation Serif, serif">&#916;</tspan><tspan font-style="italic">k</tspan><tspan dy="8" font-size="20">1</tspan><tspan dy="-8" font-size="29"> (N/m)</tspan></text>
<text transform="translate(999.5 1764.4) rotate(-90)" font-family='"Liberation Sans", sans-serif' font-size="29" text-anchor="middle" fill="#000">AR<tspan dy="6" font-size="18.5">1</tspan></text>
<g font-family='"Liberation Sans", sans-serif' font-size="24.9" fill="#000">
<text x="1072.3" y="1687.3"><tspan font-style="italic">S</tspan><tspan dy="6" font-size="15">1</tspan><tspan dy="-6" font-size="24.9"> = 10/ (N/m)</tspan></text>
<text x="1061.3" y="1714.7"><tspan font-style="italic">S</tspan><tspan dy="6" font-size="15">2</tspan><tspan dy="-6" font-size="24.9"> = 7.72/ (N/m)</tspan></text>
<text x="1273.4" y="1822.8" text-anchor="end"><tspan font-style="italic" font-family="Liberation Serif, serif" font-size="26">&#963;</tspan><tspan dy="7" font-size="15">1</tspan><tspan dy="-7" font-size="24.9"> = 0</tspan></text>
<text x="1291.8" y="1853.3" text-anchor="end"><tspan font-style="italic" font-family="Liberation Serif, serif" font-size="26">&#963;</tspan><tspan dy="7" font-size="15">2</tspan><tspan dy="-7" font-size="24.9"> = 1.22</tspan></text>
</g>
</g>
<text x="1688.5" y="1727.2" font-family='"Liberation Sans", sans-serif' font-size="29.2" text-anchor="middle" color="#0000ff">Cross-sensitivity<tspan dy="7" font-size="19.5">1</tspan><tspan dy="-7" font-size="29.2"> = 25.8%</tspan></text>
<text x="1684.8" y="1772" font-family='"Liberation Sans", sans-serif' font-size="29.2" text-anchor="middle" color="#ff0060">Cross-sensitivity<tspan dy="7" font-size="19.5">2</tspan><tspan dy="-7" font-size="29.2"> = 0</tspan></text>
</svg></body></html>
